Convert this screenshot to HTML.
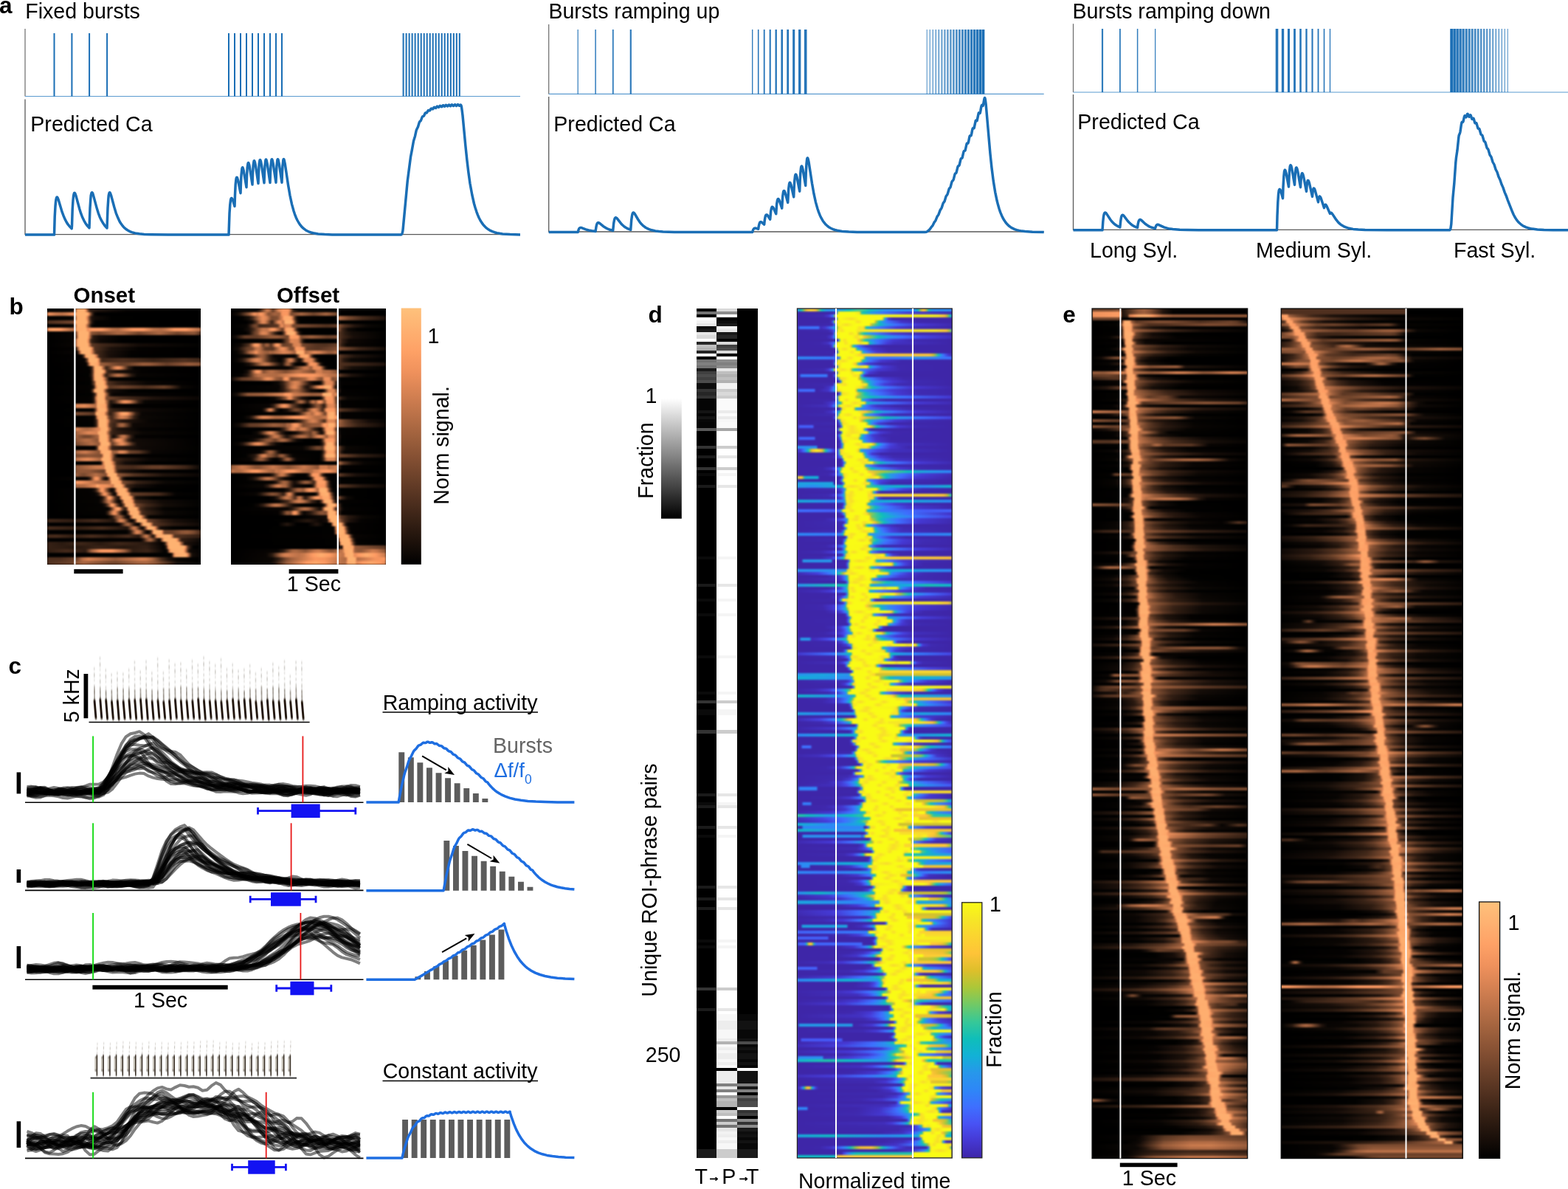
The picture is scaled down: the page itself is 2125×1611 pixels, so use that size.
<!DOCTYPE html>
<html lang="en"><head><meta charset="utf-8"><title>Figure</title>
<style>
html,body{margin:0;padding:0;background:#fff;}
body{width:2125px;height:1611px;overflow:hidden;position:relative;}
svg{display:block;position:absolute;left:0;top:0;font-family:'Liberation Sans', Arial, Helvetica, sans-serif;}
.hm{position:absolute;overflow:hidden;}
.hm i,.hm b{display:block;height:var(--h);background:linear-gradient(90deg,var(--g));}
.hm b{height:calc(var(--h) + 1px);}
</style></head><body>
<div class="hm" style="left:64px;top:418px;width:208px;height:347px;background:#000000"><div style="filter:blur(1.1px);--h:5px"><i style="--g:#000 0px,#060402 34px,#1f130c 36px,#3d2518 36px,#6a4029 38px,#e48a58 40px,#feac6d 40px,#feb271 50px,#fe9a62 52px,#5e3924 56px,#2d1b11 58px,#1c110b 68px,#040201 108px,#000 208px"></i><i style="--g:#f6955f 0px,#c97a4e 12px,#bf744a 20px,#cd7c4f 26px,#f8965f 36px,#af6a43 38px,#ef915c 38px,#feb070 40px,#feb271 54px,#fb9861 56px,#5b3723 60px,#291910 62px,#090503 64px,#000 68px,#000 208px"></i><b style="--g:#000 0px,#060402 34px,#22140d 36px,#412719 36px,#6f432b 38px,#ea8e5a 40px,#feae6f 40px,#feb271 52px,#fea66a 52px,#ec8f5b 54px,#50301f 58px,#22140d 60px,#120b07 64px,#010100 88px,#000 208px"></b><i style="--g:#4c2e1d 0px,#72452c 36px,#824f32 36px,#fe9a62 38px,#feb271 40px,#feb271 54px,#fea066 54px,#683f28 58px,#311e13 60px,#130b07 62px,#020201 66px,#000 208px"></i><i style="--g:#000 0px,#080503 34px,#24160e 36px,#452a1b 36px,#f1925d 40px,#feb171 40px,#feb070 52px,#fe9d64 52px,#44291a 58px,#100a06 60px,#020201 64px,#000 208px"></i><i style="--g:#f5945e 0px,#fea267 8px,#fe9a62 18px,#bc7248 32px,#b36c45 38px,#feaa6c 40px,#feb271 52px,#fe9e65 54px,#e88d5a 54px,#fe9a62 60px,#fe9b63 74px,#be7349 88px,#b36c45 96px,#fe9a62 116px,#fe9a62 130px,#c0754a 144px,#b36c45 154px,#c0754a 160px,#fc9961 172px,#fe9a62 188px,#b36c45 208px"></i><i style="--g:#000 0px,#080503 36px,#26170e 38px,#462a1b 38px,#f2935e 42px,#feb271 42px,#feb171 56px,#fe9d64 56px,#885335 60px,#71442b 70px,#a96641 96px,#a2623f 104px,#71442b 124px,#a96641 152px,#71442b 176px,#8c5536 198px,#7e4c31 202px,#50301f 208px"></i><i style="--g:#000 0px,#080503 36px,#26170e 38px,#462a1b 38px,#76472d 40px,#f2935e 42px,#feb171 42px,#feb271 54px,#fe9c63 56px,#623b26 60px,#2c1a11 62px,#140c08 70px,#010100 100px,#000 208px"></i><b style="--g:#000 0px,#060402 34px,#23150d 36px,#42281a 38px,#72452c 38px,#ec8f5b 40px,#feb070 42px,#feb271 54px,#fea469 54px,#ea8e5a 56px,#6e432a 58px,#342014 60px,#20140d 64px,#0e0805 72px,#000 102px,#000 208px"></b><i style="--g:#000 0px,#080503 34px,#23150d 36px,#44291a 38px,#72452c 38px,#ee905c 40px,#feb070 42px,#feb271 54px,#fea86b 56px,#f1925d 56px,#76472d 60px,#5a3723 60px,#402719 74px,#130b07 124px,#020201 208px"></i><i style="--g:#000 0px,#040201 36px,#2d1b11 40px,#523220 40px,#fe9d64 44px,#feb271 44px,#feb271 58px,#fe9a62 60px,#5e3924 64px,#523220 64px,#1c110b 86px,#040201 124px,#000 208px"></i><i style="--g:#000 0px,#080503 40px,#24160e 42px,#452a1b 42px,#f1925d 46px,#feb171 46px,#feb271 58px,#f8965f 60px,#7a4a2f 64px,#472b1b 66px,#1c110b 82px,#040201 114px,#000 208px"></i><i style="--g:#000 0px,#040201 46px,#160e09 48px,#2e1c12 48px,#543320 50px,#fe9e65 52px,#feb271 54px,#feb271 64px,#fea468 64px,#e78c59 66px,#4c2e1d 70px,#3b2417 70px,#180e09 84px,#020201 114px,#000 208px"></i><b style="--g:#000 0px,#050302 50px,#1a100a 52px,#342014 52px,#5d3824 54px,#d48152 56px,#fea469 56px,#feb271 58px,#feb271 68px,#fea167 68px,#e48a58 70px,#694028 72px,#4a2d1c 74px,#3e2618 74px,#4e2f1e 102px,#342014 144px,#4e2f1e 186px,#3b2417 208px"></b><i style="--g:#000 0px,#040201 52px,#130b07 54px,#28180f 54px,#7d4c30 56px,#f99760 58px,#feb271 60px,#fea86b 68px,#f1925d 70px,#9c5f3c 72px,#663e28 100px,#6e432a 110px,#9a5d3b 130px,#955a39 140px,#663e28 162px,#985c3b 192px,#875234 208px"></i><i style="--g:#000 0px,#020201 56px,#23150d 60px,#73462c 62px,#ef915c 64px,#feb070 64px,#feb271 72px,#fea469 74px,#ea8e5a 74px,#6e432a 78px,#342014 80px,#331f14 80px,#5a3723 84px,#dc8555 92px,#f5945e 96px,#d88353 100px,#311e13 110px,#050302 118px,#000 208px"></i><i style="--g:#000 0px,#040201 58px,#311e13 60px,#593622 62px,#fea167 64px,#feb271 66px,#feb271 76px,#fea066 76px,#e28957 78px,#694028 80px,#382216 82px,#1a100a 96px,#040201 128px,#000 208px"></i><i style="--g:#000 0px,#020201 56px,#24160e 60px,#74462d 62px,#f0915d 64px,#feb171 64px,#feb171 72px,#fe9d64 74px,#633c26 78px,#2e1c12 80px,#a56440 92px,#bc7248 96px,#a56440 102px,#2a1a10 114px,#080503 122px,#000 208px"></i><i style="--g:#000 0px,#040201 58px,#160e09 60px,#2e1c12 60px,#553321 62px,#fe9e65 64px,#feb271 66px,#feb271 74px,#fe9c63 76px,#42281a 82px,#100a06 84px,#020201 88px,#000 208px"></i><b style="--g:#000 0px,#020201 58px,#100a06 60px,#44291a 62px,#73462c 64px,#ef915c 66px,#feb070 66px,#feb271 76px,#fe9a62 78px,#5e3924 82px,#50301f 82px,#2d1b11 96px,#090503 136px,#000 208px"></b><i style="--g:#000 0px,#050302 60px,#1a100a 62px,#342014 64px,#5e3924 64px,#d68152 66px,#fea569 68px,#feb271 68px,#feb271 78px,#f5945e 80px,#5a3723 84px,#6f432b 102px,#4a2d1c 132px,#683f28 158px,#543320 166px,#0b0704 182px,#000 208px"></i><i style="--g:#000 0px,#040201 58px,#180e09 60px,#301d12 60px,#563421 62px,#fe9f65 64px,#feb271 66px,#feb271 70px,#feb271 76px,#fe9f65 76px,#653d27 80px,#2e1c12 82px,#1e120c 84px,#130b07 88px,#010100 114px,#000 208px"></i><i style="--g:#000 0px,#020201 60px,#27170f 64px,#7c4b30 66px,#f8965f 68px,#feb271 68px,#feb271 76px,#fea66a 78px,#ec8f5b 78px,#71442b 82px,#362115 84px,#150d08 86px,#090503 90px,#000 208px"></i><i style="--g:#000 0px,#050302 60px,#190f0a 62px,#321e13 64px,#5a3723 64px,#d17e50 66px,#fea267 68px,#feb271 68px,#feb271 76px,#f4945e 78px,#78492e 80px,#72452c 82px,#4e2f1e 100px,#1e120c 144px,#090503 208px"></i><i style="--g:#000 0px,#040201 60px,#150d08 62px,#2c1a11 64px,#50301f 64px,#fe9b63 68px,#feb271 68px,#feb271 78px,#fea066 78px,#472b1b 84px,#20140d 86px,#1e120c 86px,#452a1b 92px,#e08856 102px,#f6955f 106px,#d78253 112px,#321e13 124px,#080503 132px,#000 208px"></i><b style="--g:#000 0px,#000 38px,#d38051 38px,#e58b58 50px,#b46d45 66px,#fea569 68px,#feb271 68px,#fea86b 78px,#f1925d 80px,#76472d 82px,#3a2316 84px,#160e09 86px,#040201 90px,#000 208px"></b><i style="--g:#000 0px,#020201 62px,#24160e 64px,#74462d 66px,#f0915d 68px,#feb171 70px,#feb171 78px,#fe9d64 80px,#452a1b 84px,#342014 88px,#0f0906 128px,#010100 208px"></i><i style="--g:#000 0px,#000 38px,#79492f 38px,#5d3824 62px,#653d27 64px,#de8756 66px,#fea96b 66px,#feb271 68px,#fea96b 78px,#f2935e 78px,#77482e 82px,#3a2316 84px,#301d12 86px,#593622 90px,#fe9b63 100px,#fea96b 104px,#fe9e65 108px,#eb8e5b 110px,#804d31 116px,#372115 120px,#0a0604 128px,#000 208px"></i><i style="--g:#000 0px,#020201 62px,#0f0906 64px,#402719 66px,#6d422a 66px,#e88d5a 68px,#fead6e 70px,#feb271 80px,#fe9f65 80px,#663e28 84px,#4c2e1d 86px,#462a1b 88px,#c8794d 98px,#d88353 102px,#ba7148 108px,#331f14 118px,#0c0805 126px,#000 208px"></i><i style="--g:#000 0px,#040201 62px,#291910 66px,#7e4c31 68px,#fa9760 70px,#feb271 70px,#feb271 80px,#fea76a 80px,#ef915c 82px,#553321 86px,#27170f 102px,#080503 138px,#000 208px"></i><b style="--g:#000 0px,#020201 62px,#27170f 66px,#79492f 68px,#f5945e 70px,#feb271 70px,#feb271 80px,#fea267 80px,#e58b58 82px,#6a4029 84px,#4f301e 86px,#3b2417 90px,#3c2417 92px,#9b5e3c 98px,#a96641 102px,#975c3a 104px,#372115 112px,#0e0805 116px,#000 208px"></b><i style="--g:#000 0px,#000 38px,#e08856 38px,#b56e46 48px,#ab6842 54px,#b97047 60px,#ee905c 72px,#fead6e 72px,#feb271 80px,#fea86b 82px,#f1925d 82px,#76472d 86px,#3a2316 88px,#23150d 96px,#050302 126px,#000 208px"></i><i style="--g:#000 0px,#000 38px,#9f603d 38px,#e18857 56px,#d88353 68px,#eb8e5b 68px,#feaf6f 70px,#feb171 80px,#fe9d64 80px,#452a1b 86px,#321e13 90px,#0b0704 130px,#010100 208px"></i><i style="--g:#000 0px,#000 38px,#a56440 38px,#74462d 50px,#76472d 58px,#a56440 68px,#b56e46 70px,#f4945e 70px,#feb271 72px,#feb271 80px,#f4945e 82px,#563421 86px,#26170e 88px,#130b07 90px,#3b2417 94px,#b46d45 100px,#c8794d 104px,#b26b44 106px,#2c1a11 114px,#050302 120px,#000 208px"></i><i style="--g:#000 0px,#000 38px,#8a5335 38px,#b46d45 52px,#af6a43 58px,#8c5536 68px,#b26b44 70px,#f0915d 70px,#feb171 72px,#feb271 80px,#fe9a62 82px,#5e3924 86px,#623b26 86px,#ee905c 94px,#f99760 98px,#d88353 102px,#3a2316 110px,#120b07 116px,#000 208px"></i><i style="--g:#000 0px,#000 38px,#77482e 38px,#b36c45 60px,#955a39 70px,#be7349 72px,#fc9961 72px,#feb271 74px,#feb271 82px,#feb070 84px,#fe9b63 84px,#603a25 88px,#e08856 98px,#ec8f5b 102px,#c6784c 106px,#402719 116px,#120b07 122px,#000 208px"></i><b style="--g:#000 0px,#040201 64px,#190f0a 66px,#321e13 66px,#593622 68px,#fea167 70px,#feb271 72px,#fea86b 82px,#f0915d 82px,#74462d 86px,#382216 88px,#331f14 90px,#0f0906 128px,#010100 208px"></b><i style="--g:#000 0px,#000 38px,#a1623e 38px,#c2754b 46px,#cc7b4f 52px,#8a5335 70px,#a4633f 72px,#e48a58 72px,#feab6d 74px,#feb271 84px,#feb070 84px,#fe9d64 86px,#b06b44 88px,#9c5f3c 88px,#a2623f 94px,#dc8555 98px,#e28957 102px,#c97a4e 106px,#6e432a 112px,#5a3723 124px,#0a0604 142px,#000 208px"></i><i style="--g:#000 0px,#000 38px,#79492f 38px,#8e5637 56px,#7d4c30 74px,#9a5d3b 74px,#da8454 76px,#fea76a 76px,#feb271 78px,#feb271 84px,#f1925d 86px,#76472d 90px,#382216 92px,#160e09 94px,#040201 96px,#000 208px"></i><i style="--g:#000 0px,#000 38px,#b56e46 38px,#dc8555 48px,#e78c59 54px,#dd8655 60px,#ab6842 72px,#fea066 74px,#feb271 76px,#feb271 84px,#fe9c63 86px,#623b26 90px,#4c2e1d 92px,#2d1b11 104px,#0a0604 138px,#000 208px"></i><i style="--g:#000 0px,#010100 70px,#0b0704 72px,#331f14 74px,#5b3723 74px,#d27f51 76px,#fea468 78px,#feb271 78px,#feb271 86px,#f8965f 88px,#7a4a2f 92px,#3c2417 94px,#140c08 106px,#010100 134px,#000 208px"></i><b style="--g:#000 0px,#000 38px,#8c5536 38px,#ca7b4e 66px,#d17e50 76px,#db8454 78px,#fea76b 78px,#feb271 80px,#feb271 88px,#f5945e 90px,#583522 94px,#543320 94px,#462a1b 116px,#653d27 142px,#663e28 154px,#3c2417 188px,#0a0604 208px"></b><i style="--g:#000 0px,#000 38px,#824f32 38px,#905737 44px,#8e5637 58px,#643d27 76px,#74462d 78px,#f0915d 80px,#feb171 80px,#feb070 90px,#fe9d64 90px,#623b26 94px,#2d1b11 96px,#1d110b 102px,#040201 130px,#000 208px"></i><i style="--g:#000 0px,#000 38px,#a2623f 38px,#7e4c31 46px,#78492e 50px,#b86f47 66px,#7e4c31 80px,#fa9760 82px,#feb271 84px,#feb271 92px,#fea468 94px,#e78c59 94px,#925938 96px,#8b5436 98px,#523220 118px,#1f130c 158px,#090503 208px"></i><i style="--g:#000 0px,#080503 54px,#2e1c12 58px,#e58b58 64px,#fb9861 66px,#f99760 68px,#d78253 70px,#362115 76px,#0a0604 80px,#2a1a10 82px,#814e32 84px,#fc9961 86px,#feb271 86px,#feb271 96px,#fea066 96px,#683f28 100px,#301d12 102px,#130b07 104px,#020201 108px,#000 208px"></i><i style="--g:#000 0px,#000 38px,#fa9760 38px,#f1925d 46px,#ac6843 70px,#a66540 80px,#b36c45 86px,#f1925d 86px,#feb171 88px,#feaa6c 98px,#f4945e 100px,#78492e 102px,#362115 122px,#0c0805 160px,#020201 208px"></i><i style="--g:#000 0px,#000 38px,#aa6742 38px,#b26b44 50px,#ec8f5b 66px,#fe9b63 66px,#fea96b 68px,#f8965f 72px,#ef915c 80px,#c7784d 90px,#f0915d 90px,#feb171 92px,#feb171 100px,#fe9e65 102px,#643d27 106px,#382216 108px,#190f0a 120px,#040201 150px,#000 208px"></i><b style="--g:#000 0px,#050302 60px,#180e09 64px,#342014 66px,#643d27 68px,#e08856 72px,#fe9f65 74px,#f6955f 76px,#342014 84px,#180e09 86px,#060402 88px,#20140d 90px,#3e2618 92px,#6c4129 92px,#e68b59 94px,#fead6e 96px,#feb271 106px,#fea167 106px,#e48a58 108px,#6a4029 110px,#321e13 112px,#130b07 114px,#020201 118px,#000 208px"></b><i style="--g:#000 0px,#050302 64px,#160e09 68px,#321e13 70px,#e88d5a 76px,#fb9861 78px,#e88d5a 80px,#321e13 88px,#0e0805 90px,#100a06 92px,#42281a 94px,#71442b 94px,#eb8e5b 96px,#feaf6f 98px,#feb171 108px,#fe9d64 110px,#633c26 114px,#44291a 152px,#050302 174px,#010100 208px"></i><i style="--g:#000 0px,#050302 70px,#160e09 74px,#331f14 76px,#633c26 78px,#e18857 82px,#fa9760 82px,#fea267 84px,#fe9b63 86px,#50301f 92px,#1a100a 96px,#190f0a 96px,#321e13 98px,#5b3723 98px,#d17e50 100px,#fea368 102px,#feb271 102px,#feb271 112px,#feb070 112px,#fe9b63 114px,#42281a 118px,#1d110b 120px,#160e09 122px,#010100 144px,#000 208px"></i><i style="--g:#000 0px,#060402 70px,#24160e 74px,#bd7249 82px,#d27f51 84px,#b86f47 86px,#412719 92px,#20140d 94px,#060402 98px,#22140d 100px,#412719 100px,#6f432b 102px,#ea8e5a 104px,#feae6f 104px,#feaa6c 114px,#f4945e 116px,#78492e 118px,#44291a 120px,#372115 126px,#120b07 154px,#020201 208px"></i><i style="--g:#000 0px,#050302 74px,#180e09 78px,#342014 80px,#643d27 82px,#e08856 86px,#f99760 86px,#fea066 88px,#f99760 90px,#4b2d1d 96px,#0f0906 100px,#3e2618 102px,#6c4129 104px,#e68b59 106px,#fead6e 106px,#feb271 116px,#fea066 116px,#e28957 118px,#8d5636 120px,#77482e 120px,#412719 134px,#150d08 158px,#020201 208px"></i><i style="--g:#000 0px,#060402 82px,#1a100a 84px,#3b2417 86px,#eb8e5b 92px,#fe9c63 94px,#fea66a 96px,#f99760 98px,#603a25 102px,#24160e 106px,#74462d 108px,#f0915d 110px,#feb070 110px,#feb271 120px,#fea469 122px,#e88d5a 122px,#4e2f1e 126px,#291910 134px,#060402 158px,#000 208px"></i><b style="--g:#000 0px,#050302 78px,#150d08 80px,#301d12 82px,#ca7b4e 88px,#ef915c 90px,#f2935e 92px,#ef915c 92px,#cc7b4f 94px,#5b3723 98px,#311e13 100px,#150d08 102px,#060402 106px,#1f130c 108px,#3d2518 108px,#694028 110px,#e48a58 112px,#feab6d 112px,#feb271 122px,#fea267 124px,#e58b58 124px,#4b2d1d 128px,#362115 134px,#0c0805 160px,#010100 208px"></b><i style="--g:#000 0px,#010100 82px,#1f130c 88px,#865134 94px,#a0613e 98px,#955a39 100px,#1f130c 106px,#0a0604 110px,#2d1b11 112px,#543320 112px,#fe9d64 116px,#feb271 116px,#feb271 126px,#fea468 128px,#e78c59 128px,#6d422a 132px,#331f14 134px,#060402 138px,#000 208px"></i><i style="--g:#3e2618 0px,#2c1a11 36px,#42281a 66px,#23150d 90px,#402719 92px,#d38051 98px,#e58b58 100px,#bf744a 104px,#2d1b11 110px,#050302 114px,#140c08 116px,#2a1a10 118px,#824f32 120px,#fe9a62 122px,#feb271 122px,#feb271 132px,#feb070 132px,#fe9b63 134px,#845033 136px,#6d422a 138px,#553321 144px,#321e13 156px,#180e09 174px,#060402 208px"></i><i style="--g:#000 0px,#040201 96px,#22140d 100px,#8e5637 106px,#aa6742 110px,#8d5636 112px,#22140d 118px,#060402 122px,#0a0604 124px,#301d12 126px,#563421 126px,#fea066 130px,#feb271 130px,#feb271 138px,#f99760 140px,#5b3723 144px,#583522 144px,#291910 170px,#0e0805 208px"></i><i style="--g:#452a1b 0px,#301d12 42px,#472b1b 74px,#1f130c 108px,#3b2417 110px,#bf744a 116px,#cd7c4f 118px,#bc7248 120px,#27170f 126px,#0b0704 130px,#130b07 130px,#4b2d1d 132px,#fa9760 136px,#feb271 136px,#feb271 144px,#fe9a62 146px,#5f3a25 150px,#2c1a11 152px,#140c08 154px,#020201 170px,#000 208px"></i><b style="--g:#000 0px,#020201 108px,#1e120c 112px,#3e2618 114px,#d17e50 120px,#e28957 122px,#be7349 126px,#2d1b11 132px,#050302 136px,#140c08 138px,#291910 140px,#7e4c31 142px,#fa9760 144px,#feb271 144px,#feb271 154px,#f5945e 156px,#79492f 158px,#6a4029 160px,#683f28 170px,#8b5436 182px,#925938 190px,#7c4b30 198px,#472b1b 208px"></b><i style="--g:#44291a 0px,#472b1b 12px,#301d12 34px,#482c1c 60px,#301d12 86px,#462a1b 110px,#28180f 124px,#3e2618 126px,#b06b44 132px,#ca7b4e 134px,#b56e46 136px,#321e13 142px,#1f130c 144px,#694028 146px,#e48a58 148px,#feab6d 150px,#feb271 166px,#fe9f65 168px,#653d27 172px,#563421 172px,#301d12 208px"></i><i style="--g:#000 0px,#040201 126px,#23150d 130px,#945939 136px,#b06b44 140px,#925938 142px,#301d12 148px,#0a0604 152px,#301d12 154px,#583522 154px,#fea066 158px,#feb271 158px,#feb271 174px,#fc9961 176px,#5d3824 180px,#301d12 182px,#0c0805 208px"></i><i style="--g:#372115 0px,#2a1a10 20px,#3e2618 46px,#2a1a10 72px,#3e2618 98px,#28180f 136px,#040201 156px,#2d1b11 160px,#523220 160px,#fe9d64 164px,#feb271 164px,#feb271 178px,#fea066 180px,#e18857 180px,#663e28 184px,#1e120c 186px,#040201 208px"></i><i style="--g:#372115 0px,#26170e 38px,#382216 68px,#26170e 104px,#331f14 134px,#040201 158px,#140c08 160px,#4b2d1d 162px,#fa9760 164px,#feb271 166px,#feb271 186px,#fea066 186px,#e18857 188px,#663e28 190px,#1e120c 194px,#020201 198px,#000 208px"></i><i style="--g:#301d12 0px,#44291a 26px,#2d1b11 52px,#a2623f 60px,#ee905c 70px,#fe9a62 74px,#fe9a62 88px,#a86541 104px,#301d12 116px,#3b2417 136px,#020201 160px,#0f0906 162px,#3e2618 164px,#6c4129 164px,#e68b59 166px,#fead6e 168px,#feb271 184px,#fe9b63 186px,#603a25 190px,#1c110b 192px,#0f0906 194px,#040201 208px"></i><b style="--g:#000 0px,#020201 166px,#0e0805 168px,#3c2417 170px,#683f28 170px,#e28957 172px,#feab6d 174px,#feb271 188px,#fea86b 188px,#f1925d 190px,#543320 194px,#160e09 196px,#040201 208px"></b><i style="--g:#50301f 0px,#50301f 18px,#6d422a 40px,#bd7249 48px,#da8454 56px,#985c3b 92px,#d78253 128px,#d17e50 134px,#af6a43 142px,#4f301e 154px,#1c110b 164px,#060402 176px,#000 208px"></i><i style="--g:#4e2f1e 0px,#6a4029 34px,#965b3a 42px,#a86541 50px,#76472d 84px,#73462c 94px,#a2623f 122px,#a96641 134px,#905737 146px,#160e09 176px,#010100 208px"></i></div></div><div class="hm" style="left:313.4px;top:418px;width:209.2px;height:347px;background:#000000"><div style="filter:blur(1.1px);--h:5px"><i style="--g:#000 1px,#090503 34px,#301d12 39px,#c0754a 48px,#c6784c 50px,#b66f46 52px,#623b26 57px,#de8756 65px,#f99760 71px,#f6955f 78px,#ca7b4e 80px,#5e3924 83px,#2a1a10 85px,#060402 92px,#000 209px"></i><i style="--g:#040201 1px,#100a06 8px,#291910 13px,#965b3a 25px,#ec8f5b 31px,#f0915d 33px,#da8454 36px,#fa9760 39px,#fe9a62 41px,#ec8f5b 44px,#814e32 51px,#a2623f 59px,#9a5d3b 66px,#f8965f 69px,#fc9961 76px,#ec8f5b 78px,#875234 81px,#76472d 82px,#a56440 95px,#6e432a 112px,#a56440 129px,#6e432a 144px,#000 145px,#000 209px"></i><b style="--g:#000 1px,#010100 15px,#160e09 24px,#3e2618 29px,#c2754b 38px,#ef915c 43px,#dc8555 48px,#78492e 55px,#804d31 63px,#e18857 70px,#fe9e65 71px,#feaa6c 73px,#feaa6c 80px,#fe9e65 82px,#e58b58 83px,#6c4129 86px,#301d12 88px,#100a06 90px,#040201 92px,#000 144px,#b97047 145px,#7a4a2f 159px,#482c1c 177px,#1d110b 209px"></b><i style="--g:#000 1px,#000 21px,#120b07 29px,#4a2d1c 34px,#d27f51 41px,#e88d5a 44px,#d17e50 47px,#4a2d1c 54px,#362115 56px,#ce7d50 63px,#eb8e5b 65px,#e78c59 68px,#b36c45 71px,#fea469 73px,#feb271 74px,#feb271 82px,#fc9961 84px,#76472d 87px,#331f14 89px,#120b07 91px,#020201 94px,#000 209px"></i><i style="--g:#000 1px,#080503 21px,#190f0a 24px,#633c26 30px,#76472d 33px,#6e432a 35px,#3d2518 39px,#583522 63px,#6c4129 64px,#d17e50 67px,#ee905c 69px,#e88d5a 70px,#ba7148 72px,#dc8555 74px,#da8454 80px,#b46d45 82px,#74462d 84px,#74462d 96px,#4f301e 130px,#5d3824 144px,#8c5536 145px,#50301f 154px,#22140d 168px,#0c0805 184px,#020201 209px"></i><i style="--g:#000 1px,#020201 16px,#150d08 24px,#3e2618 30px,#b86f47 41px,#c8794d 44px,#c2754b 49px,#fe9c63 55px,#f99760 59px,#623b26 70px,#77482e 71px,#fc9961 74px,#feaa6c 76px,#feaa6c 82px,#fb9861 84px,#603a25 88px,#291910 90px,#0e0805 92px,#010100 95px,#000 144px,#a86541 145px,#653d27 148px,#3c2417 151px,#0f0906 159px,#010100 172px,#000 209px"></i><i style="--g:#000 1px,#010100 20px,#120b07 25px,#683f28 32px,#824f32 36px,#c7784d 40px,#e08856 43px,#d78253 48px,#311e13 60px,#130b07 64px,#090503 68px,#382216 71px,#875234 73px,#eb8e5b 75px,#fea569 76px,#feb171 77px,#feb271 85px,#fe9d64 87px,#5e3924 91px,#27170f 93px,#0c0805 95px,#010100 98px,#000 144px,#5b3723 145px,#2a1a10 155px,#150d08 164px,#010100 209px"></i><i style="--g:#050302 1px,#160e09 7px,#653d27 19px,#663e28 35px,#975c3a 54px,#955a39 63px,#6e432a 77px,#eb8e5b 80px,#fe9f65 81px,#fe9a62 91px,#7d4c30 95px,#9a5d3b 109px,#683f28 131px,#77482e 144px,#5f3a25 145px,#3c2417 152px,#180e09 166px,#010100 209px"></i><b style="--g:#000 1px,#060402 67px,#190f0a 70px,#71442b 76px,#814e32 78px,#c7784d 80px,#e08856 82px,#d88353 91px,#c6784c 92px,#311e13 97px,#120b07 99px,#020201 102px,#000 144px,#74462d 145px,#321e13 151px,#0e0805 160px,#000 209px"></b><i style="--g:#010100 1px,#0e0805 13px,#4e2f1e 24px,#6c4129 26px,#e58b58 31px,#fe9e65 33px,#fb9861 37px,#633c26 44px,#955a39 47px,#9e5f3d 49px,#8c5536 51px,#553321 54px,#5b3723 55px,#fb9861 61px,#fe9d64 64px,#de8756 66px,#6a4029 70px,#663e28 71px,#77482e 82px,#d68152 85px,#de8756 92px,#cd7c4f 94px,#73462c 97px,#553321 116px,#51311f 128px,#683f28 144px,#875234 145px,#482c1c 148px,#311e13 150px,#0b0704 157px,#000 209px"></i><i style="--g:#020201 1px,#140c08 10px,#683f28 22px,#79492f 29px,#b36c45 33px,#c97a4e 36px,#b86f47 40px,#603a25 46px,#553321 57px,#e48a58 67px,#f1925d 71px,#cd7c4f 75px,#7c4b30 80px,#7e4c31 84px,#834f33 85px,#da8454 87px,#f8965f 88px,#fe9d64 89px,#f5945e 98px,#6a4029 102px,#623b26 104px,#553321 118px,#7e4c31 144px,#8a5335 145px,#3b2417 174px,#150d08 209px"></i><i style="--g:#010100 1px,#060402 8px,#23150d 15px,#4e2f1e 19px,#a56440 25px,#d27f51 31px,#fa9760 34px,#c6784c 38px,#9f603d 46px,#965b3a 51px,#ae6943 53px,#a1623e 56px,#e18857 71px,#d27f51 78px,#a2623f 87px,#fea066 89px,#feb271 90px,#feae6f 98px,#fa9760 99px,#af6a43 101px,#e18857 113px,#d27f51 120px,#985c3b 132px,#985c3b 137px,#b56e46 144px,#000 145px,#000 209px"></i><i style="--g:#000 1px,#0c0805 25px,#2e1c12 30px,#834f33 37px,#9e5f3d 41px,#8d5636 45px,#2e1c12 53px,#090503 59px,#050302 86px,#150d08 88px,#44291a 90px,#f1925d 94px,#fea468 95px,#feaa6c 103px,#fb9861 105px,#603a25 109px,#291910 111px,#0e0805 113px,#010100 116px,#000 144px,#633c26 145px,#402719 154px,#20140d 168px,#050302 209px"></i><b style="--g:#010100 1px,#080503 8px,#22140d 15px,#42281a 19px,#c6784c 30px,#e18857 35px,#ca7b4e 40px,#523220 50px,#26170e 55px,#020201 66px,#0c0805 69px,#2c1a11 72px,#bc7248 78px,#da8454 81px,#c2754b 83px,#311e13 89px,#0b0704 93px,#3e2618 96px,#d17e50 100px,#e68b59 101px,#eb8e5b 109px,#cd7c4f 111px,#311e13 116px,#120b07 118px,#020201 121px,#000 144px,#643d27 145px,#28180f 153px,#0c0805 163px,#000 209px"></b><i style="--g:#000 1px,#020201 16px,#180e09 25px,#3a2316 30px,#b06b44 41px,#c97a4e 46px,#b86f47 51px,#42281a 62px,#180e09 68px,#20140d 70px,#8a5335 75px,#a1623e 77px,#955a39 79px,#3d2518 83px,#120b07 86px,#020201 89px,#020201 97px,#0a0604 99px,#26170e 101px,#603a25 103px,#db8454 106px,#fb9861 108px,#f5945e 115px,#c2754b 117px,#382216 121px,#150d08 123px,#020201 126px,#000 144px,#51311f 145px,#1e120c 209px"></i><i style="--g:#000 1px,#090503 77px,#291910 84px,#c4774c 99px,#c7784d 103px,#945939 109px,#d38051 111px,#ec8f5b 113px,#e68b59 121px,#d27f51 122px,#342014 127px,#130b07 129px,#020201 132px,#000 144px,#5e3924 145px,#301d12 154px,#160e09 164px,#010100 209px"></i><i style="--g:#000 1px,#010100 16px,#120b07 22px,#402719 26px,#e18857 33px,#fe9b63 35px,#f4945e 39px,#814e32 44px,#a96641 50px,#b97047 55px,#7c4b30 74px,#b66f46 89px,#ba7148 93px,#7c4b30 111px,#804d31 113px,#cd7c4f 116px,#d27f51 122px,#b46d45 125px,#b36c45 133px,#814e32 144px,#000 145px,#000 209px"></i><i style="--g:#000 1px,#050302 14px,#1d110b 21px,#402719 25px,#9b5e3c 32px,#be7349 37px,#af6a43 62px,#fe9a62 94px,#fb9861 112px,#bd7249 134px,#af6a43 144px,#663e28 145px,#402719 152px,#1e120c 163px,#080503 183px,#010100 209px"></i><i style="--g:#0f0906 1px,#633c26 15px,#76472d 28px,#9b5e3c 40px,#e28957 47px,#ef915c 50px,#dd8655 55px,#9a5d3b 61px,#834f33 68px,#905737 69px,#f8965f 73px,#fe9a62 76px,#d88353 78px,#814e32 81px,#78492e 82px,#ab6842 101px,#d88353 105px,#eb8e5b 109px,#da8454 113px,#905737 119px,#7e4c31 123px,#8e5637 124px,#d88353 126px,#ec8f5b 127px,#f0915d 132px,#e48a58 134px,#875234 137px,#7d4c30 138px,#905737 144px,#020201 145px,#000 209px"></i><b style="--g:#000 1px,#000 53px,#0c0805 64px,#362115 71px,#bd7249 82px,#dd8655 87px,#c97a4e 92px,#27170f 106px,#0a0604 112px,#020201 119px,#0c0805 121px,#2a1a10 123px,#d48152 128px,#e78c59 130px,#e18857 137px,#b26b44 139px,#331f14 143px,#130b07 145px,#050302 147px,#000 209px"></b><i style="--g:#000 1px,#090503 65px,#372115 72px,#cd7c4f 82px,#e58b58 86px,#de8756 88px,#be7349 91px,#342014 100px,#1c110b 104px,#4e2f1e 109px,#d48152 117px,#fe9a62 121px,#fe9a62 125px,#fead6e 127px,#fead6e 134px,#fc9961 136px,#3d2518 141px,#0c0805 144px,#000 153px,#000 209px"></i><i style="--g:#000 1px,#060402 63px,#27170f 71px,#975c3a 83px,#a96641 87px,#985c3b 92px,#331f14 103px,#130b07 108px,#010100 122px,#0e0805 125px,#2e1c12 127px,#b66f46 131px,#e08856 133px,#e08856 139px,#d48152 140px,#2c1a11 146px,#040201 150px,#000 209px"></i><i style="--g:#050302 1px,#160e09 8px,#8c5536 23px,#9c5f3c 43px,#de8756 70px,#fe9b63 74px,#fe9c63 80px,#d17e50 85px,#965b3a 110px,#a2623f 122px,#b36c45 123px,#e68b59 124px,#fea469 125px,#feb271 126px,#feb271 135px,#fea76b 136px,#f2935e 137px,#d07e50 138px,#dc8555 144px,#090503 145px,#050302 146px,#000 209px"></i><i style="--g:#000 1px,#000 49px,#0b0704 59px,#3e2618 67px,#8d5636 74px,#e48a58 78px,#ef915c 80px,#db8454 82px,#955a39 85px,#452a1b 92px,#1c110b 97px,#010100 107px,#010100 119px,#090503 121px,#23150d 123px,#5d3824 125px,#dc8555 128px,#f99760 129px,#fe9d64 130px,#f99760 138px,#331f14 144px,#593622 145px,#24160e 151px,#0c0805 158px,#000 209px"></i><i style="--g:#000 1px,#040201 80px,#20140d 85px,#975c3a 92px,#ab6842 95px,#9c5f3c 97px,#26170e 104px,#b06b44 110px,#be7349 112px,#955a39 115px,#e58b58 118px,#fe9a62 120px,#e78c59 123px,#7d4c30 127px,#ea8e5a 130px,#fa9760 131px,#f8965f 138px,#ca7b4e 140px,#5e3924 143px,#291910 145px,#040201 149px,#000 209px"></i><b style="--g:#000 1px,#0a0604 52px,#321e13 58px,#dc8555 68px,#fc9961 72px,#e18857 76px,#663e28 83px,#1a100a 93px,#060402 99px,#020201 103px,#130b07 107px,#8b5436 117px,#804d31 120px,#291910 126px,#3a2316 127px,#c7784d 131px,#dd8655 132px,#e48a58 138px,#d78253 140px,#291910 146px,#040201 150px,#000 209px"></b><i style="--g:#000 1px,#060402 42px,#331f14 46px,#c3764b 51px,#e58b58 53px,#d88353 55px,#4a2d1c 60px,#20140d 62px,#010100 67px,#180e09 76px,#694028 85px,#78492e 88px,#6e432a 92px,#2a1a10 100px,#553321 103px,#c6784c 109px,#e88d5a 113px,#c7784d 117px,#462a1b 124px,#4b2d1d 125px,#ef915c 129px,#fe9d64 130px,#fc9961 140px,#c2754b 142px,#74462d 144px,#653d27 145px,#472b1b 153px,#190f0a 177px,#060402 209px"></i><i style="--g:#000 1px,#060402 86px,#27170f 92px,#c0754a 103px,#cd7c4f 106px,#ae6943 110px,#e88d5a 115px,#f2935e 117px,#d68152 121px,#653d27 128px,#f5945e 131px,#feaa6c 132px,#feb271 139px,#f99760 141px,#79492f 144px,#372115 146px,#140c08 148px,#050302 150px,#000 209px"></i><i style="--g:#000 1px,#020201 17px,#150d08 25px,#412719 30px,#be7349 38px,#e28957 43px,#e08856 48px,#b46d45 60px,#b46d45 68px,#fe9a62 86px,#fe9a62 98px,#b97047 114px,#b06b44 119px,#c4774c 129px,#d07e50 130px,#fe9a62 131px,#feb271 133px,#feb271 139px,#fb9861 141px,#fe9d64 144px,#51311f 145px,#20140d 147px,#050302 150px,#000 209px"></i><i style="--g:#000 1px,#060402 84px,#362115 94px,#c0754a 106px,#da8454 111px,#c3764b 116px,#44291a 127px,#d27f51 131px,#e58b58 133px,#e08856 140px,#b26b44 142px,#6e432a 144px,#af6a43 145px,#6e432a 154px,#382216 167px,#130b07 188px,#060402 209px"></i><b style="--g:#010100 1px,#120b07 11px,#623b26 26px,#694028 37px,#9c5f3c 58px,#885335 73px,#ae6943 77px,#ac6843 80px,#e18857 83px,#fe9a62 86px,#f6955f 90px,#78492e 98px,#985c3b 110px,#985c3b 121px,#fe9a62 126px,#fea267 128px,#fe9a62 130px,#f0915d 131px,#feab6d 132px,#feb271 133px,#fead6e 140px,#fb9861 141px,#74462d 144px,#a2623f 145px,#663e28 157px,#3a2316 172px,#0e0805 209px"></b><i style="--g:#000 1px,#000 58px,#0b0704 66px,#3b2417 72px,#d17e50 81px,#ea8e5a 85px,#b26b44 91px,#d27f51 95px,#cd7c4f 100px,#311e13 114px,#0b0704 121px,#1e120c 123px,#362115 124px,#fe9b63 129px,#fea76b 131px,#fe9e65 138px,#ea8e5a 139px,#72452c 142px,#331f14 144px,#130b07 146px,#050302 148px,#000 209px"></i><i style="--g:#000 1px,#000 26px,#0c0805 35px,#301d12 40px,#cd7c4f 50px,#e88d5a 54px,#ca7b4e 58px,#2e1c12 68px,#090503 74px,#010100 80px,#130b07 88px,#71442b 101px,#74462d 104px,#633c26 108px,#985c3b 111px,#a1623e 113px,#8d5636 115px,#2d1b11 120px,#0e0805 123px,#2e1c12 125px,#4e2f1e 126px,#de8756 129px,#fea267 130px,#feb271 131px,#feb271 138px,#fe9a62 140px,#7c4b30 143px,#382216 145px,#140c08 147px,#050302 149px,#000 209px"></i><i style="--g:#000 1px,#0a0604 43px,#372115 49px,#b36c45 57px,#cc7b4f 60px,#b97047 64px,#3e2618 72px,#1c110b 76px,#472b1b 82px,#a2623f 91px,#b86f47 95px,#af6a43 100px,#683f28 108px,#bf744a 115px,#dc8555 119px,#d48152 124px,#955a39 130px,#ce7d50 132px,#e48a58 134px,#e28957 139px,#d68152 140px,#291910 146px,#040201 150px,#000 209px"></i><i style="--g:#000 1px,#010100 21px,#0f0906 30px,#2d1b11 36px,#8c5536 48px,#945939 53px,#683f28 60px,#a66540 67px,#af6a43 70px,#9e5f3d 74px,#321e13 84px,#0e0805 90px,#000 100px,#020201 119px,#0b0704 121px,#291910 123px,#694028 125px,#ea8e5a 128px,#fe9d64 129px,#fe9b63 139px,#e88d5a 140px,#372115 145px,#140c08 147px,#020201 150px,#000 209px"></i><i style="--g:#010100 1px,#090503 10px,#22140d 16px,#5a3723 22px,#db8454 32px,#f1925d 37px,#d38051 42px,#3c2417 54px,#0c0805 62px,#000 73px,#010100 120px,#22140d 124px,#5f3a25 126px,#ef915c 129px,#fea76b 130px,#feb271 131px,#feb271 137px,#fe9c63 139px,#3e2618 144px,#160e09 146px,#020201 149px,#000 209px"></i><b style="--g:#000 1px,#080503 97px,#20140d 104px,#6d422a 116px,#6f432b 120px,#5f3a25 124px,#74462d 125px,#da8454 127px,#fe9f65 128px,#feb271 130px,#feb271 139px,#fea468 140px,#ea8e5a 141px,#683f28 144px,#a1623e 145px,#643d27 147px,#311e13 150px,#0b0704 156px,#000 209px"></b><i style="--g:#000 1px,#050302 39px,#26170e 44px,#955a39 51px,#a66540 54px,#8c5536 57px,#1f130c 64px,#040201 69px,#020201 121px,#0f0906 123px,#321e13 125px,#50301f 126px,#fa9760 130px,#fea469 131px,#fea66a 138px,#f8965f 140px,#5f3a25 144px,#ac6843 145px,#7a4a2f 146px,#3d2518 148px,#1f130c 150px,#080503 154px,#000 209px"></i><i style="--g:#000 1px,#020201 20px,#24160e 32px,#462a1b 35px,#bd7249 41px,#dc8555 44px,#cd7c4f 47px,#985c3b 50px,#8d5636 54px,#4e2f1e 62px,#905737 67px,#965b3a 70px,#26170e 79px,#060402 84px,#020201 120px,#0c0805 122px,#2e1c12 124px,#79492f 126px,#e28957 128px,#fea76a 129px,#feb271 130px,#feb271 139px,#fead6e 140px,#f99760 141px,#6f432b 144px,#79492f 145px,#342014 174px,#140c08 209px"></i><i style="--g:#000 1px,#090503 26px,#20140d 30px,#875234 38px,#965b3a 41px,#865134 44px,#180e09 53px,#040201 58px,#040201 63px,#24160e 68px,#8c5536 74px,#a2623f 77px,#945939 79px,#2c1a11 85px,#090503 89px,#010100 120px,#1f130c 124px,#523220 126px,#c0754a 129px,#e18857 131px,#db8454 140px,#ac6843 142px,#321e13 146px,#050302 150px,#000 209px"></i><i style="--g:#000 1px,#000 144px,#ba7148 145px,#5d3824 153px,#23150d 164px,#080503 181px,#010100 209px"></i><b style="--g:#975c3a 1px,#cc7b4f 15px,#c3764b 20px,#8b5436 33px,#885335 38px,#cc7b4f 57px,#875234 78px,#cc7b4f 99px,#8a5335 118px,#d17e50 121px,#d27f51 130px,#b36c45 132px,#ca7b4e 143px,#c8794d 144px,#7e4c31 145px,#472b1b 146px,#291910 147px,#040201 151px,#000 209px"></b><i style="--g:#c2754b 1px,#af6a43 6px,#af6a43 12px,#fc9961 29px,#fe9a62 36px,#b46d45 52px,#ac6843 58px,#d27f51 62px,#be7349 64px,#fa9760 76px,#fe9a62 84px,#bc7248 98px,#ac6843 106px,#b66f46 110px,#d88353 113px,#da8454 117px,#f8965f 123px,#fe9a62 132px,#c3764b 144px,#000 145px,#000 209px"></i><i style="--g:#000 1px,#090503 52px,#2a1a10 57px,#ba7148 66px,#ce7d50 69px,#bc7248 72px,#462a1b 79px,#190f0a 83px,#020201 89px,#020201 101px,#0c0805 103px,#2a1a10 105px,#6a4029 107px,#e58b58 110px,#fb9861 111px,#fe9a62 112px,#fc9961 118px,#d07e50 120px,#603a25 123px,#2a1a10 125px,#040201 129px,#000 144px,#653d27 145px,#372115 156px,#190f0a 170px,#020201 209px"></i><i style="--g:#000 1px,#020201 20px,#150d08 29px,#3b2417 35px,#b36c45 46px,#c6784c 50px,#b26b44 55px,#3a2316 66px,#0f0906 73px,#010100 82px,#020201 105px,#0e0805 107px,#2e1c12 109px,#4b2d1d 110px,#ef915c 114px,#fe9d64 115px,#fe9b63 123px,#ea8e5a 124px,#3b2417 129px,#150d08 131px,#020201 134px,#000 209px"></i><i style="--g:#000 1px,#060402 56px,#23150d 61px,#925938 69px,#a96641 72px,#925938 76px,#3a2316 82px,#130b07 86px,#2a1a10 90px,#824f32 98px,#965b3a 101px,#8d5636 105px,#42281a 112px,#452a1b 113px,#f0915d 117px,#fea167 118px,#fe9e65 127px,#eb8e5b 128px,#362115 133px,#130b07 135px,#050302 137px,#000 209px"></i><i style="--g:#000 1px,#0b0704 44px,#311e13 50px,#c2754b 61px,#d68152 65px,#b36c45 70px,#af6a43 74px,#311e13 82px,#0e0805 86px,#010100 107px,#100a06 110px,#362115 112px,#d27f51 116px,#fe9a62 118px,#f99760 127px,#c4774c 129px,#563421 132px,#24160e 134px,#020201 138px,#000 144px,#5d3824 145px,#24160e 176px,#0e0805 209px"></i><b style="--g:#000 1px,#050302 71px,#23150d 78px,#a0613e 90px,#a96641 93px,#975c3a 98px,#e08856 103px,#fe9b63 107px,#f4945e 112px,#a96641 118px,#de8756 119px,#fea468 120px,#feb271 121px,#feb271 128px,#feb070 129px,#fe9b63 130px,#78492e 133px,#362115 135px,#130b07 137px,#020201 140px,#000 209px"></b><i style="--g:#000 1px,#090503 34px,#1f130c 40px,#71442b 51px,#875234 56px,#78492e 62px,#331f14 71px,#3d2518 72px,#d07e50 77px,#ea8e5a 79px,#d68152 81px,#2d1b11 87px,#0a0604 90px,#010100 112px,#090503 114px,#23150d 116px,#623b26 118px,#f4945e 121px,#feaa6c 122px,#feb271 131px,#fe9a62 133px,#7d4c30 136px,#3a2316 138px,#140c08 140px,#020201 143px,#000 209px"></i><i style="--g:#000 1px,#000 50px,#0b0704 58px,#2d1b11 63px,#ba7148 73px,#ca7b4e 76px,#b46d45 80px,#4b2d1d 87px,#b36c45 91px,#c7784d 93px,#c0754a 94px,#b26b44 95px,#462a1b 99px,#27170f 101px,#593622 105px,#e58b58 113px,#fe9d64 116px,#fa9760 120px,#e28957 122px,#fea066 124px,#fea76b 125px,#fea76b 132px,#f5945e 134px,#3d2518 139px,#160e09 141px,#060402 143px,#040201 144px,#a86541 145px,#72452c 147px,#402719 150px,#100a06 157px,#010100 169px,#000 209px"></i><i style="--g:#000 1px,#000 53px,#0b0704 65px,#44291a 77px,#b97047 87px,#d78253 92px,#be7349 98px,#362115 110px,#090503 119px,#3a2316 122px,#8c5536 124px,#f6955f 126px,#feb070 127px,#feb271 135px,#fe9f65 136px,#7d4c30 139px,#382216 141px,#140c08 143px,#050302 145px,#000 209px"></i><i style="--g:#000 1px,#010100 29px,#0e0805 37px,#321e13 44px,#b36c45 57px,#c4774c 61px,#b46d45 66px,#342014 79px,#120b07 85px,#010100 95px,#010100 122px,#120b07 125px,#3a2316 127px,#5d3824 128px,#ec8f5b 131px,#fea76a 132px,#feb271 133px,#feb271 140px,#fe9a62 142px,#804d31 145px,#3b2417 147px,#150d08 149px,#020201 152px,#000 209px"></i><i style="--g:#000 1px,#090503 76px,#28180f 83px,#a1623e 95px,#ba7148 100px,#a86541 105px,#3e2618 115px,#150d08 121px,#3a2316 123px,#8c5536 125px,#f8965f 127px,#feb070 128px,#feb271 136px,#fead6e 137px,#f8965f 138px,#6d422a 141px,#1c110b 144px,#875234 145px,#5e3924 146px,#2d1b11 148px,#0f0906 151px,#050302 154px,#000 209px"></i><b style="--g:#000 1px,#040201 64px,#26170e 69px,#925938 76px,#814e32 81px,#dd8655 84px,#fe9a62 86px,#f4945e 88px,#e08856 89px,#342014 95px,#090503 99px,#27170f 108px,#804d31 120px,#8b5436 124px,#7c4b30 129px,#9c5f3c 130px,#fe9f65 132px,#feb271 133px,#feae6f 141px,#f8965f 142px,#6e432a 145px,#2e1c12 147px,#0f0906 149px,#040201 151px,#000 209px"></b><i style="--g:#000 1px,#000 93px,#120b07 129px,#150d08 130px,#c7784d 131px,#fb9861 132px,#feb271 133px,#feb271 143px,#fea76b 144px,#ea8e5a 145px,#623b26 148px,#291910 159px,#0b0704 177px,#010100 209px"></i><i style="--g:#000 1px,#010100 80px,#26170e 104px,#090503 122px,#180e09 131px,#a56440 132px,#ab6842 133px,#fe9d64 135px,#feb271 136px,#feb271 144px,#fea167 145px,#834f33 148px,#42281a 154px,#1e120c 161px,#050302 176px,#000 209px"></i><i style="--g:#000 1px,#000 64px,#24160e 76px,#000 89px,#000 104px,#22140d 116px,#010100 127px,#020201 133px,#0f0906 136px,#975c3a 137px,#fe9c63 139px,#feb271 140px,#feb271 149px,#fe9d64 150px,#78492e 153px,#342014 155px,#120b07 157px,#050302 159px,#000 209px"></i><i style="--g:#000 1px,#020201 137px,#0e0805 140px,#885335 141px,#f4945e 143px,#feaf6f 144px,#feb271 152px,#fe9d64 153px,#78492e 156px,#342014 158px,#120b07 160px,#050302 162px,#000 209px"></i><b style="--g:#000 1px,#020201 138px,#090503 140px,#623b26 141px,#fc9961 144px,#feb271 145px,#feb070 153px,#fb9861 154px,#4c2e1d 158px,#1d110b 160px,#040201 163px,#000 209px"></b><i style="--g:#000 1px,#040201 141px,#140c08 144px,#b66f46 145px,#ee905c 146px,#feac6d 147px,#feb070 158px,#fe9a62 159px,#4f301e 163px,#1e120c 165px,#090503 167px,#000 209px"></i><i style="--g:#000 1px,#020201 142px,#160e09 146px,#cc7b4f 147px,#fe9b63 148px,#feb271 149px,#feb271 160px,#fe9f65 161px,#7d4c30 164px,#372115 166px,#130b07 168px,#050302 170px,#000 209px"></i><i style="--g:#000 1px,#020201 143px,#150d08 147px,#c0754a 148px,#f6955f 149px,#feb070 150px,#feb271 161px,#fea66a 162px,#e68b59 163px,#885335 165px,#3e2618 167px,#160e09 169px,#060402 171px,#000 209px"></i><i style="--g:#000 1px,#000 144px,#1d110b 145px,#1a100a 151px,#da8454 152px,#fea267 153px,#feb271 154px,#fea96b 165px,#ee905c 166px,#945939 168px,#5d3824 209px"></i><i style="--g:#000 1px,#090503 63px,#2a1a10 71px,#965b3a 81px,#a96641 84px,#ab6842 88px,#8a5335 101px,#c7784d 114px,#d07e50 119px,#8e5637 134px,#8b5436 138px,#ca7b4e 152px,#fea96b 154px,#feb271 164px,#fea267 165px,#e08856 166px,#af6a43 167px,#9b5e3c 168px,#8c5536 172px,#8e5637 177px,#d07e50 192px,#c2754b 198px,#8c5536 209px"></i><b style="--g:#000 1px,#090503 48px,#2a1a10 56px,#b56e46 68px,#d17e50 72px,#d78253 76px,#bd7249 92px,#ca7b4e 99px,#fe9b63 111px,#fead6e 122px,#fe9b63 134px,#ca7b4e 146px,#be7349 153px,#e88d5a 154px,#feaa6c 155px,#feb271 165px,#ee905c 167px,#e88d5a 168px,#fe9a62 173px,#fead6e 184px,#fe9b63 196px,#c8794d 209px"></b><i style="--g:#000 1px,#0b0704 56px,#2a1a10 64px,#7c4b30 75px,#9f603d 82px,#fa9760 114px,#f5945e 127px,#ab6842 156px,#fe9e65 158px,#feb271 159px,#feb271 168px,#fea267 169px,#b26b44 171px,#f2935e 195px,#fa9760 209px"></i><i style="--g:#000 1px,#0b0704 53px,#24160e 60px,#985c3b 76px,#fe9a62 103px,#fea76a 115px,#fc9961 127px,#c4774c 143px,#b66f46 152px,#b97047 156px,#ec8f5b 157px,#feab6d 158px,#feb271 168px,#fea267 169px,#e08856 170px,#fe9a62 179px,#fea76a 190px,#fe9a62 202px,#e78c59 209px"></i></div></div><div class="hm" style="left:944.2px;top:418px;width:82.5px;height:1151px;background:#000"><div style="--h:4px"><i style="--g:#000 0px 27.5px,#d9d9d9 27.5px 55px,#000 55px 82.5px"></i><i style="--g:#737373 0px 27.5px,#8c8c8c 27.5px 55px,#000 55px 82.5px"></i><i style="--g:#000 0px 27.5px,#fff 27.5px 55px,#000 55px 82.5px"></i><i style="--g:#fff 0px 27.5px,#000 27.5px 55px,#000 55px 82.5px"></i><i style="--g:#f2f2f2 0px 27.5px,#0d0d0d 27.5px 55px,#000 55px 82.5px"></i><i style="--g:#e6e6e6 0px 27.5px,#191919 27.5px 55px,#000 55px 82.5px"></i><i style="--g:#0d0d0d 0px 27.5px,#f2f2f2 27.5px 55px,#000 55px 82.5px"></i><i style="--g:#1a1a1a 0px 27.5px,#e6e6e6 27.5px 55px,#000 55px 82.5px"></i><i style="--g:#e6e6e6 0px 27.5px,#191919 27.5px 55px,#000 55px 82.5px"></i><b style="--g:#d9d9d9 0px 27.5px,#262626 27.5px 55px,#000 55px 82.5px"></b><i style="--g:#fff 0px 27.5px,#000 27.5px 55px,#000 55px 82.5px"></i><i style="--g:#262626 0px 27.5px,#d9d9d9 27.5px 55px,#000 55px 82.5px"></i><i style="--g:#bfbfbf 0px 27.5px,#404040 27.5px 55px,#000 55px 82.5px"></i><i style="--g:#b2b2b2 0px 27.5px,#4d4d4d 27.5px 55px,#000 55px 82.5px"></i><i style="--g:#262626 0px 27.5px,#d9d9d9 27.5px 55px,#000 55px 82.5px"></i><i style="--g:#fff 0px 27.5px,#000 27.5px 55px,#000 55px 82.5px"></i><i style="--g:#000 0px 27.5px,#fff 27.5px 55px,#000 55px 82.5px"></i><i style="--g:#737373 0px 27.5px,#8c8c8c 27.5px 55px,#000 55px 82.5px"></i><i style="--g:#808080 0px 27.5px,#808080 27.5px 55px,#000 55px 82.5px"></i><i style="--g:#737373 0px 27.5px,#8c8c8c 27.5px 55px,#000 55px 82.5px"></i><i style="--g:#1a1a1a 0px 27.5px,#e6e6e6 27.5px 55px,#000 55px 82.5px"></i><i style="--g:#404040 0px 27.5px,#bfbfbf 27.5px 55px,#000 55px 82.5px"></i><i style="--g:#4c4c4c 0px 27.5px,#b2b2b2 27.5px 55px,#000 55px 82.5px"></i><i style="--g:#404040 0px 27.5px,#bfbfbf 27.5px 55px,#000 55px 82.5px"></i><i style="--g:#4c4c4c 0px 27.5px,#b2b2b2 27.5px 55px,#000 55px 82.5px"></i><i style="--g:#0d0d0d 0px 27.5px,#f2f2f2 27.5px 55px,#000 55px 82.5px"></i><i style="--g:#0d0d0d 0px 27.5px,#f2f2f2 27.5px 55px,#000 55px 82.5px"></i><i style="--g:#333 0px 27.5px,#ccc 27.5px 55px,#000 55px 82.5px"></i><b style="--g:#262626 0px 27.5px,#d9d9d9 27.5px 55px,#000 55px 82.5px"></b><i style="--g:#333 0px 27.5px,#ccc 27.5px 55px,#000 55px 82.5px"></i><i style="--g:#050505 0px 27.5px,#fafafa 27.5px 55px,#000 55px 82.5px"></i><i style="--g:#050505 0px 27.5px,#fafafa 27.5px 55px,#000 55px 82.5px"></i><i style="--g:#050505 0px 27.5px,#fafafa 27.5px 55px,#000 55px 82.5px"></i><i style="--g:#050505 0px 27.5px,#fafafa 27.5px 55px,#000 55px 82.5px"></i><i style="--g:#141414 0px 27.5px,#ebebeb 27.5px 55px,#000 55px 82.5px"></i><i style="--g:#050505 0px 27.5px,#fafafa 27.5px 55px,#000 55px 82.5px"></i><i style="--g:#141414 0px 27.5px,#ebebeb 27.5px 55px,#000 55px 82.5px"></i><i style="--g:#080808 0px 27.5px,#f7f7f7 27.5px 55px,#000 55px 82.5px"></i><i style="--g:#050505 0px 27.5px,#fafafa 27.5px 55px,#000 55px 82.5px"></i><i style="--g:#050505 0px 27.5px,#fafafa 27.5px 55px,#000 55px 82.5px"></i><i style="--g:#595959 0px 27.5px,#a6a6a6 27.5px 55px,#000 55px 82.5px"></i><i style="--g:#000 0px 27.5px,#fff 27.5px 55px,#000 55px 82.5px"></i><i style="--g:#000 0px 27.5px,#fff 27.5px 55px,#000 55px 82.5px"></i><i style="--g:#000 0px 27.5px,#fff 27.5px 55px,#000 55px 82.5px"></i><i style="--g:#000 0px 27.5px,#fff 27.5px 55px,#000 55px 82.5px"></i><i style="--g:#000 0px 27.5px,#fff 27.5px 55px,#000 55px 82.5px"></i><i style="--g:#333 0px 27.5px,#ccc 27.5px 55px,#000 55px 82.5px"></i><b style="--g:#000 0px 27.5px,#fff 27.5px 55px,#000 55px 82.5px"></b><i style="--g:#000 0px 27.5px,#fff 27.5px 55px,#000 55px 82.5px"></i><i style="--g:#1a1a1a 0px 27.5px,#e6e6e6 27.5px 55px,#000 55px 82.5px"></i><i style="--g:#000 0px 27.5px,#fff 27.5px 55px,#000 55px 82.5px"></i><i style="--g:#000 0px 27.5px,#fff 27.5px 55px,#000 55px 82.5px"></i><i style="--g:#000 0px 27.5px,#fff 27.5px 55px,#000 55px 82.5px"></i><i style="--g:#333 0px 27.5px,#ccc 27.5px 55px,#000 55px 82.5px"></i><i style="--g:#000 0px 27.5px,#fff 27.5px 55px,#000 55px 82.5px"></i><i style="--g:#0a0a0a 0px 27.5px,#f5f5f5 27.5px 55px,#000 55px 82.5px"></i><i style="--g:#000 0px 27.5px,#fff 27.5px 55px,#000 55px 82.5px"></i><i style="--g:#000 0px 27.5px,#fff 27.5px 55px,#000 55px 82.5px"></i><i style="--g:#000 0px 27.5px,#fff 27.5px 55px,#000 55px 82.5px"></i><i style="--g:#1a1a1a 0px 27.5px,#e6e6e6 27.5px 55px,#000 55px 82.5px"></i><i style="--g:#000 0px 27.5px,#fff 27.5px 55px,#000 55px 82.5px"></i><i style="--g:#000 0px 27.5px,#fff 27.5px 55px,#000 55px 82.5px"></i><i style="--g:#000 0px 27.5px,#fff 27.5px 55px,#000 55px 82.5px"></i><i style="--g:#000 0px 27.5px,#fff 27.5px 55px,#000 55px 82.5px"></i><i style="--g:#000 0px 27.5px,#fff 27.5px 55px,#000 55px 82.5px"></i><i style="--g:#000 0px 27.5px,#fff 27.5px 55px,#000 55px 82.5px"></i><b style="--g:#000 0px 27.5px,#fff 27.5px 55px,#000 55px 82.5px"></b><i style="--g:#000 0px 27.5px,#fff 27.5px 55px,#000 55px 82.5px"></i><i style="--g:#000 0px 27.5px,#fff 27.5px 55px,#000 55px 82.5px"></i><i style="--g:#000 0px 27.5px,#fff 27.5px 55px,#000 55px 82.5px"></i><i style="--g:#000 0px 27.5px,#fff 27.5px 55px,#000 55px 82.5px"></i><i style="--g:#000 0px 27.5px,#fff 27.5px 55px,#000 55px 82.5px"></i><i style="--g:#000 0px 27.5px,#fff 27.5px 55px,#000 55px 82.5px"></i><i style="--g:#000 0px 27.5px,#fff 27.5px 55px,#000 55px 82.5px"></i><i style="--g:#000 0px 27.5px,#fff 27.5px 55px,#000 55px 82.5px"></i><i style="--g:#000 0px 27.5px,#fff 27.5px 55px,#000 55px 82.5px"></i><i style="--g:#000 0px 27.5px,#fff 27.5px 55px,#000 55px 82.5px"></i><i style="--g:#000 0px 27.5px,#fff 27.5px 55px,#000 55px 82.5px"></i><i style="--g:#000 0px 27.5px,#fff 27.5px 55px,#000 55px 82.5px"></i><i style="--g:#000 0px 27.5px,#fff 27.5px 55px,#000 55px 82.5px"></i><i style="--g:#000 0px 27.5px,#fff 27.5px 55px,#000 55px 82.5px"></i><i style="--g:#000 0px 27.5px,#fff 27.5px 55px,#000 55px 82.5px"></i><i style="--g:#000 0px 27.5px,#fff 27.5px 55px,#000 55px 82.5px"></i><i style="--g:#0a0a0a 0px 27.5px,#f5f5f5 27.5px 55px,#000 55px 82.5px"></i><i style="--g:#000 0px 27.5px,#fff 27.5px 55px,#000 55px 82.5px"></i><b style="--g:#000 0px 27.5px,#fff 27.5px 55px,#000 55px 82.5px"></b><i style="--g:#000 0px 27.5px,#fff 27.5px 55px,#000 55px 82.5px"></i><i style="--g:#000 0px 27.5px,#fff 27.5px 55px,#000 55px 82.5px"></i><i style="--g:#000 0px 27.5px,#fff 27.5px 55px,#000 55px 82.5px"></i><i style="--g:#000 0px 27.5px,#fff 27.5px 55px,#000 55px 82.5px"></i><i style="--g:#000 0px 27.5px,#fff 27.5px 55px,#000 55px 82.5px"></i><i style="--g:#000 0px 27.5px,#fff 27.5px 55px,#000 55px 82.5px"></i><i style="--g:#1a1a1a 0px 27.5px,#e6e6e6 27.5px 55px,#000 55px 82.5px"></i><i style="--g:#000 0px 27.5px,#fff 27.5px 55px,#000 55px 82.5px"></i><i style="--g:#000 0px 27.5px,#fff 27.5px 55px,#000 55px 82.5px"></i><i style="--g:#000 0px 27.5px,#fff 27.5px 55px,#000 55px 82.5px"></i><i style="--g:#000 0px 27.5px,#fff 27.5px 55px,#000 55px 82.5px"></i><i style="--g:#0a0a0a 0px 27.5px,#f5f5f5 27.5px 55px,#000 55px 82.5px"></i><i style="--g:#000 0px 27.5px,#fff 27.5px 55px,#000 55px 82.5px"></i><i style="--g:#000 0px 27.5px,#fff 27.5px 55px,#000 55px 82.5px"></i><i style="--g:#000 0px 27.5px,#fff 27.5px 55px,#000 55px 82.5px"></i><i style="--g:#000 0px 27.5px,#fff 27.5px 55px,#000 55px 82.5px"></i><i style="--g:#0a0a0a 0px 27.5px,#f5f5f5 27.5px 55px,#000 55px 82.5px"></i><i style="--g:#000 0px 27.5px,#fff 27.5px 55px,#000 55px 82.5px"></i><b style="--g:#000 0px 27.5px,#fff 27.5px 55px,#000 55px 82.5px"></b><i style="--g:#000 0px 27.5px,#fff 27.5px 55px,#000 55px 82.5px"></i><i style="--g:#000 0px 27.5px,#fff 27.5px 55px,#000 55px 82.5px"></i><i style="--g:#000 0px 27.5px,#fff 27.5px 55px,#000 55px 82.5px"></i><i style="--g:#000 0px 27.5px,#fff 27.5px 55px,#000 55px 82.5px"></i><i style="--g:#000 0px 27.5px,#fff 27.5px 55px,#000 55px 82.5px"></i><i style="--g:#000 0px 27.5px,#fff 27.5px 55px,#000 55px 82.5px"></i><i style="--g:#000 0px 27.5px,#fff 27.5px 55px,#000 55px 82.5px"></i><i style="--g:#000 0px 27.5px,#fff 27.5px 55px,#000 55px 82.5px"></i><i style="--g:#000 0px 27.5px,#fff 27.5px 55px,#000 55px 82.5px"></i><i style="--g:#000 0px 27.5px,#fff 27.5px 55px,#000 55px 82.5px"></i><i style="--g:#000 0px 27.5px,#fff 27.5px 55px,#000 55px 82.5px"></i><i style="--g:#0a0a0a 0px 27.5px,#f5f5f5 27.5px 55px,#000 55px 82.5px"></i><i style="--g:#000 0px 27.5px,#fff 27.5px 55px,#000 55px 82.5px"></i><i style="--g:#000 0px 27.5px,#fff 27.5px 55px,#000 55px 82.5px"></i><i style="--g:#000 0px 27.5px,#fff 27.5px 55px,#000 55px 82.5px"></i><i style="--g:#000 0px 27.5px,#fff 27.5px 55px,#000 55px 82.5px"></i><i style="--g:#000 0px 27.5px,#fff 27.5px 55px,#000 55px 82.5px"></i><i style="--g:#000 0px 27.5px,#fff 27.5px 55px,#000 55px 82.5px"></i><b style="--g:#000 0px 27.5px,#fff 27.5px 55px,#000 55px 82.5px"></b><i style="--g:#000 0px 27.5px,#fff 27.5px 55px,#000 55px 82.5px"></i><i style="--g:#000 0px 27.5px,#fff 27.5px 55px,#000 55px 82.5px"></i><i style="--g:#000 0px 27.5px,#fff 27.5px 55px,#000 55px 82.5px"></i><i style="--g:#000 0px 27.5px,#fff 27.5px 55px,#000 55px 82.5px"></i><i style="--g:#0a0a0a 0px 27.5px,#f5f5f5 27.5px 55px,#000 55px 82.5px"></i><i style="--g:#000 0px 27.5px,#fff 27.5px 55px,#000 55px 82.5px"></i><i style="--g:#000 0px 27.5px,#fff 27.5px 55px,#000 55px 82.5px"></i><i style="--g:#333 0px 27.5px,#ccc 27.5px 55px,#000 55px 82.5px"></i><i style="--g:#000 0px 27.5px,#fff 27.5px 55px,#000 55px 82.5px"></i><i style="--g:#000 0px 27.5px,#fff 27.5px 55px,#000 55px 82.5px"></i><i style="--g:#0a0a0a 0px 27.5px,#f5f5f5 27.5px 55px,#000 55px 82.5px"></i><i style="--g:#0a0a0a 0px 27.5px,#f5f5f5 27.5px 55px,#000 55px 82.5px"></i><i style="--g:#000 0px 27.5px,#fff 27.5px 55px,#000 55px 82.5px"></i><i style="--g:#000 0px 27.5px,#fff 27.5px 55px,#000 55px 82.5px"></i><i style="--g:#000 0px 27.5px,#fff 27.5px 55px,#000 55px 82.5px"></i><i style="--g:#000 0px 27.5px,#fff 27.5px 55px,#000 55px 82.5px"></i><i style="--g:#000 0px 27.5px,#fff 27.5px 55px,#000 55px 82.5px"></i><b style="--g:#333 0px 27.5px,#ccc 27.5px 55px,#000 55px 82.5px"></b><i style="--g:#000 0px 27.5px,#fff 27.5px 55px,#000 55px 82.5px"></i><i style="--g:#000 0px 27.5px,#fff 27.5px 55px,#000 55px 82.5px"></i><i style="--g:#000 0px 27.5px,#fff 27.5px 55px,#000 55px 82.5px"></i><i style="--g:#000 0px 27.5px,#fff 27.5px 55px,#000 55px 82.5px"></i><i style="--g:#000 0px 27.5px,#fff 27.5px 55px,#000 55px 82.5px"></i><i style="--g:#000 0px 27.5px,#fff 27.5px 55px,#000 55px 82.5px"></i><i style="--g:#000 0px 27.5px,#fff 27.5px 55px,#000 55px 82.5px"></i><i style="--g:#000 0px 27.5px,#fff 27.5px 55px,#000 55px 82.5px"></i><i style="--g:#000 0px 27.5px,#fff 27.5px 55px,#000 55px 82.5px"></i><i style="--g:#000 0px 27.5px,#fff 27.5px 55px,#000 55px 82.5px"></i><i style="--g:#000 0px 27.5px,#fff 27.5px 55px,#000 55px 82.5px"></i><i style="--g:#000 0px 27.5px,#fff 27.5px 55px,#000 55px 82.5px"></i><i style="--g:#000 0px 27.5px,#fff 27.5px 55px,#000 55px 82.5px"></i><i style="--g:#000 0px 27.5px,#fff 27.5px 55px,#000 55px 82.5px"></i><i style="--g:#000 0px 27.5px,#fff 27.5px 55px,#000 55px 82.5px"></i><i style="--g:#000 0px 27.5px,#fff 27.5px 55px,#000 55px 82.5px"></i><i style="--g:#000 0px 27.5px,#fff 27.5px 55px,#000 55px 82.5px"></i><i style="--g:#000 0px 27.5px,#fff 27.5px 55px,#000 55px 82.5px"></i><b style="--g:#000 0px 27.5px,#fff 27.5px 55px,#000 55px 82.5px"></b><i style="--g:#000 0px 27.5px,#fff 27.5px 55px,#000 55px 82.5px"></i><i style="--g:#1a1a1a 0px 27.5px,#e6e6e6 27.5px 55px,#000 55px 82.5px"></i><i style="--g:#000 0px 27.5px,#fff 27.5px 55px,#000 55px 82.5px"></i><i style="--g:#000 0px 27.5px,#fff 27.5px 55px,#000 55px 82.5px"></i><i style="--g:#0a0a0a 0px 27.5px,#f5f5f5 27.5px 55px,#000 55px 82.5px"></i><i style="--g:#1a1a1a 0px 27.5px,#e6e6e6 27.5px 55px,#000 55px 82.5px"></i><i style="--g:#000 0px 27.5px,#fff 27.5px 55px,#000 55px 82.5px"></i><i style="--g:#000 0px 27.5px,#fff 27.5px 55px,#000 55px 82.5px"></i><i style="--g:#000 0px 27.5px,#fff 27.5px 55px,#000 55px 82.5px"></i><i style="--g:#000 0px 27.5px,#fff 27.5px 55px,#000 55px 82.5px"></i><i style="--g:#000 0px 27.5px,#fff 27.5px 55px,#000 55px 82.5px"></i><i style="--g:#000 0px 27.5px,#fff 27.5px 55px,#000 55px 82.5px"></i><i style="--g:#1a1a1a 0px 27.5px,#e6e6e6 27.5px 55px,#000 55px 82.5px"></i><i style="--g:#000 0px 27.5px,#fff 27.5px 55px,#000 55px 82.5px"></i><i style="--g:#000 0px 27.5px,#fff 27.5px 55px,#000 55px 82.5px"></i><i style="--g:#0a0a0a 0px 27.5px,#f5f5f5 27.5px 55px,#000 55px 82.5px"></i><i style="--g:#000 0px 27.5px,#fff 27.5px 55px,#000 55px 82.5px"></i><i style="--g:#000 0px 27.5px,#fff 27.5px 55px,#000 55px 82.5px"></i><b style="--g:#000 0px 27.5px,#fff 27.5px 55px,#000 55px 82.5px"></b><i style="--g:#000 0px 27.5px,#fff 27.5px 55px,#000 55px 82.5px"></i><i style="--g:#000 0px 27.5px,#fff 27.5px 55px,#000 55px 82.5px"></i><i style="--g:#000 0px 27.5px,#fff 27.5px 55px,#000 55px 82.5px"></i><i style="--g:#000 0px 27.5px,#fff 27.5px 55px,#000 55px 82.5px"></i><i style="--g:#000 0px 27.5px,#fff 27.5px 55px,#000 55px 82.5px"></i><i style="--g:#000 0px 27.5px,#fff 27.5px 55px,#000 55px 82.5px"></i><i style="--g:#000 0px 27.5px,#fff 27.5px 55px,#000 55px 82.5px"></i><i style="--g:#000 0px 27.5px,#fff 27.5px 55px,#000 55px 82.5px"></i><i style="--g:#000 0px 27.5px,#fff 27.5px 55px,#000 55px 82.5px"></i><i style="--g:#000 0px 27.5px,#fff 27.5px 55px,#000 55px 82.5px"></i><i style="--g:#000 0px 27.5px,#fff 27.5px 55px,#000 55px 82.5px"></i><i style="--g:#000 0px 27.5px,#fff 27.5px 55px,#000 55px 82.5px"></i><i style="--g:#000 0px 27.5px,#fff 27.5px 55px,#000 55px 82.5px"></i><i style="--g:#1a1a1a 0px 27.5px,#e6e6e6 27.5px 55px,#000 55px 82.5px"></i><i style="--g:#000 0px 27.5px,#fff 27.5px 55px,#000 55px 82.5px"></i><i style="--g:#000 0px 27.5px,#fff 27.5px 55px,#000 55px 82.5px"></i><i style="--g:#000 0px 27.5px,#fff 27.5px 55px,#000 55px 82.5px"></i><i style="--g:#1a1a1a 0px 27.5px,#e6e6e6 27.5px 55px,#000 55px 82.5px"></i><b style="--g:#000 0px 27.5px,#fff 27.5px 55px,#000 55px 82.5px"></b><i style="--g:#000 0px 27.5px,#fff 27.5px 55px,#000 55px 82.5px"></i><i style="--g:#1a1a1a 0px 27.5px,#e6e6e6 27.5px 55px,#000 55px 82.5px"></i><i style="--g:#000 0px 27.5px,#fff 27.5px 55px,#000 55px 82.5px"></i><i style="--g:#000 0px 27.5px,#fff 27.5px 55px,#000 55px 82.5px"></i><i style="--g:#000 0px 27.5px,#fff 27.5px 55px,#000 55px 82.5px"></i><i style="--g:#000 0px 27.5px,#fff 27.5px 55px,#000 55px 82.5px"></i><i style="--g:#000 0px 27.5px,#fff 27.5px 55px,#000 55px 82.5px"></i><i style="--g:#000 0px 27.5px,#fff 27.5px 55px,#000 55px 82.5px"></i><i style="--g:#000 0px 27.5px,#fff 27.5px 55px,#000 55px 82.5px"></i><i style="--g:#000 0px 27.5px,#fff 27.5px 55px,#000 55px 82.5px"></i><i style="--g:#000 0px 27.5px,#fff 27.5px 55px,#000 55px 82.5px"></i><i style="--g:#000 0px 27.5px,#fff 27.5px 55px,#000 55px 82.5px"></i><i style="--g:#0a0a0a 0px 27.5px,#f5f5f5 27.5px 55px,#000 55px 82.5px"></i><i style="--g:#000 0px 27.5px,#fff 27.5px 55px,#000 55px 82.5px"></i><i style="--g:#0a0a0a 0px 27.5px,#f5f5f5 27.5px 55px,#000 55px 82.5px"></i><i style="--g:#000 0px 27.5px,#fff 27.5px 55px,#000 55px 82.5px"></i><i style="--g:#000 0px 27.5px,#fff 27.5px 55px,#000 55px 82.5px"></i><i style="--g:#000 0px 27.5px,#fff 27.5px 55px,#000 55px 82.5px"></i><b style="--g:#000 0px 27.5px,#fff 27.5px 55px,#000 55px 82.5px"></b><i style="--g:#000 0px 27.5px,#fff 27.5px 55px,#000 55px 82.5px"></i><i style="--g:#000 0px 27.5px,#fff 27.5px 55px,#000 55px 82.5px"></i><i style="--g:#000 0px 27.5px,#fff 27.5px 55px,#000 55px 82.5px"></i><i style="--g:#000 0px 27.5px,#fff 27.5px 55px,#000 55px 82.5px"></i><i style="--g:#000 0px 27.5px,#fff 27.5px 55px,#000 55px 82.5px"></i><i style="--g:#000 0px 27.5px,#fff 27.5px 55px,#000 55px 82.5px"></i><i style="--g:#000 0px 27.5px,#fff 27.5px 55px,#000 55px 82.5px"></i><i style="--g:#000 0px 27.5px,#fff 27.5px 55px,#000 55px 82.5px"></i><i style="--g:#000 0px 27.5px,#fff 27.5px 55px,#000 55px 82.5px"></i><i style="--g:#333 0px 27.5px,#ccc 27.5px 55px,#000 55px 82.5px"></i><i style="--g:#000 0px 27.5px,#fff 27.5px 55px,#000 55px 82.5px"></i><i style="--g:#000 0px 27.5px,#fff 27.5px 55px,#000 55px 82.5px"></i><i style="--g:#000 0px 27.5px,#fff 27.5px 55px,#000 55px 82.5px"></i><i style="--g:#000 0px 27.5px,#fff 27.5px 55px,#000 55px 82.5px"></i><i style="--g:#000 0px 27.5px,#fff 27.5px 55px,#000 55px 82.5px"></i><i style="--g:#000 0px 27.5px,#fff 27.5px 55px,#000 55px 82.5px"></i><i style="--g:#1a1a1a 0px 27.5px,#e6e6e6 27.5px 55px,#000 55px 82.5px"></i><i style="--g:#000 0px 27.5px,#fff 27.5px 55px,#000 55px 82.5px"></i><b style="--g:#000 0px 27.5px,#f7f7f7 27.5px 55px,#080808 55px 82.5px"></b><i style="--g:#000 0px 27.5px,#f7f7f7 27.5px 55px,#080808 55px 82.5px"></i><i style="--g:#000 0px 27.5px,#ededed 27.5px 55px,#121212 55px 82.5px"></i><i style="--g:#000 0px 27.5px,#ededed 27.5px 55px,#121212 55px 82.5px"></i><i style="--g:#000 0px 27.5px,#ededed 27.5px 55px,#121212 55px 82.5px"></i><i style="--g:#000 0px 27.5px,#f7f7f7 27.5px 55px,#080808 55px 82.5px"></i><i style="--g:#000 0px 27.5px,#f7f7f7 27.5px 55px,#080808 55px 82.5px"></i><i style="--g:#000 0px 27.5px,#f7f7f7 27.5px 55px,#080808 55px 82.5px"></i><i style="--g:#000 0px 27.5px,#ededed 27.5px 55px,#121212 55px 82.5px"></i><i style="--g:#000 0px 27.5px,#b2b2b2 27.5px 55px,#4c4c4c 55px 82.5px"></i><i style="--g:#000 0px 27.5px,#f7f7f7 27.5px 55px,#080808 55px 82.5px"></i><i style="--g:#000 0px 27.5px,#ededed 27.5px 55px,#121212 55px 82.5px"></i><i style="--g:#000 0px 27.5px,#f7f7f7 27.5px 55px,#080808 55px 82.5px"></i><i style="--g:#000 0px 27.5px,#ededed 27.5px 55px,#121212 55px 82.5px"></i><i style="--g:#000 0px 27.5px,#ededed 27.5px 55px,#121212 55px 82.5px"></i><i style="--g:#000 0px 27.5px,#f7f7f7 27.5px 55px,#080808 55px 82.5px"></i><i style="--g:#000 0px 27.5px,#ededed 27.5px 55px,#121212 55px 82.5px"></i><i style="--g:#000 0px 27.5px,#f7f7f7 27.5px 55px,#080808 55px 82.5px"></i><i style="--g:#000 0px 27.5px,#000 27.5px 55px,#fff 55px 82.5px"></i><b style="--g:#000 0px 27.5px,#ededed 27.5px 55px,#121212 55px 82.5px"></b><i style="--g:#000 0px 27.5px,#ededed 27.5px 55px,#121212 55px 82.5px"></i><i style="--g:#000 0px 27.5px,#ededed 27.5px 55px,#121212 55px 82.5px"></i><i style="--g:#000 0px 27.5px,#ededed 27.5px 55px,#121212 55px 82.5px"></i><i style="--g:#000 0px 27.5px,#808080 27.5px 55px,#808080 55px 82.5px"></i><i style="--g:#000 0px 27.5px,#e6e6e6 27.5px 55px,#1a1a1a 55px 82.5px"></i><i style="--g:#000 0px 27.5px,#808080 27.5px 55px,#808080 55px 82.5px"></i><i style="--g:#000 0px 27.5px,#fff 27.5px 55px,#000 55px 82.5px"></i><i style="--g:#000 0px 27.5px,#999 27.5px 55px,#666 55px 82.5px"></i><i style="--g:#000 0px 27.5px,#bfbfbf 27.5px 55px,#404040 55px 82.5px"></i><i style="--g:#000 0px 27.5px,#b2b2b2 27.5px 55px,#4c4c4c 55px 82.5px"></i><i style="--g:#000 0px 27.5px,#b2b2b2 27.5px 55px,#4c4c4c 55px 82.5px"></i><i style="--g:#000 0px 27.5px,#000 27.5px 55px,#fff 55px 82.5px"></i><i style="--g:#000 0px 27.5px,#ccc 27.5px 55px,#333 55px 82.5px"></i><i style="--g:#000 0px 27.5px,#bfbfbf 27.5px 55px,#404040 55px 82.5px"></i><i style="--g:#000 0px 27.5px,#fff 27.5px 55px,#000 55px 82.5px"></i><i style="--g:#000 0px 27.5px,#737373 27.5px 55px,#8c8c8c 55px 82.5px"></i><i style="--g:#000 0px 27.5px,#ccc 27.5px 55px,#333 55px 82.5px"></i><i style="--g:#000 0px 27.5px,#737373 27.5px 55px,#8c8c8c 55px 82.5px"></i><b style="--g:#000 0px 27.5px,#e6e6e6 27.5px 55px,#1a1a1a 55px 82.5px"></b><i style="--g:#000 0px 27.5px,#f2f2f2 27.5px 55px,#0d0d0d 55px 82.5px"></i><i style="--g:#000 0px 27.5px,#ededed 27.5px 55px,#121212 55px 82.5px"></i><i style="--g:#000 0px 27.5px,#f7f7f7 27.5px 55px,#080808 55px 82.5px"></i><i style="--g:#000 0px 27.5px,#ededed 27.5px 55px,#121212 55px 82.5px"></i><i style="--g:#000 0px 27.5px,#f7f7f7 27.5px 55px,#080808 55px 82.5px"></i><i style="--g:#000 0px 27.5px,#f7f7f7 27.5px 55px,#080808 55px 82.5px"></i><i style="--g:#1a1a1a 0px 27.5px,#ccc 27.5px 55px,#1a1a1a 55px 82.5px"></i><i style="--g:#1a1a1a 0px 27.5px,#ccc 27.5px 55px,#1a1a1a 55px 82.5px"></i><i style="--g:#1a1a1a 0px 27.5px,#ccc 27.5px 55px,#1a1a1a 55px 82.5px"></i></div></div><div class="hm" style="left:1080.4px;top:418px;width:209.9px;height:1151px;background:#3e26a8"><div style="filter:blur(0.8px);--h:4px"><i style="--g:#20a0e4 0px,#0fbebb 5px,#35c799 7px,#97c849 10px,#d7c02d 12px,#fcc337 14px,#f9dc2c 19px,#fec338 25px,#bac535 28px,#35c799 32px,#0fbeb9 34px,#2698ea 41px,#2797eb 54px,#0fbeb9 71px,#45c88b 83px,#41c88e 88px,#0fbeb9 98px,#2992ef 120px,#2a90f0 157px,#219ee5 161px,#0fbdbc 164px,#29c5a3 165px,#bac535 168px,#f3c234 170px,#fec338 172px,#e3c02e 174px,#c0c433 175px,#0fbeb9 179px,#2894ed 184px,#2a8ff1 209px"></i><i style="--g:#3e26a8 0px,#3e26a8 49px,#3f2bb2 51px,#4756f5 53px,#2991ef 54px,#52c980 55px,#fcd231 56px,#f9fb15 57px,#f9fb15 78px,#f6e327 85px,#d2c12f 86px,#2ec69f 87px,#0fbdbc 91px,#2797eb 101px,#3d71fe 117px,#453ad5 150px,#3f2ab0 209px"></i><i style="--g:#3e26a8 0px,#3f2ab0 36px,#4437d1 43px,#3f6cfd 48px,#2896ec 50px,#4bc986 51px,#fec736 52px,#f9fa16 53px,#f9fb15 54px,#f8f51a 180px,#f7eb22 191px,#fec537 200px,#e1c02d 202px,#a4c73e 204px,#11bfb7 208px,#11b6cc 209px"></i><i style="--g:#3e26a8 0px,#3e26a8 50px,#412fbd 52px,#474beb 53px,#2b8ef1 54px,#74c963 55px,#f7eb22 56px,#f9fb15 57px,#f8dd2b 74px,#f9fb15 85px,#f9f718 115px,#fcd231 116px,#cfc12f 117px,#56c97d 118px,#10b8c7 119px,#3878fc 121px,#4437d1 124px,#3e26a8 130px,#3e26a8 209px"></i><i style="--g:#3e26a8 0px,#3e26a8 44px,#412fbd 47px,#4642df 48px,#3b73fd 49px,#11b2d4 50px,#a1c741 51px,#f9da2d 52px,#f9fb15 61px,#f9fb15 77px,#f8dd2b 83px,#f9fb15 89px,#f9fb15 104px,#f7ec21 105px,#e7c02f 106px,#aec638 107px,#5cc977 109px,#0fbebb 112px,#259ae9 116px,#3d71fe 123px,#4333c7 142px,#3f28ad 164px,#3e26a8 209px"></i><i style="--g:#3e26a8 0px,#3f28ad 48px,#4852f4 51px,#3084f8 52px,#10bbc1 53px,#b4c536 54px,#f8df2a 55px,#f9fb15 56px,#f8dd2b 67px,#f9fb15 78px,#f9fb15 98px,#f8dd2b 99px,#f1c233 100px,#bac535 101px,#56c97d 106px,#0fbcbe 112px,#2698ea 120px,#3e6fff 134px,#453ad5 162px,#3f2ab0 209px"></i><i style="--g:#3e26a8 0px,#3e26a8 2px,#3b73fd 3px,#3b73fd 30px,#402db8 31px,#4436ce 38px,#3b73fd 47px,#2895ec 50px,#10b7c8 52px,#22c3a9 53px,#a4c73e 55px,#e9c130 56px,#f8dd2b 57px,#f9fb15 64px,#f9fb15 80px,#f8dd2b 86px,#f7ec21 89px,#fec438 91px,#bdc434 92px,#56c97d 93px,#0fbeb9 94px,#2698ea 101px,#3e6fff 112px,#4538d3 135px,#3f2bb2 164px,#3e27ab 209px"></i><i style="--g:#3e26a8 0px,#3f28ad 42px,#4436ce 48px,#3d71fe 52px,#2896ec 53px,#41c88e 54px,#f8c336 55px,#f9fb15 56px,#f8dd2b 61px,#f9fa16 66px,#f9fb15 79px,#f6e725 82px,#f6e626 187px,#fec736 202px,#c6c332 206px,#60c974 209px"></i><i style="--g:#3e26a8 0px,#3e26a8 47px,#412fbd 49px,#4648e7 50px,#2c8bf3 51px,#59c97a 52px,#fbd530 53px,#f9fb15 58px,#f9fb15 69px,#f8dd2b 73px,#f9fb15 80px,#f9f718 81px,#fbd430 82px,#b4c536 84px,#4bc986 88px,#0fbcbe 92px,#2698ea 98px,#3d71fe 108px,#4538d3 130px,#3f2bb2 157px,#3e26a8 209px"></i><b style="--g:#3e26a8 0px,#3e27ab 40px,#4437d1 47px,#3f6cfd 50px,#12b1d6 52px,#60c974 53px,#cfc12f 54px,#f8f11d 55px,#f9fb15 58px,#f9fa16 75px,#f8dd2b 81px,#f9fb15 88px,#fec736 90px,#fac337 91px,#b4c536 97px,#37c897 106px,#0fbeb9 111px,#2698ea 123px,#3e6fff 143px,#4645e3 169px,#4130bf 209px"></b><i style="--g:#3e26a8 0px,#3e26a8 53px,#412fbd 55px,#4749e9 56px,#2b8cf3 57px,#63c971 58px,#f7e228 59px,#f9fb15 60px,#f8dd2b 65px,#f9fb15 69px,#f9fa16 81px,#fad92d 82px,#fcc337 84px,#b4c536 87px,#45c88b 91px,#0fbeb9 94px,#2894ed 101px,#3e6fff 110px,#4538d3 130px,#3f2bb2 156px,#3e26a8 209px"></i><i style="--g:#3e26a8 0px,#3e27ab 31px,#4231c2 42px,#455bf7 49px,#337efa 51px,#13b0d7 52px,#63c971 53px,#fac337 54px,#f8f51a 55px,#f9fb15 56px,#f9f817 63px,#f8dd2b 66px,#f9fb15 71px,#f9fb15 82px,#f8dd2b 86px,#f9f817 90px,#f9fb15 95px,#f6e824 96px,#c3c332 97px,#1dc2ad 98px,#0fbcbe 99px,#259ae9 103px,#3d71fe 110px,#453edb 122px,#4231c2 132px,#3e26a8 209px"></i><i style="--g:#3e26a8 0px,#3e27ab 44px,#4436ce 47px,#3779fb 49px,#18a9dc 50px,#60c974 51px,#fcc337 52px,#f9fa16 53px,#f9fb15 54px,#f9f817 69px,#f7ed20 72px,#fac337 73px,#bac535 74px,#2bc5a1 76px,#10bbc1 77px,#2698ea 79px,#406afd 83px,#4231c2 94px,#3e26a8 116px,#3e26a8 209px"></i><i style="--g:#3e26a8 0px,#3e26a8 51px,#4436ce 53px,#3a75fd 54px,#4bc986 55px,#f8f11d 56px,#f9fb15 57px,#f8dd2b 65px,#f9fa16 71px,#f9fb15 78px,#f9db2c 79px,#d7c02d 80px,#45c88b 81px,#0fbeb9 82px,#2698ea 85px,#3f6dfe 90px,#4333c7 103px,#3e27ab 123px,#3e26a8 209px"></i><i style="--g:#3e26a8 0px,#3e27ab 53px,#4130bf 54px,#4657f6 55px,#10b7c8 56px,#fcd231 57px,#f9f817 58px,#f9fb15 59px,#f9fb15 70px,#f8dd2b 75px,#f9fb15 79px,#f9fb15 85px,#edc131 87px,#78c960 88px,#0fbdbc 89px,#259ae9 91px,#3b73fd 96px,#4538d3 108px,#3f2ab0 125px,#3e26a8 209px"></i><i style="--g:#3e26a8 0px,#3e26a8 48px,#402cb5 50px,#4538d3 51px,#4167fc 52px,#15acda 53px,#bac535 54px,#f8f619 55px,#f9fb15 56px,#f9fa16 76px,#fcd231 86px,#fec537 179px,#e7c02f 183px,#b7c536 186px,#0fbdbc 192px,#2797eb 195px,#3f6cfd 199px,#4538d3 205px,#412fbd 209px"></i><i style="--g:#2c8bf4 0px,#3c72fe 57px,#2f85f7 58px,#97c849 59px,#f9fb15 60px,#f9fb15 66px,#f8dd2b 72px,#f9fb15 78px,#f9fb15 88px,#fccf33 90px,#d2c12f 91px,#0fbebb 93px,#229de6 94px,#2b8df2 95px,#3d71fe 123px,#2a8ff1 169px,#3e6fff 209px"></i><i style="--g:#3e26a8 0px,#3e26a8 48px,#453bd7 51px,#4265fb 52px,#1ea1e2 53px,#7fc95b 54px,#fad92d 55px,#f8f11d 56px,#f8dd2b 63px,#f9fb15 72px,#f9fb15 84px,#f8f51a 85px,#fcd231 86px,#d5c12e 87px,#63c971 88px,#22c3a9 89px,#0fbdbc 90px,#2895ec 94px,#3f6dfe 100px,#4436ce 114px,#3e27ab 142px,#3e26a8 209px"></i><i style="--g:#3e26a8 0px,#3e26a8 47px,#3f2ab0 49px,#4437d1 50px,#3c72fe 51px,#29c5a3 52px,#fad82e 53px,#f7ec21 54px,#f8de2a 57px,#f9fb15 61px,#f9fb15 74px,#f8c336 80px,#c3c332 81px,#1bc1af 83px,#2c8bf3 85px,#3f6cfd 87px,#4538d3 96px,#3f28ad 112px,#3e26a8 209px"></i><i style="--g:#3e26a8 0px,#3e26a8 50px,#3f2bb2 52px,#4657f6 54px,#2797eb 55px,#7fc95b 56px,#f7e228 57px,#f9fb15 61px,#f9fb15 78px,#f8dd2b 84px,#f9fb15 94px,#f6c235 96px,#97c849 97px,#27c4a5 98px,#10bbc0 99px,#2797eb 102px,#3d71fe 107px,#453bd7 117px,#3f28ad 138px,#3e26a8 209px"></i><i style="--g:#3e26a8 0px,#3f2ab0 37px,#4538d3 43px,#3f6dfe 47px,#19a8dd 49px,#4fc983 50px,#efc132 51px,#f7ee1f 52px,#f9fb15 53px,#f8dd2b 62px,#f9f817 71px,#fec637 73px,#aec638 74px,#4fc983 75px,#0fbeb9 78px,#2894ed 84px,#3c72fe 91px,#4437d1 110px,#3f28ad 141px,#3e26a8 209px"></i><i style="--g:#3e26a8 0px,#3e26a8 51px,#4130bf 53px,#4751f2 54px,#259ae9 55px,#abc739 56px,#f6e427 57px,#f9fb15 60px,#f9fb15 71px,#f8dd2b 75px,#f9fa16 79px,#f9fb15 86px,#efc132 88px,#89c853 89px,#1dc2ad 90px,#1ca5e0 91px,#4265fb 93px,#4538d3 98px,#3e27ab 113px,#3e26a8 209px"></i><i style="--g:#3e26a8 0px,#3e26a8 4px,#3878fc 5px,#3878fc 8px,#3878fc 41px,#3e26a8 42px,#3e26a8 47px,#4231c2 50px,#3b73fd 52px,#14aed9 53px,#90c84e 54px,#f9da2d 55px,#f9fb15 56px,#f9fb15 73px,#f8dd2b 79px,#f6e923 83px,#fad72f 84px,#dfbf2c 85px,#60c974 86px,#11b7ca 87px,#3f6dfe 89px,#4231c2 92px,#3e26a8 97px,#3e26a8 209px"></i><i style="--g:#3e26a8 0px,#3e26a8 50px,#402db8 53px,#4657f6 55px,#2c8bf3 56px,#1dc2ad 57px,#d5c12e 58px,#f6e327 59px,#f8dd2b 63px,#f9fb15 71px,#f9fb15 82px,#fad92d 83px,#d7c02d 84px,#b1c637 85px,#41c88e 88px,#10b9c5 91px,#2896ec 95px,#3e6fff 102px,#4437d1 118px,#3f28ad 145px,#3e26a8 209px"></i><i style="--g:#3e26a8 0px,#3e26a8 55px,#412eba 57px,#453edb 58px,#3e6fff 59px,#11b4d1 60px,#c0c433 61px,#f6e626 62px,#f9fb15 67px,#f9fb15 85px,#f8f619 86px,#fbd530 87px,#dfbf2c 88px,#7fc95b 90px,#0fbeb9 95px,#2797eb 101px,#3e6fff 110px,#4538d3 129px,#3f2bb2 153px,#3e26a8 209px"></i><i style="--g:#3e26a8 0px,#3f2ab0 49px,#4436ce 50px,#4167fc 51px,#10b8c7 52px,#fac337 53px,#f9fb15 54px,#f8dd2b 65px,#f9fb15 70px,#f9fa16 85px,#f8dd2b 90px,#f6e923 93px,#edc131 95px,#97c849 96px,#32c79b 97px,#11b5cd 98px,#3e6fff 107px,#453bd7 119px,#3f2bb2 137px,#3e26a8 209px"></i><i style="--g:#3e26a8 0px,#3e27ab 35px,#4333c7 44px,#3e6fff 50px,#11b2d4 53px,#78c960 54px,#f7e129 55px,#f9fb15 56px,#f9fb15 78px,#fbd530 88px,#edc131 89px,#a4c73e 93px,#41c88e 98px,#0fbeb9 102px,#2797eb 111px,#3d71fe 124px,#4538d3 153px,#3f28ad 209px"></i><i style="--g:#3e26a8 0px,#3e26a8 1px,#3f6cfd 2px,#3f6cfd 24px,#3e26a8 25px,#3e26a8 28px,#4334c9 43px,#3d71fe 49px,#11b2d4 52px,#29c5a3 53px,#93c84b 54px,#f8c336 55px,#f8df2a 56px,#f9fb15 63px,#f9fb15 78px,#fdc836 80px,#bdc434 81px,#4bc986 82px,#0fbdbc 83px,#2896ec 91px,#3e6fff 103px,#453ad5 128px,#3f2bb2 162px,#3e27ab 209px"></i><b style="--g:#3e26a8 0px,#3e26a8 55px,#4231c2 57px,#474eee 58px,#2991ef 59px,#71c966 60px,#f8df2a 61px,#f9fb15 74px,#f9f718 80px,#fcd231 81px,#b7c536 84px,#41c88e 89px,#0fbcbe 93px,#2896ec 100px,#3e6fff 111px,#4538d3 135px,#3f2bb2 165px,#3e27ab 209px"></b><i style="--g:#3e26a8 0px,#3e26a8 48px,#4333c7 52px,#3c72fe 54px,#1ea1e2 55px,#56c97d 56px,#fec438 57px,#f7ee1f 58px,#f9fb15 61px,#f9fb15 78px,#f8df2a 79px,#ebc131 80px,#9ac846 81px,#35c799 92px,#0fbeb9 99px,#2896ec 118px,#3e6fff 146px,#4437d1 209px"></i><i style="--g:#3e26a8 0px,#3f28ad 52px,#453dd9 54px,#3d71fe 55px,#10b7c8 56px,#dfbf2c 57px,#f9fb15 58px,#f9fb15 63px,#f8dd2b 67px,#f9fb15 72px,#f8f619 85px,#f8df2a 86px,#a8c73b 87px,#0fbcbe 88px,#2993ee 91px,#3f6dfe 95px,#4538d3 104px,#3f28ad 121px,#3e26a8 209px"></i><i style="--g:#3e26a8 0px,#3e27ab 35px,#4436ce 48px,#3976fc 55px,#2992ef 57px,#0fbcbe 59px,#45c88b 60px,#a4c73e 61px,#fac337 62px,#f9f718 63px,#f9fb15 64px,#f9fb15 71px,#f8dd2b 78px,#f9fa16 91px,#fbd331 92px,#ccc230 93px,#48c889 94px,#10bbc1 95px,#2698ea 105px,#3e6fff 124px,#4538d3 162px,#402cb5 209px"></i><i style="--g:#3e26a8 0px,#412eba 41px,#453dd9 46px,#3878fc 51px,#11b4cf 54px,#2bc5a1 55px,#8cc851 56px,#f1c233 57px,#f9fa16 59px,#f8dd2b 70px,#f9fb15 80px,#f9fb15 84px,#fec537 86px,#b7c536 87px,#4bc986 88px,#10b9c5 89px,#219ee5 90px,#3e6fff 95px,#4642df 102px,#4231c2 109px,#3e26a8 136px,#3e26a8 209px"></i><i style="--g:#3e26a8 0px,#3e27ab 57px,#402db8 58px,#4648e7 59px,#239be7 60px,#dac02c 61px,#f8de2a 62px,#f9fb15 68px,#f9f817 76px,#fbd430 77px,#d7c02d 78px,#63c971 79px,#10bbc0 80px,#1ea1e2 81px,#239be7 82px,#3d71fe 94px,#453ad5 118px,#3f2bb2 151px,#3e26a8 209px"></i><i style="--g:#3e26a8 0px,#3e27ab 36px,#4333c7 47px,#3b73fd 54px,#12b1d6 57px,#20c2ab 58px,#78c960 59px,#f6e327 60px,#f9fb15 61px,#f9fa16 81px,#fec338 93px,#abc739 98px,#3ac894 104px,#0fbeb9 108px,#2698ea 117px,#3d71fe 131px,#4538d3 161px,#3f2ab0 209px"></i><i style="--g:#3e26a8 0px,#3f2bb2 51px,#4640dd 53px,#4362fa 54px,#2b8ef1 55px,#14c0b5 56px,#bdc434 57px,#f8de2a 58px,#f9fb15 59px,#f8dd2b 70px,#f9fb15 77px,#f9fb15 86px,#f5c234 88px,#9ac846 90px,#41c88e 92px,#0fbcbe 94px,#2993ee 98px,#3d71fe 103px,#4437d1 116px,#3f2ab0 134px,#3e26a8 209px"></i><i style="--g:#3e26a8 0px,#3e26a8 47px,#412fbd 50px,#4360f9 52px,#2a90f0 53px,#24c4a7 54px,#d5c12e 55px,#f8de2a 56px,#f9fb15 63px,#f9fb15 74px,#f8dd2b 79px,#f8f619 82px,#fec438 91px,#aec638 101px,#3ac894 113px,#0fbeb9 121px,#2896ec 140px,#3e6fff 167px,#4643e1 209px"></i><i style="--g:#3e26a8 0px,#3e26a8 53px,#402db8 55px,#453bd7 56px,#4068fc 57px,#18a9dc 58px,#93c84b 59px,#f9da2d 60px,#f9fb15 68px,#f9fb15 84px,#fcc337 86px,#b4c536 89px,#30c69d 94px,#10bbc1 97px,#259ae9 102px,#3d71fe 112px,#4538d3 133px,#3f2bb2 159px,#3e26a8 209px"></i><i style="--g:#3e26a8 0px,#3f2ab0 56px,#4749e9 58px,#3280f9 59px,#0fbebb 60px,#d7c02d 61px,#f8dd2b 62px,#f9fb15 72px,#f9fb15 93px,#ddbf2b 95px,#35c799 97px,#0fbdbc 98px,#239be7 100px,#3f6dfe 104px,#453ad5 111px,#3f28ad 125px,#3e26a8 209px"></i><i style="--g:#3e26a8 0px,#3e26a8 2px,#445ef9 3px,#445ef9 22px,#3e26a8 23px,#3e26a8 56px,#3f2ab0 58px,#4334c9 59px,#455bf7 60px,#1da3e1 61px,#b7c536 62px,#f9fa16 63px,#f9fb15 64px,#f8dd2b 75px,#f9fa16 83px,#f9fb15 98px,#fec438 100px,#a8c73b 103px,#41c88e 106px,#10bbc0 109px,#239be7 113px,#3c72fe 121px,#4538d3 138px,#3f2ab0 163px,#3e26a8 209px"></i><i style="--g:#3e26a8 0px,#3f28ad 54px,#4232c4 55px,#445cf8 56px,#11b4cf 57px,#fec338 58px,#f9fb15 59px,#f9fa16 67px,#f8dd2b 74px,#f9fb15 88px,#fcc337 90px,#90c84e 91px,#16c0b3 92px,#239be7 93px,#367afb 94px,#4334c9 97px,#3e26a8 102px,#3e26a8 209px"></i><i style="--g:#3e26a8 0px,#3e27ab 58px,#412fbd 59px,#455bf7 60px,#0fbdbc 61px,#f8dd2b 62px,#f9fb15 63px,#f8dd2b 75px,#f9fb15 94px,#fbd62f 95px,#d5c12e 96px,#52c980 97px,#11b4cf 98px,#2993ee 99px,#3d71fe 103px,#4538d3 113px,#3f28ad 131px,#3e26a8 209px"></i><i style="--g:#3e26a8 0px,#3e26a8 52px,#412fbd 55px,#445ef9 57px,#2b8ef1 58px,#20c2ab 59px,#dac02c 60px,#f7ec21 61px,#f9fb15 62px,#f8dd2b 70px,#f9fb15 76px,#f8f619 84px,#fec637 85px,#90c84e 86px,#1bc1af 88px,#11b6cc 89px,#2895ec 91px,#3a75fd 94px,#4437d1 103px,#3f28ad 117px,#3e26a8 209px"></i><i style="--g:#3e26a8 0px,#3e26a8 2px,#4068fc 3px,#4068fc 24px,#3e26a8 25px,#3e27ab 55px,#4232c4 57px,#474beb 58px,#3083f8 59px,#16c0b3 60px,#e7c02f 61px,#f9fb15 62px,#f6e725 83px,#e7c02f 84px,#41c88e 85px,#10b9c5 87px,#2993ee 90px,#3c72fe 94px,#4334c9 107px,#3e27ab 128px,#3e26a8 209px"></i><i style="--g:#3e26a8 0px,#3e26a8 56px,#3f2bb2 58px,#4538d3 59px,#3a75fd 60px,#27c4a5 61px,#fcd132 62px,#f9fb15 70px,#f9fb15 87px,#fdca35 88px,#74c963 89px,#12b1d6 90px,#3f6dfe 97px,#4437d1 108px,#3f28ad 127px,#3e26a8 209px"></i><i style="--g:#3e26a8 0px,#3e26a8 55px,#4334c9 59px,#3a75fd 61px,#19a8dd 62px,#67c96e 63px,#fdc935 64px,#f9fb15 65px,#f9fa16 76px,#f8dd2b 83px,#f9f817 91px,#f9fb15 101px,#efc132 104px,#93c84b 106px,#18c1b1 109px,#12b1d6 111px,#2797eb 113px,#3c72fe 118px,#4645e3 126px,#412fbd 138px,#3e26a8 209px"></i><i style="--g:#2a90f0 0px,#2a90f0 27px,#3e26a8 28px,#3e26a8 56px,#402cb5 58px,#474beb 60px,#357cfb 61px,#11b5cd 62px,#a8c73b 63px,#f8df2a 64px,#f9fb15 65px,#f9fb15 82px,#f8dd2b 89px,#f7ee1f 94px,#fdcb34 96px,#efc132 97px,#a1c741 99px,#2bc5a1 102px,#10b8c7 104px,#259ae9 107px,#3f6dfe 114px,#4538d3 127px,#3f28ad 151px,#3e26a8 209px"></i><b style="--g:#402db8 0px,#453edb 5px,#4068fc 9px,#2a90f0 12px,#0fbdbc 15px,#2bc5a1 16px,#bac535 19px,#f8c336 21px,#f7ec21 27px,#fec438 33px,#c6c332 35px,#9ac846 36px,#14c0b5 39px,#2993ee 42px,#3f6dfe 45px,#453ad5 50px,#412eba 54px,#4538d3 55px,#4360f9 56px,#259ae9 57px,#63c971 58px,#fdcc34 59px,#f9fb15 65px,#f9fb15 79px,#f8df2a 83px,#f3c234 84px,#8cc851 85px,#20c2ab 86px,#1ca5e0 87px,#259ae9 88px,#3d71fe 97px,#4646e5 109px,#4130bf 127px,#3e26a8 209px"></b><i style="--g:#3e26a8 0px,#3e26a8 51px,#402db8 54px,#4657f6 56px,#2c8bf3 57px,#1bc1af 58px,#d2c12f 59px,#f6e327 60px,#f9fb15 74px,#f9fb15 88px,#fdc935 89px,#b1c637 90px,#48c889 91px,#0fbcbe 92px,#2a90f0 94px,#3d71fe 96px,#4437d1 102px,#3e27ab 114px,#3e26a8 209px"></i><i style="--g:#3e26a8 0px,#3f28ad 48px,#4436ce 55px,#406afd 59px,#2b8df2 60px,#2bc5a1 61px,#f1c233 62px,#f9fb15 63px,#f8dd2b 72px,#f9fb15 78px,#f9fb15 89px,#efc132 91px,#90c84e 92px,#24c4a7 93px,#17abdb 94px,#229de6 95px,#3d71fe 101px,#4538d3 113px,#3f2ab0 131px,#3e26a8 209px"></i><i style="--g:#3e26a8 0px,#3e27ab 60px,#412fbd 61px,#4657f6 62px,#10bac3 63px,#fad82e 64px,#f9fb15 65px,#f9fa16 79px,#f8dd2b 86px,#f8f11d 94px,#fbd331 95px,#e3c02e 96px,#85c856 97px,#27c4a5 98px,#12b1d6 99px,#3d71fe 109px,#4646e5 120px,#4231c2 135px,#3e26a8 209px"></i><i style="--g:#3e26a8 0px,#3e26a8 58px,#4334c9 62px,#3b73fd 64px,#1ba6df 65px,#5cc977 66px,#fec438 67px,#f9fb15 68px,#f9fa16 84px,#f8dd2b 91px,#f9fb15 102px,#fbd430 103px,#b4c536 104px,#7bc95e 105px,#35c799 109px,#0fbdbc 113px,#2896ec 122px,#3e6fff 136px,#453ad5 164px,#3f2bb2 209px"></i><i style="--g:#3e26a8 0px,#3e26a8 59px,#402cb5 61px,#453dd9 62px,#3976fc 63px,#1dc2ad 64px,#fccd34 65px,#f9fb15 66px,#f8f619 90px,#f7e029 91px,#c6c332 92px,#1bc1af 93px,#1ca5e0 94px,#3d71fe 100px,#4538d3 111px,#3f2ab0 127px,#3e26a8 209px"></i><i style="--g:#3e26a8 0px,#3e27ab 35px,#4334c9 47px,#474ff0 52px,#3976fc 55px,#2992ef 57px,#0fbcbe 59px,#41c88e 60px,#b7c536 61px,#fad72f 62px,#f9fb15 63px,#f9fb15 70px,#f8dd2b 74px,#f9fb15 79px,#f9fb15 90px,#f8df2a 93px,#f6c235 94px,#b1c637 95px,#82c959 96px,#35c799 99px,#0fbcbe 102px,#2797eb 108px,#3c72fe 117px,#4538d3 139px,#3f2bb2 165px,#3e26a8 209px"></i><i style="--g:#3e26a8 0px,#3e27ab 49px,#453dd9 55px,#3d71fe 57px,#1ca5e0 58px,#67c96e 59px,#fdcb34 60px,#f9fb15 61px,#f9fa16 73px,#f8dd2b 79px,#f9fa16 86px,#f9fb15 95px,#fec637 97px,#aec638 115px,#45c88b 134px,#0fbeb9 150px,#219ee5 177px,#3083f8 209px"></i><i style="--g:#3e26a8 0px,#3f28ad 42px,#4436ce 51px,#3c72fe 57px,#2993ee 59px,#18c1b1 61px,#6ac96c 62px,#edc131 63px,#f7e129 64px,#f9fb15 71px,#f9fb15 83px,#f8dd2b 88px,#f9fb15 93px,#f9fb15 99px,#fec537 103px,#b4c536 108px,#35c799 115px,#0fbdbc 119px,#2698ea 128px,#3e6fff 143px,#453dd9 169px,#402cb5 209px"></i><i style="--g:#45c88b 0px,#a1c741 1px,#e5c02e 2px,#fdc935 3px,#fcce33 6px,#f6c235 7px,#c3c332 8px,#1bc1af 10px,#13b0d7 11px,#13b0d7 29px,#3e26a8 30px,#3e26a8 58px,#4130bf 60px,#4646e5 61px,#3083f8 62px,#27c4a5 63px,#fec537 64px,#f6e824 65px,#f9fb15 70px,#f9fb15 91px,#f8dd2b 99px,#f9fb15 110px,#f8de2a 111px,#ebc131 112px,#b7c536 113px,#3ac894 118px,#0fbeb9 121px,#2797eb 128px,#3f6dfe 139px,#4538d3 161px,#3f28ad 209px"></i><i style="--g:#3e26a8 0px,#3e26a8 55px,#402db8 58px,#4360f9 60px,#2698ea 61px,#67c96e 62px,#fcd231 63px,#f9fb15 64px,#f9fa16 75px,#f8dd2b 79px,#f9fb15 84px,#f9fb15 91px,#fec537 93px,#bac535 94px,#56c97d 95px,#0fbcbe 96px,#2e87f7 98px,#3d71fe 102px,#4643e1 113px,#412eba 130px,#3e26a8 209px"></i><i style="--g:#3e26a8 0px,#1da3e1 1px,#1da3e1 49px,#3e26a8 50px,#3f2ab0 60px,#4645e3 62px,#357cfb 63px,#0fbcbe 64px,#e1c02d 65px,#f9fb15 66px,#f9fb15 85px,#f8dd2b 93px,#f7eb22 97px,#fdca35 98px,#b1c637 99px,#2ec69f 100px,#10b7c8 101px,#2894ed 103px,#3c72fe 106px,#4437d1 114px,#3f28ad 127px,#3e26a8 209px"></i><i style="--g:#219ee5 0px,#2c8bf4 22px,#11b5cd 62px,#71c966 63px,#f7f01e 64px,#f8dd2b 75px,#f9fb15 91px,#f8f11d 92px,#fdc836 93px,#a4c73e 94px,#56c97d 95px,#0fbebb 108px,#18a9dc 120px,#11b6cc 138px,#2c8bf4 172px,#11b5cd 209px"></i><i style="--g:#3e26a8 0px,#3f2ab0 51px,#4538d3 58px,#3d71fe 63px,#18a9dc 65px,#52c980 66px,#efc132 67px,#f7ee1f 68px,#f9fb15 69px,#f9fa16 81px,#f8dd2b 87px,#f9fa16 92px,#f9fb15 107px,#f5c234 109px,#89c853 110px,#59c97a 111px,#10bbc0 115px,#2698ea 120px,#3e6fff 129px,#453edb 144px,#3f2bb2 171px,#3e26a8 209px"></i><i style="--g:#3e26a8 0px,#3e27ab 55px,#4335cc 60px,#3878fc 63px,#20a0e4 64px,#56c97d 65px,#fec736 66px,#f9fb15 67px,#f8dd2b 74px,#f9fa16 79px,#f9fb15 93px,#f7e029 100px,#fdc935 101px,#cfc12f 102px,#0fbcbe 104px,#347dfa 106px,#453ad5 109px,#3f2ab0 112px,#3e26a8 115px,#3e26a8 209px"></i><i style="--g:#3e26a8 0px,#3f2ab0 42px,#453ad5 53px,#3c72fe 60px,#17abdb 64px,#4bc986 65px,#ebc131 66px,#f6e725 67px,#f8dd2b 72px,#f9fb15 81px,#f9fb15 95px,#fad82e 97px,#fad72f 184px,#fec637 198px,#e1c02d 202px,#bac535 204px,#22c3a9 209px"></i><i style="--g:#3e26a8 0px,#3f28ad 52px,#4437d1 59px,#4167fc 63px,#2993ee 64px,#2ec69f 65px,#e5c02e 66px,#f7f01e 67px,#f8dd2b 72px,#f9fb15 78px,#f9fb15 94px,#f8de2a 99px,#f6e427 102px,#fdcc34 103px,#cfc12f 104px,#5cc977 105px,#10b9c5 106px,#3976fc 108px,#4335cc 111px,#3e26a8 117px,#3e26a8 209px"></i><i style="--g:#13b0d7 0px,#2c8bf4 46px,#2c8af5 64px,#259ae9 65px,#67c96e 66px,#fcd132 67px,#f8f11d 68px,#f8dd2b 74px,#f9f817 80px,#f9fb15 96px,#fdc836 98px,#b4c536 99px,#3ac894 100px,#0fbdbc 101px,#19a8dd 106px,#11b3d3 144px,#2d89f5 209px"></i><i style="--g:#3e26a8 0px,#3e27ab 61px,#4333c7 63px,#3280f9 65px,#10b9c5 66px,#b4c536 67px,#f9dc2c 68px,#f9fb15 79px,#f9fb15 93px,#f9da2d 94px,#ddbf2b 95px,#59c97a 96px,#11b6cc 97px,#2698ea 101px,#3f6dfe 112px,#4538d3 134px,#3f2bb2 162px,#3e26a8 209px"></i><b style="--g:#3e26a8 0px,#3e27ab 60px,#4333c7 62px,#4751f2 63px,#2b8df2 64px,#3ec891 65px,#fec736 66px,#f6e427 67px,#f8dd2b 70px,#f9fb15 76px,#f9fa16 93px,#f7e029 97px,#fac337 98px,#aec638 99px,#6dc969 100px,#0fbdbc 106px,#2895ec 114px,#3d71fe 125px,#4538d3 150px,#3e27ab 209px"></b><i style="--g:#3d71fe 0px,#445ef9 57px,#4360f9 58px,#2f85f7 59px,#11b4cf 60px,#74c963 61px,#fec438 62px,#f8f619 63px,#f9fb15 64px,#f9f718 70px,#f8dd2b 74px,#f9fa16 80px,#f9fa16 92px,#fbd430 93px,#d7c02d 94px,#5cc977 95px,#0fbcbe 96px,#2698ea 104px,#367afb 114px,#445cf8 177px,#4263fa 209px"></i><i style="--g:#3e26a8 0px,#3e26a8 57px,#4538d3 61px,#3976fc 63px,#219ee5 64px,#32c79b 65px,#d5c12e 66px,#f7e129 67px,#f9fb15 71px,#f9fb15 87px,#f8de2a 94px,#fec338 96px,#b1c637 98px,#97c849 100px,#37c897 108px,#0fbebb 114px,#2797eb 128px,#3e6fff 149px,#4333c7 209px"></i><i style="--g:#3e26a8 0px,#3e26a8 62px,#4333c7 64px,#3d71fe 65px,#4bc986 66px,#f9f718 67px,#f9fb15 68px,#f9fa16 76px,#f8dd2b 81px,#f9fa16 87px,#f9fb15 97px,#f8f51a 98px,#fccd34 99px,#b7c536 100px,#78c960 101px,#35c799 109px,#0fbebb 117px,#2896ec 137px,#3d71fe 165px,#4645e3 209px"></i><i style="--g:#3e26a8 0px,#3e27ab 37px,#4231c2 52px,#474beb 60px,#3976fc 65px,#2895ec 68px,#32c79b 69px,#fccf33 70px,#f9fb15 71px,#f8dd2b 81px,#f9fa16 86px,#f9fb15 97px,#fbd530 99px,#e7c02f 100px,#abc739 103px,#3ac894 109px,#0fbebb 113px,#2797eb 122px,#3e6fff 136px,#453ad5 164px,#3f2bb2 209px"></i><i style="--g:#3e26a8 0px,#3f2bb2 63px,#453dd9 65px,#445cf8 66px,#2c8bf4 67px,#0fbcbe 68px,#abc739 69px,#fad82e 70px,#f9fb15 71px,#f9fa16 86px,#f8dd2b 91px,#f9fb15 100px,#fcc337 105px,#aec638 109px,#41c88e 114px,#0fbebb 118px,#2896ec 126px,#3e6fff 138px,#4437d1 165px,#3f2ab0 209px"></i><i style="--g:#3e26a8 0px,#3f2ab0 61px,#4335cc 62px,#4263fa 63px,#11b4cf 64px,#e9c130 65px,#f9fb15 66px,#f9fa16 78px,#f8dd2b 83px,#f9fa16 88px,#f1c233 91px,#c6c332 92px,#5cc977 94px,#14c0b5 96px,#2894ed 100px,#3f6dfe 105px,#4538d3 116px,#3f28ad 136px,#3e26a8 209px"></i><i style="--g:#3e26a8 0px,#3f28ad 62px,#4335cc 64px,#4852f4 65px,#2d88f6 66px,#16c0b3 67px,#ddbf2b 68px,#f8f51a 69px,#f9fb15 70px,#f9fa16 79px,#f8dd2b 85px,#f9fb15 93px,#f9f817 101px,#f3c234 103px,#a1c741 104px,#3ac894 105px,#11b7ca 106px,#2896ec 109px,#3e6fff 115px,#4538d3 128px,#3f2bb2 145px,#3e26a8 209px"></i><i style="--g:#3e26a8 0px,#402cb5 58px,#453dd9 61px,#2e87f7 63px,#0fbeb9 64px,#c9c231 65px,#f6e923 66px,#f9fb15 67px,#f9fb15 83px,#f8dd2b 92px,#f9f817 103px,#f3c234 104px,#56c97d 105px,#1bc1af 107px,#11b4cf 109px,#2895ec 112px,#3d71fe 118px,#4642df 128px,#412fbd 141px,#3e26a8 209px"></i><i style="--g:#2c8af5 0px,#3779fb 49px,#3083f8 59px,#11b4cf 62px,#20c2ab 63px,#b4c536 64px,#f9da2d 65px,#f9fb15 66px,#f8dd2b 75px,#f9fa16 82px,#f9fb15 93px,#f9f718 94px,#fccf33 95px,#bac535 96px,#32c79b 97px,#11b3d3 98px,#2896ec 100px,#3878fc 160px,#2c8bf3 209px"></i><i style="--g:#3e26a8 0px,#3e27ab 65px,#412fbd 66px,#4657f6 67px,#10b9c5 68px,#fbd430 69px,#f8f21c 70px,#f8dd2b 73px,#f9fb15 78px,#f9fb15 90px,#f8dd2b 95px,#f9fb15 100px,#fbd530 101px,#c6c332 102px,#37c897 103px,#11b7ca 104px,#2896ec 107px,#3e6fff 113px,#4335cc 128px,#3f28ad 149px,#3e26a8 209px"></i><i style="--g:#3e26a8 0px,#3f2ab0 61px,#453bd7 63px,#455bf7 64px,#2c8bf3 65px,#14c0b5 66px,#c6c332 67px,#f6e427 68px,#f9fb15 69px,#f9fb15 80px,#f8dd2b 88px,#f9f718 96px,#f8f51a 97px,#f6c235 98px,#b7c536 100px,#4bc986 104px,#0fbcbe 108px,#2797eb 114px,#3e6fff 124px,#453bd7 143px,#402cb5 168px,#3e27ab 209px"></i><i style="--g:#3e26a8 0px,#3e26a8 60px,#412fbd 62px,#474beb 63px,#2a90f0 64px,#85c856 65px,#f8f11d 66px,#f9fb15 67px,#f9fb15 95px,#f8f21c 99px,#fbd430 100px,#e1c02d 101px,#7bc95e 102px,#1bc1af 103px,#11b4cf 104px,#3e6fff 119px,#4538d3 142px,#3f2bb2 170px,#3e27ab 209px"></i><i style="--g:#3e26a8 0px,#3e27ab 39px,#4334c9 53px,#3f6dfe 61px,#2894ed 64px,#10bbc1 66px,#90c84e 67px,#fdcb34 68px,#f9fb15 69px,#f9f817 88px,#f9da2d 96px,#d5c12e 97px,#3ec891 98px,#11b2d4 99px,#3878fc 102px,#453ad5 108px,#3f2ab0 117px,#3e26a8 209px"></i><i style="--g:#3e26a8 0px,#3e26a8 57px,#3f2bb2 60px,#4640dd 62px,#4263fa 63px,#2991ef 64px,#22c3a9 65px,#d5c12e 66px,#f6e725 67px,#f9fb15 68px,#f9fa16 84px,#f8dd2b 89px,#f9fb15 99px,#f7e129 100px,#edc131 101px,#78c960 102px,#59c97a 103px,#0fbdbc 110px,#2797eb 120px,#3d71fe 136px,#453edb 164px,#402cb5 209px"></i><i style="--g:#3e26a8 0px,#3f2ab0 33px,#4538d3 48px,#3e6fff 58px,#2a90f0 62px,#11b6cc 65px,#32c79b 67px,#67c96e 68px,#e9c130 69px,#f9fb15 70px,#f8dd2b 77px,#f9fa16 84px,#f9fb15 94px,#fcce33 96px,#d5c12e 97px,#18c1b1 99px,#19a8dd 100px,#3b73fd 102px,#453ad5 112px,#3f28ad 130px,#3e26a8 209px"></i><i style="--g:#3e26a8 0px,#3e26a8 59px,#4333c7 62px,#3779fb 64px,#11b4d1 65px,#97c849 66px,#fbd62f 67px,#f9fb15 74px,#f9fb15 98px,#f8dd2b 107px,#f9fb15 117px,#ebc131 119px,#59c97a 120px,#12b1d6 121px,#3d71fe 124px,#4437d1 130px,#3f28ad 140px,#3e26a8 209px"></i><i style="--g:#3e26a8 0px,#3f28ad 33px,#4436ce 47px,#3f6dfe 56px,#2896ec 60px,#11b7ca 62px,#1bc1af 63px,#48c889 64px,#89c853 65px,#f8c336 66px,#f6e327 67px,#f9fb15 72px,#f9fb15 90px,#f8dd2b 96px,#f9fb15 106px,#fbd430 108px,#fcc337 209px"></i><i style="--g:#3e26a8 0px,#3e26a8 7px,#2698ea 8px,#2698ea 47px,#3e26a8 48px,#3e27ab 67px,#4436ce 69px,#4263fa 70px,#11b2d4 71px,#e1c02d 72px,#f9fb15 73px,#f8dd2b 84px,#f9fb15 103px,#fbd331 105px,#d7c02d 106px,#67c96e 107px,#16c0b3 108px,#0fbcbe 109px,#2896ec 115px,#3e6fff 124px,#4538d3 144px,#3f2bb2 169px,#3e27ab 209px"></i><b style="--g:#3e26a8 0px,#3f28ad 66px,#4646e5 68px,#3083f8 69px,#27c4a5 70px,#fdc836 71px,#f8f31b 72px,#f9fb15 75px,#f9fb15 100px,#f8dd2b 109px,#f9f817 117px,#f9fb15 127px,#fcce33 129px,#cfc12f 130px,#0fbebb 132px,#2895ec 135px,#3c72fe 139px,#4643e1 146px,#4232c4 153px,#3e27ab 172px,#3e26a8 209px"></b><i style="--g:#3e26a8 0px,#3e26a8 66px,#4232c4 68px,#445ef9 69px,#11b7ca 70px,#fec736 71px,#f9fb15 72px,#f8dd2b 85px,#f9fb15 96px,#f6e626 97px,#dac02c 98px,#74c963 99px,#41c88e 100px,#10bbc0 102px,#2698ea 105px,#3c72fe 110px,#4334c9 124px,#3e27ab 147px,#3e26a8 209px"></i><i style="--g:#2992ef 0px,#2a90f0 66px,#1bc1af 67px,#e7c02f 68px,#f8df2a 69px,#f9fb15 78px,#f9fb15 96px,#f8dd2b 102px,#f9fa16 109px,#fec637 111px,#c0c433 112px,#6ac96c 113px,#0fbeb9 122px,#13b0d7 129px,#2e87f7 209px"></i><i style="--g:#3f2bb2 0px,#453edb 28px,#3c72fe 43px,#2797eb 51px,#10bbc0 56px,#3ac894 59px,#b7c536 63px,#fcd132 66px,#f8f31b 67px,#f8dd2b 75px,#f9fb15 85px,#f9fb15 113px,#f8dd2b 122px,#fec338 123px,#bac535 124px,#0fbebb 126px,#2b8df2 128px,#3d71fe 134px,#4538d3 151px,#3f2bb2 173px,#3e26a8 209px"></i><i style="--g:#3e26a8 0px,#3e26a8 40px,#412fbd 55px,#4640dd 60px,#4068fc 64px,#13b0d7 68px,#48c889 69px,#e9c130 70px,#f9fb15 72px,#f9fa16 81px,#f8dd2b 88px,#f9fa16 94px,#f9fb15 105px,#f8f31b 106px,#fccf33 107px,#c3c332 108px,#45c88b 109px,#0fbcbe 112px,#2797eb 117px,#3d71fe 125px,#453dd9 140px,#3f2bb2 165px,#3e26a8 209px"></i><i style="--g:#3e26a8 0px,#402db8 56px,#453dd9 61px,#3e6fff 65px,#11b2d4 68px,#29c5a3 69px,#d5c12e 70px,#f6e725 71px,#f9fb15 72px,#f8dd2b 86px,#f9fb15 98px,#edc131 100px,#8cc851 101px,#24c4a7 102px,#17abdb 103px,#2b8ef1 104px,#3c72fe 108px,#4749e9 115px,#412eba 130px,#3e26a8 209px"></i><i style="--g:#3e26a8 0px,#3e26a8 64px,#3f2bb2 66px,#4852f4 68px,#2a8ff1 69px,#4fc983 70px,#fcd132 71px,#f8f51a 72px,#f8dd2b 79px,#f9fb15 89px,#f9fb15 100px,#fad82e 101px,#e7c02f 102px,#abc739 107px,#32c79b 117px,#0fbeb9 122px,#2797eb 136px,#3e6fff 158px,#4436ce 209px"></i><i style="--g:#2895ec 0px,#16c0b3 51px,#14c0b5 68px,#1bc1af 69px,#f9da2d 70px,#f9fb15 71px,#f9fa16 83px,#f8dd2b 87px,#f9fb15 97px,#fec637 98px,#4fc983 99px,#0fbdbc 100px,#239be7 105px,#2894ed 118px,#12b1d6 151px,#18c1b1 178px,#11b6cc 209px"></i><i style="--g:#3e26a8 0px,#3e26a8 41px,#412fbd 55px,#4643e1 60px,#3976fc 64px,#2797eb 66px,#11b4d1 67px,#27c4a5 68px,#85c856 69px,#f1c233 70px,#f9f718 71px,#f8dd2b 75px,#f9fb15 80px,#f9fb15 92px,#f8dd2b 97px,#f9fb15 102px,#f9fb15 114px,#f8dd2b 119px,#f9fb15 124px,#f9fb15 135px,#e9c130 137px,#78c960 138px,#0fbebb 139px,#2797eb 141px,#3c72fe 146px,#4335cc 160px,#3f2ab0 175px,#3e26a8 209px"></i><i style="--g:#3e27ab 0px,#402db8 29px,#453bd7 45px,#3e6fff 59px,#1ca5e0 68px,#29c5a3 69px,#edc131 70px,#f9fb15 71px,#f8dd2b 77px,#f9fa16 82px,#f9fb15 96px,#fcc337 97px,#37c897 98px,#11b6cc 99px,#2894ed 105px,#3e6fff 115px,#4538d3 138px,#3f2bb2 167px,#3e27ab 209px"></i><i style="--g:#3e26a8 0px,#3e27ab 64px,#4232c4 66px,#4648e7 67px,#367afb 68px,#10b7c8 69px,#bdc434 70px,#f6e824 71px,#f9fb15 72px,#f9fb15 85px,#f8dd2b 90px,#f9fb15 96px,#f9fb15 110px,#f8dd2b 115px,#f9fb15 121px,#f9fb15 132px,#fdca35 134px,#aec638 140px,#3ac894 147px,#0fbdbc 152px,#2797eb 162px,#3e6fff 178px,#453bd7 209px"></i><i style="--g:#3e26a8 0px,#3e26a8 43px,#412fbd 56px,#453dd9 60px,#3f6cfd 64px,#2b8ef1 66px,#0fbebb 68px,#5cc977 69px,#e9c130 70px,#f8f619 71px,#f8dd2b 75px,#f9fb15 80px,#f9fb15 90px,#f8dd2b 94px,#f9fb15 99px,#f7ed20 111px,#d5c12e 112px,#89c853 113px,#3ac894 117px,#0fbdbc 121px,#2797eb 129px,#3e6fff 142px,#453bd7 167px,#3f2bb2 209px"></i><i style="--g:#3e26a8 0px,#3f28ad 55px,#4436ce 57px,#347dfa 59px,#11b4d1 60px,#8cc851 61px,#fbd331 62px,#f8f619 63px,#f8dd2b 67px,#f9fb15 71px,#f9fa16 84px,#f8dd2b 88px,#f9fb15 97px,#f7ee1f 98px,#fcc337 99px,#82c959 100px,#10bbc0 101px,#2a90f0 102px,#3f6dfe 103px,#4538d3 105px,#3f2bb2 107px,#3e26a8 110px,#3e26a8 209px"></i><i style="--g:#3e26a8 0px,#3e26a8 59px,#4333c7 63px,#4068fc 65px,#2991ef 66px,#16c0b3 67px,#a8c73b 68px,#fdcc34 69px,#f9fb15 77px,#f9fb15 93px,#f7e228 97px,#f7ed20 187px,#fec736 205px,#bac535 209px"></i><i style="--g:#3e26a8 0px,#3f28ad 34px,#4538d3 51px,#3c72fe 61px,#2895ec 65px,#11b5cd 66px,#a4c73e 67px,#f8de2a 68px,#f9fb15 70px,#f9fb15 91px,#fec438 95px,#aec638 100px,#3ec891 106px,#10bbc0 111px,#2896ec 120px,#3e6fff 134px,#4538d3 164px,#3f2ab0 209px"></i><i style="--g:#3e26a8 0px,#3f28ad 36px,#4538d3 51px,#3b73fd 60px,#219ee5 64px,#0fbdbc 66px,#30c69d 67px,#b1c637 69px,#efc132 70px,#f9fb15 71px,#f9fb15 92px,#f8dd2b 100px,#f9fb15 110px,#f9dc2c 111px,#d2c12f 112px,#37c897 113px,#0fbcbe 114px,#2896ec 122px,#3e6fff 134px,#4437d1 162px,#3f28ad 209px"></i><i style="--g:#3e26a8 0px,#3e26a8 38px,#4130bf 55px,#4640dd 60px,#3b73fd 65px,#11b7ca 69px,#60c974 70px,#fcd032 71px,#f9fb15 72px,#f8dd2b 85px,#f9fb15 95px,#f9fb15 120px,#f9dc2c 128px,#d2c12f 129px,#37c897 132px,#18c1b1 133px,#2895ec 137px,#3e6fff 142px,#4645e3 149px,#4232c4 157px,#3f28ad 173px,#3e26a8 209px"></i><i style="--g:#3e26a8 0px,#3e26a8 63px,#402db8 66px,#445cf8 68px,#2992ef 69px,#3ec891 70px,#fec438 71px,#f9fb15 72px,#f9fa16 88px,#f7e129 100px,#fdcb34 101px,#ccc230 102px,#5cc977 103px,#10bbc0 104px,#2797eb 105px,#3e6fff 109px,#453ad5 119px,#3f2bb2 133px,#3e26a8 209px"></i><i style="--g:#3e26a8 0px,#3e27ab 66px,#4437d1 69px,#367afb 71px,#17abdb 72px,#5cc977 73px,#f6c235 74px,#f8f21c 75px,#f9fb15 76px,#f9fb15 88px,#f8dd2b 93px,#f9fb15 99px,#f9fb15 113px,#fbd331 121px,#c3c332 122px,#2bc5a1 123px,#10b9c5 124px,#2698ea 131px,#3e6fff 145px,#453edb 168px,#402cb5 209px"></i><b style="--g:#3e26a8 0px,#3f28ad 66px,#4335cc 68px,#474ff0 69px,#3084f8 70px,#0fbeb9 71px,#d7c02d 72px,#f8f11d 73px,#f9fb15 74px,#f9fa16 85px,#f8dd2b 89px,#f9fb15 94px,#f9fb15 106px,#f8dd2b 111px,#f9fa16 115px,#f9fb15 127px,#efc132 129px,#6ac96c 130px,#0fbebb 131px,#239be7 133px,#3976fc 136px,#4642df 142px,#4130bf 148px,#3e27ab 161px,#3e26a8 209px"></b><i style="--g:#3e26a8 0px,#3e27ab 68px,#4333c7 70px,#474ced 71px,#3084f8 72px,#1bc1af 73px,#edc131 74px,#f9f817 75px,#f8dd2b 80px,#f9fb15 86px,#f9fa16 102px,#f8dd2b 107px,#f9fa16 113px,#f9fb15 120px,#f3c234 122px,#9ac846 123px,#2ec69f 124px,#11b4cf 125px,#2797eb 127px,#3f6dfe 132px,#4538d3 142px,#3f2bb2 155px,#3e26a8 209px"></i><i style="--g:#3e26a8 0px,#3e26a8 37px,#4130bf 55px,#453edb 60px,#3f6cfd 65px,#2992ef 68px,#10b8c7 70px,#2bc5a1 71px,#fbd331 72px,#f9fb15 73px,#f9fa16 82px,#f8dd2b 89px,#f9fa16 97px,#f9fb15 108px,#ebc131 110px,#71c966 111px,#10bbc1 112px,#2992ef 113px,#3c72fe 114px,#4232c4 117px,#3e26a8 122px,#3e26a8 209px"></i><i style="--g:#3e26a8 0px,#3e26a8 44px,#4231c2 59px,#4749e9 64px,#3d71fe 67px,#2a90f0 69px,#0fbdbc 71px,#4fc983 72px,#bac535 73px,#fec438 74px,#f9fb15 75px,#f9fb15 94px,#f7e228 101px,#fdc935 102px,#85c856 103px,#10b7c8 104px,#2d88f6 105px,#445cf8 106px,#3f2bb2 109px,#3e26a8 112px,#3e26a8 209px"></i><i style="--g:#3e26a8 0px,#3e27ab 36px,#4232c4 55px,#4648e7 63px,#3b73fd 69px,#1ca5e0 74px,#30c69d 75px,#f1c233 76px,#f9fb15 77px,#f8dd2b 84px,#f9fb15 92px,#f8f31b 113px,#f7e228 115px,#f3c234 116px,#abc739 118px,#35c799 121px,#0fbcbe 123px,#2797eb 127px,#3b73fd 133px,#4642df 144px,#4130bf 156px,#3e26a8 209px"></i><i style="--g:#3e26a8 0px,#3e27ab 57px,#4437d1 63px,#3878fc 66px,#259ae9 67px,#2ec69f 68px,#e1c02d 69px,#f9fb15 70px,#f8dd2b 77px,#f9fb15 81px,#f9fb15 92px,#f8dd2b 96px,#f9fb15 104px,#f8dd2b 105px,#e7c02f 106px,#6dc969 107px,#20c2ab 108px,#0fbdbc 109px,#259ae9 113px,#3d71fe 120px,#4538d3 135px,#3f28ad 161px,#3e26a8 209px"></i><i style="--g:#3f28ad 0px,#3f2ab0 4px,#259ae9 5px,#259ae9 18px,#412eba 19px,#4231c2 26px,#4749e9 42px,#3f6dfe 51px,#259ae9 60px,#0fbebb 65px,#32c79b 67px,#78c960 68px,#fdcc34 69px,#f9fb15 70px,#f9fb15 87px,#f8dd2b 96px,#f8f21c 102px,#fec338 104px,#abc739 108px,#48c889 112px,#0fbdbc 116px,#2797eb 123px,#3e6fff 134px,#4436ce 160px,#3f28ad 209px"></i><i style="--g:#3e26a8 0px,#3f28ad 52px,#453bd7 61px,#3f6cfd 65px,#2a90f0 67px,#18c1b1 69px,#85c856 70px,#fdcb34 71px,#f8f11d 72px,#f9fb15 76px,#f9fb15 98px,#f8dd2b 106px,#f9f817 114px,#f9fb15 128px,#e9c130 130px,#5cc977 131px,#11b3d3 132px,#2d88f6 133px,#4362fa 134px,#4436ce 136px,#3e27ab 144px,#3e26a8 209px"></i><i style="--g:#3e26a8 0px,#3f28ad 59px,#4437d1 67px,#3f6dfe 72px,#2a8ff1 73px,#18c1b1 74px,#c6c332 75px,#f6e327 76px,#f9fb15 79px,#f9fa16 94px,#f8dd2b 99px,#f9fb15 105px,#f9fa16 120px,#f8dd2b 125px,#f9fb15 131px,#f9fb15 145px,#f8dd2b 150px,#f9fb15 159px,#fcce33 161px,#dac02c 162px,#24c4a7 164px,#12b1d6 165px,#367afb 167px,#453edb 170px,#4436ce 172px,#3f2ab0 182px,#3e26a8 209px"></i><i style="--g:#3e26a8 0px,#3e27ab 71px,#3f2bb2 72px,#453edb 73px,#2d88f6 74px,#7fc95b 75px,#f7e029 76px,#f9fb15 84px,#f9f817 111px,#f7eb22 113px,#fec338 114px,#93c84b 115px,#20c2ab 116px,#0fbcbe 117px,#2896ec 121px,#3d71fe 127px,#453ad5 140px,#3f2ab0 161px,#3e26a8 209px"></i><i style="--g:#3e26a8 0px,#3e26a8 59px,#3f2bb2 62px,#453ad5 64px,#3779fb 66px,#1ba6df 67px,#4fc983 68px,#f1c233 69px,#f8f11d 70px,#f9fb15 71px,#f9fa16 85px,#f8dd2b 90px,#f9fb15 96px,#f6e427 117px,#f6c235 119px,#9ac846 120px,#27c4a5 121px,#11b5cd 122px,#2991ef 124px,#3f6dfe 127px,#4538d3 134px,#3f28ad 147px,#3e26a8 209px"></i><i style="--g:#4335cc 0px,#3d71fe 45px,#2797eb 62px,#0fbdbc 73px,#48c889 74px,#fcce33 75px,#f9fb15 76px,#f9fa16 90px,#f8dd2b 98px,#f9fb15 105px,#f9fb15 122px,#fec736 124px,#c3c332 125px,#0fbebb 127px,#229de6 141px,#337efa 161px,#4646e5 209px"></i><i style="--g:#3e26a8 0px,#3f28ad 55px,#4538d3 64px,#3f6cfd 69px,#2b8ef1 71px,#0fbeb9 72px,#fdca35 73px,#f7ee1f 74px,#f8dd2b 79px,#f9fb15 87px,#f9fb15 109px,#f8dd2b 117px,#f8f31b 123px,#efc132 125px,#7bc95e 126px,#0fbebb 127px,#2896ec 128px,#3878fc 129px,#4334c9 132px,#3e26a8 137px,#3e26a8 209px"></i><i style="--g:#3e26a8 0px,#3e26a8 65px,#3f2bb2 68px,#4642df 70px,#4167fc 71px,#2894ed 72px,#2bc5a1 73px,#dfbf2c 74px,#f7ec21 75px,#f9fb15 76px,#f8dd2b 87px,#f9fb15 95px,#f8f21c 115px,#f3c234 117px,#9ac846 118px,#35c799 119px,#11b7ca 120px,#2698ea 121px,#3f6dfe 123px,#4437d1 130px,#3f28ad 142px,#3e26a8 209px"></i><i style="--g:#3e26a8 0px,#402db8 57px,#4642df 63px,#3a75fd 67px,#2797eb 69px,#10b7c8 70px,#89c853 71px,#fccd34 72px,#f8f619 73px,#f9fb15 75px,#f9fa16 87px,#f8dd2b 91px,#f9fb15 96px,#f9fb15 108px,#f8dd2b 113px,#f9fb15 118px,#f9fa16 131px,#f8dd2b 135px,#f9fb15 140px,#f9fb15 152px,#efc132 154px,#7bc95e 155px,#0fbeb9 156px,#229de6 157px,#4068fc 159px,#453ad5 163px,#3f2bb2 171px,#3e26a8 209px"></i><i style="--g:#3e26a8 0px,#3e26a8 63px,#402db8 65px,#453bd7 66px,#3e6fff 67px,#11b7ca 68px,#dfbf2c 69px,#f9fb15 70px,#f9fb15 87px,#f8dd2b 94px,#f9fb15 104px,#fcd032 106px,#d5c12e 107px,#11bfb7 109px,#20a0e4 110px,#406afd 112px,#4335cc 115px,#3e26a8 121px,#3e26a8 209px"></i><i style="--g:#3e26a8 0px,#3e27ab 67px,#4232c4 69px,#4749e9 70px,#3181f9 71px,#14c0b5 72px,#e9c130 73px,#f9fa16 74px,#f8dd2b 83px,#f9fb15 91px,#f9fb15 111px,#fdca35 113px,#ccc230 114px,#78c960 115px,#32c79b 120px,#0fbcbe 125px,#2797eb 136px,#3d71fe 153px,#4645e3 178px,#4231c2 209px"></i><i style="--g:#3e26a8 0px,#3e26a8 72px,#4334c9 74px,#406afd 75px,#1bc1af 76px,#fad92d 77px,#f9fb15 78px,#f9fa16 93px,#f8dd2b 98px,#f9fb15 104px,#f9fb15 110px,#fad72f 112px,#fad72f 209px"></i><i style="--g:#2991ef 0px,#1ba6df 34px,#2895ec 70px,#1da3e1 71px,#52c980 72px,#fac337 73px,#f9fa16 74px,#f9fb15 95px,#fcd231 106px,#d2c12f 107px,#d2c12f 209px"></i><b style="--g:#11b2d4 0px,#2d89f5 73px,#259ae9 74px,#14c0b5 75px,#a4c73e 76px,#fec338 77px,#f9fb15 78px,#f9fa16 91px,#f8dd2b 96px,#f9fb15 102px,#f9fb15 110px,#f8f51a 111px,#fcce33 112px,#bac535 113px,#97c849 115px,#3ec891 121px,#0fbeb9 126px,#1ba6df 134px,#12b1d6 177px,#2896ec 209px"></b><i style="--g:#3e26a8 0px,#402db8 67px,#453bd7 71px,#4263fa 74px,#14aed9 77px,#fac337 78px,#f9fb15 79px,#f9fb15 100px,#f8dd2b 109px,#f9fb15 120px,#f9fb15 136px,#fdc836 138px,#b7c536 139px,#6dc969 141px,#0fbeb9 145px,#2895ec 151px,#3e6fff 159px,#4538d3 177px,#3f28ad 209px"></i><i style="--g:#3e26a8 0px,#3f28ad 57px,#4437d1 65px,#3e6fff 70px,#11b2d4 73px,#29c5a3 74px,#97c849 75px,#fec537 76px,#f9fb15 81px,#f9fb15 93px,#f8dd2b 98px,#f9fb15 103px,#f9fa16 116px,#f8dd2b 120px,#f8f11d 123px,#f3c234 125px,#78c960 126px,#20c2ab 127px,#10b9c5 128px,#239be7 130px,#3a75fd 134px,#453edb 142px,#402db8 152px,#3e26a8 209px"></i><i style="--g:#3e26a8 0px,#3e27ab 73px,#4333c7 75px,#474ff0 76px,#2c8bf4 77px,#37c897 78px,#fdca35 79px,#f9fb15 80px,#f9fb15 95px,#f8dd2b 104px,#f9fb15 113px,#f8f31b 209px"></i><i style="--g:#3e27ab 0px,#402db8 25px,#453dd9 42px,#3c72fe 56px,#2698ea 63px,#10bac3 67px,#3ec891 70px,#a4c73e 73px,#f9fb15 74px,#f9f817 89px,#f8dd2b 95px,#f9fb15 103px,#f9fb15 121px,#f9dc2c 122px,#f9db2c 154px,#fec537 168px,#e5c02e 171px,#a4c73e 174px,#3ac894 177px,#10bbc0 179px,#2894ed 182px,#3c72fe 185px,#453bd7 191px,#3f2ab0 200px,#3e27ab 209px"></i><i style="--g:#3e26a8 0px,#3f28ad 42px,#4436ce 55px,#3a75fd 64px,#2896ec 67px,#0fbeb9 68px,#e7c02f 69px,#f9fb15 70px,#f9fa16 82px,#f8dd2b 89px,#f9fa16 98px,#f9fb15 110px,#f7e228 111px,#cfc12f 112px,#67c96e 113px,#1bc1af 115px,#12b1d6 117px,#2896ec 119px,#3d71fe 124px,#453ad5 135px,#3f2bb2 150px,#3e26a8 209px"></i><i style="--g:#11b7ca 0px,#2c8bf3 70px,#10bbc0 77px,#30c69d 79px,#e7c02f 80px,#f9fb15 81px,#f9fa16 90px,#f8dd2b 96px,#f9fb15 103px,#f9fb15 120px,#f6e427 128px,#fdcb34 130px,#e5c02e 132px,#aec638 134px,#3ec891 138px,#0fbebb 141px,#2b8df2 209px"></i><i style="--g:#3e26a8 0px,#3f28ad 38px,#4335cc 54px,#3c72fe 66px,#2894ed 70px,#10bbc1 73px,#4bc986 75px,#82c959 76px,#d7c02d 77px,#f7e228 78px,#f9fb15 79px,#f9fb15 95px,#f8dd2b 103px,#f9fb15 111px,#f9fb15 131px,#f8de2a 138px,#f7ec21 143px,#fcc337 147px,#f1c233 209px"></i><i style="--g:#3e26a8 0px,#3e27ab 34px,#4334c9 53px,#3f6cfd 64px,#2a90f0 68px,#10b8c7 71px,#1dc2ad 72px,#48c889 73px,#c6c332 75px,#fbd62f 76px,#f9fb15 77px,#f8dd2b 86px,#f9fb15 94px,#f9fb15 111px,#f8dd2b 118px,#f9fb15 126px,#f9fb15 143px,#f6e824 147px,#fcc337 148px,#b7c536 151px,#35c799 157px,#0fbeb9 160px,#2797eb 168px,#3e6fff 180px,#4436ce 209px"></i><i style="--g:#3e26a8 0px,#3e27ab 69px,#4231c2 71px,#4648e7 72px,#357cfb 73px,#10b7c8 74px,#b4c536 75px,#f8dd2b 76px,#f9fb15 84px,#f9fb15 103px,#f8dd2b 110px,#f9fb15 118px,#f9fb15 137px,#f8dd2b 144px,#f9fb15 159px,#fccf33 161px,#d2c12f 162px,#0fbebb 164px,#12b1d6 166px,#2e87f7 179px,#4648e7 209px"></i><i style="--g:#3e26a8 0px,#3e26a8 70px,#3f2bb2 72px,#4335cc 73px,#4360f9 74px,#17abdb 75px,#c6c332 76px,#f9fb15 77px,#f9fa16 87px,#f8dd2b 95px,#f9fb15 104px,#f8f31b 131px,#f7e029 135px,#efc132 136px,#b4c536 137px,#35c799 139px,#0fbeb9 140px,#2894ed 143px,#3f6dfe 147px,#453ad5 155px,#402cb5 165px,#3e26a8 209px"></i><i style="--g:#3e26a8 0px,#3e26a8 74px,#4333c7 76px,#445ef9 77px,#11b4cf 78px,#f8c336 79px,#f9fb15 80px,#f8dd2b 93px,#f9fb15 102px,#f9fb15 128px,#f8de2a 136px,#edc131 137px,#59c97a 138px,#14aed9 139px,#3280f9 140px,#4643e1 143px,#3f2bb2 149px,#3e26a8 209px"></i><i style="--g:#1ea1e2 0px,#3280f9 50px,#219ee5 77px,#11b6cc 78px,#85c856 79px,#fdcc34 80px,#f9fb15 81px,#f9fb15 94px,#f8dd2b 100px,#f9fb15 107px,#f9fb15 125px,#f8dd2b 131px,#f7ed20 135px,#fac337 137px,#a4c73e 138px,#30c69d 139px,#13b0d7 140px,#2b8cf3 141px,#2c8bf3 142px,#1ca5e0 170px,#3280f9 209px"></i><i style="--g:#3e26a8 0px,#3e26a8 76px,#4130bf 78px,#4751f2 79px,#229de6 80px,#c9c231 81px,#f9fb15 82px,#f9fa16 98px,#f8dd2b 104px,#f9fa16 111px,#f9fb15 124px,#fad72f 125px,#d7c02d 126px,#56c97d 127px,#0fbebb 128px,#2698ea 134px,#3d71fe 144px,#4538d3 166px,#3f28ad 209px"></i><i style="--g:#402cb5 0px,#4643e1 31px,#3d71fe 45px,#2896ec 54px,#0fbcbe 60px,#3ac894 63px,#a8c73b 67px,#e1c02d 69px,#fdc935 71px,#f9fb15 76px,#f9fb15 88px,#f8dd2b 93px,#f9fb15 98px,#f9fb15 110px,#f8dd2b 115px,#f9fb15 120px,#f9fb15 132px,#f6e626 152px,#fcc337 161px,#ddbf2b 163px,#a1c741 165px,#0fbeb9 169px,#2896ec 172px,#3b73fd 175px,#4334c9 183px,#3f2ab0 190px,#3e26a8 209px"></i><i style="--g:#3e26a8 0px,#3f2ab0 33px,#4437d1 50px,#3b73fd 63px,#2797eb 68px,#10b8c7 71px,#32c79b 73px,#6dc969 74px,#f8de2a 75px,#f9fb15 76px,#f9fb15 103px,#f8dd2b 113px,#f9fa16 123px,#f6e824 124px,#f6e626 168px,#fec736 183px,#dfbf2c 186px,#abc739 188px,#3ac894 191px,#10bac3 193px,#2991ef 196px,#3e6fff 199px,#4646e5 203px,#412fbd 209px"></i><i style="--g:#3e26a8 0px,#3e27ab 78px,#4436ce 80px,#4263fa 81px,#11b3d3 82px,#dfbf2c 83px,#f9fb15 84px,#f9fa16 100px,#f8dd2b 106px,#f9fb15 112px,#f9fb15 129px,#f8df2a 137px,#f6c235 138px,#abc739 139px,#9ac846 140px,#35c799 147px,#0fbdbc 152px,#2895ec 164px,#3e6fff 181px,#4642df 209px"></i><i style="--g:#3e27ab 0px,#4334c9 47px,#3d71fe 70px,#229de6 79px,#1ba6df 80px,#16c0b3 81px,#c3c332 82px,#f7e029 83px,#f9f817 84px,#f9fb15 106px,#f8dd2b 115px,#f9fb15 123px,#f9fb15 143px,#f7f01e 145px,#f8c336 146px,#6ac96c 147px,#11b4cf 148px,#2d88f6 149px,#4360f9 150px,#4334c9 152px,#3f2ab0 154px,#3e26a8 209px"></i><b style="--g:#3e26a8 0px,#3e26a8 70px,#4232c4 74px,#4265fb 76px,#2a90f0 77px,#18c1b1 78px,#bac535 79px,#fad82e 80px,#f7ee1f 81px,#f8de2a 86px,#f9fb15 92px,#f9fb15 111px,#f8dd2b 118px,#f9f817 124px,#f9fb15 137px,#f7f01e 138px,#fdc836 139px,#a8c73b 140px,#29c5a3 141px,#1ba6df 142px,#4362fa 144px,#4437d1 146px,#3e26a8 151px,#3e26a8 209px"></b><i style="--g:#2c8af5 0px,#11b4d1 81px,#1bc1af 82px,#f6c235 83px,#f9fb15 84px,#f9fb15 106px,#f8dd2b 115px,#f9fb15 133px,#e5c02e 135px,#8cc851 136px,#52c980 137px,#10bbc0 139px,#20a0e4 141px,#2c8af5 144px,#11b4cf 209px"></i><i style="--g:#3e26a8 0px,#3e27ab 75px,#4232c4 77px,#4749e9 78px,#347dfa 79px,#10bac3 80px,#c9c231 81px,#f7ee1f 82px,#f9fb15 83px,#f8dd2b 91px,#f9fb15 96px,#f9fb15 108px,#f8dd2b 113px,#f9fb15 118px,#f9fb15 130px,#f8dd2b 135px,#f9fb15 140px,#f9f817 153px,#fbd530 157px,#ebc131 158px,#9ac846 159px,#32c79b 160px,#11b2d4 161px,#3e6fff 163px,#4334c9 166px,#3e26a8 171px,#3e26a8 209px"></i><i style="--g:#3e26a8 0px,#3e26a8 71px,#4436ce 73px,#3a75fd 74px,#3ec891 75px,#f6e327 76px,#f8de2a 81px,#f9fb15 88px,#f9fb15 109px,#f8dd2b 118px,#f9fb15 125px,#f9fb15 146px,#f8dd2b 155px,#f9f817 159px,#f9f718 172px,#f6e725 183px,#fec338 190px,#bac535 193px,#45c88b 196px,#10bbc0 198px,#367afb 203px,#474beb 209px"></i><i style="--g:#3e26a8 0px,#3e26a8 71px,#4333c7 75px,#3f6cfd 77px,#2896ec 78px,#29c5a3 79px,#d5c12e 80px,#f6e327 81px,#f9fb15 82px,#f9fa16 96px,#f8dd2b 102px,#f9fb15 110px,#f9fb15 128px,#f6e626 129px,#aec638 130px,#1bc1af 131px,#239be7 135px,#3d71fe 141px,#4335cc 156px,#3f2ab0 173px,#3e26a8 209px"></i><i style="--g:#3e26a8 0px,#3e26a8 6px,#3e6fff 7px,#3e6fff 9px,#3e6fff 19px,#3e26a8 20px,#3e26a8 77px,#4231c2 80px,#3f6cfd 82px,#1ea1e2 83px,#67c96e 84px,#fccd34 85px,#f9fb15 86px,#f9fa16 101px,#f8dd2b 108px,#f9fb15 116px,#f9fb15 136px,#f8dd2b 144px,#f9fb15 158px,#fad82e 159px,#edc131 164px,#a4c73e 169px,#3ac894 176px,#0fbebb 181px,#2797eb 192px,#3d71fe 209px"></i><i style="--g:#3e26a8 0px,#3e26a8 77px,#4232c4 79px,#455bf7 80px,#13b0d7 81px,#e9c130 82px,#f9fb15 83px,#f8dd2b 94px,#f9fb15 103px,#f9fb15 125px,#f8dd2b 133px,#f7ee1f 138px,#fbd331 139px,#efc132 140px,#ccc230 157px,#85c856 162px,#0fbeb9 167px,#219ee5 170px,#3b73fd 174px,#4335cc 182px,#3f28ad 191px,#3e26a8 209px"></i><i style="--g:#3e26a8 0px,#3f28ad 72px,#4231c2 74px,#4360f9 76px,#2b8cf3 77px,#0fbeb9 78px,#b1c637 79px,#f9da2d 80px,#f9fb15 81px,#f9fa16 92px,#f8dd2b 99px,#f9fb15 109px,#f9fb15 133px,#f6e824 141px,#fdc935 143px,#e1c02d 144px,#abc739 145px,#1bc1af 148px,#20a0e4 151px,#3b73fd 156px,#4749e9 162px,#4333c7 170px,#3e26a8 209px"></i><i style="--g:#3f28ad 0px,#412fbd 28px,#4645e3 50px,#3e6fff 64px,#2797eb 74px,#11b7ca 79px,#89c853 80px,#f8de2a 81px,#f9fb15 87px,#f9fb15 101px,#f8dd2b 106px,#f9fa16 111px,#f9fb15 125px,#f9fa16 126px,#efc132 128px,#c6c332 129px,#c3c332 152px,#a8c73b 163px,#6ac96c 169px,#0fbeb9 174px,#2896ec 178px,#3e6fff 182px,#4334c9 190px,#3e26a8 209px"></i><i style="--g:#3e26a8 0px,#3e26a8 75px,#4130bf 78px,#4642df 79px,#3d71fe 80px,#17abdb 81px,#85c856 82px,#fcd231 83px,#f9fb15 92px,#f9fb15 114px,#f8dd2b 123px,#f9fb15 136px,#f9da2d 137px,#fec338 139px,#dfbf2c 141px,#a4c73e 144px,#3ec891 149px,#0fbebb 153px,#2698ea 161px,#3d71fe 174px,#4334c9 209px"></i><i style="--g:#3e26a8 0px,#3e26a8 79px,#4130bf 81px,#4751f2 82px,#1da3e1 83px,#ddbf2b 84px,#f8f11d 85px,#f8dd2b 90px,#f9fb15 98px,#f9fb15 105px,#f8f619 106px,#fcd032 107px,#aec638 111px,#37c897 116px,#0fbeb9 119px,#2698ea 126px,#3d71fe 137px,#4437d1 162px,#3f28ad 209px"></i><i style="--g:#3e26a8 0px,#3e26a8 83px,#402cb5 85px,#4559f7 87px,#2a90f0 88px,#3ec891 89px,#fec736 90px,#f9fb15 91px,#f8dd2b 99px,#f9fb15 105px,#f9fb15 119px,#f8dd2b 124px,#f9fa16 129px,#f9fb15 137px,#f8c336 139px,#f1c233 175px,#d2c12f 186px,#8cc851 191px,#14c0b5 196px,#2894ed 200px,#3a75fd 203px,#453edb 209px"></i><i style="--g:#3e26a8 0px,#3e27ab 39px,#4334c9 58px,#3b73fd 70px,#2698ea 74px,#11b7ca 76px,#16c0b3 77px,#3ac894 78px,#b4c536 80px,#fad92d 81px,#f9fb15 82px,#f9fa16 92px,#f8dd2b 96px,#f9fb15 101px,#f9fa16 114px,#f8dd2b 118px,#f9fb15 123px,#f9fb15 135px,#fccf33 137px,#fec338 139px,#aec638 145px,#37c897 153px,#0fbdbc 158px,#2797eb 169px,#357cfb 181px,#4648e7 209px"></i><i style="--g:#3e26a8 0px,#3f28ad 81px,#4232c4 83px,#4263fa 85px,#2b8ef1 86px,#11bfb7 87px,#bac535 88px,#f8df2a 89px,#f9fb15 92px,#f9fa16 104px,#f8dd2b 108px,#f9fb15 113px,#f9fb15 125px,#f8dd2b 130px,#f9fa16 134px,#f9fb15 141px,#f8df2a 142px,#dfbf2c 143px,#4fc983 144px,#10bac3 145px,#2698ea 150px,#3d71fe 159px,#4538d3 179px,#3f2ab0 209px"></i><i style="--g:#3e26a8 0px,#3e26a8 73px,#3f2ab0 75px,#4756f5 77px,#2797eb 78px,#82c959 79px,#f7e228 80px,#f9fb15 86px,#f9fb15 114px,#f8dd2b 123px,#f8f31b 131px,#fec637 133px,#c0c433 134px,#59c97a 135px,#0fbebb 136px,#1ea1e2 137px,#3e6fff 139px,#474ced 141px,#4538d3 145px,#3f2ab0 156px,#3e26a8 209px"></i><i style="--g:#3e26a8 0px,#3f2ab0 68px,#453bd7 80px,#3c72fe 87px,#2b8cf3 89px,#14c0b5 90px,#c0c433 91px,#f7e029 92px,#f9f817 93px,#f8dd2b 99px,#f9fb15 106px,#f9fb15 123px,#f8dd2b 130px,#f9fb15 139px,#f3c234 141px,#8cc851 142px,#60c974 143px,#14c0b5 146px,#10bbc1 147px,#2894ed 152px,#3d71fe 159px,#4538d3 176px,#3f28ad 209px"></i><i style="--g:#3e26a8 0px,#3f2ab0 60px,#453ad5 72px,#3b73fd 80px,#2894ed 83px,#45c88b 84px,#fdc935 85px,#f9fb15 86px,#f8dd2b 100px,#f9fb15 111px,#f7f01e 141px,#f7eb22 142px,#f3c234 143px,#6dc969 144px,#20c2ab 145px,#11b4d1 146px,#259ae9 147px,#3f6dfe 150px,#453bd7 155px,#3f28ad 166px,#3e26a8 209px"></i><i style="--g:#3e26a8 0px,#3f2ab0 41px,#453ad5 60px,#3c72fe 72px,#2894ed 77px,#0fbdbc 81px,#45c88b 83px,#b1c637 84px,#fad92d 85px,#f9fb15 86px,#f8dd2b 94px,#f9fb15 99px,#f9fb15 113px,#f8dd2b 118px,#f9fb15 124px,#f9fb15 136px,#fdca35 137px,#abc739 141px,#3ac894 147px,#0fbebb 151px,#2797eb 160px,#3e6fff 174px,#4335cc 209px"></i><i style="--g:#3e26a8 0px,#412fbd 53px,#4749e9 67px,#3e6fff 74px,#2698ea 80px,#16c0b3 84px,#82c959 87px,#f6c235 88px,#f8de2a 89px,#f9fa16 93px,#f9fb15 107px,#f8dd2b 112px,#f9fa16 117px,#f9fb15 131px,#f8dd2b 136px,#f9fa16 141px,#f9fb15 149px,#f3c234 151px,#74c963 152px,#18c1b1 153px,#11bfb7 154px,#2b8ef1 175px,#4657f6 209px"></i><b style="--g:#3e26a8 0px,#3e26a8 2px,#3084f8 3px,#3084f8 27px,#3e26a8 28px,#3e26a8 81px,#4436ce 85px,#3779fb 87px,#17abdb 88px,#63c971 89px,#fec438 90px,#f9fb15 91px,#f9fb15 117px,#f8dd2b 126px,#f9fa16 137px,#f7ed20 138px,#fcc337 139px,#7fc95b 140px,#10bbc1 141px,#2a8ff1 142px,#3f6cfd 143px,#4437d1 145px,#3f2bb2 147px,#3e26a8 150px,#3e26a8 209px"></b><i style="--g:#3e26a8 0px,#3e27ab 80px,#402db8 81px,#4645e3 82px,#2b8df2 83px,#93c84b 84px,#f9fb15 85px,#f8dd2b 89px,#f9fb15 94px,#f9fa16 106px,#f8dd2b 110px,#f9fb15 115px,#f9fb15 126px,#f8dd2b 130px,#f9fb15 135px,#f9fb15 146px,#f8dd2b 151px,#f8f21c 154px,#f8dd2b 156px,#f9dc2c 209px"></i><i style="--g:#3e26a8 0px,#3e26a8 82px,#412eba 84px,#453edb 85px,#3a75fd 86px,#10bbc0 87px,#ebc131 88px,#f9fb15 89px,#f8dd2b 97px,#f9fb15 102px,#f9fa16 117px,#f8dd2b 122px,#f9fb15 128px,#f9fa16 142px,#f8dd2b 147px,#f9fb15 154px,#f6e327 155px,#ccc230 156px,#5cc977 157px,#16c0b3 159px,#2797eb 163px,#3b73fd 168px,#4437d1 181px,#3e27ab 209px"></i><i style="--g:#3e26a8 0px,#3f28ad 53px,#4437d1 72px,#3b73fd 84px,#2993ee 88px,#10b7c8 91px,#16c0b3 92px,#71c966 93px,#fccf33 94px,#f6e427 95px,#f8dd2b 98px,#f9fb15 104px,#f9fb15 122px,#f8dd2b 129px,#f9fa16 135px,#f9fb15 146px,#fec537 148px,#aec638 149px,#3ac894 150px,#11b5cd 151px,#3b73fd 160px,#4437d1 176px,#3e27ab 209px"></i><i style="--g:#3e26a8 0px,#3e26a8 87px,#4232c4 90px,#474ced 91px,#2f85f7 92px,#24c4a7 93px,#f8c336 94px,#f9fb15 95px,#f8dd2b 105px,#f9fb15 113px,#f9fb15 131px,#f8dd2b 138px,#f9f817 144px,#f9fb15 158px,#f7ee1f 159px,#fec537 160px,#d5c12e 161px,#cfc12f 187px,#a8c73b 197px,#74c963 201px,#11bfb7 206px,#1da3e1 209px"></i><i style="--g:#3e26a8 0px,#3e26a8 7px,#337efa 8px,#337efa 19px,#3e26a8 20px,#3e26a8 80px,#4333c7 84px,#4167fc 86px,#2a90f0 87px,#16c0b3 88px,#b4c536 89px,#fad72f 90px,#f9f817 94px,#f9fb15 113px,#f8dd2b 120px,#f9fb15 126px,#f9fb15 144px,#f8dd2b 151px,#f9fa16 157px,#f9fb15 168px,#fcc337 171px,#b7c536 174px,#35c799 179px,#0fbcbe 182px,#2698ea 188px,#3280f9 194px,#474ced 209px"></i><i style="--g:#3e26a8 0px,#3f28ad 38px,#4436ce 61px,#3c72fe 76px,#2698ea 82px,#11bfb7 86px,#48c889 88px,#ebc131 89px,#f8f11d 90px,#f9fb15 92px,#f9fa16 104px,#f8dd2b 108px,#f9fb15 113px,#f9fb15 124px,#f8dd2b 128px,#f9fb15 133px,#f7ee1f 182px,#fec338 199px,#dfbf2c 201px,#a4c73e 203px,#14c0b5 207px,#18a9dc 209px"></i><i style="--g:#3e26a8 0px,#3f28ad 46px,#4436ce 65px,#3d71fe 78px,#12b1d6 85px,#b4c536 86px,#f9fb15 87px,#f9fb15 101px,#f8dd2b 106px,#f9fa16 112px,#f9fb15 128px,#f6e626 132px,#fec537 134px,#edc131 135px,#e9c130 198px,#d5c12e 209px"></i><i style="--g:#3f28ad 0px,#4437d1 48px,#3e6fff 72px,#2698ea 83px,#11bfb7 90px,#3ec891 93px,#f5c234 94px,#f6e327 95px,#f8dd2b 97px,#f9fb15 101px,#f9fa16 114px,#f8dd2b 118px,#f9fb15 123px,#f9fb15 135px,#f8dd2b 140px,#f9fb15 145px,#f9fb15 157px,#f8dd2b 161px,#f9fb15 166px,#f9fb15 173px,#fcce33 174px,#9ec743 175px,#59c97a 176px,#0fbebb 182px,#2895ec 192px,#4167fc 209px"></i><i style="--g:#30c69d 0px,#0fbeb9 14px,#229de6 43px,#0fbebb 75px,#2ec69f 89px,#6dc969 90px,#fec537 91px,#f9fb15 92px,#f9f817 104px,#f8dd2b 110px,#f9fb15 120px,#f9fb15 138px,#f8dd2b 147px,#f9fb15 154px,#fbd62f 156px,#fec438 175px,#dac02c 179px,#aec638 181px,#30c69d 185px,#29c5a3 186px,#20c2ab 209px"></i><i style="--g:#4231c2 0px,#4645e3 35px,#3e6fff 62px,#2797eb 82px,#0fbdbc 94px,#30c69d 99px,#fcd231 100px,#f8f51a 101px,#f9fb15 104px,#f9fb15 128px,#f8dd2b 137px,#f9fb15 147px,#f9fb15 164px,#f8f31b 165px,#e9c130 166px,#e7c02f 209px"></i><i style="--g:#3f2bb2 0px,#453bd7 40px,#3d71fe 65px,#259ae9 78px,#11bfb7 86px,#45c88b 90px,#aec638 95px,#d5c12e 96px,#f8f11d 97px,#f9fb15 98px,#f9fa16 106px,#f8dd2b 113px,#f9fb15 122px,#f9fb15 143px,#f8dd2b 150px,#f9fb15 159px,#f9fb15 180px,#f8dd2b 188px,#f9fb15 196px,#f9fb15 209px"></i><i style="--g:#11b4d1 0px,#2c8af5 46px,#13b0d7 92px,#4fc983 93px,#e3c02e 94px,#f6e327 95px,#f8f619 97px,#f9fb15 111px,#f8dd2b 117px,#f9fb15 122px,#f9fb15 135px,#f9f718 136px,#f8c336 138px,#cfc12f 139px,#ccc230 209px"></i><i style="--g:#3e26a8 0px,#3e26a8 7px,#2f85f7 8px,#2f85f7 90px,#3e26a8 91px,#3f28ad 93px,#4436ce 95px,#4852f4 96px,#2e87f7 97px,#0fbebb 98px,#c9c231 99px,#f6e626 100px,#f8de2a 104px,#f9fb15 108px,#f9fb15 119px,#f8dd2b 124px,#f9fb15 128px,#f9fa16 140px,#f8dd2b 144px,#f9f817 148px,#e9c130 150px,#4fc983 151px,#17abdb 152px,#3a75fd 160px,#453ad5 176px,#3f28ad 209px"></i><i style="--g:#10b9c5 0px,#2b8ef1 66px,#2895ec 88px,#11b5cd 91px,#14c0b5 92px,#ddbf2b 93px,#f9fb15 94px,#f9fb15 112px,#f8dd2b 119px,#f9fb15 130px,#f7f01e 131px,#f6c235 132px,#f3c234 209px"></i><i style="--g:#3e26a8 0px,#3e26a8 89px,#402db8 92px,#455bf7 94px,#2991ef 95px,#3ac894 96px,#fec438 97px,#f9fa16 98px,#f8dd2b 102px,#f9fb15 107px,#f9fb15 118px,#f8dd2b 122px,#f9fb15 127px,#f9fb15 138px,#f8df2a 140px,#f8dd2b 174px,#fec537 186px,#dfbf2c 189px,#b1c637 191px,#0fbeb9 196px,#2797eb 199px,#3976fc 202px,#4538d3 209px"></i><i style="--g:#3e26a8 0px,#3e26a8 7px,#2992ef 8px,#2992ef 87px,#4640dd 88px,#2e87f7 90px,#11b4cf 91px,#74c963 92px,#fec338 93px,#f8f51a 94px,#f9fb15 95px,#f9f817 109px,#f8dd2b 117px,#f9fb15 129px,#f9fb15 157px,#f8dd2b 166px,#f8f619 175px,#fbd430 177px,#fcc337 183px,#abc739 195px,#41c88e 209px"></i><i style="--g:#3e26a8 0px,#3e27ab 97px,#402db8 98px,#474ced 99px,#1ca5e0 100px,#f5c234 101px,#f9fa16 102px,#f9fb15 103px,#f9fb15 121px,#f8dd2b 128px,#f9fb15 136px,#f9fb15 150px,#fcc337 151px,#d5c12e 152px,#abc739 165px,#78c960 169px,#14c0b5 174px,#2797eb 178px,#3e6fff 182px,#4437d1 189px,#3f2bb2 209px"></i><i style="--g:#3f2ab0 0px,#4538d3 45px,#3f6dfe 72px,#2896ec 85px,#10bbc0 93px,#35c799 97px,#97c849 102px,#aec638 103px,#fac337 104px,#f8f31b 105px,#f9fb15 106px,#f8dd2b 112px,#f9fb15 118px,#f9fa16 131px,#f8dd2b 135px,#f9fa16 140px,#f9fb15 153px,#f8f11d 154px,#fec637 155px,#8cc851 156px,#0fbebb 157px,#2895ec 158px,#3b73fd 162px,#453ad5 173px,#3f2bb2 188px,#3e27ab 209px"></i><b style="--g:#3e26a8 0px,#3e27ab 83px,#4335cc 89px,#474ced 91px,#3d71fe 92px,#259ae9 93px,#2ec69f 94px,#d7c02d 95px,#f6e327 96px,#f9fb15 98px,#f9fb15 122px,#f8dd2b 131px,#f9fb15 144px,#fad72f 146px,#fec438 201px,#c6c332 206px,#71c966 209px"></b><i style="--g:#3e26a8 0px,#3f2bb2 81px,#4645e3 92px,#3976fc 97px,#11b5cd 101px,#4fc983 102px,#fcce33 103px,#f9fb15 104px,#f9fb15 120px,#f8dd2b 130px,#f9f718 139px,#f9fb15 153px,#f7e129 154px,#d2c12f 155px,#7bc95e 156px,#0fbebb 167px,#2797eb 180px,#445ef9 209px"></i><i style="--g:#3e26a8 0px,#3e26a8 99px,#412eba 101px,#4642df 102px,#337efa 103px,#29c5a3 104px,#fcce33 105px,#f9f718 107px,#f9fa16 121px,#f8dd2b 126px,#f9fa16 130px,#f9fb15 143px,#f8dd2b 148px,#f9fb15 153px,#f9fb15 165px,#fccd34 167px,#c0c433 168px,#59c97a 169px,#0fbdbc 176px,#2895ec 187px,#4360f9 209px"></i><i style="--g:#3e26a8 0px,#3f2ab0 64px,#453ad5 76px,#3b73fd 84px,#2894ed 87px,#11b7ca 89px,#1dc2ad 90px,#9ac846 92px,#e1c02d 93px,#fcd132 94px,#f9fb15 95px,#f9fb15 106px,#f8dd2b 113px,#f9fb15 122px,#f9fb15 142px,#f7ee1f 144px,#e1c02d 145px,#2bc5a1 146px,#0fbeb9 160px,#239be7 209px"></i><i style="--g:#3e26a8 0px,#3e26a8 96px,#3f2bb2 98px,#4437d1 99px,#3f6dfe 100px,#0fbebb 101px,#fdc836 102px,#f9f718 103px,#f8dd2b 108px,#f9fb15 116px,#f9fb15 134px,#f6e427 139px,#f9f718 140px,#f6e923 209px"></i><i style="--g:#3e26a8 0px,#3e26a8 93px,#3f2bb2 96px,#453bd7 98px,#347dfa 100px,#1ba6df 101px,#37c897 102px,#c9c231 103px,#fbd530 104px,#f9fb15 112px,#f9fb15 131px,#f8dd2b 139px,#f9fb15 148px,#edc131 150px,#9ec743 151px,#41c88e 157px,#11bfb7 162px,#2d88f6 181px,#474eee 209px"></i><i style="--g:#2e87f7 0px,#13b0d7 71px,#1ca5e0 100px,#11b6cc 101px,#9ac846 102px,#f7e129 103px,#f9fb15 104px,#f8dd2b 122px,#f9fb15 132px,#f9fb15 160px,#f9f817 162px,#fdc836 164px,#bdc434 165px,#6ac96c 166px,#0fbdbc 170px,#2991ef 176px,#14aed9 209px"></i><i style="--g:#3e26a8 0px,#3e26a8 5px,#2c8af5 6px,#2c8af5 17px,#3e26a8 18px,#3f2ab0 57px,#4436ce 73px,#3c72fe 86px,#2896ec 91px,#10b9c5 94px,#18c1b1 95px,#48c889 96px,#f6c235 97px,#f9f718 98px,#f8dd2b 105px,#f9fb15 112px,#f9fb15 132px,#f8dd2b 141px,#f9fb15 148px,#f9fb15 169px,#f9f817 170px,#f3c234 172px,#f1c233 209px"></i><i style="--g:#3e26a8 0px,#3e27ab 85px,#4437d1 94px,#406afd 98px,#20a0e4 100px,#7fc95b 101px,#fbd62f 102px,#f9fb15 112px,#f9fb15 140px,#f8df2a 153px,#fec637 154px,#c0c433 155px,#56c97d 156px,#10bbc1 157px,#337efa 159px,#4640dd 162px,#402db8 168px,#3e26a8 209px"></i><i style="--g:#2c8bf4 0px,#3976fc 39px,#229de6 99px,#32c79b 100px,#d7c02d 101px,#f7e228 102px,#f9fb15 103px,#f9fb15 112px,#f8dd2b 120px,#f9fb15 130px,#f7ee1f 148px,#e3c02e 149px,#2ec69f 150px,#0fbeb9 152px,#2895ec 161px,#3878fc 171px,#2a8ff1 209px"></i><i style="--g:#3e26a8 0px,#3f28ad 60px,#4436ce 82px,#3e6fff 96px,#2698ea 102px,#10b8c7 105px,#14c0b5 106px,#71c966 107px,#f7e129 108px,#f9fb15 109px,#f9fb15 120px,#f8dd2b 127px,#f9fb15 139px,#f9db2c 140px,#f3c234 141px,#dfbf2c 150px,#b1c637 155px,#14c0b5 162px,#20a0e4 165px,#3a75fd 169px,#4643e1 174px,#412fbd 180px,#3e26a8 209px"></i><i style="--g:#3e26a8 0px,#3e26a8 98px,#412fbd 100px,#474ced 101px,#2991ef 102px,#89c853 103px,#f8f21c 104px,#f9fb15 105px,#f9fa16 115px,#f8dd2b 122px,#f9fa16 130px,#f9fb15 145px,#fec736 147px,#bac535 148px,#48c889 149px,#10b7c8 150px,#2895ec 151px,#3d71fe 153px,#4334c9 167px,#3f2ab0 181px,#3e26a8 209px"></i><i style="--g:#3e26a8 0px,#3f28ad 67px,#453dd9 83px,#3e6fff 90px,#2797eb 94px,#10b8c7 96px,#20c2ab 97px,#ddbf2b 100px,#fec338 101px,#f9fb15 102px,#f9fb15 125px,#f8dd2b 134px,#f9f817 143px,#f9fb15 157px,#fdc836 159px,#fec637 209px"></i><i style="--g:#3e26a8 0px,#3f28ad 76px,#4437d1 87px,#3c72fe 94px,#20a0e4 97px,#11b6cc 98px,#27c4a5 99px,#74c963 100px,#efc132 101px,#f6e824 102px,#f9fb15 134px,#f8dd2b 142px,#f9fb15 150px,#f9fb15 171px,#f6e725 176px,#fec338 179px,#bac535 182px,#35c799 187px,#0fbcbe 190px,#2797eb 196px,#4263fa 209px"></i><i style="--g:#3e26a8 0px,#3e27ab 100px,#4334c9 102px,#337efa 104px,#10b8c7 105px,#b4c536 106px,#f7e129 107px,#f9fb15 113px,#f9fb15 136px,#f6e923 141px,#fbd331 142px,#c6c332 143px,#3ac894 144px,#15acda 145px,#4263fa 147px,#412fbd 150px,#3e26a8 154px,#3e26a8 209px"></i><i style="--g:#3e26a8 0px,#3e27ab 88px,#453ad5 96px,#406afd 99px,#1da3e1 101px,#29c5a3 102px,#ccc230 103px,#fad72f 104px,#f9fb15 105px,#f9fb15 121px,#f8dd2b 131px,#f8f51a 139px,#fccf33 140px,#8cc851 141px,#11b5cd 142px,#3181f9 143px,#4754f5 144px,#4646e5 145px,#3f2ab0 152px,#3e26a8 209px"></i><i style="--g:#2a8ff1 0px,#10b9c5 29px,#2b8ef1 69px,#0fbcbe 105px,#d7c02d 106px,#f9f718 107px,#f9fa16 119px,#f8dd2b 127px,#f9fb15 135px,#fec438 138px,#d2c12f 140px,#c9c231 195px,#a8c73b 202px,#37c897 209px"></i><i style="--g:#3f2ab0 0px,#4538d3 42px,#3f6dfe 69px,#2896ec 82px,#0fbcbe 90px,#37c897 94px,#b1c637 100px,#fac337 104px,#f9fb15 107px,#f9fb15 114px,#f8dd2b 119px,#f9fb15 125px,#f9fb15 138px,#f8dd2b 143px,#f9fb15 149px,#e9c130 151px,#6ac96c 152px,#10b8c7 153px,#2698ea 156px,#3d71fe 162px,#453edb 173px,#412eba 186px,#3e27ab 209px"></i><i style="--g:#3e26a8 0px,#4333c7 59px,#3d71fe 84px,#259ae9 93px,#0fbcbe 98px,#3ec891 101px,#97c849 104px,#efc132 105px,#f9fb15 106px,#f8dd2b 120px,#f9fb15 128px,#f9fb15 149px,#f8dd2b 157px,#f9fa16 165px,#f9fb15 177px,#f8f31b 178px,#f6c235 179px,#dfbf2c 190px,#abc739 195px,#0fbebb 202px,#239be7 205px,#3d71fe 209px"></i><b style="--g:#19a8dd 0px,#3083f8 88px,#2992ef 111px,#89c853 112px,#f8f11d 113px,#f9fb15 114px,#f8dd2b 122px,#f9fb15 129px,#f9fb15 146px,#f8dd2b 153px,#f9fa16 158px,#fec438 160px,#bac535 161px,#52c980 162px,#0fbcbe 163px,#19a8dd 164px,#2797eb 209px"></b><i style="--g:#3e26a8 0px,#3f28ad 57px,#4538d3 82px,#3f6dfe 96px,#14aed9 105px,#b1c637 106px,#f9fb15 107px,#f9fb15 127px,#f8dd2b 136px,#f9fb15 146px,#f9fb15 164px,#f6e923 165px,#f7e029 189px,#fec537 197px,#bac535 201px,#0fbeb9 206px,#2896ec 209px"></i><i style="--g:#3e26a8 0px,#3e26a8 107px,#4333c7 111px,#4068fc 113px,#2993ee 114px,#20c2ab 115px,#c6c332 116px,#f8df2a 117px,#f9fb15 118px,#f9fa16 130px,#f8dd2b 138px,#f9fb15 148px,#f9fb15 166px,#fcd032 168px,#cfc12f 169px,#5cc977 170px,#10bbc1 171px,#347dfa 173px,#4538d3 176px,#3f2ab0 179px,#3e26a8 209px"></i><i style="--g:#402cb5 0px,#453bd7 50px,#3e6fff 83px,#2698ea 101px,#0fbeb9 112px,#e7c02f 113px,#f9fb15 114px,#f8dd2b 121px,#f9fb15 127px,#f9fa16 141px,#f8dd2b 146px,#f9fb15 152px,#f8f619 209px"></i><i style="--g:#3f2ab0 0px,#453ad5 54px,#3d71fe 84px,#2896ec 98px,#10b8c7 106px,#97c849 107px,#fad72f 108px,#f9fa16 113px,#f9fb15 126px,#f8dd2b 131px,#f9fa16 135px,#f9fb15 144px,#f9da2d 145px,#d2c12f 146px,#d2c12f 209px"></i><i style="--g:#3e26a8 0px,#402cb5 94px,#453bd7 99px,#3e6fff 103px,#2797eb 105px,#11b7ca 106px,#45c88b 107px,#ccc230 108px,#fbd62f 109px,#f9fb15 110px,#f9fb15 121px,#f8dd2b 128px,#f9fb15 134px,#f9fb15 148px,#f5c234 150px,#dac02c 186px,#a4c73e 191px,#10bbc0 198px,#2698ea 201px,#3e6fff 205px,#4648e7 209px"></i><i style="--g:#3e27ab 0px,#402cb5 37px,#453bd7 63px,#3d71fe 83px,#2797eb 93px,#0fbeb9 100px,#2ec69f 102px,#fdc935 103px,#f9f817 104px,#f9fb15 105px,#f9fb15 125px,#f8dd2b 132px,#f9fb15 140px,#f9fb15 159px,#fdcb34 167px,#c9c231 168px,#5cc977 169px,#32c79b 170px,#11bfb7 172px,#259ae9 178px,#3c72fe 187px,#4437d1 209px"></i><i style="--g:#3e26a8 0px,#3e27ab 118px,#4335cc 120px,#4167fc 121px,#10bac3 122px,#fec637 123px,#f9fb15 124px,#f9fb15 147px,#f8dd2b 157px,#f9fa16 167px,#f9fb15 180px,#fcce33 182px,#d5c12e 183px,#1bc1af 185px,#11b4d1 186px,#2993ee 189px,#3f6cfd 195px,#4436ce 209px"></i><i style="--g:#3e26a8 0px,#3e26a8 6px,#1da3e1 7px,#1da3e1 68px,#3e26a8 69px,#3e27ab 77px,#412fbd 88px,#4640dd 94px,#3976fc 100px,#11b4cf 104px,#1bc1af 105px,#78c960 106px,#fccf33 107px,#f9fb15 108px,#f9fb15 120px,#f8dd2b 126px,#f9fa16 132px,#f9fb15 148px,#f8dd2b 154px,#f6e626 158px,#fccf33 159px,#dfbf2c 160px,#82c959 161px,#27c4a5 162px,#0fbeb9 163px,#2698ea 170px,#3d71fe 181px,#4335cc 209px"></i><i style="--g:#3e26a8 0px,#3e26a8 101px,#3f2bb2 103px,#4657f6 105px,#2993ee 106px,#60c974 107px,#fbd62f 108px,#f9fb15 109px,#f9fb15 117px,#f8dd2b 123px,#f9fb15 131px,#f9fb15 149px,#f8dd2b 155px,#f9fa16 162px,#f9fb15 170px,#fdc836 172px,#c0c433 173px,#59c97a 174px,#0fbcbe 175px,#229de6 176px,#406afd 178px,#4436ce 181px,#3f2ab0 184px,#3e26a8 209px"></i><i style="--g:#4263fa 0px,#347dfa 94px,#3280f9 95px,#10b8c7 96px,#aec638 97px,#f7e029 98px,#f9fb15 99px,#f9fa16 104px,#f8dd2b 108px,#f9fb15 113px,#f9fb15 126px,#f8dd2b 131px,#f9fb15 136px,#f9fa16 149px,#f8dd2b 153px,#f9fa16 158px,#f9fb15 164px,#fcd132 167px,#fcd032 209px"></i><i style="--g:#3e26a8 0px,#3f2ab0 65px,#453bd7 84px,#3d71fe 95px,#229de6 101px,#0fbdbc 104px,#24c4a7 105px,#7bc95e 106px,#fdcc34 107px,#f9fb15 108px,#f9fb15 114px,#f8dd2b 119px,#f9fb15 124px,#f9fa16 137px,#f8dd2b 142px,#f9fb15 147px,#f9fa16 160px,#f8dd2b 165px,#f9fb15 172px,#f9db2c 174px,#f9db2c 209px"></i><i style="--g:#3e26a8 0px,#4360f9 1px,#4360f9 42px,#3e26a8 43px,#3e26a8 103px,#3f2ab0 105px,#4852f4 107px,#2993ee 108px,#71c966 109px,#f9db2c 110px,#f6e725 111px,#f8dd2b 116px,#f9fb15 125px,#f6e824 209px"></i><i style="--g:#3e26a8 0px,#3e26a8 99px,#3f2bb2 102px,#453dd9 104px,#4559f7 105px,#2f85f7 106px,#11b5cd 107px,#7fc95b 108px,#fdc935 109px,#f9fb15 110px,#f8dd2b 124px,#f9fb15 134px,#f9fb15 157px,#f8dd2b 165px,#f7e029 209px"></i><i style="--g:#3e26a8 0px,#3e26a8 1px,#4068fc 2px,#4068fc 10px,#2a90f0 12px,#11b6cc 13px,#48c889 14px,#b4c536 15px,#fac337 16px,#f9dc2c 18px,#fec537 20px,#c6c332 21px,#59c97a 22px,#10bac3 23px,#2894ed 24px,#4068fc 26px,#4068fc 88px,#3e26a8 89px,#3e26a8 101px,#3f28ad 103px,#4437d1 105px,#4559f7 106px,#2a8ff1 107px,#32c79b 108px,#fac337 109px,#f9fb15 110px,#f9fa16 120px,#f8dd2b 126px,#f9fb15 134px,#f9fb15 153px,#f8dd2b 160px,#f9f817 166px,#f9fb15 179px,#fec537 182px,#fec338 189px,#e9c130 197px,#b4c536 202px,#10bbc0 209px"></i><i style="--g:#3e26a8 0px,#3f28ad 58px,#4335cc 77px,#3b73fd 91px,#2698ea 96px,#10bbc1 99px,#3ac894 101px,#cfc12f 104px,#f9da2d 105px,#f9fb15 106px,#f8dd2b 118px,#f9fa16 126px,#f9fb15 141px,#fdc836 144px,#abc739 147px,#27c4a5 151px,#10bac3 153px,#2698ea 157px,#3f6dfe 165px,#4436ce 182px,#3f28ad 209px"></i><i style="--g:#3e26a8 0px,#3e26a8 112px,#4437d1 114px,#3878fc 115px,#4bc986 116px,#f7ee1f 117px,#f9fb15 118px,#f8dd2b 128px,#f9fa16 133px,#f9fa16 148px,#f8de2a 152px,#f6e327 155px,#edc131 156px,#e1c02d 209px"></i><i style="--g:#3e26a8 0px,#3e27ab 71px,#4232c4 90px,#4643e1 97px,#3d71fe 104px,#2992ef 108px,#10b7c8 111px,#3ac894 113px,#9ac846 114px,#f6e427 115px,#f9fb15 120px,#f9fb15 140px,#f8dd2b 149px,#f9fb15 156px,#f8df2a 157px,#fec438 160px,#efc132 198px,#b4c536 205px,#56c97d 209px"></i><i style="--g:#3e26a8 0px,#3e27ab 56px,#4335cc 81px,#3e6fff 95px,#239be7 101px,#0fbcbe 104px,#41c88e 106px,#a1c741 108px,#f8c336 110px,#f9fb15 112px,#f9fa16 124px,#f8dd2b 129px,#f9fb15 135px,#f9fa16 149px,#f8dd2b 154px,#f9fa16 159px,#f9fb15 170px,#f8f31b 171px,#fccd34 172px,#fccd34 209px"></i><b style="--g:#3e26a8 0px,#3e26a8 110px,#4231c2 112px,#4852f4 113px,#2797eb 114px,#9ec743 115px,#f8f619 116px,#f9fb15 117px,#f8dd2b 126px,#f9fb15 133px,#f9fb15 150px,#f8dd2b 157px,#f7f01e 161px,#fccf33 163px,#cfc12f 165px,#c9c231 179px,#abc739 187px,#82c959 191px,#11bfb7 197px,#2f85f7 203px,#4648e7 209px"></b><i style="--g:#3e27ab 0px,#402db8 42px,#4538d3 62px,#3e6fff 85px,#2895ec 95px,#0fbdbc 102px,#35c799 105px,#b1c637 110px,#fec438 114px,#f8dd2b 115px,#f9fb15 122px,#f9fb15 139px,#f8dd2b 146px,#f9fa16 152px,#fccf33 155px,#fec438 209px"></i><i style="--g:#3e26a8 0px,#3e26a8 98px,#4130bf 101px,#3f6cfd 103px,#1ca5e0 104px,#78c960 105px,#fbd430 106px,#f9fb15 107px,#f9fb15 122px,#f8dd2b 131px,#f9fa16 144px,#e3c02e 146px,#abc739 147px,#52c980 149px,#18c1b1 151px,#229de6 155px,#3a75fd 161px,#4437d1 176px,#3e27ab 209px"></i><i style="--g:#3e26a8 0px,#4362fa 1px,#4362fa 27px,#3e26a8 28px,#3e26a8 90px,#4436ce 106px,#3878fc 112px,#2895ec 113px,#4bc986 114px,#fdc836 115px,#f9fb15 116px,#f9fb15 136px,#f8dd2b 145px,#f9f817 153px,#f9fb15 167px,#f9dc2c 168px,#efc132 169px,#90c84e 170px,#27c4a5 171px,#13b0d7 172px,#3e6fff 190px,#4645e3 209px"></i><i style="--g:#3e26a8 0px,#3f2ab0 70px,#453bd7 91px,#3e6fff 103px,#2896ec 109px,#0fbcbe 113px,#37c897 115px,#89c853 117px,#fcce33 118px,#f9fb15 119px,#f9f817 130px,#f8dd2b 137px,#f9fa16 147px,#f9fb15 159px,#fcd231 161px,#fec537 188px,#ddbf2b 193px,#9ec743 196px,#0fbdbc 201px,#2797eb 204px,#445ef9 209px"></i><i style="--g:#3e26a8 0px,#3e26a8 108px,#4333c7 116px,#4068fc 119px,#2b8cf3 120px,#4fc983 121px,#f7e129 122px,#f9fb15 123px,#f8dd2b 132px,#f9fb15 139px,#f9fa16 156px,#e9c130 158px,#82c959 159px,#1bc1af 160px,#1ca5e0 161px,#4068fc 163px,#4335cc 166px,#3e26a8 172px,#3e26a8 209px"></i><i style="--g:#3f28ad 0px,#4538d3 58px,#3e6fff 87px,#2797eb 101px,#0fbeb9 110px,#3ec891 114px,#89c853 118px,#fcd032 119px,#f8f619 120px,#f9fb15 123px,#f9fb15 149px,#f8dd2b 159px,#f9fb15 172px,#e1c02d 174px,#abc739 175px,#3ac894 179px,#0fbdbc 182px,#2896ec 188px,#3181f9 193px,#4648e7 209px"></i><i style="--g:#2d89f5 0px,#11b4d1 67px,#2894ed 109px,#11b7ca 112px,#16c0b3 113px,#3ac894 114px,#74c963 115px,#f5c234 116px,#f8dd2b 117px,#f9fb15 123px,#f9fb15 137px,#f8dd2b 143px,#f9f718 147px,#fdc935 149px,#ebc131 175px,#c3c332 184px,#9ac846 187px,#11bfb7 193px,#11b2d4 195px,#11b3d3 209px"></i><i style="--g:#3e26a8 0px,#3e26a8 80px,#412fbd 98px,#4640dd 104px,#3f6cfd 109px,#2a90f0 112px,#11b6cc 114px,#20c2ab 115px,#b7c536 117px,#fec338 118px,#f9fb15 120px,#f9fa16 135px,#f8dd2b 140px,#f9fb15 147px,#f9fa16 163px,#f8dd2b 169px,#f9f817 174px,#f6e824 175px,#f7e228 194px,#fec438 204px,#d2c12f 207px,#97c849 209px"></i><i style="--g:#3e26a8 0px,#3e26a8 77px,#4130bf 97px,#4642df 103px,#3f6cfd 108px,#2a90f0 111px,#11b4cf 113px,#18c1b1 114px,#52c980 115px,#a4c73e 116px,#f8f619 117px,#f9fb15 118px,#f9fb15 127px,#f8dd2b 133px,#f9fb15 141px,#f9fb15 157px,#fec537 159px,#aec638 160px,#37c897 161px,#11b3d3 162px,#3b73fd 164px,#4538d3 167px,#3e27ab 172px,#3e26a8 209px"></i><i style="--g:#3e26a8 0px,#3e26a8 118px,#4231c2 120px,#4751f2 121px,#2698ea 122px,#abc739 123px,#f9fb15 124px,#f8dd2b 134px,#f9fb15 146px,#f8f21c 209px"></i><i style="--g:#3e27ab 0px,#402cb5 48px,#4538d3 73px,#3e6fff 97px,#2797eb 108px,#0fbdbc 115px,#45c88b 119px,#a4c73e 123px,#fec637 127px,#f9f817 128px,#f9fb15 129px,#f9fb15 140px,#f8dd2b 145px,#f9fb15 149px,#f9fa16 161px,#f8dd2b 165px,#f9fa16 169px,#f9fb15 174px,#f7e129 175px,#fcc337 191px,#b4c536 195px,#0fbebb 200px,#2b8cf3 204px,#4852f4 209px"></i><i style="--g:#3e26a8 0px,#412fbd 82px,#4648e7 96px,#3b73fd 104px,#229de6 110px,#1bc1af 114px,#35c799 115px,#f8dd2b 116px,#f9fb15 117px,#f9fb15 134px,#f8dd2b 143px,#f9fb15 157px,#f7e228 159px,#fec438 182px,#d7c02d 185px,#a1c741 187px,#35c799 190px,#10b8c7 192px,#357cfb 197px,#4265fb 209px"></i><i style="--g:#3e26a8 0px,#3e26a8 118px,#412fbd 120px,#4645e3 121px,#347dfa 122px,#18c1b1 123px,#fac337 124px,#f9fb15 125px,#f9fb15 135px,#f8dd2b 140px,#f9fa16 145px,#f9fb15 159px,#f1c233 166px,#f1c233 209px"></i><i style="--g:#3e26a8 0px,#3f2bb2 53px,#4538d3 81px,#3e6fff 103px,#259ae9 114px,#0fbdbc 120px,#90c84e 121px,#fcd231 122px,#f6e824 123px,#f8dd2b 126px,#f9fb15 133px,#f9fb15 141px,#fac337 148px,#c9c231 154px,#a1c741 158px,#3ac894 163px,#11bfb7 168px,#2896ec 182px,#4360f9 209px"></i><i style="--g:#3f28ad 0px,#4538d3 64px,#3d71fe 96px,#2896ec 110px,#0fbeb9 120px,#59c97a 126px,#c9c231 132px,#f9da2d 133px,#f9fb15 134px,#f9fb15 150px,#fcce33 157px,#d5c12e 158px,#0fbeb9 160px,#229de6 161px,#3976fc 163px,#4436ce 170px,#3f28ad 180px,#3e26a8 209px"></i><i style="--g:#3e26a8 0px,#3e26a8 124px,#4335cc 126px,#3c72fe 127px,#37c897 128px,#f6e923 129px,#f9fb15 130px,#f9fb15 147px,#f8dd2b 157px,#f9f817 166px,#f9fb15 180px,#fcd231 182px,#fec637 184px,#aec638 191px,#30c69d 200px,#0fbeb9 204px,#11b3d3 209px"></i><i style="--g:#3e26a8 0px,#3e27ab 124px,#412fbd 126px,#455bf7 128px,#2c8bf4 129px,#0fbeb9 130px,#bac535 131px,#f9dc2c 132px,#f7ee1f 133px,#f8dd2b 139px,#f9fb15 148px,#f9fb15 173px,#f8dd2b 182px,#f9fb15 199px,#fcc337 201px,#aec638 202px,#30c69d 205px,#10bac3 207px,#1ba6df 209px"></i><i style="--g:#3e26a8 0px,#3f28ad 73px,#4538d3 100px,#3e6fff 115px,#17abdb 124px,#63c971 125px,#fcd032 126px,#f9fb15 127px,#f9fa16 140px,#f8dd2b 148px,#f9fb15 159px,#f9fb15 175px,#fcd231 177px,#dfbf2c 178px,#1bc1af 180px,#2b8ef1 182px,#3976fc 184px,#4437d1 192px,#3e27ab 209px"></i><b style="--g:#3e26a8 0px,#4231c2 86px,#4643e1 101px,#3e6fff 114px,#2698ea 123px,#14c0b5 129px,#24c4a7 130px,#b1c637 131px,#f7eb22 132px,#f9fb15 133px,#f9fa16 138px,#f8dd2b 142px,#f9fb15 148px,#f9fb15 159px,#fbd430 160px,#e9c130 161px,#e7c02f 200px,#d5c12e 209px"></b><i style="--g:#3e26a8 0px,#3f2ab0 90px,#4437d1 106px,#3c72fe 118px,#1ba6df 124px,#20c2ab 125px,#dac02c 126px,#f6e725 127px,#f9fb15 130px,#f9fa16 145px,#f8dd2b 150px,#f9fb15 155px,#f9fb15 164px,#f5c234 166px,#c3c332 167px,#35c799 170px,#10bac3 172px,#2698ea 175px,#3f6dfe 181px,#453ad5 192px,#3f2bb2 209px"></i><i style="--g:#3e26a8 0px,#3e26a8 128px,#4130bf 131px,#3c72fe 133px,#12b1d6 134px,#a1c741 135px,#f7e129 136px,#f9fb15 137px,#f9fa16 144px,#f8dd2b 148px,#f9fb15 153px,#f8f21c 162px,#e9c130 163px,#a1c741 164px,#7bc95e 165px,#11bfb7 169px,#2698ea 174px,#3e6fff 182px,#453edb 195px,#4130bf 209px"></i><i style="--g:#3e26a8 0px,#3e26a8 2px,#239be7 3px,#239be7 75px,#3e27ab 76px,#3f28ad 82px,#4538d3 102px,#3e6fff 113px,#2894ed 118px,#10b7c8 121px,#32c79b 123px,#c6c332 126px,#f1c233 127px,#f9fa16 128px,#f9fb15 129px,#f9f817 144px,#f8dd2b 151px,#f9fb15 167px,#fccf33 168px,#e5c02e 169px,#d7c02d 181px,#a8c73b 187px,#30c69d 193px,#0fbcbe 195px,#259ae9 198px,#3d71fe 202px,#4437d1 209px"></i><i style="--g:#3e26a8 0px,#3e26a8 123px,#402cb5 128px,#4436ce 130px,#4265fb 132px,#2894ed 133px,#90c84e 134px,#f8f11d 135px,#f9fb15 136px,#f8dd2b 146px,#f9f817 153px,#f9fb15 169px,#f9fa16 170px,#fbd62f 171px,#dfbf2c 172px,#74c963 177px,#0fbeb9 185px,#229de6 194px,#3a75fd 209px"></i><i style="--g:#3e26a8 0px,#3f2bb2 89px,#453bd7 108px,#3d71fe 121px,#2993ee 127px,#10b8c7 131px,#bac535 132px,#f7f01e 133px,#f9fb15 134px,#f8dd2b 144px,#f9fb15 152px,#f9fb15 172px,#f8dd2b 180px,#f9fb15 188px,#f9fa16 209px"></i><i style="--g:#3e26a8 0px,#3e26a8 129px,#4130bf 131px,#4852f4 132px,#1ea1e2 133px,#d7c02d 134px,#f9fb15 135px,#f9fb15 158px,#f8dd2b 167px,#f9fb15 179px,#f7f01e 180px,#e3c02e 181px,#56c97d 182px,#14c0b5 187px,#2797eb 197px,#3a75fd 209px"></i><i style="--g:#3e26a8 0px,#3e26a8 124px,#4335cc 128px,#3976fc 130px,#1ba6df 131px,#5cc977 132px,#fcc337 133px,#f9fa16 134px,#f9fb15 135px,#f9f817 145px,#f8dd2b 153px,#f9fb15 164px,#f9fb15 183px,#f7ed20 184px,#fcc337 185px,#89c853 186px,#3ac894 187px,#0fbdbc 188px,#2698ea 190px,#3b73fd 193px,#453ad5 200px,#3f2bb2 209px"></i><i style="--g:#3e26a8 0px,#3e26a8 5px,#4559f7 6px,#4559f7 11px,#4559f7 61px,#3e26a8 62px,#3e26a8 129px,#4333c7 132px,#4749e9 133px,#357cfb 134px,#11b7ca 135px,#b1c637 136px,#f7e228 137px,#f8f619 138px,#f8dd2b 147px,#f9fb15 156px,#f9fb15 182px,#ebc131 185px,#bac535 187px,#35c799 192px,#16c0b3 194px,#2797eb 201px,#3878fc 209px"></i><i style="--g:#3f28ad 0px,#4538d3 68px,#3e6fff 104px,#2895ec 120px,#0fbdbc 131px,#48c889 132px,#f9dc2c 133px,#f9fb15 134px,#f8dd2b 141px,#f9fa16 146px,#f9fb15 154px,#f9fa16 160px,#f9dc2c 165px,#efc132 166px,#82c959 167px,#3ac894 168px,#35c799 169px,#0fbeb9 179px,#2993ee 209px"></i><i style="--g:#402db8 0px,#453dd9 56px,#3e6fff 100px,#2698ea 126px,#0fbebb 141px,#37c897 148px,#edc131 149px,#f9f817 150px,#f8dd2b 155px,#f9fa16 160px,#f9fb15 176px,#fbd62f 178px,#fec338 181px,#ddbf2b 195px,#abc739 200px,#0fbeb9 207px,#15acda 209px"></i><i style="--g:#3e26a8 0px,#3f28ad 92px,#4538d3 114px,#3b73fd 127px,#2797eb 132px,#14c0b5 136px,#52c980 138px,#b1c637 140px,#fec438 142px,#f8f21c 143px,#f9fb15 144px,#f9fa16 155px,#f8dd2b 159px,#f9fa16 164px,#f9fb15 172px,#f9fa16 173px,#f3c234 175px,#a1c741 176px,#78c960 177px,#0fbeb9 183px,#2c8bf3 194px,#4559f7 209px"></i><i style="--g:#3f28ad 0px,#4538d3 71px,#3e6fff 105px,#2797eb 121px,#14c0b5 132px,#3ac894 136px,#cfc12f 145px,#fbd62f 146px,#f9fb15 147px,#f9fb15 161px,#f8dd2b 167px,#f9fa16 173px,#f9fb15 187px,#fccd34 189px,#dac02c 209px"></i><i style="--g:#3e26a8 0px,#3f28ad 65px,#4538d3 96px,#3c72fe 114px,#2895ec 121px,#10bbc1 126px,#3ac894 129px,#9ec743 132px,#dfbf2c 134px,#f8f51a 135px,#f8dd2b 144px,#f9fb15 153px,#f9fb15 161px,#fcd032 163px,#ccc230 164px,#59c97a 165px,#10b9c5 166px,#2797eb 171px,#3f6dfe 182px,#4335cc 209px"></i><i style="--g:#3f28ad 0px,#3f28ad 1px,#2b8ef1 2px,#2b8ef1 35px,#402db8 36px,#453dd9 74px,#3e6fff 104px,#2895ec 120px,#11bfb7 132px,#45c88b 137px,#a8c73b 143px,#fcc337 149px,#f9fb15 160px,#f9fb15 179px,#f8dd2b 186px,#f9fb15 196px,#e1c02d 198px,#c6c332 199px,#c6c332 209px"></i><i style="--g:#11b6cc 0px,#20c2ab 42px,#10bac3 70px,#2896ec 120px,#10bbc0 126px,#3ec891 129px,#c0c433 133px,#f8c336 135px,#f8de2a 136px,#f9fb15 144px,#f9fa16 168px,#fccd34 170px,#f8c336 171px,#bdc434 173px,#35c799 177px,#0fbeb9 179px,#20c2ab 209px"></i><i style="--g:#3e26a8 0px,#3e26a8 142px,#4335cc 145px,#4852f4 146px,#2c8bf3 147px,#2bc5a1 148px,#f8c336 149px,#f9f718 150px,#f8dd2b 154px,#f9fb15 159px,#f9fb15 172px,#f8dd2b 177px,#f9fb15 185px,#e5c02e 186px,#18c1b1 187px,#2f85f7 188px,#474ff0 189px,#3f2bb2 191px,#3e26a8 209px"></i><i style="--g:#3e26a8 0px,#4130bf 86px,#4645e3 102px,#3c72fe 114px,#259ae9 122px,#0fbebb 127px,#6ac96c 131px,#aec638 133px,#f8c336 134px,#f9fb15 135px,#f8dd2b 145px,#f9fb15 152px,#f9fa16 168px,#f8dd2b 174px,#f9fb15 180px,#f9fb15 189px,#f9f718 190px,#fac337 191px,#8cc851 192px,#29c5a3 194px,#0fbdbc 195px,#2896ec 198px,#347dfa 201px,#4646e5 209px"></i><i style="--g:#3e26a8 0px,#3e27ab 121px,#4436ce 132px,#4068fc 137px,#2c8bf3 139px,#10bac3 141px,#48c889 142px,#f9da2d 143px,#f9fb15 144px,#f9fb15 166px,#f8dd2b 175px,#f7ec21 180px,#e7c02f 182px,#dfbf2c 209px"></i><b style="--g:#3e26a8 0px,#3e27ab 74px,#4436ce 107px,#3c72fe 124px,#259ae9 131px,#0fbcbe 135px,#32c79b 137px,#c6c332 141px,#fec537 143px,#f8f11d 144px,#f9fb15 146px,#f9fb15 162px,#f8dd2b 168px,#f9fb15 174px,#f9fb15 181px,#fec338 183px,#ddbf2b 192px,#7fc95b 209px"></b><i style="--g:#412eba 0px,#453dd9 52px,#3e6fff 96px,#2797eb 121px,#10bbc1 135px,#a4c73e 136px,#f9fb15 137px,#f9fb15 149px,#f8dd2b 154px,#f9fa16 160px,#f9fb15 176px,#fdc935 178px,#fec338 195px,#e3c02e 201px,#aec638 205px,#41c88e 209px"></i><i style="--g:#3e26a8 0px,#402db8 120px,#453dd9 130px,#3e6fff 138px,#2993ee 142px,#10bbc0 145px,#56c97d 147px,#d2c12f 149px,#fec438 150px,#f9fb15 152px,#f9f817 174px,#fad72f 180px,#fbd530 209px"></i><i style="--g:#3e26a8 0px,#3f2ab0 103px,#4538d3 121px,#3e6fff 133px,#2993ee 138px,#0fbdbc 142px,#71c966 145px,#a4c73e 146px,#fccd34 147px,#f9f817 148px,#f9fb15 164px,#f8dd2b 171px,#f9fb15 180px,#fcd032 181px,#e5c02e 182px,#d5c12e 202px,#9ac846 209px"></i><i style="--g:#3e26a8 0px,#3e26a8 139px,#402db8 142px,#455bf7 144px,#2a90f0 145px,#35c799 146px,#fac337 147px,#f9fb15 148px,#f8dd2b 157px,#f9fb15 168px,#f7eb22 209px"></i><i style="--g:#3e27ab 0px,#4335cc 4px,#3f6dfe 7px,#1ba6df 9px,#16c0b3 10px,#bac535 12px,#f1c233 13px,#fdcc34 16px,#f6c235 17px,#c6c332 18px,#20c2ab 20px,#15acda 21px,#3c72fe 23px,#4436ce 26px,#3e27ab 30px,#3e27ab 94px,#412fbd 113px,#4645e3 125px,#3c72fe 133px,#2797eb 138px,#10b9c5 141px,#7bc95e 142px,#fec736 143px,#f9fb15 144px,#f9fb15 150px,#f8dd2b 156px,#f9fb15 162px,#f9fb15 177px,#f8dd2b 184px,#fac337 185px,#4fc983 186px,#239be7 187px,#3b73fd 190px,#453ad5 197px,#3f2ab0 209px"></i><i style="--g:#3e26a8 0px,#3e26a8 107px,#4130bf 126px,#4643e1 132px,#3c72fe 137px,#2698ea 140px,#0fbebb 142px,#3ec891 143px,#8cc851 144px,#e1c02d 145px,#fbd530 146px,#f9fb15 147px,#f8dd2b 152px,#f9fb15 158px,#f9fb15 170px,#f8dd2b 175px,#f9fb15 180px,#f9fb15 193px,#f7ee1f 195px,#f8c336 197px,#f3c234 209px"></i><i style="--g:#3e26a8 0px,#3f2ab0 134px,#4437d1 142px,#3c72fe 148px,#2a90f0 150px,#10bbc1 152px,#41c88e 153px,#e9c130 154px,#f9fb15 155px,#f8dd2b 163px,#f9fb15 171px,#f9fa16 186px,#e5c02e 188px,#7bc95e 189px,#18c1b1 190px,#1ea1e2 191px,#3a75fd 197px,#453dd9 209px"></i><i style="--g:#3e26a8 0px,#3e27ab 116px,#4538d3 135px,#3e6fff 143px,#1ca5e0 147px,#4bc986 148px,#ebc131 149px,#f6e427 150px,#f8dd2b 154px,#f9fb15 160px,#f9fb15 178px,#f8dd2b 185px,#f9fb15 192px,#f9fb15 209px"></i><i style="--g:#3e26a8 0px,#3f28ad 86px,#4334c9 116px,#3d71fe 140px,#11b2d4 152px,#30c69d 153px,#cfc12f 154px,#f9dc2c 155px,#f9f817 160px,#f9fb15 179px,#fbd530 181px,#e3c02e 182px,#a8c73b 185px,#67c96e 189px,#16c0b3 196px,#2895ec 209px"></i><i style="--g:#3e26a8 0px,#3e26a8 132px,#3f2ab0 134px,#453ad5 136px,#4657f6 137px,#2e87f7 138px,#10b9c5 139px,#a1c741 140px,#fbd62f 141px,#f9fb15 142px,#f9f817 153px,#f8dd2b 161px,#f9fb15 177px,#fdcb34 179px,#cfc12f 180px,#14c0b5 182px,#18a9dc 183px,#219ee5 184px,#3c72fe 192px,#4538d3 209px"></i><i style="--g:#3e26a8 0px,#412eba 123px,#453dd9 133px,#3d71fe 142px,#259ae9 147px,#0fbebb 150px,#56c97d 152px,#c3c332 154px,#f8df2a 155px,#f9fb15 158px,#f9fa16 172px,#f8dd2b 177px,#f9fa16 182px,#f9fb15 196px,#fcd231 203px,#e9c130 204px,#90c84e 205px,#27c4a5 206px,#13b0d7 207px,#2797eb 209px"></i><i style="--g:#3e26a8 0px,#2f85f7 1px,#2f85f7 14px,#3e26a8 15px,#3e27ab 81px,#4232c4 112px,#4749e9 126px,#3e6fff 135px,#2993ee 142px,#10bac3 147px,#3ac894 150px,#a1c741 153px,#e7c02f 155px,#f8f31b 156px,#f9fb15 159px,#f9fb15 181px,#fad82e 188px,#efc132 189px,#9ec743 190px,#37c897 191px,#11b7ca 192px,#3280f9 194px,#3f6dfe 196px,#4335cc 209px"></i><i style="--g:#3e26a8 0px,#3f28ad 82px,#4334c9 112px,#3d71fe 136px,#2895ec 144px,#0fbdbc 150px,#1bc1af 151px,#71c966 152px,#fdcb34 153px,#f9fb15 154px,#f9fb15 172px,#f8dd2b 182px,#f8f31b 190px,#f9db2c 191px,#aec638 192px,#10bac3 193px,#3084f8 194px,#4852f4 195px,#402db8 197px,#3e26a8 209px"></i><i style="--g:#3e26a8 0px,#3f2ab0 82px,#453ad5 119px,#3e6fff 141px,#2797eb 152px,#0fbdbc 159px,#32c79b 162px,#8cc851 166px,#fbd530 167px,#f9fb15 174px,#f9fb15 195px,#f7e228 200px,#f8df2a 209px"></i><i style="--g:#3e26a8 0px,#3e27ab 124px,#4538d3 141px,#3f6cfd 148px,#229de6 152px,#11bfb7 154px,#45c88b 155px,#ccc230 156px,#f9fa16 157px,#f9fb15 165px,#f8dd2b 170px,#f9fa16 175px,#f9fb15 187px,#f9fa16 188px,#e5c02e 190px,#78c960 191px,#11bfb7 192px,#2698ea 198px,#4167fc 209px"></i><i style="--g:#3e26a8 0px,#3e26a8 145px,#3f2bb2 148px,#453dd9 150px,#455bf7 151px,#2d88f6 152px,#10b8c7 153px,#90c84e 154px,#fccf33 155px,#f9fa16 156px,#f8dd2b 166px,#f9fb15 183px,#f6c235 185px,#e7c02f 195px,#c9c231 200px,#9ec743 203px,#0fbebb 209px"></i><i style="--g:#3e26a8 0px,#412eba 118px,#453bd7 129px,#3e6fff 140px,#2797eb 146px,#10b8c7 149px,#2ec69f 151px,#7fc95b 153px,#fec637 154px,#f9fb15 155px,#f9fb15 156px,#f9f718 163px,#f8dd2b 167px,#f9fb15 173px,#f9fb15 188px,#f8de2a 193px,#fec637 194px,#abc739 201px,#37c897 209px"></i><i style="--g:#3e26a8 0px,#3f2bb2 155px,#474ced 163px,#3f6cfd 165px,#15acda 168px,#20c2ab 169px,#89c853 170px,#fcc337 171px,#f9fb15 173px,#f8dd2b 178px,#f9fb15 183px,#f9fb15 193px,#f7eb22 196px,#f8c336 198px,#edc131 209px"></i><b style="--g:#3e26a8 0px,#3f28ad 137px,#4437d1 158px,#3c72fe 171px,#2895ec 176px,#11bfb7 180px,#35c799 181px,#fccf33 182px,#f8f51a 183px,#f8dd2b 191px,#f9f817 198px,#f9fb15 209px"></b><i style="--g:#3e26a8 0px,#3e26a8 112px,#4130bf 143px,#4648e7 154px,#3b73fd 161px,#229de6 166px,#0fbeb9 169px,#2bc5a1 170px,#bdc434 171px,#f9fb15 172px,#f9fb15 179px,#f8dd2b 184px,#f9fb15 188px,#f9fb15 194px,#f8f21c 195px,#fdca35 196px,#ebc131 198px,#abc739 201px,#3ac894 206px,#11bfb7 209px"></i><i style="--g:#19a8dd 0px,#10b9c5 44px,#2b8df2 122px,#14aed9 165px,#29c5a3 166px,#e3c02e 167px,#f6e327 168px,#f9fb15 172px,#f9fb15 187px,#f8dd2b 193px,#f9f718 198px,#f6c235 200px,#9ac846 201px,#2ec69f 202px,#10b9c5 203px,#10b7c8 209px"></i><i style="--g:#3e26a8 0px,#3e27ab 157px,#412eba 162px,#4645e3 166px,#4754f5 167px,#2f85f7 168px,#16c0b3 169px,#e5c02e 170px,#f9fa16 171px,#f9fa16 184px,#f8de2a 192px,#f8f51a 193px,#f6e824 209px"></i><i style="--g:#3e26a8 0px,#3e26a8 117px,#412fbd 144px,#453edb 153px,#3f6cfd 161px,#2895ec 166px,#10bbc1 169px,#22c3a9 170px,#82c959 172px,#fdc935 173px,#f9fb15 174px,#f9fa16 183px,#f8dd2b 190px,#f8f11d 195px,#fec338 196px,#74c963 197px,#11b4d1 198px,#3084f8 199px,#4657f6 200px,#453bd7 201px,#3f2bb2 203px,#3e26a8 209px"></i><i style="--g:#3e26a8 0px,#3e27ab 100px,#4333c7 135px,#3c72fe 159px,#259ae9 167px,#0fbebb 172px,#4bc986 175px,#aec638 178px,#fec438 180px,#f9fb15 181px,#f8dd2b 186px,#f9fb15 190px,#f9fb15 201px,#f8dd2b 205px,#f8f619 208px,#fcd231 209px"></i><i style="--g:#3e26a8 0px,#3e27ab 31px,#4335cc 48px,#3c72fe 61px,#2896ec 67px,#10bbc0 72px,#35c799 75px,#b1c637 81px,#f3c234 86px,#fec537 101px,#b4c536 108px,#35c799 114px,#10bbc0 117px,#2797eb 122px,#3f6cfd 129px,#453ad5 139px,#402cb5 149px,#3f28ad 175px,#453ad5 177px,#4360f9 178px,#2698ea 179px,#67c96e 180px,#fbd530 181px,#f8f11d 182px,#f9fa16 184px,#f9fb15 201px,#f6e327 206px,#f5c234 207px,#89c853 208px,#2ec69f 209px"></i><i style="--g:#3e26a8 0px,#3e27ab 135px,#4436ce 158px,#3d71fe 170px,#239be7 175px,#11bfb7 178px,#30c69d 179px,#71c966 180px,#fdc935 181px,#f9fb15 182px,#f8dd2b 193px,#f9fb15 209px"></i><i style="--g:#3e26a8 0px,#3e26a8 61px,#4538d3 62px,#3d71fe 68px,#12b1d6 75px,#14c0b5 81px,#22c3a9 157px,#f9fb15 158px,#f9fb15 209px"></i><i style="--g:#10bbc0 0px,#10bbc0 53px,#fdc836 54px,#fdc836 157px,#f9fb15 158px,#f9fb15 209px"></i></div></div><div class="hm" style="left:1480px;top:418px;width:210.7px;height:1152px;background:#000000"><div style="filter:blur(0.9px);--h:4px"><i style="--g:#6f432b 0px,#72452c 26px,#834f33 39px,#160e09 40px,#915838 63px,#9f603d 71px,#834f33 79px,#22140d 96px,#040201 110px,#000 210px"></i><i style="--g:#ef915c 0px,#fe9d64 39px,#160e09 40px,#915838 63px,#9f603d 71px,#834f33 79px,#22140d 96px,#040201 110px,#000 210px"></i><i style="--g:#ef915c 0px,#fe9d64 39px,#160e09 40px,#3e2618 49px,#d38051 50px,#fe9a62 57px,#feae6f 63px,#feae6f 76px,#fe9b63 82px,#b56e46 95px,#945939 110px,#905737 210px"></i><i style="--g:#6f432b 0px,#6f432b 39px,#000 40px,#000 210px"></i><i style="--g:#000 0px,#020201 37px,#180e09 39px,#342014 40px,#643d27 41px,#f1925d 43px,#feae6f 44px,#feae6f 51px,#f5945e 52px,#b36c45 53px,#975c3a 54px,#5d3824 60px,#814e32 90px,#7c4b30 107px,#4e2f1e 146px,#6d422a 188px,#5e3924 196px,#1e120c 210px"></i><i style="--g:#000 0px,#060402 35px,#180e09 37px,#472b1b 39px,#fea066 43px,#feae6f 44px,#feae6f 52px,#fea066 53px,#a96641 56px,#6a4029 68px,#4e2f1e 77px,#4e2f1e 97px,#7e4c31 157px,#77482e 183px,#5b3723 210px"></i><i style="--g:#000 0px,#040201 37px,#180e09 39px,#311e13 40px,#5d3824 41px,#dc8555 43px,#feaa6c 44px,#fea66a 53px,#e48a58 54px,#804d31 56px,#643d27 59px,#3a2316 69px,#1a100a 83px,#040201 116px,#000 210px"></i><i style="--g:#000 0px,#020201 38px,#1a100a 40px,#3d2518 41px,#fea468 44px,#feae6f 45px,#fea469 53px,#e28957 54px,#b46d45 55px,#945939 64px,#42281a 101px,#180e09 148px,#060402 210px"></i><b style="--g:#000 0px,#040201 38px,#1d110b 40px,#402719 41px,#fea267 44px,#feae6f 45px,#feae6f 54px,#fea468 55px,#ec8f5b 56px,#804d31 59px,#6c4129 60px,#311e13 70px,#130b07 82px,#010100 112px,#000 210px"></b><i style="--g:#000 0px,#060402 23px,#291910 36px,#623b26 42px,#ba7148 43px,#feaa6c 44px,#feae6f 52px,#f5945e 54px,#845033 57px,#683f28 58px,#623b26 59px,#382216 69px,#1d110b 81px,#040201 116px,#000 210px"></i><i style="--g:#000 0px,#040201 40px,#22140d 42px,#4b2d1d 43px,#dc8555 45px,#feae6f 46px,#feae6f 53px,#e48a58 54px,#905737 55px,#543320 56px,#4a2d1c 57px,#22140d 63px,#090503 73px,#000 210px"></i><i style="--g:#000 0px,#060402 42px,#24160e 43px,#76472d 44px,#f5945e 45px,#feae6f 46px,#feae6f 54px,#fe9e65 55px,#6d422a 59px,#3a2316 61px,#0f0906 72px,#000 100px,#000 210px"></i><i style="--g:#000 0px,#010100 32px,#150d08 42px,#1c110b 43px,#402719 44px,#8b5436 45px,#eb8e5b 46px,#feae6f 47px,#feaa6c 53px,#a1623e 55px,#905737 59px,#5e3924 74px,#331f14 95px,#120b07 132px,#020201 210px"></i><i style="--g:#000 0px,#020201 23px,#150d08 36px,#4a2d1c 39px,#fe9d64 44px,#feae6f 45px,#fea96b 54px,#ee905c 55px,#905737 57px,#804d31 58px,#543320 70px,#28180f 91px,#0a0604 130px,#010100 210px"></i><i style="--g:#000 0px,#020201 40px,#160e09 42px,#362115 43px,#6a4029 44px,#fe9b63 46px,#feae6f 47px,#fead6e 53px,#cd7c4f 55px,#73462c 75px,#331f14 103px,#100a06 142px,#020201 210px"></i><i style="--g:#000 0px,#050302 43px,#150d08 44px,#452a1b 45px,#fea468 47px,#feae6f 48px,#feae6f 54px,#f99760 55px,#905737 57px,#77482e 58px,#472b1b 70px,#26170e 85px,#060402 126px,#000 210px"></i><i style="--g:#010100 0px,#130b07 13px,#6f432b 30px,#965b3a 46px,#fb9861 47px,#feae6f 48px,#feae6f 55px,#fea167 56px,#e48a58 57px,#6d422a 60px,#593622 61px,#331f14 67px,#130b07 78px,#010100 104px,#000 210px"></i><i style="--g:#000 0px,#080503 41px,#160e09 42px,#3a2316 43px,#77482e 44px,#ca7b4e 45px,#feaa6c 46px,#feae6f 55px,#fe9d64 56px,#4c2e1d 60px,#22140d 66px,#0e0805 73px,#000 99px,#000 210px"></i><i style="--g:#010100 0px,#080503 22px,#26170e 36px,#543320 43px,#fea167 46px,#feae6f 47px,#feaa6c 56px,#f8965f 57px,#834f33 60px,#472b1b 62px,#150d08 77px,#010100 109px,#000 210px"></i><i style="--g:#000 0px,#050302 44px,#140c08 45px,#412719 46px,#fe9d64 48px,#feae6f 49px,#feae6f 54px,#f2935e 56px,#de8756 59px,#804d31 79px,#985c3b 114px,#814e32 118px,#2c1a11 125px,#20140d 127px,#040201 210px"></i><i style="--g:#000 0px,#050302 30px,#1e120c 41px,#27170f 42px,#452a1b 43px,#e68b59 46px,#feab6d 47px,#feae6f 54px,#f1925d 55px,#b26b44 56px,#865134 57px,#5e3924 62px,#2a1a10 73px,#180e09 81px,#020201 110px,#000 210px"></i><i style="--g:#965b3a 0px,#915838 16px,#c4774c 35px,#d17e50 46px,#fea86b 47px,#feae6f 54px,#fea267 55px,#c6784c 56px,#c0754a 57px,#8c5536 79px,#965b3a 91px,#d17e50 115px,#ca7b4e 125px,#8c5536 151px,#945939 162px,#d17e50 188px,#c97a4e 198px,#a86541 210px"></i><i style="--g:#5f3a25 0px,#6a4029 21px,#51311f 46px,#b36c45 47px,#feab6d 48px,#feaa6c 57px,#f0915d 58px,#6c4129 61px,#301d12 63px,#20140d 64px,#0b0704 71px,#000 90px,#000 210px"></i><i style="--g:#342014 0px,#563421 29px,#563421 45px,#885335 46px,#d17e50 47px,#fea76b 48px,#feae6f 56px,#fe9d64 58px,#78492e 63px,#563421 65px,#2e1c12 75px,#190f0a 85px,#020201 120px,#000 210px"></i><i style="--g:#000 0px,#090503 38px,#372115 41px,#834f33 43px,#ea8e5a 45px,#feaa6c 46px,#feae6f 56px,#fb9861 57px,#915838 59px,#8c5536 60px,#553321 76px,#321e13 93px,#0b0704 140px,#010100 210px"></i><i style="--g:#000 0px,#090503 44px,#0f0906 45px,#372115 46px,#8b5436 47px,#f99760 48px,#feae6f 49px,#feae6f 56px,#fe9a62 57px,#8d5636 59px,#653d27 65px,#321e13 78px,#1c110b 89px,#040201 124px,#000 210px"></i><b style="--g:#0c0805 0px,#22140d 19px,#50301f 35px,#915838 46px,#a66540 47px,#fe9c63 48px,#feae6f 49px,#feae6f 57px,#fe9a62 58px,#683f28 61px,#362115 70px,#160e09 82px,#010100 117px,#000 210px"></b><i style="--g:#000 0px,#010100 45px,#080503 46px,#291910 47px,#875234 48px,#fea267 49px,#feae6f 50px,#fead6e 56px,#d48152 57px,#a96641 58px,#a0613e 60px,#643d27 78px,#372115 101px,#130b07 142px,#040201 210px"></i><i style="--g:#000 0px,#060402 43px,#28180f 45px,#543320 46px,#e18857 48px,#feae6f 49px,#feaa6c 56px,#cc7b4f 57px,#b56e46 58px,#975c3a 66px,#6c4129 81px,#402719 104px,#180e09 147px,#060402 210px"></i><i style="--g:#000 0px,#060402 46px,#1e120c 47px,#5d3824 48px,#c8794d 49px,#feae6f 50px,#feae6f 58px,#fea167 59px,#bf744a 61px,#5f3a25 77px,#72452c 94px,#6d422a 101px,#0f0906 120px,#000 210px"></i><i style="--g:#000 0px,#060402 32px,#26170e 44px,#3a2316 47px,#5f3a25 48px,#fe9b63 50px,#feae6f 51px,#feae6f 58px,#f99760 59px,#a2623f 79px,#4a2d1c 116px,#1f130c 156px,#0a0604 210px"></i><i style="--g:#000 0px,#000 33px,#0e0805 44px,#160e09 45px,#342014 46px,#683f28 47px,#fc9961 49px,#feae6f 50px,#feae6f 60px,#fb9861 62px,#5f3a25 68px,#51311f 71px,#885335 155px,#683f28 199px,#3d2518 210px"></i><i style="--g:#000 0px,#050302 27px,#20140d 42px,#4e2f1e 44px,#ec8f5b 48px,#fea76a 49px,#feae6f 57px,#fea468 58px,#603a25 61px,#28180f 69px,#0f0906 78px,#000 108px,#000 210px"></i><i style="--g:#000 0px,#020201 31px,#190f0a 44px,#3c2417 49px,#915838 50px,#fc9961 51px,#feae6f 52px,#fea96b 60px,#f8965f 61px,#b86f47 63px,#b46d45 64px,#7c4b30 85px,#543320 107px,#27170f 150px,#0e0805 210px"></i><i style="--g:#c7784d 0px,#8e5637 49px,#fe9a62 51px,#feae6f 52px,#feae6f 58px,#f99760 59px,#c7784d 60px,#865134 72px,#543320 86px,#301d12 103px,#0e0805 140px,#010100 210px"></i><i style="--g:#020201 0px,#0f0906 24px,#331f14 38px,#4f301e 43px,#845033 49px,#b26b44 50px,#fea569 51px,#feae6f 59px,#eb8e5b 60px,#a96641 61px,#945939 62px,#78492e 65px,#3c2417 75px,#1a100a 87px,#020201 119px,#000 210px"></i><i style="--g:#000 0px,#050302 45px,#1d110b 47px,#3b2417 48px,#694028 49px,#ec8f5b 51px,#feae6f 52px,#feae6f 59px,#fea368 60px,#da8454 61px,#a1623e 62px,#915838 63px,#804d31 81px,#875234 113px,#6e432a 120px,#24160e 132px,#0b0704 140px,#000 210px"></i><i style="--g:#875234 0px,#663e28 27px,#653d27 50px,#834f33 51px,#fb9861 52px,#feae6f 53px,#feae6f 60px,#f4945e 61px,#a96641 62px,#79492f 63px,#3e2618 76px,#26170e 86px,#050302 125px,#000 210px"></i><i style="--g:#000 0px,#020201 31px,#1c110b 44px,#50301f 50px,#b66f46 51px,#feae6f 52px,#feae6f 60px,#e78c59 61px,#b56e46 62px,#683f28 75px,#44291a 85px,#22140d 101px,#060402 139px,#000 210px"></i><i style="--g:#875234 0px,#663e28 26px,#74462d 50px,#8d5636 51px,#e68b59 52px,#feae6f 53px,#feae6f 60px,#fe9d64 62px,#905737 66px,#5b3723 78px,#2e1c12 96px,#090503 139px,#010100 210px"></i><i style="--g:#080503 0px,#190f0a 19px,#452a1b 35px,#71442b 43px,#a2623f 49px,#bc7248 51px,#fe9a62 52px,#feae6f 53px,#feae6f 62px,#fe9d64 64px,#73462c 70px,#472b1b 80px,#24160e 94px,#060402 129px,#000 210px"></i><i style="--g:#000 0px,#060402 32px,#26170e 43px,#3d2518 47px,#583522 48px,#f4945e 51px,#feae6f 52px,#feae6f 61px,#fb9861 62px,#c0754a 63px,#b46d45 64px,#bc7248 68px,#b06b44 73px,#2a1a10 92px,#060402 104px,#000 210px"></i><i style="--g:#000 0px,#050302 29px,#23150d 43px,#663e28 51px,#905737 52px,#d88353 53px,#feaa6c 54px,#feab6d 61px,#ec8f5b 62px,#bc7248 63px,#7a4a2f 69px,#563421 74px,#342014 81px,#160e09 93px,#020201 122px,#000 210px"></i><i style="--g:#000 0px,#060402 46px,#28180f 48px,#50301f 49px,#d27f51 51px,#fea76b 52px,#feac6d 61px,#f0915d 62px,#be7349 63px,#74462d 80px,#362115 107px,#0f0906 151px,#020201 210px"></i><b style="--g:#543320 0px,#523220 23px,#77482e 51px,#d78253 52px,#feae6f 53px,#feae6f 61px,#fea368 62px,#d88353 63px,#c3764b 64px,#b26b44 68px,#7c4b30 84px,#452a1b 110px,#160e09 159px,#080503 210px"></b><i style="--g:#000 0px,#060402 47px,#2a1a10 49px,#553321 50px,#e18857 52px,#feae6f 53px,#feae6f 61px,#f0915d 62px,#b56e46 63px,#7e4c31 70px,#73462c 79px,#a2623f 85px,#aa6742 88px,#965b3a 92px,#633c26 97px,#5b3723 134px,#090503 158px,#000 210px"></i><i style="--g:#000 0px,#010100 46px,#100a06 48px,#27170f 49px,#51311f 50px,#db8454 52px,#fead6e 53px,#feae6f 61px,#fe9a62 62px,#a56440 64px,#875234 65px,#623b26 71px,#382216 81px,#1c110b 94px,#040201 129px,#000 210px"></i><i style="--g:#010100 0px,#0a0604 29px,#2e1c12 45px,#523220 51px,#8d5636 52px,#f2935e 53px,#feae6f 54px,#feac6d 63px,#ee905c 64px,#b97047 65px,#aa6742 66px,#7a4a2f 73px,#4a2d1c 84px,#23150d 100px,#080503 132px,#000 210px"></i><i style="--g:#000 0px,#020201 32px,#190f0a 46px,#412719 52px,#78492e 53px,#cc7b4f 54px,#feab6d 55px,#fea66a 63px,#ee905c 64px,#a56440 66px,#9e5f3d 68px,#462a1b 105px,#180e09 154px,#080503 210px"></i><i style="--g:#000 0px,#060402 41px,#1e120c 44px,#44291a 46px,#804d31 48px,#f1925d 51px,#fea76b 52px,#feae6f 63px,#fea468 64px,#ee905c 65px,#a56440 67px,#79492f 72px,#3b2417 85px,#1e120c 97px,#040201 132px,#000 210px"></i><i style="--g:#000 0px,#060402 30px,#20140d 43px,#462a1b 49px,#834f33 54px,#955a39 55px,#ef915c 56px,#feae6f 57px,#feae6f 64px,#fea468 65px,#f4945e 66px,#aa6742 69px,#683f28 79px,#a4633f 124px,#a66540 142px,#865134 159px,#120b07 186px,#010100 210px"></i><i style="--g:#000 0px,#010100 38px,#100a06 48px,#402719 54px,#925938 55px,#fea96b 56px,#fead6e 62px,#b56e46 63px,#79492f 73px,#4b2d1d 85px,#291910 100px,#090503 138px,#000 210px"></i><i style="--g:#000 0px,#050302 34px,#22140d 48px,#331f14 51px,#663e28 52px,#fe9d64 54px,#feae6f 55px,#feae6f 64px,#fe9e65 65px,#78492e 68px,#301d12 94px,#0a0604 137px,#010100 210px"></i><i style="--g:#000 0px,#020201 48px,#190f0a 50px,#3a2316 51px,#6f432b 52px,#fe9d64 54px,#feae6f 55px,#feae6f 63px,#fea167 64px,#b26b44 65px,#8b5436 66px,#452a1b 78px,#1d110b 93px,#040201 126px,#000 210px"></i><i style="--g:#000 0px,#010100 51px,#190f0a 53px,#472b1b 54px,#fe9c63 56px,#feae6f 57px,#feae6f 63px,#e68b59 64px,#a66540 65px,#9e5f3d 67px,#694028 82px,#3a2316 104px,#130b07 145px,#040201 210px"></i><i style="--g:#000 0px,#040201 24px,#180e09 27px,#583522 31px,#663e28 34px,#5e3924 52px,#683f28 53px,#fea267 55px,#feae6f 56px,#feae6f 62px,#da8454 64px,#a2623f 72px,#6d422a 83px,#2d1b11 107px,#0b0704 144px,#010100 210px"></i><i style="--g:#000 0px,#020201 37px,#180e09 50px,#382216 55px,#feae6f 57px,#feae6f 64px,#fe9a62 65px,#77482e 68px,#663e28 69px,#372115 81px,#1f130c 92px,#050302 127px,#000 210px"></i><i style="--g:#000 0px,#080503 30px,#27170f 44px,#633c26 52px,#8c5536 53px,#fe9d64 55px,#feae6f 56px,#feae6f 65px,#fa9760 66px,#9b5e3c 68px,#824f32 69px,#6e432a 73px,#44291a 85px,#24160e 100px,#090503 134px,#000 210px"></i><i style="--g:#000 0px,#090503 31px,#291910 44px,#4a2d1c 49px,#76472d 53px,#aa6742 54px,#fe9e65 55px,#feae6f 56px,#feae6f 63px,#f5945e 64px,#c8794d 65px,#985c3b 75px,#683f28 89px,#3c2417 109px,#130b07 151px,#040201 210px"></i><i style="--g:#000 0px,#060402 33px,#24160e 48px,#412719 53px,#6a4029 54px,#fe9d64 56px,#feae6f 57px,#fea469 65px,#b66f46 67px,#72452c 74px,#3e2618 83px,#160e09 98px,#020201 128px,#000 210px"></i><i style="--g:#000 0px,#020201 51px,#1f130c 53px,#553321 54px,#fea468 56px,#feae6f 57px,#feac6d 65px,#e68b59 66px,#a96641 67px,#915838 68px,#643d27 75px,#3b2417 85px,#1f130c 97px,#050302 130px,#000 210px"></i><i style="--g:#000 0px,#050302 50px,#190f0a 52px,#331f14 53px,#5b3723 54px,#d27f51 56px,#fea469 57px,#feae6f 65px,#fea368 66px,#e78c59 67px,#965b3a 69px,#6c4129 77px,#27170f 102px,#080503 141px,#000 210px"></i><b style="--g:#000 0px,#050302 47px,#160e09 49px,#472b1b 51px,#fea167 55px,#feae6f 56px,#fea86b 66px,#e78c59 67px,#db8454 68px,#965b3a 84px,#44291a 118px,#1d110b 154px,#080503 210px"></b><i style="--g:#000 0px,#020201 34px,#1e120c 50px,#4f301e 56px,#b06b44 57px,#feaa6c 58px,#feae6f 65px,#fea066 66px,#d48152 68px,#b06b44 73px,#c3764b 98px,#b26b44 118px,#8b5436 129px,#24160e 146px,#090503 156px,#010100 210px"></i><i style="--g:#000 0px,#020201 34px,#190f0a 48px,#44291a 54px,#72452c 55px,#ec8f5b 57px,#feae6f 58px,#feae6f 65px,#f99760 66px,#905737 68px,#7a4a2f 69px,#563421 73px,#331f14 79px,#120b07 91px,#010100 117px,#000 210px"></i><i style="--g:#885335 0px,#5b3723 54px,#5e3924 55px,#bf744a 56px,#feae6f 57px,#fea86b 66px,#e68b59 67px,#7a4a2f 69px,#6c4129 70px,#331f14 80px,#160e09 91px,#020201 119px,#000 210px"></i><i style="--g:#000 0px,#090503 30px,#28180f 45px,#593622 53px,#74462d 54px,#e18857 56px,#fea76b 57px,#feae6f 67px,#f6955f 69px,#6f432b 73px,#3d2518 75px,#140c08 78px,#050302 81px,#000 210px"></i><i style="--g:#000 0px,#010100 40px,#140c08 51px,#3e2618 53px,#6d422a 54px,#eb8e5b 56px,#feae6f 57px,#feae6f 66px,#e28957 67px,#aa6742 68px,#633c26 76px,#362115 85px,#180e09 97px,#020201 128px,#000 210px"></i><i style="--g:#000 0px,#020201 53px,#1f130c 55px,#4c2e1d 56px,#ee905c 58px,#feae6f 59px,#feae6f 66px,#fe9a62 67px,#c0754a 68px,#ac6843 69px,#73462c 79px,#2c1a11 103px,#090503 142px,#000 210px"></i><i style="--g:#000 0px,#020201 49px,#120b07 51px,#44291a 53px,#ec8f5b 56px,#feae6f 57px,#feae6f 67px,#fea468 68px,#c97a4e 70px,#74462d 84px,#482c1c 96px,#27170f 112px,#090503 149px,#010100 210px"></i><i style="--g:#000 0px,#010100 53px,#160e09 55px,#42281a 56px,#945939 57px,#f99760 58px,#feae6f 59px,#feac6d 68px,#de8756 69px,#5d3824 71px,#372115 72px,#1d110b 76px,#090503 83px,#000 210px"></i><i style="--g:#000 0px,#090503 33px,#2d1b11 49px,#523220 55px,#643d27 56px,#db8454 58px,#fea76a 59px,#feae6f 67px,#fea468 68px,#ea8e5a 69px,#985c3b 71px,#824f32 73px,#543320 86px,#2a1a10 106px,#100a06 134px,#040201 176px,#120b07 183px,#523220 199px,#2c1a11 210px"></i><i style="--g:#000 0px,#0a0604 33px,#2c1a11 48px,#5f3a25 56px,#78492e 57px,#e28957 58px,#feae6f 59px,#feae6f 68px,#fe9b63 69px,#804d31 72px,#6f432b 74px,#452a1b 84px,#23150d 98px,#060402 132px,#000 210px"></i><i style="--g:#000 0px,#0b0704 35px,#2d1b11 50px,#4e2f1e 56px,#845033 57px,#ce7d50 58px,#fea76b 59px,#feae6f 68px,#f1925d 69px,#885335 71px,#51311f 84px,#291910 101px,#0a0604 136px,#000 210px"></i><i style="--g:#180e09 0px,#372115 16px,#523220 56px,#875234 57px,#d68152 58px,#fead6e 59px,#feac6d 69px,#de8756 70px,#9a5d3b 71px,#6c4129 95px,#331f14 146px,#140c08 210px"></i><i style="--g:#000 0px,#040201 48px,#190f0a 51px,#412719 53px,#fe9f65 58px,#feae6f 59px,#feae6f 69px,#fe9d64 70px,#8d5636 72px,#72452c 73px,#412719 84px,#22140d 97px,#050302 134px,#000 210px"></i><i style="--g:#000 0px,#060402 35px,#23150d 49px,#4a2d1c 55px,#72452c 56px,#fe9f65 58px,#feae6f 59px,#feae6f 68px,#fe9a62 69px,#a4633f 71px,#8c5536 72px,#3e2618 103px,#150d08 144px,#040201 210px"></i><i style="--g:#000 0px,#040201 56px,#0e0805 57px,#2d1b11 58px,#6e432a 59px,#cd7c4f 60px,#feae6f 61px,#fead6e 69px,#fb9861 70px,#804d31 73px,#402719 75px,#23150d 79px,#0c0805 87px,#000 112px,#000 210px"></i><i style="--g:#000 0px,#020201 53px,#150d08 55px,#311e13 56px,#5f3a25 57px,#ec8f5b 59px,#feae6f 60px,#feae6f 69px,#f6955f 70px,#c2754b 71px,#74462d 80px,#3b2417 92px,#1e120c 104px,#050302 134px,#000 210px"></i><b style="--g:#000 0px,#040201 51px,#140c08 53px,#452a1b 55px,#6e432a 56px,#dc8555 58px,#fea569 59px,#feae6f 70px,#fea167 71px,#ac6843 74px,#7a4a2f 89px,#482c1c 112px,#20140d 147px,#080503 210px"></b><i style="--g:#000 0px,#040201 53px,#1d110b 55px,#3c2417 56px,#6e432a 57px,#f6955f 59px,#feae6f 60px,#feae6f 68px,#eb8e5b 69px,#a66540 70px,#a2623f 71px,#583522 105px,#24160e 153px,#0c0805 210px"></i><i style="--g:#050302 0px,#1f130c 35px,#462a1b 50px,#78492e 60px,#feac6d 62px,#feae6f 69px,#fea167 70px,#985c3b 72px,#74462d 73px,#3c2417 85px,#1f130c 97px,#050302 129px,#000 210px"></i><i style="--g:#000 0px,#060402 44px,#26170e 48px,#7d4c30 54px,#845033 56px,#77482e 58px,#f2935e 60px,#feae6f 61px,#feae6f 68px,#fe9d64 69px,#9b5e3c 71px,#74462d 76px,#482c1c 86px,#26170e 100px,#080503 133px,#000 210px"></i><i style="--g:#000 0px,#050302 54px,#2d1b11 57px,#7d4c30 59px,#f0915d 61px,#feae6f 62px,#feae6f 69px,#e28957 70px,#9b5e3c 71px,#845033 72px,#76472d 74px,#482c1c 82px,#1f130c 96px,#050302 125px,#000 210px"></i><i style="--g:#000 0px,#010100 44px,#130b07 56px,#24160e 59px,#5e3924 60px,#b97047 61px,#feaa6c 62px,#fea66a 72px,#eb8e5b 73px,#4f301e 77px,#412719 78px,#100a06 91px,#010100 113px,#000 210px"></i><i style="--g:#020201 0px,#0f0906 28px,#2c1a11 42px,#4f301e 50px,#7c4b30 56px,#8a5335 57px,#fb9861 59px,#feae6f 60px,#fea66a 72px,#f5945e 73px,#925938 76px,#74462d 80px,#482c1c 88px,#1e120c 103px,#050302 132px,#000 210px"></i><i style="--g:#0c0805 0px,#2c1a11 7px,#8a5335 18px,#a4633f 24px,#a0613e 34px,#76472d 58px,#7a4a2f 59px,#ae6943 60px,#fea167 61px,#feae6f 62px,#feae6f 66px,#feae6f 71px,#fea167 72px,#382216 77px,#130b07 79px,#060402 81px,#000 210px"></i><i style="--g:#000 0px,#020201 55px,#180e09 57px,#382216 58px,#fea468 61px,#feae6f 62px,#feae6f 72px,#fea066 73px,#ef915c 74px,#653d27 79px,#452a1b 81px,#140c08 97px,#010100 129px,#000 210px"></i><i style="--g:#000 0px,#020201 57px,#1d110b 59px,#4e2f1e 60px,#fc9961 62px,#feae6f 63px,#feae6f 72px,#fc9961 73px,#7e4c31 76px,#3e2618 78px,#150d08 90px,#010100 118px,#000 210px"></i><i style="--g:#010100 0px,#090503 30px,#24160e 47px,#4c2e1d 56px,#7e4c31 62px,#fea468 64px,#feae6f 65px,#feae6f 72px,#fea167 73px,#e88d5a 74px,#7d4c30 77px,#6c4129 78px,#362115 87px,#150d08 99px,#020201 125px,#000 210px"></i><i style="--g:#040201 0px,#100a06 25px,#382216 47px,#6e432a 58px,#e78c59 61px,#fea368 62px,#feae6f 63px,#feae6f 73px,#f6955f 74px,#9f603d 76px,#72452c 81px,#3e2618 90px,#1a100a 103px,#020201 136px,#000 210px"></i><i style="--g:#000 0px,#090503 35px,#2d1b11 51px,#663e28 59px,#905737 60px,#e08856 61px,#feae6f 62px,#feaa6c 72px,#f1925d 73px,#9e5f3d 75px,#965b3a 76px,#4c2e1d 91px,#27170f 106px,#060402 145px,#000 210px"></i><i style="--g:#020201 0px,#0e0805 27px,#331f14 48px,#73462c 61px,#8a5335 62px,#e18857 63px,#feae6f 64px,#feae6f 71px,#fe9f65 72px,#74462d 75px,#6c4129 76px,#452a1b 85px,#24160e 98px,#080503 129px,#000 210px"></i><i style="--g:#000 0px,#080503 55px,#1c110b 57px,#4c2e1d 59px,#fe9f65 63px,#feae6f 64px,#fea86b 73px,#eb8e5b 74px,#8d5636 76px,#7e4c31 78px,#4c2e1d 92px,#301d12 105px,#0c0805 141px,#010100 210px"></i><i style="--g:#000 0px,#040201 39px,#22140d 56px,#472b1b 62px,#77482e 63px,#d78253 64px,#feae6f 65px,#fead6e 73px,#d78253 74px,#905737 75px,#5a3723 82px,#321e13 91px,#180e09 102px,#020201 134px,#000 210px"></i><i style="--g:#010100 0px,#0e0805 31px,#342014 48px,#543320 54px,#915838 61px,#b46d45 62px,#ee905c 63px,#feae6f 64px,#feae6f 73px,#fe9e65 74px,#ba7148 76px,#804d31 85px,#50301f 96px,#27170f 113px,#080503 151px,#010100 210px"></i><i style="--g:#000 0px,#010100 48px,#0f0906 58px,#160e09 59px,#543320 61px,#fe9d64 64px,#feae6f 65px,#feae6f 72px,#f5945e 73px,#d17e50 74px,#78492e 88px,#4b2d1d 100px,#291910 115px,#0b0704 147px,#010100 210px"></i><b style="--g:#010100 0px,#0c0805 31px,#372115 52px,#6f432b 61px,#e28957 63px,#fea96b 64px,#feae6f 73px,#fea167 74px,#9e5f3d 76px,#8a5335 78px,#5a3723 91px,#362115 107px,#0c0805 151px,#020201 210px"></b><i style="--g:#000 0px,#010100 61px,#080503 62px,#20140d 63px,#603a25 64px,#cc7b4f 65px,#feae6f 66px,#feae6f 73px,#f8965f 75px,#b26b44 77px,#a1623e 78px,#543320 109px,#23150d 150px,#0a0604 210px"></i><i style="--g:#000 0px,#040201 59px,#20140d 61px,#4b2d1d 62px,#e48a58 64px,#feae6f 65px,#feae6f 75px,#fea167 76px,#f0915d 77px,#975c3a 80px,#915838 81px,#5f3a25 94px,#382216 110px,#0f0906 150px,#020201 210px"></i><i style="--g:#000 0px,#040201 57px,#26170e 60px,#72452c 62px,#e68b59 64px,#feac6d 65px,#feae6f 74px,#fea267 75px,#f0915d 76px,#955a39 79px,#8e5637 80px,#563421 95px,#342014 110px,#0f0906 147px,#020201 210px"></i><i style="--g:#000 0px,#040201 58px,#1a100a 60px,#382216 61px,#663e28 62px,#ec8f5b 64px,#feae6f 65px,#feae6f 76px,#fe9f65 77px,#ab6842 80px,#945939 84px,#5b3723 97px,#2d1b11 116px,#0c0805 150px,#010100 210px"></i><i style="--g:#000 0px,#060402 59px,#27170f 61px,#4f301e 62px,#d07e50 64px,#fea66a 65px,#feaa6c 75px,#eb8e5b 76px,#834f33 78px,#633c26 79px,#3b2417 88px,#1f130c 99px,#040201 134px,#000 210px"></i><i style="--g:#080503 0px,#1e120c 33px,#4e2f1e 56px,#683f28 63px,#834f33 64px,#fea368 66px,#feae6f 67px,#feac6d 74px,#f2935e 75px,#925938 77px,#7c4b30 78px,#482c1c 87px,#1f130c 101px,#040201 135px,#000 210px"></i><i style="--g:#000 0px,#040201 45px,#1f130c 58px,#321e13 61px,#563421 62px,#fea267 65px,#feae6f 66px,#feae6f 74px,#f8965f 75px,#af6a43 76px,#9a5d3b 78px,#643d27 88px,#2c1a11 107px,#0b0704 138px,#000 210px"></i><i style="--g:#000 0px,#060402 43px,#26170e 58px,#342014 61px,#694028 62px,#fe9a62 64px,#feae6f 65px,#feae6f 74px,#fe9a62 75px,#bd7249 76px,#7e4c31 107px,#845033 125px,#ce7d50 164px,#c4774c 180px,#845033 210px"></i><i style="--g:#0a0604 0px,#23150d 28px,#42281a 42px,#73462c 54px,#ae6943 63px,#ef915c 64px,#feae6f 65px,#fea469 76px,#d78253 77px,#9a5d3b 78px,#6f432b 82px,#3b2417 90px,#1a100a 100px,#020201 128px,#000 210px"></i><i style="--g:#000 0px,#020201 62px,#1e120c 64px,#4a2d1c 65px,#e88d5a 67px,#feae6f 68px,#feae6f 75px,#e08856 76px,#bf744a 77px,#834f33 84px,#653d27 125px,#0a0604 149px,#000 210px"></i><i style="--g:#000 0px,#060402 59px,#1c110b 61px,#342014 62px,#5a3723 63px,#fe9d64 66px,#feae6f 67px,#feaa6c 75px,#dd8655 76px,#9b5e3c 77px,#7c4b30 78px,#76472d 79px,#452a1b 90px,#24160e 103px,#060402 138px,#000 210px"></i><i style="--g:#010100 0px,#090503 29px,#27170f 47px,#563421 57px,#8b5436 63px,#b06b44 64px,#ee905c 65px,#feae6f 66px,#feae6f 75px,#f5945e 76px,#c0754a 77px,#9f603d 78px,#905737 80px,#593622 90px,#2a1a10 105px,#080503 140px,#000 210px"></i><i style="--g:#040201 0px,#130b07 28px,#3a2316 47px,#6d422a 58px,#a4633f 65px,#b97047 66px,#fe9d64 67px,#feae6f 68px,#feae6f 77px,#fe9a62 79px,#77482e 83px,#42281a 85px,#160e09 97px,#010100 128px,#000 210px"></i><i style="--g:#000 0px,#010100 48px,#100a06 59px,#301d12 64px,#51311f 66px,#fe9a62 68px,#feae6f 69px,#fea86b 77px,#f5945e 78px,#8a5335 81px,#7e4c31 83px,#4e2f1e 96px,#2c1a11 111px,#0c0805 144px,#010100 210px"></i><i style="--g:#140c08 0px,#342014 34px,#683f28 58px,#834f33 66px,#b56e46 67px,#fea066 68px,#feae6f 69px,#feae6f 77px,#fea066 78px,#985c3b 80px,#78492e 83px,#3b2417 92px,#1a100a 102px,#020201 130px,#000 210px"></i><i style="--g:#000 0px,#060402 42px,#291910 59px,#412719 63px,#563421 64px,#fe9a62 67px,#feae6f 68px,#fea569 77px,#e58b58 78px,#875234 80px,#6d422a 81px,#5d3824 84px,#875234 135px,#865134 171px,#6e432a 184px,#1a100a 199px,#040201 210px"></i><i style="--g:#000 0px,#020201 61px,#180e09 63px,#3b2417 64px,#7a4a2f 65px,#d07e50 66px,#fead6e 67px,#feae6f 77px,#fea368 78px,#8b5436 81px,#4a2d1c 108px,#1e120c 146px,#080503 210px"></i><b style="--g:#000 0px,#080503 38px,#2c1a11 56px,#4e2f1e 62px,#663e28 63px,#fb9861 66px,#feae6f 67px,#feae6f 76px,#f6955f 77px,#885335 79px,#362115 81px,#150d08 83px,#090503 87px,#000 210px"></b><i style="--g:#0e0805 0px,#28180f 29px,#4e2f1e 47px,#a1623e 67px,#feae6f 69px,#feae6f 80px,#fea368 81px,#f8965f 82px,#7e4c31 87px,#462a1b 90px,#20140d 93px,#140c08 96px,#010100 121px,#000 210px"></i><i style="--g:#000 0px,#000 49px,#0c0805 62px,#22140d 66px,#472b1b 69px,#b86f47 70px,#feae6f 71px,#fead6e 78px,#ec8f5b 79px,#b46d45 80px,#8e5637 81px,#663e28 87px,#3e2618 96px,#1d110b 110px,#040201 145px,#000 210px"></i><i style="--g:#000 0px,#0b0704 40px,#311e13 57px,#593622 64px,#834f33 65px,#fe9d64 67px,#feae6f 68px,#feae6f 77px,#e48a58 78px,#9a5d3b 79px,#7e4c31 80px,#4c2e1d 93px,#2a1a10 108px,#090503 148px,#010100 210px"></i><i style="--g:#010100 0px,#0f0906 37px,#321e13 55px,#683f28 66px,#ef915c 68px,#feae6f 69px,#fea76b 78px,#f5945e 79px,#b46d45 81px,#a56440 84px,#663e28 101px,#402719 118px,#190f0a 151px,#050302 210px"></i><i style="--g:#010100 0px,#0f0906 34px,#331f14 52px,#523220 59px,#845033 66px,#925938 67px,#d48152 68px,#fea66a 69px,#feae6f 78px,#fea468 79px,#e88d5a 80px,#76472d 83px,#482c1c 91px,#23150d 103px,#050302 134px,#000 210px"></i><i style="--g:#000 0px,#010100 49px,#120b07 60px,#180e09 61px,#4c2e1d 63px,#e68b59 66px,#feaa6c 67px,#feaa6c 79px,#d88353 81px,#8b5436 96px,#593622 111px,#372115 127px,#120b07 165px,#050302 210px"></i><i style="--g:#000 0px,#0a0604 22px,#28180f 25px,#834f33 30px,#945939 33px,#7d4c30 48px,#905737 64px,#fe9a62 67px,#feae6f 68px,#feae6f 78px,#fc9961 79px,#985c3b 81px,#834f33 82px,#482c1c 107px,#1d110b 146px,#060402 210px"></i><i style="--g:#000 0px,#0b0704 60px,#1d110b 62px,#4b2d1d 64px,#f6955f 68px,#fead6e 69px,#feae6f 78px,#fc9961 80px,#4b2d1d 86px,#1d110b 89px,#090503 92px,#000 210px"></i><i style="--g:#010100 0px,#120b07 18px,#2d1b11 24px,#73462c 34px,#885335 40px,#804d31 61px,#845033 62px,#f8965f 66px,#fea66a 67px,#feae6f 79px,#fe9d64 81px,#c8794d 83px,#b46d45 86px,#78492e 103px,#482c1c 124px,#1c110b 164px,#0a0604 210px"></i><i style="--g:#000 0px,#040201 38px,#1f130c 57px,#44291a 64px,#683f28 68px,#79492f 69px,#cc7b4f 70px,#feab6d 71px,#feae6f 78px,#f6955f 79px,#b56e46 80px,#8c5536 81px,#4b2d1d 108px,#1c110b 151px,#080503 210px"></i><i style="--g:#060402 0px,#472b1b 12px,#5d3824 20px,#7c4b30 44px,#78492e 63px,#8b5436 65px,#e28957 67px,#fea267 68px,#feae6f 69px,#feae6f 79px,#fe9a62 80px,#c8794d 81px,#b06b44 82px,#955a39 100px,#5d3824 152px,#372115 210px"></i><i style="--g:#0c0805 0px,#412719 11px,#51311f 18px,#331f14 56px,#77482e 67px,#9f603d 68px,#db8454 69px,#fea569 70px,#fea66a 79px,#8a5335 81px,#482c1c 104px,#160e09 146px,#040201 210px"></i><i style="--g:#050302 0px,#190f0a 32px,#4c2e1d 39px,#2e1c12 44px,#3c2417 49px,#8d5636 65px,#fc9961 68px,#fead6e 69px,#feae6f 70px,#feae6f 78px,#fe9e65 79px,#965b3a 81px,#42281a 108px,#140c08 147px,#020201 210px"></i><i style="--g:#120b07 0px,#4e2f1e 18px,#8a5335 68px,#bf744a 69px,#feaa6c 70px,#feae6f 81px,#fe9d64 83px,#663e28 89px,#331f14 106px,#0c0805 140px,#010100 210px"></i><i style="--g:#010100 0px,#090503 32px,#2c1a11 54px,#6f432b 67px,#f6955f 69px,#feae6f 70px,#feac6d 79px,#fc9961 80px,#8e5637 83px,#4e2f1e 97px,#2c1a11 110px,#090503 146px,#000 210px"></i><i style="--g:#000 0px,#080503 38px,#291910 57px,#6c4129 68px,#7e4c31 69px,#fea066 70px,#feae6f 71px,#feae6f 79px,#fea368 80px,#e28957 81px,#865134 83px,#6f432b 84px,#3c2417 93px,#1a100a 105px,#040201 132px,#000 210px"></i><i style="--g:#000 0px,#0a0604 39px,#291910 58px,#50301f 67px,#603a25 68px,#fe9f65 71px,#feae6f 72px,#feae6f 79px,#fead6e 80px,#fa9760 81px,#a2623f 83px,#7d4c30 85px,#342014 96px,#180e09 106px,#020201 133px,#000 210px"></i><b style="--g:#010100 0px,#0c0805 33px,#2c1a11 50px,#4e2f1e 58px,#955a39 67px,#a4633f 68px,#fe9e65 70px,#feae6f 71px,#feab6d 79px,#b56e46 81px,#985c3b 99px,#5f3a25 149px,#362115 210px"></b><i style="--g:#000 0px,#020201 45px,#1a100a 62px,#321e13 67px,#50301f 68px,#e88d5a 70px,#feae6f 71px,#feae6f 81px,#fe9f65 82px,#da8454 83px,#845033 98px,#543320 112px,#331f14 127px,#0f0906 164px,#040201 210px"></i><i style="--g:#000 0px,#0a0604 39px,#24160e 54px,#42281a 61px,#6e432a 67px,#fe9d64 70px,#feae6f 71px,#feae6f 81px,#fe9c63 83px,#77482e 87px,#42281a 89px,#120b07 103px,#010100 128px,#000 210px"></i><i style="--g:#000 0px,#010100 66px,#0f0906 68px,#28180f 69px,#583522 70px,#f1925d 72px,#feae6f 73px,#fea76a 81px,#e18857 82px,#a96641 83px,#8d5636 85px,#5b3723 96px,#2e1c12 113px,#0b0704 148px,#010100 210px"></i><i style="--g:#000 0px,#000 53px,#130b07 69px,#301d12 70px,#74462d 71px,#d68152 72px,#feae6f 73px,#feae6f 81px,#fe9a62 82px,#ab6842 84px,#955a39 85px,#8b5436 87px,#5a3723 100px,#342014 116px,#0f0906 153px,#020201 210px"></i><i style="--g:#000 0px,#050302 40px,#23150d 60px,#44291a 67px,#683f28 68px,#fe9c63 71px,#feae6f 72px,#feae6f 82px,#fe9b63 83px,#6d422a 87px,#2c1a11 111px,#0b0704 146px,#010100 210px"></i><i style="--g:#000 0px,#020201 65px,#140c08 67px,#2e1c12 68px,#5a3723 69px,#e18857 71px,#feae6f 72px,#fead6e 81px,#f4945e 82px,#9e5f3d 84px,#7d4c30 90px,#4c2e1d 103px,#2e1c12 116px,#0c0805 150px,#010100 210px"></i><i style="--g:#120b07 0px,#2c1a11 28px,#553321 48px,#b56e46 71px,#fe9d64 72px,#feae6f 73px,#feae6f 81px,#fea167 82px,#c2754b 84px,#824f32 104px,#583522 124px,#28180f 163px,#100a06 210px"></i><i style="--g:#040201 0px,#120b07 29px,#362115 49px,#683f28 61px,#985c3b 68px,#af6a43 69px,#ee905c 70px,#feae6f 71px,#feae6f 82px,#fe9f65 83px,#6a4029 87px,#3c2417 97px,#22140d 107px,#060402 136px,#000 210px"></i><i style="--g:#000 0px,#010100 50px,#0f0906 62px,#26170e 67px,#3a2316 68px,#683f28 69px,#e78c59 71px,#feae6f 72px,#feae6f 81px,#fea468 82px,#e18857 83px,#cd7c4f 95px,#8a5335 152px,#5d3824 210px"></i><i style="--g:#010100 0px,#0e0805 34px,#342014 54px,#5f3a25 63px,#8d5636 69px,#be7349 70px,#fea66a 71px,#fea66a 82px,#d17e50 83px,#8b5436 84px,#7d4c30 86px,#51311f 98px,#301d12 113px,#0e0805 147px,#010100 210px"></i><i style="--g:#000 0px,#050302 61px,#190f0a 64px,#3d2518 66px,#7c4b30 68px,#f6955f 71px,#feaa6c 72px,#feae6f 81px,#fea468 82px,#b66f46 84px,#7d4c30 93px,#4f301e 104px,#28180f 120px,#0a0604 152px,#010100 210px"></i><i style="--g:#000 0px,#040201 44px,#1e120c 62px,#3c2417 68px,#4f301e 69px,#fe9a62 72px,#feae6f 73px,#feae6f 83px,#fe9b63 84px,#9c5f3c 86px,#8d5636 88px,#4f301e 100px,#24160e 116px,#060402 151px,#000 210px"></i><i style="--g:#000 0px,#020201 65px,#0e0805 67px,#311e13 69px,#7c4b30 71px,#e68b59 73px,#fea86b 74px,#feae6f 83px,#f6955f 85px,#875234 88px,#7e4c31 89px,#3d2518 114px,#120b07 157px,#040201 210px"></i><i style="--g:#010100 0px,#0a0604 38px,#321e13 61px,#5b3723 69px,#f5945e 72px,#feae6f 73px,#feae6f 84px,#f5945e 85px,#b36c45 86px,#bd7249 103px,#74462d 133px,#7a4a2f 144px,#c0754a 174px,#b86f47 184px,#76472d 210px"></i><i style="--g:#000 0px,#050302 66px,#301d12 69px,#824f32 71px,#f6955f 73px,#feae6f 74px,#feae6f 83px,#fc9961 84px,#915838 109px,#50301f 136px,#26170e 170px,#100a06 210px"></i><i style="--g:#010100 0px,#0c0805 32px,#331f14 54px,#553321 62px,#8c5536 70px,#b46d45 74px,#d48152 75px,#fea96b 76px,#feae6f 84px,#fea468 85px,#ce7d50 87px,#b86f47 102px,#804d31 151px,#523220 210px"></i><b style="--g:#000 0px,#020201 46px,#1a100a 64px,#462a1b 72px,#5d3824 73px,#dc8555 75px,#feaa6c 76px,#feaa6c 86px,#f1925d 87px,#6a4029 90px,#321e13 99px,#180e09 108px,#020201 133px,#000 210px"></b><i style="--g:#000 0px,#050302 43px,#1f130c 62px,#42281a 70px,#74462d 76px,#a56440 77px,#fea86b 78px,#feae6f 86px,#fea468 87px,#d17e50 89px,#b66f46 95px,#74462d 116px,#523220 132px,#27170f 167px,#100a06 210px"></i><i style="--g:#000 0px,#020201 34px,#120b07 43px,#7c4b30 59px,#824f32 73px,#905737 74px,#d38051 75px,#fea569 76px,#feab6d 88px,#ec8f5b 89px,#b86f47 90px,#9b5e3c 91px,#5d3824 106px,#321e13 124px,#0f0906 159px,#020201 210px"></i><i style="--g:#000 0px,#090503 44px,#2a1a10 64px,#4a2d1c 70px,#ea8e5a 75px,#fea167 76px,#feae6f 77px,#feae6f 81px,#feae6f 86px,#fea167 87px,#9c5f3c 90px,#543320 106px,#342014 118px,#0c0805 154px,#010100 210px"></i><i style="--g:#050302 0px,#150d08 31px,#472b1b 57px,#7c4b30 69px,#b36c45 77px,#feae6f 79px,#fead6e 88px,#fe9e65 89px,#ca7b4e 91px,#b97047 94px,#78492e 113px,#51311f 130px,#28180f 161px,#0e0805 210px"></i><i style="--g:#000 0px,#020201 70px,#180e09 73px,#462a1b 75px,#fe9d64 79px,#feae6f 80px,#feae6f 89px,#fe9a62 90px,#824f32 93px,#462a1b 102px,#1d110b 115px,#040201 143px,#000 210px"></i><i style="--g:#000 0px,#080503 67px,#20140d 70px,#452a1b 72px,#7e4c31 74px,#ee905c 77px,#fea469 78px,#feae6f 89px,#fe9a62 91px,#77482e 95px,#694028 96px,#342014 114px,#0f0906 146px,#010100 210px"></i><i style="--g:#000 0px,#020201 75px,#190f0a 77px,#3d2518 78px,#79492f 79px,#c97a4e 80px,#fea86b 81px,#fea66a 90px,#b56e46 92px,#965b3a 97px,#5a3723 111px,#362115 125px,#0f0906 159px,#020201 210px"></i><i style="--g:#040201 0px,#120b07 36px,#3c2417 61px,#623b26 71px,#915838 79px,#ba7148 80px,#fa9760 81px,#feae6f 82px,#fea96b 91px,#f4945e 92px,#5b3723 96px,#23150d 112px,#060402 140px,#000 210px"></i><i style="--g:#060402 0px,#160e09 32px,#42281a 57px,#905737 75px,#fc9961 78px,#fead6e 79px,#feae6f 90px,#f8965f 91px,#c4774c 92px,#b26b44 93px,#71442b 108px,#412719 126px,#190f0a 157px,#050302 210px"></i><i style="--g:#975c3a 0px,#76472d 39px,#8c5536 75px,#925938 80px,#fea569 82px,#feae6f 91px,#fea468 92px,#f0915d 93px,#ac6843 95px,#a56440 96px,#b06b44 125px,#7c4b30 179px,#7a4a2f 210px"></i><i style="--g:#000 0px,#080503 70px,#20140d 73px,#462a1b 75px,#7e4c31 77px,#ec8f5b 80px,#fea468 81px,#feae6f 82px,#feae6f 92px,#f99760 94px,#5e3924 100px,#301d12 116px,#0a0604 152px,#010100 210px"></i><i style="--g:#8a5335 0px,#593622 43px,#6e432a 75px,#73462c 78px,#915838 79px,#ea8e5a 81px,#fea66a 82px,#fea86b 92px,#e88d5a 93px,#8e5637 95px,#603a25 113px,#79492f 154px,#6a4029 162px,#160e09 181px,#0c0805 210px"></i><i style="--g:#000 0px,#060402 44px,#1d110b 47px,#7a4a2f 52px,#915838 55px,#7a4a2f 79px,#8c5536 80px,#fe9e65 82px,#feae6f 83px,#feac6d 93px,#dc8555 94px,#955a39 95px,#845033 96px,#4c2e1d 106px,#23150d 120px,#060402 150px,#000 210px"></i><i style="--g:#000 0px,#020201 56px,#180e09 74px,#2c1a11 79px,#44291a 80px,#dc8555 83px,#fea66a 84px,#feae6f 92px,#fead6e 93px,#fa9760 94px,#a96641 96px,#a1623e 97px,#6d422a 111px,#472b1b 126px,#190f0a 163px,#080503 210px"></i><i style="--g:#000 0px,#090503 66px,#22140d 70px,#482c1c 73px,#fea066 81px,#feae6f 83px,#fea569 94px,#d27f51 95px,#bd7249 96px,#804d31 103px,#482c1c 113px,#27170f 124px,#090503 150px,#000 210px"></i><i style="--g:#000 0px,#060402 42px,#24160e 65px,#5f3a25 78px,#f0915d 82px,#fea66a 83px,#fea96b 94px,#f0915d 95px,#965b3a 97px,#915838 98px,#543320 125px,#482c1c 133px,#683f28 169px,#50301f 190px,#20140d 210px"></i><i style="--g:#000 0px,#010100 78px,#0b0704 80px,#372115 82px,#643d27 83px,#e58b58 85px,#feae6f 86px,#fea469 96px,#f0915d 97px,#a96641 99px,#8c5536 104px,#5d3824 143px,#130b07 163px,#040201 210px"></i><b style="--g:#0f0906 0px,#24160e 32px,#4f301e 60px,#8d5636 81px,#9c5f3c 82px,#f6955f 84px,#fead6e 85px,#fea569 96px,#e28957 97px,#804d31 99px,#73462c 100px,#2d1b11 120px,#0a0604 152px,#010100 210px"></b><i style="--g:#000 0px,#020201 80px,#150d08 82px,#331f14 83px,#653d27 84px,#f8965f 86px,#feae6f 87px,#fead6e 97px,#ef915c 98px,#915838 100px,#543320 113px,#2e1c12 127px,#0b0704 160px,#010100 210px"></i><i style="--g:#050302 0px,#160e09 35px,#462a1b 62px,#6f432b 73px,#b06b44 84px,#fea066 86px,#feae6f 87px,#feab6d 97px,#ee905c 98px,#865134 100px,#7a4a2f 101px,#3e2618 111px,#24160e 119px,#040201 151px,#000 210px"></i><i style="--g:#000 0px,#060402 55px,#26170e 77px,#462a1b 83px,#e28957 87px,#fea267 88px,#feae6f 89px,#fea469 98px,#e68b59 99px,#955a39 101px,#51311f 126px,#26170e 158px,#0b0704 210px"></i><i style="--g:#000 0px,#010100 63px,#130b07 79px,#28180f 84px,#42281a 85px,#77482e 86px,#fe9b63 88px,#feae6f 89px,#feae6f 99px,#fea368 100px,#db8454 101px,#73462c 103px,#653d27 104px,#523220 114px,#452a1b 130px,#603a25 156px,#543320 161px,#22140d 169px,#080503 176px,#120b07 182px,#4f301e 198px,#4c2e1d 204px,#362115 210px"></i><i style="--g:#080503 0px,#190f0a 36px,#3e2618 61px,#683f28 75px,#9b5e3c 86px,#f6955f 88px,#fead6e 89px,#feae6f 98px,#fea368 99px,#c7784d 100px,#a4633f 101px,#77482e 110px,#412719 127px,#150d08 158px,#040201 210px"></i><i style="--g:#000 0px,#060402 47px,#2a1a10 73px,#50301f 82px,#7c4b30 88px,#de8756 89px,#feae6f 90px,#fea76a 102px,#f1925d 103px,#885335 106px,#804d31 107px,#472b1b 116px,#23150d 127px,#080503 150px,#000 210px"></i><i style="--g:#000 0px,#060402 55px,#27170f 77px,#5e3924 88px,#e18857 90px,#feae6f 91px,#fea66a 101px,#f1925d 102px,#e48a58 106px,#77482e 154px,#382216 210px"></i><i style="--g:#010100 0px,#100a06 48px,#3c2417 75px,#663e28 86px,#fe9a62 90px,#feae6f 91px,#feae6f 101px,#fea066 103px,#d78253 105px,#d27f51 106px,#79492f 144px,#4e2f1e 175px,#301d12 210px"></i><i style="--g:#010100 0px,#0e0805 49px,#28180f 53px,#79492f 59px,#985c3b 63px,#9e5f3d 68px,#845033 87px,#9f603d 89px,#fe9d64 91px,#feae6f 92px,#feae6f 101px,#fea066 102px,#a1623e 104px,#945939 105px,#523220 128px,#23150d 162px,#0b0704 210px"></i><i style="--g:#000 0px,#040201 82px,#100a06 84px,#362115 86px,#834f33 88px,#ee905c 90px,#feac6d 91px,#feae6f 104px,#fea267 105px,#ef915c 106px,#78492e 110px,#452a1b 129px,#1a100a 162px,#060402 210px"></i><i style="--g:#000 0px,#040201 81px,#190f0a 84px,#402719 86px,#fe9e65 91px,#feae6f 92px,#fea66a 105px,#ea8e5a 106px,#9b5e3c 108px,#905737 110px,#5d3824 160px,#653d27 198px,#523220 202px,#0f0906 210px"></i><i style="--g:#010100 0px,#0c0805 48px,#362115 74px,#814e32 90px,#ac6843 91px,#ee905c 92px,#feae6f 93px,#feae6f 107px,#fea066 109px,#76472d 117px,#331f14 136px,#100a06 162px,#020201 210px"></i><i style="--g:#000 0px,#080503 7px,#452a1b 14px,#462a1b 36px,#72452c 90px,#76472d 91px,#fc9961 94px,#feae6f 95px,#feae6f 104px,#fe9d64 105px,#a2623f 107px,#8c5536 108px,#563421 127px,#22140d 164px,#0b0704 210px"></i><i style="--g:#010100 0px,#0f0906 50px,#372115 79px,#5f3a25 89px,#fe9d64 93px,#feae6f 94px,#feae6f 105px,#fea267 106px,#e58b58 107px,#945939 109px,#79492f 112px,#44291a 121px,#23150d 131px,#080503 154px,#000 210px"></i><i style="--g:#000 0px,#090503 58px,#2c1a11 84px,#42281a 90px,#804d31 92px,#f8965f 95px,#feaa6c 96px,#feaa6c 106px,#9f603d 108px,#8e5637 110px,#51311f 120px,#23150d 135px,#080503 162px,#000 210px"></i><i style="--g:#000 0px,#020201 86px,#150d08 89px,#3c2417 91px,#845033 93px,#e28957 95px,#fea468 96px,#feae6f 97px,#feae6f 107px,#fe9d64 109px,#c8794d 111px,#bc7248 112px,#7c4b30 129px,#4e2f1e 148px,#28180f 175px,#120b07 210px"></i><i style="--g:#010100 0px,#0a0604 47px,#301d12 79px,#4e2f1e 89px,#eb8e5b 94px,#fea167 95px,#feae6f 96px,#fea86b 109px,#f0915d 110px,#9c5f3c 112px,#885335 113px,#4e2f1e 123px,#2e1c12 132px,#080503 163px,#000 210px"></i><b style="--g:#010100 0px,#0e0805 50px,#311e13 74px,#523220 84px,#865134 93px,#f99760 96px,#feaa6c 97px,#feae6f 110px,#fea469 111px,#f1925d 112px,#9b5e3c 115px,#633c26 127px,#3b2417 141px,#130b07 171px,#050302 210px"></b><i style="--g:#000 0px,#020201 91px,#0f0906 93px,#3e2618 95px,#6a4029 96px,#e28957 98px,#feaa6c 99px,#feae6f 110px,#fea167 111px,#e78c59 112px,#583522 116px,#4b2d1d 117px,#24160e 129px,#060402 157px,#000 210px"></i><i style="--g:#000 0px,#010100 73px,#140c08 91px,#291910 94px,#6f432b 96px,#fea066 99px,#feae6f 100px,#feae6f 111px,#f1925d 112px,#6e432a 114px,#2a1a10 133px,#0b0704 159px,#010100 210px"></i><i style="--g:#000 0px,#080503 53px,#291910 79px,#543320 90px,#8c5536 98px,#9f603d 99px,#e58b58 100px,#feae6f 101px,#feae6f 111px,#feac6d 112px,#fa9760 113px,#814e32 116px,#2c1a11 119px,#150d08 121px,#0b0704 125px,#000 210px"></i><i style="--g:#000 0px,#040201 95px,#1f130c 97px,#44291a 98px,#ca7b4e 100px,#fea76a 101px,#fea96b 113px,#f0915d 114px,#6e432a 117px,#4b2d1d 125px,#362115 148px,#0f0906 162px,#020201 210px"></i><i style="--g:#180e09 0px,#342014 37px,#5e3924 63px,#b66f46 93px,#d17e50 99px,#dd8655 100px,#fe9e65 101px,#feae6f 102px,#fea76a 115px,#fb9861 116px,#5f3a25 122px,#2a1a10 135px,#090503 160px,#000 210px"></i><i style="--g:#0a0604 0px,#22140d 47px,#4e2f1e 77px,#9b5e3c 102px,#b66f46 103px,#f5945e 104px,#feae6f 105px,#fea96b 115px,#db8454 117px,#a1623e 129px,#563421 154px,#2a1a10 182px,#150d08 210px"></i><i style="--g:#090503 0px,#1c110b 36px,#44291a 65px,#72452c 82px,#af6a43 96px,#e18857 104px,#fea76a 105px,#feae6f 106px,#feae6f 113px,#fe9e65 114px,#71442b 116px,#3b2417 117px,#20140d 119px,#0e0805 123px,#000 138px,#000 210px"></i><i style="--g:#000 0px,#080503 58px,#27170f 86px,#5d3824 101px,#6f432b 102px,#f6955f 104px,#feae6f 105px,#feae6f 115px,#fe9e65 116px,#d17e50 117px,#bc7248 118px,#8c5536 124px,#5b3723 133px,#311e13 146px,#0e0805 172px,#020201 210px"></i><i style="--g:#1c110b 0px,#372115 36px,#73462c 74px,#d27f51 105px,#fa9760 106px,#feae6f 107px,#feae6f 117px,#fe9a62 118px,#e68b59 119px,#bd7249 128px,#653d27 157px,#452a1b 175px,#20140d 210px"></i><i style="--g:#020201 0px,#0e0805 49px,#342014 81px,#6f432b 99px,#824f32 100px,#f0915d 103px,#fea66a 104px,#feae6f 118px,#fa9760 120px,#78492e 124px,#6e432a 125px,#3d2518 141px,#160e09 168px,#050302 210px"></i><i style="--g:#000 0px,#020201 68px,#160e09 89px,#321e13 97px,#6e432a 105px,#f6955f 108px,#feae6f 109px,#feae6f 119px,#fea066 120px,#e28957 121px,#905737 123px,#7a4a2f 124px,#482c1c 134px,#27170f 146px,#090503 174px,#010100 210px"></i><i style="--g:#000 0px,#050302 57px,#1e120c 82px,#482c1c 95px,#7d4c30 103px,#8c5536 104px,#f0915d 106px,#feab6d 107px,#feae6f 120px,#fe9f65 121px,#683f28 126px,#5a3723 127px,#26170e 142px,#080503 169px,#010100 210px"></i><i style="--g:#020201 0px,#100a06 32px,#2e1c12 38px,#945939 52px,#c8794d 69px,#c7784d 88px,#955a39 108px,#aa6742 109px,#ec8f5b 110px,#feae6f 111px,#feae6f 119px,#e78c59 120px,#aa6742 121px,#865134 125px,#523220 133px,#2a1a10 144px,#0b0704 166px,#010100 210px"></i><i style="--g:#0b0704 0px,#20140d 40px,#4a2d1c 70px,#72452c 86px,#a66540 100px,#ce7d50 108px,#d78253 109px,#fea066 110px,#feae6f 111px,#fea76a 122px,#e18857 123px,#78492e 125px,#643d27 126px,#372115 138px,#0f0906 164px,#010100 210px"></i><i style="--g:#000 0px,#010100 79px,#120b07 98px,#1d110b 101px,#3c2417 103px,#6c4129 105px,#ef915c 109px,#fea368 110px,#feae6f 111px,#feae6f 120px,#fea368 121px,#553321 124px,#311e13 128px,#180e09 133px,#010100 152px,#000 210px"></i><i style="--g:#010100 0px,#0e0805 57px,#382216 93px,#653d27 108px,#ee905c 111px,#feaa6c 112px,#fea569 126px,#c4774c 129px,#72452c 145px,#523220 179px,#452a1b 184px,#160e09 191px,#0c0805 210px"></i><i style="--g:#000 0px,#0a0604 63px,#311e13 96px,#623b26 110px,#ec8f5b 113px,#fea96b 114px,#feae6f 126px,#f8965f 128px,#975c3a 131px,#8b5436 132px,#c8794d 159px,#c8794d 168px,#a1623e 172px,#3b2417 177px,#0e0805 181px,#010100 186px,#000 210px"></i><b style="--g:#000 0px,#090503 58px,#28180f 86px,#4c2e1d 98px,#824f32 108px,#a1623e 112px,#b46d45 113px,#e48a58 114px,#fea469 115px,#feae6f 116px,#feae6f 128px,#fb9861 131px,#523220 140px,#311e13 143px,#27170f 146px,#080503 167px,#000 210px"></b><i style="--g:#000 0px,#020201 75px,#190f0a 98px,#3c2417 107px,#74462d 114px,#e28957 116px,#feaa6c 117px,#feae6f 127px,#fea267 128px,#e78c59 129px,#975c3a 131px,#804d31 132px,#362115 148px,#0f0906 171px,#020201 210px"></i><i style="--g:#010100 0px,#0f0906 59px,#3c2417 95px,#814e32 115px,#af6a43 116px,#f0915d 117px,#feae6f 118px,#fead6e 130px,#fe9a62 131px,#b36c45 133px,#9b5e3c 134px,#6c4129 143px,#42281a 155px,#190f0a 179px,#080503 210px"></i><i style="--g:#000 0px,#020201 72px,#1d110b 103px,#412719 114px,#51311f 115px,#d17e50 117px,#fea66a 118px,#feae6f 130px,#feac6d 131px,#f8965f 132px,#76472d 135px,#683f28 136px,#331f14 148px,#0e0805 170px,#010100 210px"></i><i style="--g:#060402 0px,#1e120c 60px,#50301f 99px,#814e32 118px,#ef915c 120px,#feae6f 121px,#feab6d 131px,#f99760 132px,#824f32 135px,#3c2417 149px,#140c08 169px,#020201 210px"></i><i style="--g:#000 0px,#020201 116px,#1c110b 118px,#402719 119px,#7d4c30 120px,#cd7c4f 121px,#feaa6c 122px,#feae6f 131px,#f99760 133px,#905737 136px,#5f3a25 145px,#3c2417 155px,#190f0a 174px,#050302 210px"></i><i style="--g:#010100 0px,#090503 61px,#2d1b11 97px,#78492e 119px,#915838 120px,#eb8e5b 122px,#fea76a 123px,#feae6f 132px,#fea469 133px,#e68b59 134px,#b86f47 135px,#a96641 136px,#6f432b 146px,#44291a 158px,#160e09 184px,#080503 210px"></i><i style="--g:#000 0px,#020201 67px,#190f0a 97px,#402719 110px,#814e32 120px,#ee905c 122px,#feae6f 123px,#feae6f 134px,#fea368 135px,#ec8f5b 136px,#e18857 138px,#834f33 162px,#78492e 185px,#5e3924 194px,#3a2316 200px,#2d1b11 210px"></i><i style="--g:#0a0604 0px,#20140d 53px,#563421 96px,#a2623f 124px,#e18857 125px,#feaa6c 126px,#feae6f 136px,#fe9c63 138px,#985c3b 142px,#8b5436 143px,#3b2417 210px"></i><i style="--g:#150d08 0px,#3b2417 58px,#72452c 96px,#ae6943 120px,#ba7148 121px,#fe9d64 123px,#feae6f 124px,#fea86b 137px,#d68152 138px,#905737 139px,#814e32 140px,#603a25 151px,#3b2417 170px,#150d08 210px"></i><i style="--g:#000 0px,#050302 65px,#160e09 73px,#633c26 90px,#543320 122px,#623b26 123px,#ef915c 126px,#feab6d 127px,#feae6f 136px,#fea469 137px,#e28957 138px,#834f33 140px,#543320 153px,#27170f 176px,#0c0805 210px"></i><i style="--g:#000 0px,#010100 82px,#140c08 109px,#321e13 119px,#5e3924 126px,#e68b59 128px,#feae6f 129px,#feae6f 141px,#fc9961 144px,#653d27 152px,#3d2518 162px,#160e09 182px,#060402 210px"></i><i style="--g:#000 0px,#020201 85px,#180e09 112px,#452a1b 125px,#fea267 129px,#feae6f 130px,#feae6f 141px,#fea267 142px,#6c4129 145px,#462a1b 155px,#180e09 180px,#060402 210px"></i><i style="--g:#000 0px,#0a0604 121px,#100a06 123px,#372115 125px,#875234 127px,#f0915d 129px,#fead6e 130px,#fea66a 144px,#f1925d 145px,#4a2d1c 150px,#372115 151px,#28180f 155px,#0a0604 172px,#000 210px"></i><i style="--g:#000 0px,#010100 80px,#140c08 108px,#342014 119px,#593622 125px,#694028 126px,#fe9a62 130px,#feae6f 131px,#feae6f 142px,#fe9a62 143px,#7a4a2f 146px,#5b3723 155px,#291910 179px,#0f0906 210px"></i><i style="--g:#010100 0px,#0c0805 66px,#321e13 99px,#4f301e 110px,#925938 125px,#b46d45 130px,#fe9c63 132px,#feae6f 133px,#fea66a 144px,#e58b58 145px,#824f32 147px,#3a2316 161px,#100a06 183px,#040201 210px"></i><i style="--g:#000 0px,#040201 88px,#1f130c 117px,#4a2d1c 129px,#6d422a 130px,#dc8555 132px,#fea569 133px,#feae6f 144px,#fa9760 145px,#79492f 148px,#5e3924 156px,#2d1b11 179px,#120b07 210px"></i><b style="--g:#010100 0px,#0f0906 71px,#382216 106px,#5b3723 119px,#905737 131px,#fe9d64 133px,#feae6f 134px,#fea66a 147px,#f2935e 148px,#6c4129 152px,#593622 153px,#3d2518 160px,#130b07 182px,#040201 210px"></b><i style="--g:#010100 0px,#0c0805 71px,#331f14 110px,#6e432a 131px,#fb9861 134px,#feae6f 135px,#feae6f 146px,#f6955f 147px,#945939 149px,#7c4b30 152px,#3d2518 180px,#1d110b 210px"></i><i style="--g:#0b0704 0px,#24160e 60px,#5b3723 108px,#8b5436 130px,#fea267 133px,#feae6f 134px,#feae6f 148px,#fea468 149px,#f6955f 150px,#7a4a2f 155px,#4c2e1d 166px,#22140d 185px,#0b0704 210px"></i><i style="--g:#000 0px,#010100 93px,#120b07 116px,#2c1a11 125px,#5a3723 132px,#72452c 133px,#dd8655 135px,#fea569 136px,#feae6f 148px,#ee905c 149px,#7a4a2f 151px,#603a25 152px,#23150d 162px,#080503 177px,#000 210px"></i><i style="--g:#010100 0px,#0b0704 72px,#311e13 111px,#633c26 130px,#6f432b 131px,#ee905c 135px,#fea267 136px,#feae6f 137px,#feae6f 148px,#f99760 150px,#e58b58 151px,#c0754a 161px,#804d31 185px,#543320 210px"></i><i style="--g:#040201 0px,#130b07 60px,#3c2417 99px,#633c26 116px,#ac6843 135px,#c7784d 136px,#fe9a62 137px,#feae6f 138px,#feae6f 150px,#fe9d64 151px,#945939 154px,#4b2d1d 170px,#27170f 186px,#0f0906 210px"></i><i style="--g:#180e09 0px,#2e1c12 43px,#5f3a25 87px,#965b3a 115px,#d38051 136px,#d78253 137px,#ef915c 138px,#feae6f 139px,#feae6f 150px,#fe9d64 152px,#b36c45 155px,#6c4129 171px,#3e2618 188px,#1f130c 210px"></i><i style="--g:#020201 0px,#0e0805 57px,#372115 98px,#5e3924 114px,#8c5536 126px,#c97a4e 137px,#fea76b 139px,#feaa6c 151px,#f4945e 152px,#814e32 155px,#44291a 168px,#1d110b 185px,#090503 210px"></i><i style="--g:#000 0px,#040201 40px,#22140d 46px,#663e28 52px,#76472d 55px,#653d27 58px,#190f0a 65px,#050302 69px,#050302 96px,#190f0a 120px,#3e2618 134px,#4c2e1d 135px,#71442b 136px,#f99760 139px,#feae6f 140px,#feae6f 152px,#fe9d64 153px,#dc8555 154px,#d38051 155px,#985c3b 175px,#b56e46 196px,#925938 210px"></i><i style="--g:#020201 0px,#100a06 68px,#382216 106px,#683f28 125px,#ae6943 141px,#b46d45 142px,#f6955f 143px,#feae6f 144px,#feae6f 152px,#de8756 153px,#d38051 154px,#72452c 175px,#452a1b 192px,#291910 210px"></i><i style="--g:#000 0px,#050302 79px,#20140d 114px,#402719 127px,#7d4c30 140px,#f4945e 142px,#feae6f 143px,#feae6f 155px,#fea368 156px,#e08856 157px,#ae6943 158px,#8a5335 168px,#593622 188px,#372115 210px"></i><i style="--g:#000 0px,#060402 73px,#23150d 109px,#4a2d1c 125px,#875234 138px,#f99760 141px,#feab6d 142px,#feae6f 155px,#fea468 156px,#e68b59 157px,#8e5637 159px,#804d31 160px,#523220 170px,#51311f 190px,#402719 195px,#180e09 200px,#0f0906 210px"></i><i style="--g:#000 0px,#000 116px,#0b0704 134px,#20140d 139px,#553321 141px,#fe9f65 145px,#feae6f 146px,#feae6f 150px,#feae6f 156px,#fe9f65 157px,#6f432b 162px,#4f301e 169px,#24160e 186px,#0c0805 210px"></i><i style="--g:#000 0px,#010100 96px,#140c08 123px,#372115 134px,#73462c 142px,#814e32 143px,#d27f51 144px,#fead6e 145px,#feae6f 158px,#fea066 159px,#be7349 162px,#b66f46 164px,#7d4c30 186px,#523220 210px"></i><i style="--g:#000 0px,#010100 137px,#090503 139px,#291910 141px,#7d4c30 143px,#f6955f 145px,#feae6f 146px,#feae6f 158px,#fe9b63 160px,#834f33 166px,#5a3723 176px,#362115 190px,#1a100a 210px"></i><i style="--g:#000 0px,#020201 103px,#140c08 107px,#6c4129 113px,#804d31 116px,#a96641 145px,#fea066 147px,#feae6f 148px,#feae6f 158px,#fe9f65 159px,#7a4a2f 163px,#6a4029 167px,#3c2417 184px,#190f0a 210px"></i><i style="--g:#000 0px,#010100 105px,#100a06 127px,#2a1a10 136px,#563421 143px,#76472d 144px,#fa9760 147px,#feae6f 148px,#fead6e 160px,#fea066 161px,#a0613e 165px,#875234 170px,#412719 192px,#24160e 210px"></i><i style="--g:#000 0px,#0a0604 79px,#2c1a11 117px,#4e2f1e 132px,#845033 146px,#af6a43 147px,#feae6f 148px,#fea66a 161px,#f1925d 162px,#824f32 165px,#72452c 166px,#44291a 175px,#1e120c 189px,#090503 210px"></i><b style="--g:#000 0px,#010100 99px,#160e09 130px,#3d2518 142px,#523220 143px,#fe9f65 147px,#feae6f 148px,#fea86b 161px,#e28957 162px,#955a39 180px,#4b2d1d 210px"></b><i style="--g:#050302 0px,#1c110b 77px,#4b2d1d 88px,#5b3723 98px,#5e3924 133px,#804d31 147px,#fe9c63 149px,#feae6f 150px,#feae6f 161px,#f99760 163px,#653d27 167px,#543320 168px,#412719 172px,#190f0a 187px,#060402 210px"></i><i style="--g:#000 0px,#080503 81px,#27170f 116px,#593622 134px,#9a5d3b 146px,#ab6842 147px,#fe9a62 149px,#feae6f 150px,#feae6f 160px,#fe9b63 161px,#b06b44 163px,#985c3b 164px,#5e3924 172px,#3d2518 179px,#1a100a 193px,#0a0604 210px"></i><i style="--g:#000 0px,#0a0604 86px,#2d1b11 125px,#5d3824 144px,#78492e 145px,#f8965f 148px,#feac6d 149px,#feae6f 162px,#fc9961 164px,#5f3a25 170px,#2c1a11 173px,#27170f 174px,#090503 189px,#010100 210px"></i><i style="--g:#020201 0px,#0e0805 64px,#342014 108px,#583522 125px,#965b3a 143px,#b97047 150px,#f99760 151px,#feae6f 152px,#feac6d 162px,#f4945e 163px,#c6784c 164px,#b06b44 167px,#af6a43 181px,#9c5f3c 193px,#804d31 202px,#472b1b 210px"></i><i style="--g:#000 0px,#010100 114px,#120b07 137px,#291910 143px,#6d422a 146px,#f8965f 150px,#fea86b 151px,#feac6d 162px,#f4945e 163px,#9f603d 165px,#583522 178px,#2e1c12 192px,#140c08 210px"></i><i style="--g:#000 0px,#010100 112px,#120b07 134px,#2d1b11 143px,#51311f 148px,#fea066 152px,#feae6f 153px,#feae6f 162px,#fe9b63 163px,#9b5e3c 165px,#875234 166px,#402719 177px,#1a100a 190px,#080503 210px"></i><i style="--g:#000 0px,#050302 83px,#22140d 120px,#472b1b 135px,#885335 148px,#9e5f3d 151px,#b86f47 152px,#f0915d 153px,#fead6e 154px,#feae6f 165px,#fea368 166px,#f5945e 167px,#76472d 172px,#4e2f1e 180px,#26170e 194px,#100a06 210px"></i><i style="--g:#000 0px,#050302 88px,#22140d 124px,#412719 137px,#71442b 148px,#824f32 149px,#fe9e65 152px,#feae6f 153px,#fea569 168px,#f5945e 169px,#7a4a2f 173px,#694028 174px,#362115 191px,#190f0a 210px"></i><i style="--g:#010100 0px,#0a0604 75px,#311e13 123px,#79492f 151px,#a56440 152px,#e68b59 153px,#fead6e 154px,#feae6f 165px,#fe9a62 166px,#c0754a 168px,#77482e 180px,#3e2618 196px,#24160e 210px"></i><i style="--g:#000 0px,#040201 90px,#1f130c 130px,#3a2316 142px,#603a25 152px,#7c4b30 153px,#f4945e 155px,#feae6f 156px,#feae6f 166px,#fea167 167px,#ef915c 168px,#77482e 172px,#482c1c 174px,#0e0805 179px,#000 210px"></i><i style="--g:#000 0px,#040201 89px,#1d110b 124px,#3e2618 138px,#79492f 150px,#955a39 152px,#f6955f 154px,#feae6f 155px,#fead6e 167px,#f6955f 168px,#d27f51 169px,#ce7d50 180px,#b36c45 189px,#2d1b11 210px"></i><i style="--g:#010100 0px,#0e0805 77px,#362115 122px,#834f33 152px,#9a5d3b 153px,#f1925d 155px,#fea96b 156px,#feae6f 166px,#f1925d 167px,#b86f47 168px,#9f603d 169px,#482c1c 210px"></i><i style="--g:#000 0px,#060402 88px,#24160e 127px,#3d2518 139px,#6d422a 152px,#865134 153px,#fe9a62 156px,#feae6f 157px,#feae6f 167px,#fea569 168px,#db8454 170px,#77482e 210px"></i><i style="--g:#000 0px,#040201 91px,#1d110b 127px,#5b3723 148px,#f4945e 153px,#fea66a 154px,#feae6f 168px,#fea066 169px,#dc8555 170px,#b46d45 180px,#643d27 210px"></i><i style="--g:#000 0px,#090503 79px,#27170f 116px,#553321 136px,#925938 150px,#b36c45 155px,#cd7c4f 156px,#fe9b63 157px,#feae6f 158px,#feae6f 169px,#fe9c63 170px,#db8454 171px,#d07e50 172px,#a66540 180px,#74462d 193px,#482c1c 210px"></i><i style="--g:#000 0px,#020201 92px,#190f0a 128px,#3a2316 142px,#7c4b30 155px,#e08856 157px,#fea66a 158px,#feae6f 172px,#fea469 173px,#f99760 174px,#7e4c31 179px,#4f301e 194px,#311e13 210px"></i><i style="--g:#050302 0px,#160e09 78px,#42281a 130px,#6e432a 153px,#ec8f5b 156px,#fea76a 157px,#feaa6c 171px,#ea8e5a 172px,#553321 175px,#1e120c 177px,#140c08 178px,#040201 188px,#000 210px"></i><b style="--g:#1c110b 0px,#412719 80px,#875234 147px,#925938 154px,#fe9a62 157px,#feae6f 159px,#feae6f 170px,#fe9c63 171px,#885335 174px,#7d4c30 175px,#472b1b 193px,#2a1a10 210px"></b><i style="--g:#000 0px,#020201 109px,#190f0a 139px,#452a1b 153px,#6d422a 155px,#fa9760 159px,#feaa6c 160px,#feae6f 171px,#fe9f65 172px,#be7349 175px,#7a4a2f 193px,#51311f 210px"></i><i style="--g:#000 0px,#010100 103px,#130b07 135px,#321e13 148px,#694028 158px,#834f33 159px,#f0915d 161px,#feae6f 162px,#feae6f 170px,#f1925d 171px,#ba7148 172px,#b06b44 173px,#543320 187px,#2e1c12 198px,#190f0a 210px"></i><i style="--g:#010100 0px,#0b0704 87px,#2e1c12 131px,#6d422a 158px,#824f32 159px,#ee905c 161px,#feac6d 162px,#fea86b 172px,#e18857 174px,#a86541 186px,#5e3924 210px"></i><i style="--g:#040201 0px,#150d08 85px,#462a1b 138px,#6c4129 157px,#845033 158px,#fe9d64 161px,#feae6f 162px,#feae6f 172px,#fe9e65 173px,#a56440 176px,#7d4c30 182px,#4b2d1d 193px,#23150d 210px"></i><i style="--g:#010100 0px,#0a0604 79px,#301d12 122px,#5e3924 141px,#955a39 154px,#b97047 159px,#fea066 161px,#feae6f 162px,#fea76b 176px,#e48a58 178px,#c6784c 184px,#6c4129 210px"></i><i style="--g:#000 0px,#010100 111px,#160e09 144px,#452a1b 158px,#5d3824 159px,#f1925d 162px,#fead6e 163px,#fea86b 172px,#e68b59 173px,#9a5d3b 186px,#4a2d1c 210px"></i><i style="--g:#975c3a 0px,#865134 7px,#382216 19px,#140c08 27px,#000 45px,#050302 116px,#22140d 146px,#462a1b 158px,#583522 159px,#fe9f65 163px,#feae6f 164px,#fea86b 174px,#d78253 175px,#945939 176px,#73462c 177px,#553321 184px,#6d422a 210px"></i><i style="--g:#000 0px,#010100 113px,#140c08 144px,#3b2417 156px,#73462c 158px,#e78c59 161px,#fea267 162px,#feae6f 163px,#fea76a 178px,#f6955f 179px,#b56e46 181px,#a56440 182px,#74462d 193px,#452a1b 210px"></i><i style="--g:#150d08 0px,#342014 66px,#6a4029 117px,#c0754a 160px,#c6784c 161px,#ec8f5b 162px,#fea468 163px,#feae6f 164px,#fea569 179px,#ef915c 180px,#653d27 184px,#23150d 210px"></i><i style="--g:#000 0px,#010100 105px,#150d08 143px,#301d12 155px,#583522 164px,#663e28 165px,#dc8555 167px,#fea76b 168px,#feae6f 180px,#fe9a62 181px,#a0613e 183px,#8e5637 184px,#482c1c 210px"></i><i style="--g:#000 0px,#010100 106px,#130b07 140px,#2c1a11 152px,#653d27 164px,#e88d5a 168px,#fea066 169px,#feae6f 170px,#fea76b 181px,#f2935e 182px,#d48152 183px,#74462d 210px"></i><i style="--g:#000 0px,#040201 99px,#22140d 145px,#5a3723 166px,#fc9961 169px,#feae6f 170px,#feae6f 185px,#fe9b63 187px,#824f32 193px,#4b2d1d 210px"></i><i style="--g:#000 0px,#010100 127px,#120b07 151px,#291910 160px,#51311f 167px,#fe9a62 172px,#feae6f 174px,#feae6f 186px,#fe9d64 188px,#c97a4e 191px,#7d4c30 210px"></i><i style="--g:#000 0px,#0a0604 90px,#2a1a10 131px,#523220 150px,#8b5436 165px,#be7349 174px,#e78c59 175px,#fead6e 176px,#fea76b 185px,#e08856 186px,#af6a43 187px,#5f3a25 210px"></i><i style="--g:#000 0px,#060402 95px,#28180f 142px,#683f28 167px,#f4945e 172px,#fea468 173px,#feae6f 174px,#feae6f 187px,#fe9b63 188px,#975c3a 190px,#472b1b 210px"></i><i style="--g:#000 0px,#040201 113px,#1f130c 153px,#3a2316 165px,#643d27 176px,#8d5636 177px,#fe9f65 179px,#feae6f 180px,#feae6f 192px,#fea167 193px,#975c3a 195px,#814e32 196px,#462a1b 210px"></i><i style="--g:#000 0px,#010100 136px,#130b07 162px,#44291a 176px,#6f432b 178px,#fc9961 182px,#feab6d 183px,#fea96b 198px,#f0915d 199px,#985c3b 201px,#8c5536 202px,#72452c 210px"></i><b style="--g:#000 0px,#020201 120px,#1c110b 159px,#4a2d1c 176px,#834f33 186px,#ac6843 187px,#e88d5a 188px,#fead6e 189px,#feae6f 202px,#fe9d64 203px,#5a3723 208px,#462a1b 210px"></b><i style="--g:#000 0px,#090503 64px,#5a3723 99px,#77482e 131px,#79492f 163px,#5d3824 210px"></i><i style="--g:#000 0px,#060402 59px,#140c08 69px,#643d27 97px,#8a5335 136px,#8a5335 164px,#694028 210px"></i><i style="--g:#000 0px,#010100 46px,#0f0906 64px,#845033 98px,#b26b44 133px,#b46d45 162px,#8a5335 210px"></i><i style="--g:#000 0px,#0c0805 58px,#26170e 68px,#955a39 96px,#c8794d 135px,#ca7b4e 160px,#9a5d3b 210px"></i><i style="--g:#000 0px,#0c0805 62px,#24160e 72px,#804d31 96px,#b06b44 133px,#b36c45 162px,#885335 210px"></i><i style="--g:#000 0px,#040201 46px,#291910 81px,#3d2518 131px,#301d12 210px"></i><i style="--g:#000 0px,#060402 49px,#3c2417 84px,#563421 129px,#593622 162px,#44291a 210px"></i><i style="--g:#000 0px,#0c0805 47px,#22140d 56px,#72452c 75px,#905737 86px,#c97a4e 132px,#cc7b4f 164px,#9c5f3c 210px"></i></div></div><div class="hm" style="left:1736.2px;top:418px;width:246.2px;height:1152px;background:#000000"><div style="filter:blur(0.9px);--h:4px"><i style="--g:#50301f 1px,#50301f 169px,#000 170px,#000 246px"></i><i style="--g:#50301f 1px,#50301f 169px,#000 170px,#000 246px"></i><i style="--g:#d88353 1px,#fea267 2px,#fe9f65 9px,#b86f47 10px,#9e5f3d 11px,#72452c 22px,#3d2518 43px,#1c110b 70px,#050302 126px,#000 246px"></i><i style="--g:#b26b44 1px,#bf744a 2px,#f2935e 3px,#fea267 4px,#fea267 11px,#fc9961 12px,#e48a58 13px,#de8756 14px,#905737 36px,#583522 61px,#321e13 89px,#0e0805 153px,#020201 246px"></i><i style="--g:#3e2618 1px,#5a3723 5px,#6d422a 6px,#f8965f 8px,#fea267 9px,#fea267 15px,#ee905c 16px,#be7349 17px,#694028 29px,#3d2518 40px,#180e09 59px,#020201 101px,#000 246px"></i><i style="--g:#834f33 1px,#ab6842 10px,#e18857 11px,#fea368 12px,#fe9a62 19px,#e18857 20px,#ca7b4e 22px,#694028 49px,#6d422a 72px,#44291a 108px,#5f3a25 144px,#543320 149px,#1a100a 158px,#060402 164px,#010100 246px"></i><i style="--g:#20140d 1px,#543320 10px,#ec8f5b 14px,#fea368 15px,#fea368 22px,#fb9861 23px,#7a4a2f 27px,#42281a 45px,#1e120c 68px,#040201 126px,#000 246px"></i><i style="--g:#0e0805 1px,#291910 9px,#553321 14px,#653d27 15px,#f8965f 18px,#fea368 19px,#fea066 26px,#aa6742 28px,#6f432b 75px,#6a4029 102px,#9b5e3c 139px,#9f603d 151px,#865134 161px,#2e1c12 175px,#0b0704 185px,#000 246px"></i><b style="--g:#6f432b 1px,#be7349 16px,#fe9d64 20px,#fea368 30px,#ef915c 31px,#885335 34px,#412719 50px,#3e2618 78px,#643d27 147px,#5a3723 154px,#0f0906 168px,#020201 175px,#000 246px"></b><i style="--g:#804d31 1px,#814e32 15px,#bf744a 23px,#fe9c63 25px,#fea368 32px,#de8756 33px,#79492f 35px,#6a4029 37px,#2c1a11 51px,#0e0805 69px,#010100 102px,#000 246px"></i><i style="--g:#080503 1px,#190f0a 11px,#291910 13px,#633c26 17px,#fa9760 24px,#fea368 25px,#fea368 34px,#f99760 35px,#c97a4e 36px,#b06b44 37px,#5e3924 57px,#9c5f3c 147px,#8c5536 156px,#6f432b 160px,#23150d 167px,#060402 173px,#000 246px"></i><i style="--g:#2a1a10 1px,#4e2f1e 13px,#8e5637 25px,#9e5f3d 26px,#f0915d 28px,#fea368 29px,#fea368 38px,#ee905c 39px,#79492f 42px,#6f432b 43px,#44291a 61px,#28180f 80px,#090503 134px,#000 246px"></i><i style="--g:#2d1b11 1px,#4f301e 12px,#7e4c31 21px,#ae6943 27px,#bf744a 28px,#fea066 30px,#fea368 38px,#dd8655 39px,#9e5f3d 40px,#8d5636 41px,#412719 71px,#985c3b 82px,#b46d45 89px,#a66540 94px,#382216 108px,#150d08 115px,#010100 246px"></i><i style="--g:#975c3a 1px,#955a39 26px,#c4774c 32px,#fea167 34px,#fea368 41px,#f5945e 42px,#8d5636 44px,#71442b 51px,#694028 57px,#6c4129 73px,#9b5e3c 111px,#965b3a 127px,#683f28 164px,#6e432a 180px,#9b5e3c 215px,#814e32 246px"></i><i style="--g:#78492e 1px,#8b5436 18px,#845033 32px,#fc9961 35px,#fea267 44px,#d48152 46px,#74462d 67px,#472b1b 84px,#27170f 105px,#0a0604 151px,#010100 246px"></i><i style="--g:#150d08 1px,#362115 16px,#72452c 28px,#ba7148 36px,#fea167 38px,#fe9d64 48px,#9f603d 52px,#603a25 62px,#5a3723 66px,#42281a 98px,#6d422a 146px,#5e3924 155px,#190f0a 168px,#020201 178px,#000 246px"></i><i style="--g:#1a100a 1px,#3b2417 16px,#643d27 26px,#b46d45 37px,#c3764b 38px,#fb9861 39px,#fea368 40px,#fea368 46px,#f6955f 47px,#905737 49px,#683f28 72px,#78492e 93px,#a66540 121px,#ac6843 138px,#8b5436 157px,#160e09 178px,#090503 246px"></i><i style="--g:#0f0906 1px,#7e4c31 25px,#8b5436 38px,#905737 39px,#ea8e5a 40px,#fea368 41px,#fea066 50px,#ef915c 51px,#804d31 55px,#7c4b30 57px,#78492e 70px,#ba7148 95px,#c2754b 107px,#76472d 140px,#875234 163px,#72452c 167px,#1f130c 176px,#080503 182px,#000 246px"></i><i style="--g:#b66f46 1px,#cc7b4f 19px,#c0754a 38px,#ce7d50 39px,#f6955f 40px,#fea368 41px,#fe9f65 49px,#e18857 50px,#8b5436 52px,#77482e 54px,#3e2618 64px,#190f0a 78px,#080503 96px,#090503 114px,#2d1b11 121px,#9a5d3b 132px,#a66540 136px,#945939 140px,#26170e 151px,#050302 159px,#000 246px"></i><i style="--g:#150d08 1px,#73462c 20px,#6a4029 36px,#78492e 37px,#f4945e 41px,#fea368 42px,#fea468 49px,#eb8e5b 50px,#b66f46 56px,#6e432a 68px,#42281a 80px,#23150d 95px,#050302 139px,#000 246px"></i><i style="--g:#000 1px,#040201 26px,#180e09 35px,#553321 38px,#f0915d 42px,#fea468 43px,#fea468 51px,#fc9961 52px,#6f432b 55px,#4e2f1e 58px,#24160e 66px,#0b0704 78px,#000 109px,#000 246px"></i><i style="--g:#0b0704 1px,#1e120c 16px,#44291a 28px,#985c3b 40px,#cc7b4f 44px,#fea468 45px,#fe9a62 53px,#875234 56px,#78492e 57px,#382216 85px,#0c0805 140px,#010100 246px"></i><i style="--g:#51311f 1px,#9e5f3d 27px,#e78c59 42px,#fea167 44px,#fea468 52px,#f6955f 53px,#bd7249 54px,#965b3a 57px,#71442b 73px,#6c4129 85px,#ac6843 116px,#b06b44 128px,#653d27 167px,#51311f 171px,#150d08 177px,#020201 182px,#000 246px"></i><i style="--g:#1f130c 1px,#3e2618 20px,#6f432b 35px,#9e5f3d 44px,#bf744a 45px,#f4945e 46px,#fea468 47px,#fea267 56px,#f2935e 57px,#633c26 62px,#3d2518 64px,#120b07 80px,#010100 110px,#000 246px"></i><i style="--g:#090503 1px,#24160e 25px,#523220 39px,#6f432b 44px,#865134 45px,#e58b58 47px,#fea368 48px,#fea468 55px,#e78c59 56px,#b66f46 57px,#9c5f3c 58px,#7c4b30 63px,#3e2618 78px,#1e120c 94px,#040201 137px,#000 246px"></i><i style="--g:#0a0604 1px,#1f130c 22px,#4b2d1d 37px,#78492e 45px,#f8965f 48px,#fea468 49px,#fea066 57px,#8b5436 60px,#462a1b 77px,#22140d 95px,#050302 141px,#000 246px"></i><b style="--g:#020201 1px,#100a06 22px,#3e2618 38px,#79492f 46px,#e88d5a 49px,#fea167 50px,#fea468 58px,#ef915c 59px,#ca7b4e 60px,#9a5d3b 75px,#50301f 111px,#1d110b 167px,#080503 246px"></b><i style="--g:#040201 1px,#150d08 27px,#402719 43px,#643d27 49px,#e48a58 51px,#fea468 52px,#fe9a62 62px,#ae6943 66px,#8b5436 73px,#593622 87px,#2d1b11 108px,#0a0604 154px,#000 246px"></i><i style="--g:#563421 1px,#b46d45 51px,#c8794d 52px,#f4945e 53px,#fea468 54px,#fea468 60px,#de8756 62px,#a0613e 70px,#5b3723 84px,#6c4129 115px,#452a1b 151px,#3e2618 171px,#020201 182px,#000 246px"></i><i style="--g:#382216 1px,#7e4c31 49px,#925938 50px,#f2935e 52px,#fea468 53px,#fea468 62px,#f5945e 63px,#865134 66px,#73462c 67px,#73462c 94px,#ac6843 147px,#925938 156px,#28180f 169px,#090503 177px,#000 246px"></i><i style="--g:#a96641 1px,#804d31 47px,#915838 53px,#ea8e5a 55px,#fea468 56px,#fea468 64px,#fb9861 65px,#bd7249 67px,#b36c45 68px,#694028 93px,#452a1b 113px,#150d08 168px,#040201 246px"></i><i style="--g:#0f0906 1px,#2c1a11 24px,#593622 39px,#ac6843 53px,#b97047 54px,#e68b59 55px,#fea368 56px,#fea468 64px,#f0915d 65px,#db8454 68px,#7c4b30 87px,#c4774c 134px,#c4774c 146px,#a56440 158px,#331f14 177px,#100a06 187px,#040201 198px,#010100 246px"></i><i style="--g:#2d1b11 1px,#51311f 30px,#885335 55px,#a0613e 56px,#dc8555 57px,#fea469 58px,#fea469 67px,#f1925d 68px,#b46d45 70px,#975c3a 76px,#bc7248 112px,#b86f47 134px,#8e5637 156px,#311e13 176px,#0f0906 187px,#010100 246px"></i><i style="--g:#000 1px,#050302 35px,#28180f 52px,#3a2316 55px,#543320 56px,#ee905c 59px,#fea469 60px,#fea167 67px,#d38051 68px,#ba7148 69px,#643d27 88px,#71442b 108px,#462a1b 139px,#44291a 160px,#040201 184px,#000 246px"></i><i style="--g:#020201 1px,#100a06 14px,#593622 34px,#603a25 56px,#694028 57px,#fb9861 61px,#fea469 62px,#fea066 69px,#a56440 71px,#7a4a2f 77px,#412719 90px,#1f130c 105px,#040201 146px,#000 246px"></i><i style="--g:#000 1px,#010100 42px,#140c08 55px,#4a2d1c 58px,#fe9d64 63px,#fea469 70px,#fc9961 71px,#cc7b4f 72px,#bc7248 73px,#7c4b30 86px,#694028 118px,#865134 162px,#79492f 169px,#27170f 186px,#0c0805 195px,#010100 246px"></i><i style="--g:#0b0704 1px,#24160e 30px,#523220 50px,#6d422a 56px,#fe9d64 63px,#fea066 73px,#bf744a 75px,#af6a43 76px,#78492e 96px,#4c2e1d 120px,#1e120c 169px,#080503 246px"></i><i style="--g:#050302 1px,#160e09 28px,#3c2417 45px,#865134 59px,#915838 60px,#f8965f 64px,#fea469 66px,#fea469 74px,#a4633f 77px,#7e4c31 86px,#9b5e3c 101px,#9c5f3c 111px,#633c26 140px,#4b2d1d 161px,#090503 186px,#010100 246px"></i><i style="--g:#1e120c 1px,#44291a 35px,#78492e 58px,#8c5536 64px,#a86541 65px,#fb9861 67px,#fea469 68px,#fea469 77px,#be7349 80px,#865134 87px,#7e4c31 118px,#b46d45 159px,#9b5e3c 164px,#2e1c12 171px,#060402 177px,#000 246px"></i><i style="--g:#3e2618 1px,#7d4c30 40px,#cc7b4f 67px,#d38051 68px,#f2935e 69px,#fea368 70px,#fea469 78px,#e88d5a 81px,#a1623e 102px,#4f301e 143px,#291910 180px,#0e0805 246px"></i><i style="--g:#000 1px,#080503 35px,#2c1a11 55px,#50301f 62px,#74462d 66px,#fe9a62 70px,#fea469 79px,#e28957 80px,#a0613e 81px,#814e32 82px,#583522 88px,#311e13 97px,#180e09 108px,#020201 140px,#000 246px"></i><i style="--g:#010100 1px,#0e0805 36px,#342014 56px,#6d422a 67px,#f1925d 71px,#fea469 72px,#fe9a62 81px,#865134 84px,#7c4b30 85px,#593622 100px,#834f33 165px,#74462d 171px,#0e0805 184px,#040201 246px"></i><i style="--g:#2a1a10 1px,#875234 15px,#a1623e 22px,#a56440 37px,#824f32 67px,#cd7c4f 74px,#f99760 75px,#fea469 76px,#fe9c63 83px,#de8756 84px,#c7784d 89px,#76472d 113px,#945939 150px,#7e4c31 157px,#24160e 167px,#060402 246px"></i><i style="--g:#000 1px,#050302 44px,#23150d 64px,#331f14 68px,#824f32 71px,#f0915d 74px,#fea468 75px,#fea469 83px,#f4945e 84px,#d78253 85px,#d07e50 108px,#845033 156px,#6e432a 161px,#1e120c 167px,#1e120c 172px,#643d27 186px,#78492e 195px,#0c0805 222px,#050302 246px"></i><b style="--g:#010100 1px,#0c0805 36px,#372115 58px,#583522 65px,#8b5436 72px,#9a5d3b 73px,#e78c59 75px,#fea066 76px,#fe9d64 87px,#9f603d 90px,#905737 92px,#563421 110px,#311e13 130px,#0c0805 177px,#010100 246px"></b><i style="--g:#0b0704 1px,#1f130c 3px,#7a4a2f 8px,#8a5335 10px,#683f28 44px,#663e28 66px,#ac6843 77px,#e88d5a 78px,#fea469 79px,#fe9f65 88px,#824f32 92px,#543320 105px,#2e1c12 123px,#0a0604 168px,#010100 246px"></i><i style="--g:#000 1px,#080503 43px,#28180f 63px,#543320 72px,#885335 78px,#f4945e 80px,#fea569 81px,#fea569 86px,#f6955f 87px,#b26b44 88px,#925938 89px,#6c4129 95px,#3a2316 107px,#1a100a 122px,#040201 158px,#000 246px"></i><i style="--g:#040201 1px,#150d08 40px,#482c1c 66px,#74462d 76px,#8b5436 77px,#e28957 79px,#fea066 80px,#fea569 87px,#f0915d 88px,#ce7d50 89px,#804d31 107px,#3b2417 136px,#140c08 176px,#040201 246px"></i><i style="--g:#020201 1px,#321e13 29px,#593622 69px,#9e5f3d 80px,#be7349 81px,#f5945e 82px,#fea569 83px,#fe9b63 91px,#e58b58 92px,#c6784c 97px,#79492f 114px,#342014 143px,#0f0906 186px,#020201 246px"></i><i style="--g:#000 1px,#060402 51px,#27170f 72px,#2c1a11 73px,#603a25 76px,#fe9a62 82px,#fea569 83px,#fe9d64 92px,#814e32 94px,#5d3824 95px,#27170f 103px,#100a06 111px,#000 142px,#000 246px"></i><i style="--g:#010100 1px,#0e0805 39px,#311e13 61px,#563421 71px,#9a5d3b 81px,#ec8f5b 83px,#fea469 84px,#fea569 93px,#d88353 95px,#885335 125px,#8d5636 155px,#23150d 171px,#060402 246px"></i><i style="--g:#000 1px,#050302 49px,#20140d 68px,#3a2316 74px,#72452c 81px,#824f32 82px,#fe9a62 85px,#fea569 86px,#fe9b63 96px,#a2623f 99px,#915838 100px,#5b3723 117px,#342014 137px,#100a06 179px,#020201 246px"></i><i style="--g:#000 1px,#020201 47px,#1c110b 70px,#4a2d1c 80px,#5e3924 81px,#e88d5a 85px,#fea066 86px,#fea569 96px,#fe9b63 97px,#ca7b4e 99px,#a56440 105px,#9f603d 128px,#834f33 149px,#0e0805 181px,#010100 246px"></i><i style="--g:#000 1px,#000 63px,#0f0906 79px,#24160e 83px,#6c4129 85px,#db8454 87px,#fea468 88px,#fe9f65 98px,#9b5e3c 103px,#7d4c30 108px,#4b2d1d 120px,#24160e 137px,#080503 173px,#000 246px"></i><i style="--g:#000 1px,#050302 51px,#1e120c 70px,#3e2618 78px,#76472d 85px,#8d5636 87px,#fea267 90px,#fea066 99px,#f1925d 100px,#8c5536 104px,#76472d 108px,#44291a 121px,#27170f 134px,#080503 171px,#000 246px"></i><i style="--g:#020201 1px,#0e0805 37px,#362115 63px,#5a3723 73px,#885335 81px,#cd7c4f 89px,#f4945e 90px,#fea569 91px,#fe9b63 98px,#be7349 99px,#a1623e 100px,#7d4c30 104px,#42281a 114px,#1d110b 127px,#020201 163px,#000 246px"></i><i style="--g:#010100 1px,#0e0805 42px,#382216 69px,#804d31 85px,#fe9f65 90px,#fea569 99px,#f0915d 100px,#c6784c 101px,#7d4c30 111px,#482c1c 123px,#28180f 136px,#080503 172px,#000 246px"></i><i style="--g:#050302 1px,#1c110b 13px,#663e28 28px,#814e32 38px,#5f3a25 88px,#7d4c30 91px,#b06b44 92px,#fe9d64 93px,#fea569 101px,#fc9961 102px,#71442b 106px,#603a25 107px,#23150d 128px,#050302 167px,#000 246px"></i><i style="--g:#362115 1px,#79492f 51px,#e48a58 89px,#f5945e 92px,#fea569 93px,#fea569 102px,#fe9a62 103px,#945939 106px,#875234 108px,#4f301e 121px,#27170f 138px,#090503 173px,#000 246px"></i><i style="--g:#563421 1px,#543320 6px,#1d110b 14px,#040201 21px,#20140d 59px,#3e2618 71px,#653d27 80px,#b66f46 91px,#e28957 95px,#fea368 96px,#fea066 103px,#eb8e5b 105px,#8c5536 123px,#3a2316 154px,#120b07 195px,#040201 246px"></i><i style="--g:#000 1px,#060402 53px,#24160e 75px,#482c1c 84px,#865134 92px,#fea066 95px,#fea66a 103px,#d48152 106px,#824f32 120px,#523220 133px,#311e13 148px,#0c0805 186px,#010100 246px"></i><i style="--g:#0f0906 1px,#26170e 35px,#553321 65px,#a86541 90px,#ae6943 91px,#ef915c 93px,#fea167 94px,#fea066 104px,#965b3a 107px,#72452c 111px,#3a2316 121px,#180e09 134px,#020201 165px,#000 246px"></i><b style="--g:#150d08 1px,#2a1a10 30px,#5d3824 62px,#bf744a 92px,#f5945e 94px,#fea569 95px,#fe9d64 105px,#e28957 106px,#b97047 120px,#6a4029 159px,#3a2316 202px,#1f130c 246px"></b><i style="--g:#000 1px,#050302 55px,#23150d 79px,#603a25 92px,#7d4c30 93px,#f8965f 96px,#fea66a 97px,#fe9d64 104px,#8e5637 106px,#6d422a 111px,#3c2417 122px,#1f130c 134px,#050302 167px,#000 246px"></i><i style="--g:#000 1px,#060402 52px,#26170e 76px,#543320 87px,#8c5536 94px,#fea066 97px,#fea468 106px,#f4945e 107px,#4a2d1c 113px,#1c110b 127px,#020201 159px,#000 246px"></i><i style="--g:#0f0906 1px,#1e120c 31px,#6d422a 39px,#7a4a2f 44px,#653d27 79px,#965b3a 95px,#ea8e5a 97px,#fea66a 98px,#fe9f65 106px,#bd7249 107px,#915838 108px,#4e2f1e 119px,#1f130c 135px,#050302 166px,#000 246px"></i><i style="--g:#000 1px,#050302 59px,#24160e 81px,#4f301e 90px,#905737 97px,#9c5f3c 98px,#fea167 100px,#fea66a 107px,#dd8655 108px,#9b5e3c 109px,#965b3a 110px,#5d3824 138px,#291910 185px,#0f0906 246px"></i><i style="--g:#0a0604 1px,#1e120c 37px,#4b2d1d 66px,#aa6742 92px,#d48152 99px,#fea569 101px,#fea66a 108px,#fe9b63 109px,#b36c45 111px,#9a5d3b 112px,#945939 113px,#593622 126px,#301d12 142px,#0c0805 176px,#010100 246px"></i><i style="--g:#010100 1px,#301d12 31px,#593622 89px,#78492e 94px,#f2935e 98px,#fea368 99px,#fea66a 108px,#eb8e5b 109px,#b97047 110px,#9a5d3b 111px,#834f33 114px,#51311f 123px,#20140d 140px,#040201 178px,#000 246px"></i><i style="--g:#000 1px,#060402 89px,#331f14 93px,#6c4129 95px,#fe9d64 99px,#fea66a 109px,#f99760 110px,#6d422a 113px,#4e2f1e 114px,#150d08 129px,#010100 158px,#000 246px"></i><i style="--g:#010100 1px,#090503 46px,#2c1a11 75px,#50301f 86px,#925938 97px,#b97047 100px,#ee905c 101px,#fea66a 102px,#fea66a 110px,#f4945e 111px,#633c26 114px,#563421 115px,#2c1a11 124px,#180e09 132px,#020201 160px,#000 246px"></i><i style="--g:#000 1px,#050302 52px,#1e120c 77px,#44291a 89px,#7d4c30 98px,#9a5d3b 101px,#fe9f65 103px,#fea66a 111px,#f4945e 112px,#ab6842 114px,#814e32 119px,#50301f 128px,#22140d 144px,#050302 178px,#000 246px"></i><i style="--g:#010100 1px,#0c0805 14px,#3a2316 34px,#362115 68px,#452a1b 96px,#603a25 100px,#79492f 101px,#ea8e5a 103px,#fea66a 104px,#fe9c63 112px,#dc8555 113px,#885335 125px,#51311f 138px,#2e1c12 152px,#0b0704 187px,#010100 246px"></i><i style="--g:#000 1px,#040201 62px,#190f0a 85px,#4b2d1d 99px,#5a3723 100px,#e18857 103px,#fea267 104px,#fe9f65 113px,#c3764b 115px,#8d5636 131px,#583522 155px,#26170e 197px,#0e0805 246px"></i><i style="--g:#000 1px,#090503 56px,#291910 83px,#603a25 98px,#73462c 99px,#f8965f 103px,#fea76a 104px,#fea76a 113px,#de8756 114px,#5d3824 116px,#301d12 126px,#160e09 137px,#020201 168px,#000 246px"></i><i style="--g:#000 1px,#010100 66px,#150d08 89px,#51311f 101px,#653d27 102px,#fe9e65 105px,#fea76a 113px,#e78c59 114px,#6d422a 116px,#553321 117px,#2d1b11 125px,#140c08 135px,#020201 159px,#000 246px"></i><i style="--g:#180e09 1px,#342014 43px,#6c4129 80px,#a56440 102px,#aa6742 103px,#fa9760 105px,#fea76a 106px,#fea76a 114px,#e68b59 115px,#7e4c31 117px,#633c26 118px,#3e2618 125px,#1e120c 136px,#040201 166px,#000 246px"></i><i style="--g:#0f0906 1px,#291910 45px,#563421 76px,#985c3b 100px,#fe9d64 104px,#fea76a 105px,#fea167 114px,#e58b58 115px,#b97047 116px,#aa6742 117px,#74462d 129px,#42281a 147px,#150d08 183px,#020201 246px"></i><i style="--g:#020201 1px,#130b07 56px,#3b2417 84px,#7e4c31 103px,#945939 104px,#fe9a62 106px,#fea76a 107px,#fea76a 113px,#f6955f 114px,#975c3a 135px,#4a2d1c 166px,#23150d 198px,#0b0704 246px"></i><b style="--g:#000 1px,#090503 53px,#23150d 77px,#4e2f1e 91px,#814e32 100px,#a1623e 104px,#bf744a 105px,#f6955f 106px,#fea76a 107px,#fe9e65 117px,#b86f47 119px,#a4633f 120px,#8b5436 124px,#4f301e 138px,#291910 154px,#0a0604 188px,#010100 246px"></b><i style="--g:#0f0906 1px,#291910 44px,#543320 74px,#a66540 103px,#fe9f65 106px,#fea167 117px,#e48a58 118px,#8b5436 120px,#3d2518 147px,#120b07 188px,#040201 246px"></i><i style="--g:#0e0805 1px,#2c1a11 50px,#5f3a25 83px,#a66540 107px,#fea76a 109px,#fea76a 116px,#e18857 117px,#a66540 118px,#8c5536 119px,#4e2f1e 133px,#311e13 144px,#0a0604 181px,#010100 246px"></i><i style="--g:#180e09 1px,#362115 38px,#5f3a25 64px,#9a5d3b 86px,#fe9a62 109px,#fea76a 110px,#fea76a 116px,#f5945e 117px,#8d5636 119px,#5d3824 131px,#3b2417 144px,#0e0805 185px,#010100 246px"></i><i style="--g:#130b07 1px,#2a1a10 38px,#5b3723 71px,#b36c45 100px,#d27f51 107px,#f8965f 108px,#fea76a 109px,#fe9e65 119px,#4c2e1d 125px,#150d08 138px,#010100 163px,#000 246px"></i><i style="--g:#020201 1px,#140c08 58px,#412719 90px,#76472d 106px,#f99760 109px,#fea76a 110px,#fe9e65 120px,#985c3b 125px,#643d27 148px,#382216 181px,#834f33 192px,#8e5637 196px,#7c4b30 202px,#1f130c 215px,#120b07 246px"></i><i style="--g:#010100 1px,#0c0805 52px,#2d1b11 78px,#3c2417 83px,#915838 95px,#a56440 105px,#b56e46 107px,#e48a58 108px,#fea76a 109px,#fea469 118px,#f6955f 119px,#482c1c 125px,#28180f 130px,#150d08 136px,#010100 160px,#000 246px"></i><i style="--g:#000 1px,#080503 65px,#28180f 92px,#5a3723 105px,#694028 106px,#da8454 108px,#fea468 109px,#fea066 120px,#ec8f5b 121px,#5a3723 126px,#321e13 128px,#140c08 136px,#010100 163px,#000 246px"></i><i style="--g:#010100 1px,#0b0704 58px,#2c1a11 84px,#74462d 103px,#fb9861 108px,#fea66a 109px,#fea569 119px,#ec8f5b 120px,#c0754a 121px,#ac6843 122px,#7c4b30 147px,#44291a 193px,#22140d 246px"></i><i style="--g:#000 1px,#020201 70px,#1c110b 95px,#4a2d1c 106px,#f0915d 110px,#fea76b 111px,#fea76b 120px,#fe9b63 121px,#965b3a 125px,#8b5436 126px,#452a1b 152px,#1c110b 186px,#060402 246px"></i><i style="--g:#000 1px,#020201 63px,#1c110b 92px,#4b2d1d 105px,#fe9d64 109px,#fea76b 110px,#fea469 118px,#b66f46 119px,#965b3a 120px,#653d27 124px,#2e1c12 132px,#120b07 142px,#010100 166px,#000 246px"></i><i style="--g:#000 1px,#000 76px,#0e0805 98px,#331f14 106px,#73462c 108px,#f99760 111px,#fea76b 112px,#fea76a 120px,#f4945e 121px,#d78253 122px,#d88353 140px,#be7349 155px,#925938 164px,#27170f 179px,#0c0805 187px,#010100 246px"></i><i style="--g:#060402 1px,#160e09 45px,#42281a 79px,#8d5636 103px,#fe9f65 108px,#fea368 120px,#da8454 121px,#a0613e 122px,#965b3a 123px,#462a1b 151px,#1a100a 187px,#050302 246px"></i><i style="--g:#000 1px,#050302 60px,#20140d 89px,#412719 100px,#72452c 109px,#e78c59 111px,#fea76b 112px,#fe9e65 121px,#a96641 124px,#925938 126px,#5a3723 142px,#3b2417 156px,#100a06 198px,#040201 246px"></i><i style="--g:#000 1px,#090503 63px,#27170f 89px,#4b2d1d 101px,#834f33 111px,#cc7b4f 112px,#fea76b 113px,#fea76b 120px,#de8756 122px,#9f603d 135px,#6c4129 150px,#44291a 168px,#1e120c 199px,#090503 246px"></i><i style="--g:#000 1px,#040201 67px,#1e120c 94px,#543320 108px,#7c4b30 109px,#e78c59 111px,#fea76b 112px,#fea167 122px,#a86541 125px,#77482e 133px,#915838 157px,#77482e 167px,#291910 181px,#0a0604 192px,#010100 246px"></i><i style="--g:#000 1px,#050302 62px,#1f130c 88px,#44291a 99px,#74462d 107px,#865134 108px,#fe9c63 111px,#fea76b 112px,#fea76b 120px,#f5945e 121px,#653d27 125px,#2d1b11 145px,#0c0805 176px,#010100 246px"></i><i style="--g:#000 1px,#0a0604 52px,#24160e 59px,#78492e 71px,#965b3a 79px,#a0613e 95px,#925938 111px,#a4633f 112px,#e28957 113px,#fea76b 114px,#fea76b 120px,#fe9d64 121px,#9e5f3d 123px,#845033 124px,#4a2d1c 149px,#1a100a 193px,#080503 246px"></i><b style="--g:#000 1px,#090503 56px,#27170f 82px,#4c2e1d 94px,#845033 104px,#a66540 108px,#fe9f65 111px,#fea569 123px,#f6955f 124px,#9b5e3c 127px,#7d4c30 129px,#4b2d1d 137px,#20140d 150px,#050302 178px,#000 246px"></b><i style="--g:#000 1px,#040201 65px,#1e120c 93px,#42281a 104px,#fe9f65 111px,#fea76b 121px,#fb9861 122px,#b46d45 124px,#804d31 153px,#4f301e 194px,#2c1a11 246px"></i><i style="--g:#040201 1px,#130b07 47px,#372115 76px,#5f3a25 91px,#985c3b 104px,#c6784c 111px,#d27f51 112px,#fea76b 113px,#fea76b 123px,#fe9a62 124px,#9f603d 127px,#79492f 133px,#9b5e3c 157px,#865134 163px,#321e13 175px,#100a06 183px,#010100 246px"></i><i style="--g:#010100 1px,#0c0805 53px,#301d12 83px,#7d4c30 105px,#fe9c63 110px,#fea76b 111px,#fea76b 121px,#f2935e 122px,#9f603d 124px,#6f432b 129px,#402719 137px,#1c110b 149px,#040201 176px,#000 246px"></i><i style="--g:#0f0906 1px,#22140d 36px,#4e2f1e 69px,#a4633f 99px,#e28957 112px,#fea76b 114px,#fea167 123px,#ec8f5b 124px,#653d27 128px,#362115 130px,#0c0805 140px,#000 164px,#000 246px"></i><i style="--g:#020201 1px,#130b07 54px,#342014 80px,#5f3a25 95px,#9f603d 108px,#c2754b 113px,#fe9a62 114px,#fea86b 115px,#fea267 124px,#ee905c 125px,#aa6742 127px,#955a39 130px,#543320 144px,#2d1b11 159px,#0b0704 192px,#010100 246px"></i><i style="--g:#010100 1px,#0a0604 52px,#2e1c12 85px,#543320 98px,#975c3a 111px,#a66540 113px,#c4774c 114px,#fea468 115px,#fea066 122px,#da8454 123px,#a1623e 137px,#9f603d 157px,#8d5636 169px,#72452c 174px,#412719 179px,#0f0906 246px"></i><i style="--g:#000 1px,#060402 27px,#633c26 37px,#5a3723 39px,#140c08 45px,#020201 49px,#0a0604 102px,#2c1a11 109px,#76472d 111px,#de8756 113px,#fea468 114px,#fea86b 122px,#c8794d 124px,#be7349 127px,#694028 164px,#382216 203px,#1d110b 246px"></i><i style="--g:#060402 1px,#190f0a 52px,#452a1b 86px,#8c5536 110px,#f6955f 113px,#fea86b 114px,#fea86b 124px,#fe9a62 125px,#73462c 129px,#3b2417 138px,#1e120c 147px,#020201 178px,#000 246px"></i><i style="--g:#060402 1px,#190f0a 44px,#3e2618 73px,#6a4029 90px,#965b3a 101px,#ce7d50 111px,#d88353 112px,#f99760 113px,#fea76b 114px,#fe9f65 124px,#d27f51 125px,#b06b44 130px,#6a4029 146px,#42281a 161px,#160e09 195px,#050302 246px"></i><i style="--g:#23150d 1px,#382216 11px,#643d27 56px,#3c2417 99px,#6d422a 113px,#875234 114px,#fe9b63 116px,#fea86b 117px,#fea86b 125px,#fe9d64 126px,#694028 131px,#331f14 148px,#0e0805 180px,#010100 246px"></i><i style="--g:#000 1px,#010100 80px,#100a06 99px,#22140d 105px,#462a1b 111px,#563421 112px,#e08856 115px,#fea267 116px,#fea86b 124px,#fc9961 125px,#af6a43 127px,#9f603d 128px,#834f33 142px,#472b1b 188px,#22140d 246px"></i><i style="--g:#000 1px,#050302 61px,#20140d 89px,#42281a 100px,#7e4c31 110px,#985c3b 113px,#ae6943 114px,#e18857 115px,#fea469 116px,#fea267 124px,#c97a4e 125px,#824f32 126px,#6d422a 127px,#28180f 148px,#060402 186px,#000 246px"></i><i style="--g:#2c1a11 1px,#71442b 68px,#d07e50 111px,#da8454 114px,#fea167 116px,#fea368 127px,#f99760 128px,#834f33 133px,#7a4a2f 134px,#42281a 153px,#150d08 188px,#040201 246px"></i><i style="--g:#0a0604 1px,#1d110b 7px,#6e432a 20px,#865134 26px,#7c4b30 32px,#24160e 46px,#0c0805 53px,#372115 92px,#885335 115px,#a2623f 116px,#de8756 117px,#fea66a 118px,#fea86b 127px,#f99760 128px,#4f301e 133px,#2d1b11 139px,#160e09 147px,#020201 171px,#000 246px"></i><i style="--g:#040201 1px,#150d08 57px,#3d2518 88px,#8e5637 113px,#a66540 114px,#f99760 116px,#fea86b 117px,#fea86b 126px,#fe9b63 127px,#ac6843 130px,#7d4c30 136px,#452a1b 147px,#28180f 157px,#080503 187px,#000 246px"></i><i style="--g:#000 1px,#080503 66px,#180e09 71px,#6c4129 85px,#915838 113px,#a1623e 114px,#fe9f65 117px,#fea86b 126px,#f99760 127px,#663e28 131px,#342014 147px,#0e0805 179px,#010100 246px"></i><i style="--g:#000 1px,#120b07 17px,#3a2316 23px,#975c3a 32px,#aa6742 36px,#975c3a 41px,#22140d 53px,#060402 60px,#050302 81px,#160e09 96px,#362115 105px,#694028 112px,#a96641 117px,#fc9961 118px,#fea86b 119px,#fea86b 124px,#f4945e 126px,#9a5d3b 145px,#543320 170px,#26170e 203px,#0e0805 246px"></i><b style="--g:#000 1px,#020201 71px,#1a100a 99px,#3e2618 110px,#653d27 116px,#d68152 118px,#fea267 119px,#fea066 128px,#e48a58 129px,#6c4129 132px,#643d27 133px,#372115 149px,#0e0805 186px,#010100 246px"></b><i style="--g:#000 1px,#0a0604 62px,#2c1a11 93px,#462a1b 103px,#7a4a2f 115px,#834f33 116px,#e58b58 118px,#fea569 119px,#fea066 127px,#955a39 129px,#73462c 130px,#2c1a11 153px,#0b0704 185px,#010100 246px"></i><i style="--g:#000 1px,#040201 64px,#140c08 89px,#472b1b 105px,#472b1b 110px,#6c4129 117px,#da8454 119px,#fea469 120px,#fea96b 128px,#fa9760 130px,#a1623e 133px,#975c3a 134px,#44291a 160px,#190f0a 192px,#050302 246px"></i><i style="--g:#0b0704 1px,#120b07 10px,#6e432a 21px,#834f33 28px,#5a3723 87px,#8b5436 105px,#be7349 118px,#ec8f5b 119px,#fea96b 120px,#fea96b 127px,#f5945e 128px,#4c2e1d 131px,#180e09 143px,#020201 165px,#000 246px"></i><i style="--g:#040201 1px,#090503 9px,#22140d 16px,#a56440 31px,#c3764b 38px,#c4774c 48px,#865134 71px,#7a4a2f 84px,#c97a4e 117px,#ef915c 118px,#fea96b 119px,#fea96b 128px,#fe9d64 129px,#aa6742 131px,#8b5436 133px,#4b2d1d 143px,#22140d 156px,#050302 186px,#000 246px"></i><i style="--g:#000 1px,#050302 72px,#1f130c 96px,#382216 104px,#76472d 114px,#804d31 115px,#ee905c 118px,#fea469 119px,#fea569 129px,#d68152 130px,#945939 142px,#42281a 168px,#180e09 201px,#060402 246px"></i><i style="--g:#010100 1px,#0b0704 61px,#301d12 90px,#5e3924 104px,#985c3b 114px,#a96641 116px,#fe9b63 119px,#fea96b 120px,#fea96b 128px,#fe9a62 129px,#ca7b4e 130px,#bd7249 131px,#5b3723 164px,#291910 200px,#0f0906 246px"></i><i style="--g:#000 1px,#050302 55px,#23150d 88px,#4a2d1c 101px,#7a4a2f 110px,#ba7148 117px,#e88d5a 118px,#fea66a 119px,#fea96b 129px,#fe9a62 130px,#78492e 133px,#6e432a 134px,#362115 143px,#180e09 153px,#020201 179px,#000 246px"></i><i style="--g:#301d12 1px,#76472d 70px,#cd7c4f 112px,#dc8555 117px,#fea066 119px,#fea569 128px,#b06b44 130px,#71442b 156px,#3b2417 194px,#190f0a 246px"></i><i style="--g:#000 1px,#020201 71px,#1a100a 100px,#382216 110px,#593622 116px,#683f28 117px,#ee905c 120px,#fea86b 121px,#fea76a 130px,#d68152 131px,#c3764b 132px,#7a4a2f 142px,#462a1b 154px,#2c1a11 164px,#0a0604 195px,#010100 246px"></i><i style="--g:#040201 1px,#150d08 56px,#3a2316 84px,#623b26 99px,#9f603d 113px,#c4774c 119px,#fea066 121px,#fea368 132px,#f2935e 133px,#b46d45 135px,#a4633f 136px,#74462d 147px,#452a1b 164px,#160e09 200px,#060402 246px"></i><i style="--g:#000 1px,#050302 68px,#20140d 97px,#44291a 109px,#7d4c30 119px,#8d5636 120px,#fe9b63 123px,#fea96b 124px,#fea96b 132px,#f5945e 133px,#5e3924 137px,#291910 153px,#0a0604 180px,#000 246px"></i><i style="--g:#000 1px,#010100 91px,#130b07 110px,#291910 116px,#3a2316 117px,#824f32 119px,#e08856 121px,#fea267 122px,#fea96b 132px,#fe9c63 133px,#a4633f 136px,#925938 137px,#402719 163px,#150d08 197px,#050302 246px"></i><i style="--g:#010100 1px,#080503 55px,#22140d 86px,#5d3824 97px,#623b26 109px,#814e32 115px,#ab6842 121px,#fe9e65 123px,#fea96b 124px,#fea368 131px,#e68b59 132px,#8e5637 147px,#3c2417 174px,#150d08 206px,#060402 246px"></i><i style="--g:#010100 1px,#0b0704 61px,#2e1c12 94px,#543320 108px,#915838 121px,#f6955f 123px,#fea96b 124px,#fea96b 133px,#fe9a62 134px,#b46d45 136px,#a0613e 137px,#6a4029 162px,#372115 202px,#1c110b 246px"></i><i style="--g:#010100 1px,#0e0805 57px,#311e13 87px,#543320 100px,#905737 113px,#ca7b4e 121px,#f2935e 122px,#fea86b 123px,#fea76a 132px,#ba7148 134px,#77482e 141px,#472b1b 149px,#23150d 160px,#050302 189px,#000 246px"></i><i style="--g:#000 1px,#040201 72px,#1e120c 103px,#553321 119px,#653d27 120px,#f8965f 123px,#feaa6c 124px,#feaa6c 133px,#fe9f65 134px,#ba7148 136px,#ab6842 139px,#71442b 155px,#4a2d1c 171px,#20140d 202px,#0a0604 246px"></i><i style="--g:#865134 1px,#915838 16px,#c8794d 47px,#bf744a 62px,#885335 91px,#875234 103px,#a66540 121px,#b66f46 122px,#f2935e 124px,#fea468 125px,#fea368 135px,#c3764b 137px,#c6784c 152px,#865134 190px,#915838 206px,#c7784d 235px,#c6784c 246px"></i><b style="--g:#000 1px,#020201 75px,#190f0a 101px,#342014 110px,#78492e 120px,#aa6742 124px,#ec8f5b 125px,#feaa6c 126px,#feaa6c 135px,#f99760 136px,#553321 140px,#1f130c 154px,#050302 179px,#000 246px"></b><i style="--g:#28180f 1px,#663e28 64px,#b06b44 100px,#fe9a62 124px,#feaa6c 126px,#feaa6c 135px,#fa9760 136px,#885335 138px,#72452c 139px,#3d2518 156px,#140c08 187px,#020201 246px"></i><i style="--g:#000 1px,#010100 90px,#120b07 111px,#27170f 118px,#3c2417 120px,#845033 122px,#e48a58 124px,#fea468 125px,#feaa6c 137px,#fea066 138px,#ef915c 139px,#824f32 143px,#76472d 144px,#603a25 153px,#2c1a11 190px,#0e0805 246px"></i><i style="--g:#000 1px,#060402 67px,#26170e 98px,#4e2f1e 111px,#814e32 120px,#b46d45 126px,#e48a58 127px,#fea66a 128px,#fea86b 136px,#eb8e5b 137px,#875234 139px,#683f28 140px,#321e13 147px,#140c08 156px,#010100 180px,#000 246px"></i><i style="--g:#0f0906 1px,#140c08 15px,#4c2e1d 25px,#603a25 32px,#583522 65px,#6a4029 97px,#c2754b 127px,#f99760 128px,#feaa6c 129px,#fea76a 137px,#ee905c 138px,#a4633f 140px,#51311f 166px,#20140d 200px,#0a0604 246px"></i><i style="--g:#010100 1px,#0c0805 62px,#311e13 94px,#50301f 106px,#955a39 121px,#bf744a 127px,#f1925d 128px,#feaa6c 129px,#feaa6c 137px,#fe9d64 138px,#ac6843 140px,#925938 141px,#653d27 150px,#372115 165px,#130b07 191px,#020201 246px"></i><i style="--g:#000 1px,#090503 70px,#2c1a11 102px,#543320 115px,#7c4b30 123px,#865134 124px,#f99760 127px,#feaa6c 128px,#fea066 138px,#dc8555 139px,#523220 142px,#1d110b 155px,#090503 170px,#0e0805 177px,#291910 182px,#77482e 191px,#875234 195px,#7c4b30 199px,#27170f 209px,#0a0604 215px,#000 246px"></i><i style="--g:#000 1px,#010100 78px,#150d08 106px,#342014 116px,#6d422a 124px,#ab6842 129px,#d17e50 130px,#feaa6c 131px,#fea167 139px,#e88d5a 140px,#7d4c30 143px,#72452c 144px,#2d1b11 164px,#0a0604 196px,#010100 246px"></i><i style="--g:#000 1px,#080503 120px,#1d110b 126px,#362115 129px,#7d4c30 130px,#e08856 131px,#feaa6c 132px,#feaa6c 138px,#fa9760 139px,#a96641 141px,#7e4c31 162px,#4a2d1c 201px,#28180f 246px"></i><i style="--g:#603a25 1px,#6d422a 18px,#412719 61px,#6d422a 101px,#633c26 120px,#77482e 124px,#fe9a62 128px,#feaa6c 129px,#fea86b 139px,#e08856 140px,#76472d 142px,#44291a 149px,#1e120c 159px,#040201 184px,#000 246px"></i><i style="--g:#010100 1px,#0f0906 70px,#362115 103px,#814e32 126px,#fe9d64 130px,#feaa6c 131px,#feaa6c 140px,#fb9861 141px,#834f33 144px,#78492e 145px,#4f301e 153px,#28180f 166px,#090503 195px,#010100 246px"></i><i style="--g:#120b07 1px,#2e1c12 59px,#663e28 107px,#8a5335 124px,#fe9b63 128px,#feaa6c 129px,#feaa6c 139px,#ec8f5b 140px,#b66f46 141px,#7a4a2f 148px,#4e2f1e 156px,#27170f 168px,#080503 196px,#000 246px"></i><i style="--g:#090503 1px,#20140d 10px,#72452c 25px,#8e5637 36px,#8c5536 48px,#593622 85px,#653d27 102px,#8e5637 127px,#fa9760 130px,#feaa6c 131px,#feaa6c 139px,#e68b59 140px,#9e5f3d 141px,#824f32 144px,#482c1c 153px,#1f130c 166px,#050302 193px,#000 246px"></i><i style="--g:#000 1px,#010100 99px,#120b07 119px,#2e1c12 127px,#6a4029 129px,#f99760 132px,#feaa6c 133px,#feaa6c 141px,#fc9961 142px,#965b3a 145px,#462a1b 169px,#1a100a 200px,#060402 246px"></i><i style="--g:#000 1px,#040201 82px,#1f130c 111px,#3b2417 120px,#603a25 127px,#fe9b63 132px,#feaa6c 133px,#feaa6c 141px,#fe9a62 143px,#5f3a25 148px,#342014 154px,#190f0a 162px,#020201 185px,#000 246px"></i><i style="--g:#5e3924 1px,#462a1b 42px,#76472d 117px,#ba7148 130px,#eb8e5b 131px,#fea96b 132px,#feaa6c 143px,#fe9e65 144px,#e68b59 145px,#c0754a 155px,#79492f 181px,#4f301e 205px,#27170f 246px"></i><i style="--g:#080503 1px,#1c110b 57px,#4a2d1c 96px,#74462d 114px,#b66f46 132px,#c0754a 134px,#fea569 135px,#fea267 144px,#b06b44 147px,#7e4c31 159px,#51311f 175px,#26170e 203px,#0b0704 246px"></i><b style="--g:#000 1px,#010100 90px,#150d08 117px,#321e13 126px,#593622 132px,#814e32 133px,#fe9b63 135px,#feaa6c 136px,#fea66a 144px,#e58b58 145px,#b26b44 146px,#925938 147px,#553321 158px,#2a1a10 172px,#0a0604 201px,#010100 246px"></b><i style="--g:#000 1px,#060402 77px,#27170f 109px,#4c2e1d 121px,#77482e 129px,#845033 130px,#f1925d 133px,#fea569 134px,#fea368 145px,#e58b58 146px,#683f28 149px,#452a1b 156px,#291910 166px,#090503 196px,#010100 246px"></i><i style="--g:#000 1px,#080503 70px,#291910 106px,#4f301e 120px,#8a5335 132px,#9f603d 133px,#fea066 135px,#feaa6c 136px,#fea167 146px,#cc7b4f 148px,#c7784d 149px,#865134 167px,#5e3924 183px,#2d1b11 216px,#180e09 246px"></i><i style="--g:#150d08 1px,#2a1a10 43px,#5d3824 87px,#975c3a 115px,#db8454 136px,#feaa6c 137px,#feaa6c 145px,#f99760 146px,#472b1b 149px,#190f0a 158px,#020201 179px,#000 246px"></i><i style="--g:#9a5d3b 1px,#a66540 22px,#6d422a 50px,#653d27 61px,#aa6742 104px,#7c4b30 131px,#915838 132px,#fc9961 135px,#feaa6c 136px,#fea86b 146px,#ef915c 147px,#6c4129 150px,#593622 151px,#26170e 162px,#060402 184px,#000 246px"></i><i style="--g:#000 1px,#020201 85px,#190f0a 113px,#3b2417 124px,#5e3924 130px,#6d422a 131px,#f6955f 135px,#fea76b 136px,#feaa6c 145px,#fe9f65 146px,#4f301e 151px,#23150d 153px,#0a0604 159px,#000 246px"></i><i style="--g:#000 1px,#020201 78px,#1a100a 112px,#362115 123px,#663e28 133px,#73462c 134px,#fea066 137px,#feaa6c 138px,#fea66a 147px,#ec8f5b 148px,#c7784d 149px,#7c4b30 178px,#482c1c 211px,#291910 246px"></i><i style="--g:#000 1px,#020201 80px,#1a100a 111px,#362115 121px,#6e432a 131px,#9e5f3d 136px,#fe9b63 138px,#feab6d 139px,#feab6d 148px,#fc9961 150px,#965b3a 153px,#5d3824 164px,#321e13 178px,#0f0906 205px,#020201 246px"></i><i style="--g:#020201 1px,#120b07 66px,#362115 103px,#845033 133px,#985c3b 134px,#f1925d 136px,#feaa6c 137px,#fea468 148px,#e18857 149px,#7d4c30 151px,#583522 156px,#2d1b11 166px,#080503 192px,#000 246px"></i><i style="--g:#060402 1px,#160e09 61px,#4b2d1d 114px,#7c4b30 136px,#955a39 137px,#d38051 138px,#fea368 139px,#feaa6c 148px,#e48a58 149px,#c8794d 150px,#c3764b 151px,#683f28 181px,#362115 212px,#1a100a 246px"></i><i style="--g:#010100 1px,#0c0805 62px,#301d12 97px,#78492e 122px,#da8454 138px,#fe9a62 139px,#feab6d 140px,#fea468 150px,#f2935e 151px,#74462d 155px,#44291a 157px,#1d110b 160px,#020201 182px,#000 246px"></i><i style="--g:#000 1px,#060402 127px,#0a0604 129px,#2c1a11 132px,#5e3924 134px,#f6955f 138px,#feaa6c 139px,#feab6d 149px,#fe9e65 150px,#71442b 154px,#5e3924 155px,#2d1b11 170px,#0a0604 200px,#010100 246px"></i><i style="--g:#000 1px,#090503 77px,#28180f 109px,#50301f 124px,#79492f 133px,#f2935e 137px,#fea469 138px,#fea469 151px,#ef915c 152px,#a86541 154px,#945939 155px,#563421 166px,#291910 181px,#0b0704 207px,#010100 246px"></i><i style="--g:#000 1px,#060402 74px,#24160e 109px,#452a1b 122px,#885335 136px,#a4633f 138px,#fea267 140px,#feab6d 151px,#fb9861 153px,#74462d 157px,#2d1b11 160px,#1a100a 162px,#100a06 166px,#010100 186px,#000 246px"></i><i style="--g:#010100 1px,#0e0805 65px,#2d1b11 98px,#523220 115px,#834f33 128px,#c2754b 139px,#fe9a62 141px,#feab6d 142px,#fea368 150px,#834f33 152px,#623b26 153px,#311e13 161px,#1d110b 167px,#040201 190px,#000 246px"></i><i style="--g:#000 1px,#080503 75px,#24160e 108px,#4c2e1d 124px,#804d31 135px,#a96641 141px,#ea8e5a 142px,#feab6d 143px,#feab6d 151px,#d88353 152px,#8b5436 153px,#6c4129 154px,#2e1c12 172px,#0a0604 204px,#010100 246px"></i><i style="--g:#000 1px,#050302 84px,#1f130c 117px,#382216 128px,#603a25 138px,#71442b 139px,#da8454 141px,#fea267 142px,#feab6d 150px,#dd8655 151px,#965b3a 152px,#623b26 153px,#331f14 161px,#190f0a 170px,#040201 193px,#000 246px"></i><i style="--g:#120b07 1px,#2d1b11 57px,#603a25 102px,#b46d45 139px,#b86f47 140px,#fe9d64 142px,#feab6d 143px,#fea76a 152px,#ae6943 154px,#72452c 166px,#4e2f1e 177px,#1e120c 204px,#080503 246px"></i><b style="--g:#080503 1px,#1f130c 66px,#482c1c 104px,#a0613e 140px,#a4633f 141px,#c3764b 142px,#f8965f 143px,#feab6d 144px,#fea96b 153px,#ea8e5a 154px,#865134 156px,#643d27 157px,#28180f 169px,#050302 195px,#000 246px"></b><i style="--g:#000 1px,#020201 85px,#190f0a 118px,#301d12 128px,#5a3723 138px,#f6955f 143px,#fea76a 144px,#feab6d 153px,#fea167 154px,#ab6842 157px,#593622 183px,#2c1a11 211px,#130b07 246px"></i><i style="--g:#010100 1px,#090503 63px,#27170f 100px,#482c1c 116px,#74462d 128px,#c97a4e 142px,#fea469 144px,#feaa6c 155px,#f4945e 156px,#51311f 160px,#26170e 168px,#050302 191px,#000 246px"></i><i style="--g:#020201 1px,#100a06 65px,#3a2316 107px,#653d27 126px,#a2623f 142px,#eb8e5b 144px,#fea66a 145px,#feac6d 154px,#eb8e5b 155px,#7a4a2f 157px,#3b2417 176px,#120b07 207px,#040201 246px"></i><i style="--g:#040201 1px,#130b07 57px,#3b2417 98px,#694028 119px,#965b3a 132px,#d78253 145px,#fea469 146px,#feac6d 156px,#fe9d64 158px,#4b2d1d 165px,#1f130c 173px,#040201 194px,#000 246px"></i><i style="--g:#000 1px,#000 106px,#0c0805 131px,#2c1a11 140px,#6a4029 142px,#f5945e 145px,#feac6d 146px,#feac6d 155px,#fe9d64 156px,#c0754a 157px,#9a5d3b 163px,#5f3a25 176px,#3b2417 189px,#190f0a 212px,#080503 246px"></i><i style="--g:#000 1px,#050302 89px,#1f130c 121px,#5d3824 141px,#77482e 142px,#ef915c 145px,#fea66a 146px,#feac6d 154px,#ef915c 155px,#6a4029 157px,#42281a 158px,#100a06 167px,#010100 182px,#000 246px"></i><i style="--g:#0c0805 1px,#1f130c 48px,#472b1b 87px,#8b5436 119px,#ef915c 145px,#feac6d 147px,#feaa6c 156px,#e48a58 157px,#6d422a 159px,#382216 164px,#160e09 171px,#010100 191px,#000 246px"></i><i style="--g:#000 1px,#020201 89px,#1c110b 124px,#311e13 133px,#5d3824 143px,#834f33 144px,#f5945e 146px,#feac6d 147px,#feac6d 156px,#f99760 157px,#ae6943 158px,#7e4c31 159px,#412719 174px,#150d08 199px,#020201 246px"></i><i style="--g:#3c2417 1px,#462a1b 13px,#100a06 32px,#010100 46px,#140c08 102px,#2d1b11 119px,#5b3723 134px,#8c5536 143px,#a0613e 144px,#da8454 145px,#fea469 146px,#fea368 157px,#d88353 158px,#6c4129 160px,#50301f 161px,#2a1a10 171px,#080503 198px,#000 246px"></i><i style="--g:#020201 1px,#120b07 66px,#3d2518 108px,#653d27 125px,#9e5f3d 140px,#c0754a 146px,#ee905c 147px,#fea76b 148px,#fea66a 156px,#af6a43 158px,#51311f 186px,#27170f 213px,#100a06 246px"></i><i style="--g:#010100 1px,#0a0604 69px,#2e1c12 110px,#523220 126px,#8e5637 141px,#b26b44 147px,#cc7b4f 148px,#fe9b63 149px,#feac6d 150px,#feac6d 160px,#fe9d64 161px,#8e5637 164px,#51311f 174px,#2e1c12 184px,#0c0805 207px,#010100 246px"></i><i style="--g:#000 1px,#090503 82px,#2e1c12 124px,#77482e 148px,#9f603d 149px,#f8965f 150px,#feac6d 151px,#feac6d 158px,#fe9c63 159px,#e08856 160px,#b66f46 168px,#623b26 193px,#3a2316 214px,#1a100a 246px"></i><i style="--g:#020201 1px,#120b07 71px,#402719 117px,#8b5436 145px,#a4633f 146px,#fe9e65 148px,#feac6d 149px,#fea86b 159px,#f1925d 160px,#cc7b4f 161px,#a1623e 168px,#683f28 181px,#3e2618 196px,#1c110b 220px,#0b0704 246px"></i><i style="--g:#050302 1px,#180e09 70px,#452a1b 116px,#8c5536 147px,#e18857 149px,#fea368 150px,#feac6d 158px,#fe9d64 159px,#7a4a2f 161px,#663e28 162px,#3b2417 173px,#0f0906 200px,#010100 246px"></i><i style="--g:#080503 1px,#190f0a 59px,#42281a 102px,#683f28 122px,#9f603d 141px,#c3764b 150px,#ce7d50 151px,#fea167 152px,#feac6d 153px,#feac6d 161px,#fe9d64 162px,#9e5f3d 165px,#5e3924 174px,#321e13 185px,#0c0805 209px,#010100 246px"></i><i style="--g:#000 1px,#000 112px,#0e0805 136px,#2e1c12 145px,#623b26 147px,#ee905c 150px,#feaa6c 151px,#feac6d 161px,#fe9b63 163px,#6e432a 168px,#311e13 181px,#0b0704 204px,#010100 246px"></i><i style="--g:#000 1px,#080503 84px,#28180f 122px,#462a1b 135px,#76472d 147px,#ef915c 150px,#fea86b 151px,#fea469 162px,#e58b58 163px,#9f603d 177px,#553321 201px,#1a100a 246px"></i><b style="--g:#000 1px,#010100 82px,#0f0906 116px,#472b1b 131px,#3e2618 139px,#683f28 147px,#76472d 149px,#985c3b 150px,#d78253 151px,#fea469 152px,#fead6e 162px,#fe9c63 163px,#b86f47 165px,#965b3a 168px,#663e28 175px,#321e13 188px,#0c0805 213px,#020201 246px"></b><i style="--g:#000 1px,#010100 104px,#100a06 128px,#291910 138px,#683f28 148px,#73462c 149px,#f6955f 152px,#feac6d 153px,#fead6e 161px,#fea066 162px,#db8454 163px,#d27f51 164px,#a2623f 173px,#4c2e1d 200px,#150d08 246px"></i><i style="--g:#000 1px,#050302 74px,#23150d 115px,#4c2e1d 132px,#834f33 144px,#a56440 149px,#b86f47 150px,#fe9d64 152px,#fead6e 153px,#fead6e 162px,#fea066 163px,#663e28 165px,#51311f 166px,#1e120c 175px,#040201 193px,#000 246px"></i><i style="--g:#120b07 1px,#301d12 71px,#633c26 122px,#965b3a 151px,#a56440 152px,#db8454 153px,#fea267 154px,#fead6e 155px,#fead6e 162px,#de8756 163px,#8c5536 164px,#4e2f1e 178px,#1a100a 204px,#050302 246px"></i><i style="--g:#080503 1px,#1c110b 68px,#4e2f1e 121px,#834f33 148px,#e88d5a 151px,#fea167 152px,#fead6e 153px,#fea76b 164px,#e58b58 165px,#7c4b30 167px,#5b3723 168px,#382216 172px,#1c110b 178px,#020201 197px,#000 246px"></i><i style="--g:#0a0604 1px,#5b3723 22px,#78492e 39px,#79492f 57px,#4a2d1c 101px,#7a4a2f 148px,#985c3b 152px,#af6a43 153px,#f4945e 154px,#fead6e 155px,#fead6e 165px,#fc9961 166px,#845033 169px,#603a25 180px,#2d1b11 206px,#0e0805 246px"></i><i style="--g:#040201 1px,#130b07 71px,#382216 113px,#5a3723 131px,#975c3a 151px,#9c5f3c 152px,#eb8e5b 154px,#fea569 155px,#fea468 165px,#e28957 166px,#834f33 168px,#683f28 169px,#331f14 180px,#0c0805 202px,#010100 246px"></i><i style="--g:#000 1px,#020201 100px,#160e09 131px,#2c1a11 141px,#543320 151px,#77482e 152px,#ec8f5b 154px,#fead6e 155px,#fea469 165px,#d38051 166px,#5b3723 168px,#372115 169px,#150d08 177px,#020201 194px,#000 246px"></i><i style="--g:#0a0604 1px,#26170e 71px,#523220 112px,#74462d 130px,#b56e46 153px,#ca7b4e 154px,#f8965f 155px,#fead6e 156px,#fea86b 165px,#e18857 166px,#b26b44 167px,#77482e 175px,#875234 184px,#7a4a2f 191px,#b46d45 229px,#ae6943 239px,#945939 246px"></i><i style="--g:#060402 1px,#1a100a 70px,#412719 110px,#8e5637 145px,#ab6842 153px,#fb9861 155px,#fead6e 156px,#fead6e 166px,#fe9f65 167px,#563421 171px,#372115 178px,#0a0604 204px,#010100 246px"></i><i style="--g:#000 1px,#060402 87px,#28180f 129px,#683f28 151px,#71442b 152px,#fe9f65 155px,#fead6e 156px,#fead6e 166px,#fea267 167px,#dd8655 168px,#aa6742 169px,#9c5f3c 170px,#5d3824 181px,#3a2316 191px,#140c08 213px,#040201 246px"></i><i style="--g:#040201 1px,#130b07 70px,#382216 111px,#6d422a 136px,#9e5f3d 150px,#af6a43 152px,#ee905c 154px,#fea066 155px,#fead6e 156px,#fea66a 167px,#653d27 169px,#27170f 181px,#060402 203px,#000 246px"></i><i style="--g:#040201 1px,#160e09 81px,#42281a 126px,#814e32 154px,#aa6742 155px,#e78c59 156px,#feac6d 157px,#feac6d 168px,#f8965f 169px,#7c4b30 172px,#603a25 173px,#4a2d1c 180px,#1e120c 204px,#060402 246px"></i><i style="--g:#000 1px,#090503 78px,#301d12 124px,#4f301e 138px,#8c5536 154px,#925938 155px,#b36c45 156px,#fe9c63 157px,#fead6e 158px,#fead6e 167px,#fe9d64 168px,#875234 170px,#372115 188px,#120b07 211px,#040201 246px"></i><i style="--g:#000 1px,#080503 78px,#291910 120px,#4e2f1e 136px,#865134 150px,#b26b44 156px,#fa9760 157px,#fead6e 158px,#fea76b 168px,#ec8f5b 169px,#945939 171px,#7e4c31 172px,#7d4c30 173px,#834f33 191px,#c7784d 233px,#c6784c 246px"></i><i style="--g:#000 1px,#010100 101px,#140c08 132px,#342014 144px,#643d27 152px,#78492e 153px,#f6955f 156px,#feab6d 157px,#fead6e 168px,#f99760 169px,#915838 171px,#6e432a 172px,#3a2316 186px,#130b07 210px,#040201 246px"></i><i style="--g:#000 1px,#000 115px,#0c0805 141px,#22140d 149px,#3e2618 154px,#5e3924 155px,#f5945e 158px,#fead6e 159px,#fead6e 170px,#f2935e 171px,#8c5536 173px,#804d31 180px,#834f33 193px,#d17e50 227px,#b56e46 246px"></i><i style="--g:#000 1px,#040201 99px,#1c110b 132px,#3d2518 146px,#6d422a 156px,#fea267 159px,#fead6e 160px,#fea66a 168px,#db8454 169px,#a2623f 170px,#5f3a25 181px,#3b2417 191px,#140c08 213px,#040201 246px"></i><b style="--g:#040201 1px,#1e120c 78px,#583522 98px,#44291a 110px,#8a5335 138px,#ce7d50 154px,#eb8e5b 159px,#fe9b63 160px,#fead6e 161px,#fead6e 169px,#fea368 170px,#a0613e 173px,#623b26 182px,#382216 192px,#130b07 212px,#020201 246px"></b><i style="--g:#7e4c31 1px,#aa6742 29px,#a66540 41px,#72452c 76px,#74462d 86px,#aa6742 122px,#915838 147px,#c97a4e 158px,#feab6d 160px,#fead6e 169px,#ee905c 170px,#72452c 172px,#aa6742 214px,#a66540 226px,#845033 246px"></i><i style="--g:#000 1px,#010100 103px,#130b07 134px,#2c1a11 145px,#563421 154px,#623b26 155px,#f1925d 159px,#fea76a 160px,#fead6e 170px,#f8965f 171px,#6a4029 174px,#5b3723 175px,#2a1a10 186px,#0a0604 207px,#010100 246px"></i><i style="--g:#000 1px,#090503 77px,#2e1c12 121px,#583522 138px,#8d5636 151px,#be7349 159px,#d07e50 160px,#fea86b 161px,#fea569 172px,#ea8e5a 173px,#6c4129 176px,#321e13 178px,#140c08 184px,#020201 198px,#000 246px"></i><i style="--g:#000 1px,#090503 83px,#2a1a10 122px,#583522 140px,#8d5636 152px,#a0613e 155px,#b06b44 156px,#f4945e 158px,#fea569 159px,#fead6e 171px,#fea066 172px,#553321 177px,#1f130c 189px,#060402 208px,#000 246px"></i><i style="--g:#0e0805 1px,#291910 63px,#4c2e1d 98px,#a1623e 141px,#da8454 158px,#f99760 159px,#feac6d 160px,#fea76b 172px,#e48a58 173px,#51311f 176px,#24160e 184px,#050302 204px,#000 246px"></i><i style="--g:#000 1px,#090503 83px,#2a1a10 123px,#583522 142px,#905737 155px,#a1623e 158px,#fea066 161px,#fead6e 162px,#fead6e 171px,#fe9c63 172px,#a4633f 174px,#8b5436 175px,#523220 190px,#27170f 212px,#0c0805 246px"></i><i style="--g:#010100 1px,#0b0704 86px,#321e13 133px,#6f432b 158px,#fa9760 161px,#fead6e 162px,#fead6e 172px,#fea066 173px,#8d5636 176px,#50301f 191px,#24160e 212px,#0a0604 246px"></i><i style="--g:#010100 1px,#0b0704 70px,#2e1c12 115px,#5b3723 137px,#8c5536 151px,#bf744a 161px,#e88d5a 162px,#fead6e 163px,#feaa6c 173px,#ee905c 174px,#8e5637 176px,#72452c 177px,#311e13 191px,#0c0805 213px,#010100 246px"></i><i style="--g:#000 1px,#010100 105px,#140c08 137px,#28180f 146px,#5d3824 157px,#f0915d 161px,#fea76a 162px,#feae6f 172px,#fea469 173px,#e68b59 174px,#452a1b 178px,#1c110b 180px,#0b0704 182px,#000 246px"></i><i style="--g:#000 1px,#050302 87px,#20140d 125px,#452a1b 141px,#7e4c31 154px,#a0613e 159px,#fe9e65 162px,#feae6f 163px,#feae6f 173px,#fead6e 174px,#fa9760 175px,#643d27 179px,#412719 184px,#20140d 192px,#050302 213px,#000 246px"></i><i style="--g:#000 1px,#050302 92px,#22140d 132px,#462a1b 148px,#845033 162px,#ee905c 164px,#feae6f 165px,#feae6f 174px,#fe9d64 175px,#be7349 177px,#a96641 180px,#73462c 190px,#4b2d1d 201px,#26170e 219px,#0e0805 246px"></i><i style="--g:#000 1px,#090503 81px,#291910 122px,#543320 141px,#925938 156px,#b66f46 162px,#c8794d 163px,#fea167 164px,#feae6f 165px,#feae6f 174px,#f1925d 175px,#78492e 177px,#28180f 179px,#100a06 184px,#010100 197px,#000 246px"></i><i style="--g:#000 1px,#020201 103px,#180e09 134px,#412719 149px,#76472d 158px,#9a5d3b 161px,#f1925d 163px,#fea96b 164px,#feae6f 173px,#ee905c 174px,#b46d45 175px,#76472d 180px,#4a2d1c 186px,#24160e 195px,#090503 213px,#010100 246px"></i><i style="--g:#000 1px,#020201 8px,#130b07 11px,#301d12 13px,#915838 17px,#ae6943 19px,#a1623e 21px,#1d110b 27px,#020201 31px,#020201 103px,#140c08 133px,#2e1c12 146px,#6a4029 159px,#79492f 161px,#945939 162px,#f99760 164px,#feae6f 165px,#feae6f 173px,#fe9a62 174px,#8b5436 175px,#683f28 183px,#342014 208px,#130b07 246px"></i><i style="--g:#090503 1px,#1c110b 62px,#4b2d1d 111px,#875234 140px,#ca7b4e 160px,#e18857 165px,#feae6f 166px,#feae6f 175px,#fe9a62 176px,#6f432b 180px,#79492f 201px,#a96641 236px,#a0613e 246px"></i><i style="--g:#010100 1px,#0a0604 79px,#28180f 118px,#4b2d1d 136px,#834f33 152px,#d07e50 165px,#fe9b63 166px,#feae6f 167px,#fea469 177px,#f5945e 178px,#834f33 182px,#412719 185px,#311e13 186px,#20140d 190px,#060402 207px,#000 246px"></i><b style="--g:#000 1px,#060402 127px,#603a25 140px,#6a4029 164px,#7e4c31 165px,#ce7d50 166px,#feaa6c 167px,#fea66a 177px,#ef915c 178px,#dd8655 180px,#a4633f 192px,#71442b 207px,#2a1a10 246px"></b><i style="--g:#000 1px,#0a0604 91px,#2e1c12 136px,#6e432a 162px,#814e32 163px,#cd7c4f 164px,#fea86b 165px,#feae6f 177px,#fe9e65 178px,#402719 184px,#23150d 189px,#040201 210px,#000 246px"></i><i style="--g:#0a0604 1px,#22140d 64px,#4e2f1e 107px,#9e5f3d 144px,#e78c59 164px,#fe9c63 165px,#feae6f 166px,#fea76b 176px,#ee905c 177px,#985c3b 179px,#5e3924 187px,#3a2316 195px,#0f0906 217px,#020201 246px"></i><i style="--g:#000 1px,#050302 92px,#22140d 132px,#462a1b 148px,#804d31 161px,#8b5436 162px,#e78c59 164px,#fea569 165px,#feac6d 176px,#f5945e 177px,#a4633f 179px,#925938 181px,#683f28 187px,#342014 199px,#130b07 217px,#040201 246px"></i><i style="--g:#000 1px,#060402 91px,#26170e 131px,#472b1b 146px,#824f32 160px,#ab6842 166px,#fe9c63 167px,#feae6f 168px,#feae6f 175px,#dd8655 176px,#4e2f1e 178px,#372115 179px,#150d08 186px,#020201 201px,#000 246px"></i><i style="--g:#fea066 1px,#fe9a62 10px,#bd7249 42px,#b26b44 57px,#be7349 73px,#fe9a62 105px,#fe9a62 134px,#c3764b 163px,#ce7d50 164px,#fe9d64 165px,#feae6f 166px,#feae6f 176px,#ef915c 177px,#b26b44 178px,#bc7248 196px,#fe9a62 229px,#fea066 246px"></i><i style="--g:#050302 1px,#190f0a 83px,#482c1c 135px,#875234 165px,#e08856 167px,#fea468 168px,#feaf6f 169px,#feaf6f 176px,#e68b59 177px,#5b3723 179px,#2e1c12 180px,#130b07 184px,#010100 197px,#000 246px"></i><i style="--g:#0f0906 1px,#291910 80px,#6a4029 150px,#814e32 164px,#fe9a62 166px,#feaf6f 167px,#feaf6f 178px,#f99760 179px,#905737 181px,#694028 182px,#2e1c12 193px,#0b0704 212px,#010100 246px"></i><i style="--g:#000 1px,#040201 94px,#1e120c 133px,#44291a 149px,#7c4b30 161px,#e88d5a 164px,#fea267 165px,#feaf6f 166px,#feaf6f 177px,#f4945e 178px,#72452c 180px,#4f301e 181px,#190f0a 190px,#040201 204px,#000 246px"></i><i style="--g:#1a100a 1px,#362115 56px,#694028 105px,#d27f51 156px,#f4945e 167px,#fead6e 168px,#feaf6f 169px,#feaf6f 179px,#fea368 180px,#b36c45 182px,#6e432a 197px,#342014 220px,#160e09 246px"></i><i style="--g:#010100 1px,#080503 13px,#311e13 34px,#50301f 80px,#543320 103px,#402719 136px,#6a4029 152px,#a2623f 165px,#e68b59 166px,#feaf6f 167px,#feaf6f 177px,#f2935e 178px,#6e432a 180px,#331f14 192px,#0e0805 212px,#010100 246px"></i><i style="--g:#060402 1px,#190f0a 64px,#472b1b 112px,#9f603d 149px,#eb8e5b 167px,#fead6e 168px,#feae6f 179px,#e68b59 180px,#6c4129 182px,#472b1b 191px,#150d08 217px,#060402 246px"></i><i style="--g:#040201 1px,#150d08 81px,#42281a 130px,#945939 165px,#a96641 166px,#e58b58 167px,#feaa6c 168px,#feaf6f 180px,#fe9a62 181px,#d68152 182px,#be7349 184px,#5e3924 208px,#372115 226px,#1f130c 246px"></i><i style="--g:#0c0805 1px,#28180f 69px,#4f301e 106px,#975c3a 142px,#da8454 162px,#fe9d64 168px,#feaf6f 169px,#feaf6f 179px,#fea469 180px,#f0915d 181px,#875234 184px,#77482e 185px,#42281a 246px"></i><i style="--g:#000 1px,#010100 115px,#120b07 142px,#321e13 154px,#6d422a 163px,#f99760 167px,#feab6d 168px,#feaf6f 178px,#fe9d64 179px,#985c3b 181px,#8d5636 182px,#5a3723 189px,#321e13 198px,#100a06 215px,#020201 246px"></i><i style="--g:#000 1px,#060402 86px,#22140d 125px,#452a1b 142px,#6d422a 153px,#ca7b4e 168px,#f8965f 169px,#feaf6f 170px,#feaf6f 179px,#fa9760 181px,#74462d 185px,#311e13 198px,#0f0906 216px,#020201 246px"></i><i style="--g:#000 1px,#010100 113px,#140c08 146px,#311e13 158px,#583522 166px,#694028 167px,#de8756 169px,#fea96b 170px,#feae6f 179px,#fe9c63 180px,#5b3723 185px,#20140d 196px,#090503 210px,#000 246px"></i><i style="--g:#000 1px,#090503 82px,#2c1a11 127px,#583522 147px,#8a5335 160px,#b06b44 167px,#ce7d50 168px,#fea468 169px,#feaf6f 170px,#feaf6f 180px,#fea066 181px,#653d27 184px,#44291a 185px,#24160e 192px,#080503 209px,#000 246px"></i><b style="--g:#020201 1px,#26170e 15px,#965b3a 29px,#a96641 34px,#915838 41px,#22140d 55px,#080503 63px,#0b0704 101px,#23150d 129px,#482c1c 147px,#6d422a 157px,#965b3a 165px,#ee905c 167px,#feaa6c 168px,#feac6d 178px,#d88353 179px,#523220 181px,#291910 182px,#120b07 183px,#020201 185px,#000 246px"></b><i style="--g:#020201 1px,#100a06 70px,#3c2417 120px,#6f432b 144px,#975c3a 156px,#ce7d50 168px,#da8454 169px,#fea469 170px,#feb070 171px,#feb070 178px,#fea066 179px,#b36c45 181px,#7e4c31 189px,#4b2d1d 201px,#1f130c 221px,#0b0704 246px"></i><i style="--g:#000 1px,#060402 85px,#24160e 128px,#4e2f1e 147px,#875234 161px,#a86541 165px,#fe9a62 168px,#feb070 170px,#feb070 178px,#fc9961 179px,#c97a4e 180px,#985c3b 185px,#633c26 193px,#402719 201px,#1a100a 217px,#050302 246px"></i><i style="--g:#000 1px,#020201 100px,#1d110b 141px,#3c2417 154px,#7c4b30 167px,#985c3b 168px,#fe9e65 170px,#feb070 171px,#fea66a 180px,#ee905c 181px,#78492e 184px,#5e3924 185px,#2a1a10 196px,#0a0604 216px,#010100 246px"></i><i style="--g:#000 1px,#090503 84px,#2c1a11 126px,#50301f 142px,#79492f 153px,#d48152 168px,#feab6d 169px,#feb070 180px,#fe9f65 181px,#7d4c30 184px,#5f3a25 185px,#4b2d1d 190px,#150d08 217px,#060402 246px"></i><i style="--g:#000 1px,#010100 119px,#120b07 148px,#28180f 158px,#5a3723 168px,#9e5f3d 169px,#fea066 170px,#feb070 171px,#feb070 181px,#fe9a62 183px,#915838 186px,#834f33 187px,#5d3824 198px,#321e13 217px,#140c08 246px"></i><i style="--g:#000 1px,#040201 93px,#1c110b 130px,#382216 144px,#72452c 158px,#bd7249 168px,#fea066 170px,#feb070 171px,#feb070 180px,#fc9961 181px,#76472d 184px,#5f3a25 198px,#100a06 220px,#000 246px"></i><i style="--g:#060402 1px,#1d110b 78px,#4b2d1d 126px,#6f432b 146px,#a96641 167px,#b06b44 169px,#fea468 171px,#feb070 172px,#fea96b 181px,#de8756 182px,#694028 184px,#3e2618 185px,#2a1a10 186px,#190f0a 189px,#020201 201px,#000 246px"></i><i style="--g:#000 1px,#020201 106px,#160e09 140px,#3e2618 157px,#72452c 167px,#905737 168px,#fe9d64 170px,#feb070 171px,#feb070 184px,#fe9e65 186px,#4f301e 194px,#1e120c 198px,#090503 211px,#000 246px"></i><i style="--g:#000 1px,#060402 99px,#26170e 142px,#42281a 156px,#6d422a 168px,#fb9861 171px,#feb070 172px,#fea96b 181px,#f4945e 182px,#7c4b30 185px,#412719 187px,#1c110b 195px,#040201 213px,#000 246px"></i><i style="--g:#050302 1px,#1a100a 85px,#4c2e1d 140px,#814e32 167px,#985c3b 168px,#d78253 169px,#fea66a 170px,#feb070 171px,#fead6e 180px,#e08856 181px,#9c5f3c 182px,#8c5536 183px,#4b2d1d 198px,#20140d 218px,#0a0604 246px"></i><i style="--g:#000 1px,#020201 93px,#1a100a 134px,#3b2417 149px,#6a4029 160px,#c97a4e 172px,#feb070 173px,#feb070 181px,#f2935e 183px,#553321 188px,#2d1b11 190px,#190f0a 192px,#020201 209px,#000 246px"></i><i style="--g:#020201 1px,#100a06 72px,#3a2316 118px,#603a25 137px,#985c3b 154px,#e08856 168px,#e88d5a 169px,#feaa6c 170px,#feb070 181px,#f99760 182px,#bd7249 183px,#b56e46 184px,#78492e 194px,#4c2e1d 205px,#24160e 223px,#0f0906 246px"></i><i style="--g:#000 1px,#010100 102px,#140c08 141px,#372115 157px,#76472d 169px,#fe9e65 172px,#feb070 173px,#feac6d 181px,#e48a58 182px,#694028 184px,#3d2518 185px,#120b07 192px,#010100 205px,#000 246px"></i><i style="--g:#000 1px,#090503 88px,#28180f 127px,#4a2d1c 143px,#824f32 158px,#de8756 172px,#feb070 173px,#feb070 182px,#fc9961 183px,#73462c 185px,#543320 186px,#1a100a 196px,#040201 212px,#000 246px"></i><i style="--g:#040201 1px,#150d08 76px,#3e2618 123px,#71442b 149px,#b97047 171px,#da8454 172px,#feaa6c 173px,#feb070 180px,#fea468 181px,#b97047 182px,#5d3824 201px,#291910 223px,#130b07 246px"></i><i style="--g:#000 1px,#010100 110px,#190f0a 150px,#311e13 160px,#653d27 171px,#865134 172px,#d88353 173px,#feb070 174px,#feb070 182px,#fe9c63 183px,#74462d 185px,#50301f 189px,#2e1c12 196px,#0b0704 214px,#010100 246px"></i><i style="--g:#000 1px,#060402 81px,#27170f 129px,#44291a 144px,#7e4c31 161px,#b06b44 170px,#c7784d 171px,#f8965f 172px,#feb070 173px,#feb070 184px,#fea167 186px,#f2935e 187px,#8c5536 191px,#3d2518 195px,#0a0604 201px,#000 246px"></i><b style="--g:#000 1px,#040201 95px,#1e120c 134px,#44291a 150px,#7c4b30 162px,#c3764b 171px,#f6955f 172px,#feb070 173px,#feb070 183px,#f4945e 184px,#c7784d 185px,#885335 194px,#523220 206px,#27170f 224px,#100a06 246px"></b><i style="--g:#000 1px,#080503 91px,#27170f 134px,#4f301e 153px,#8e5637 169px,#955a39 170px,#b66f46 171px,#f2935e 172px,#feb070 173px,#feaa6c 182px,#e88d5a 183px,#51311f 186px,#412719 187px,#23150d 194px,#060402 213px,#000 246px"></i><i style="--g:#000 1px,#0a0604 159px,#22140d 166px,#5e3924 168px,#f4945e 171px,#feb070 172px,#fea76b 185px,#f0915d 186px,#79492f 189px,#482c1c 196px,#2c1a11 203px,#0c0805 220px,#020201 246px"></i><i style="--g:#000 1px,#020201 99px,#1c110b 138px,#412719 153px,#824f32 165px,#fe9a62 169px,#feb070 171px,#feb070 183px,#fe9d64 184px,#905737 186px,#694028 187px,#3e2618 197px,#120b07 221px,#050302 246px"></i><i style="--g:#010100 1px,#0c0805 81px,#372115 135px,#663e28 158px,#925938 171px,#985c3b 172px,#fe9f65 174px,#feb070 175px,#feb070 183px,#fe9a62 184px,#d07e50 185px,#ab6842 189px,#71442b 198px,#4a2d1c 207px,#23150d 223px,#0c0805 246px"></i><i style="--g:#060402 1px,#190f0a 70px,#4b2d1d 125px,#72452c 146px,#ac6843 167px,#c3764b 173px,#fea267 174px,#feb070 175px,#feb070 183px,#fb9861 184px,#bd7249 185px,#9a5d3b 186px,#6f432b 191px,#3e2618 200px,#180e09 215px,#040201 246px"></i><i style="--g:#000 1px,#000 120px,#100a06 154px,#2c1a11 164px,#50301f 170px,#6c4129 171px,#fea167 174px,#feb070 175px,#feb070 183px,#feac6d 184px,#d38051 185px,#ba7148 208px,#6e432a 246px"></i><i style="--g:#000 1px,#020201 100px,#160e09 136px,#362115 151px,#643d27 162px,#9e5f3d 170px,#b36c45 171px,#e88d5a 172px,#feaa6c 173px,#feaf6f 185px,#f1925d 186px,#834f33 188px,#342014 190px,#130b07 192px,#010100 205px,#000 246px"></i><i style="--g:#000 1px,#020201 101px,#1c110b 139px,#3b2417 152px,#6f432b 163px,#9e5f3d 169px,#af6a43 170px,#e18857 171px,#fea469 172px,#feb070 173px,#feb070 185px,#fea76a 186px,#f2935e 187px,#4e2f1e 192px,#372115 193px,#27170f 195px,#090503 213px,#010100 246px"></i><i style="--g:#090503 1px,#1d110b 73px,#4c2e1d 130px,#9f603d 173px,#ec8f5b 175px,#fea96b 176px,#feac6d 186px,#d68152 188px,#78492e 212px,#362115 246px"></i><i style="--g:#020201 1px,#130b07 83px,#3a2316 125px,#694028 148px,#a0613e 164px,#d68152 175px,#fea468 177px,#feb070 178px,#feb070 186px,#e18857 187px,#905737 188px,#5b3723 189px,#402719 192px,#915838 204px,#a2623f 211px,#8c5536 217px,#1a100a 234px,#020201 246px"></i><i style="--g:#060402 1px,#140c08 71px,#342014 124px,#382216 127px,#945939 132px,#a96641 135px,#955a39 137px,#482c1c 141px,#51311f 148px,#8a5335 177px,#c0754a 178px,#fead6e 179px,#feb171 189px,#fea569 190px,#d68152 191px,#623b26 193px,#27170f 201px,#060402 216px,#000 246px"></i><i style="--g:#000 1px,#080503 90px,#26170e 131px,#4e2f1e 150px,#7e4c31 163px,#d78253 177px,#fe9d64 178px,#feb171 179px,#feb070 189px,#f8965f 190px,#a2623f 192px,#603a25 202px,#3c2417 211px,#1d110b 225px,#0a0604 246px"></i><i style="--g:#020201 1px,#0f0906 83px,#3a2316 140px,#865134 176px,#955a39 177px,#f1925d 179px,#feab6d 180px,#feb171 192px,#f99760 194px,#553321 199px,#382216 201px,#0f0906 219px,#020201 246px"></i><i style="--g:#010100 1px,#0b0704 84px,#321e13 133px,#593622 152px,#834f33 165px,#ce7d50 180px,#fea76b 182px,#feb171 183px,#feb171 194px,#c97a4e 195px,#5e3924 196px,#3a2316 202px,#120b07 218px,#020201 246px"></i><i style="--g:#020201 1px,#130b07 82px,#3d2518 131px,#603a25 150px,#9b5e3c 170px,#da8454 184px,#f99760 185px,#feb070 186px,#feb171 195px,#f6955f 196px,#af6a43 197px,#975c3a 198px,#4a2d1c 212px,#20140d 228px,#0c0805 246px"></i><i style="--g:#160e09 1px,#362115 82px,#663e28 141px,#a56440 184px,#fea468 187px,#feb171 188px,#feb171 198px,#fe9e65 199px,#7c4b30 202px,#633c26 206px,#27170f 223px,#0b0704 246px"></i><i style="--g:#000 1px,#040201 111px,#1d110b 151px,#3c2417 166px,#77482e 180px,#b06b44 188px,#fc9961 190px,#feb070 191px,#feb171 200px,#fa9760 201px,#875234 203px,#72452c 204px,#4a2d1c 208px,#27170f 214px,#080503 229px,#010100 246px"></i><b style="--g:#000 1px,#090503 103px,#321e13 163px,#7d4c30 195px,#8c5536 196px,#fb9861 198px,#feb171 199px,#feb171 210px,#fe9f65 211px,#be7349 213px,#b46d45 215px,#814e32 228px,#51311f 246px"></b><i style="--g:#000 1px,#010100 126px,#120b07 169px,#2d1b11 186px,#5f3a25 200px,#7d4c30 201px,#e58b58 203px,#fea76b 204px,#feb171 213px,#fea469 214px,#8c5536 215px,#5d3824 216px,#311e13 222px,#0f0906 233px,#040201 246px"></i><i style="--g:#000 1px,#010100 122px,#140c08 172px,#3b2417 194px,#73462c 208px,#975c3a 212px,#fa9760 213px,#feb171 214px,#feb171 221px,#fe9d64 222px,#985c3b 224px,#7c4b30 246px"></i><i style="--g:#0b0704 1px,#23150d 96px,#523220 164px,#a86541 220px,#c6784c 221px,#f99760 222px,#feb171 223px,#feb171 231px,#ec8f5b 232px,#543320 234px,#24160e 240px,#100a06 246px"></i><i style="--g:#000 1px,#080503 68px,#1a100a 79px,#6e432a 104px,#7d4c30 119px,#804d31 246px"></i><i style="--g:#000 1px,#080503 72px,#27170f 87px,#79492f 107px,#915838 125px,#945939 246px"></i><i style="--g:#000 1px,#0c0805 69px,#2e1c12 81px,#9a5d3b 102px,#b56e46 117px,#bc7248 246px"></i><i style="--g:#000 1px,#080503 46px,#1c110b 58px,#593622 78px,#6a4029 94px,#6d422a 246px"></i><i style="--g:#000 1px,#060402 88px,#190f0a 100px,#633c26 123px,#73462c 137px,#77482e 246px"></i></div></div>
<svg width="2125" height="1611" viewBox="0 0 2125 1611">
<defs><linearGradient id="g3" x1="0" y1="0" x2="0" y2="1"><stop offset="0" stop-color="#fec17b"/><stop offset="0.083" stop-color="#feb171"/><stop offset="0.167" stop-color="#fea166"/><stop offset="0.25" stop-color="#ef915c"/><stop offset="0.333" stop-color="#d58152"/><stop offset="0.417" stop-color="#ba7148"/><stop offset="0.5" stop-color="#9f613d"/><stop offset="0.583" stop-color="#855033"/><stop offset="0.667" stop-color="#6a4029"/><stop offset="0.75" stop-color="#50301f"/><stop offset="0.833" stop-color="#352014"/><stop offset="0.917" stop-color="#1b100a"/><stop offset="1" stop-color="#000000"/></linearGradient><filter id="spf" x="-5%" y="-20%" width="110%" height="140%"><feGaussianBlur stdDeviation="0.7 1.6"/></filter><filter id="spg" x="-5%" y="-20%" width="110%" height="140%"><feGaussianBlur stdDeviation="0.5 0.8"/></filter><linearGradient id="g5" x1="0" y1="0" x2="0" y2="1"><stop offset="0" stop-color="#ffffff"/><stop offset="0.083" stop-color="#eaeaea"/><stop offset="0.167" stop-color="#d4d4d4"/><stop offset="0.25" stop-color="#bfbfbf"/><stop offset="0.333" stop-color="#aaaaaa"/><stop offset="0.417" stop-color="#959595"/><stop offset="0.5" stop-color="#808080"/><stop offset="0.583" stop-color="#6a6a6a"/><stop offset="0.667" stop-color="#555555"/><stop offset="0.75" stop-color="#404040"/><stop offset="0.833" stop-color="#2a2a2a"/><stop offset="0.917" stop-color="#151515"/><stop offset="1" stop-color="#000000"/></linearGradient><linearGradient id="g6" x1="0" y1="0" x2="0" y2="1"><stop offset="0" stop-color="#f9fb15"/><stop offset="0.067" stop-color="#f6e626"/><stop offset="0.133" stop-color="#fbd430"/><stop offset="0.2" stop-color="#fec338"/><stop offset="0.267" stop-color="#ddbf2b"/><stop offset="0.333" stop-color="#abc739"/><stop offset="0.4" stop-color="#71c966"/><stop offset="0.467" stop-color="#37c897"/><stop offset="0.533" stop-color="#0fbeb9"/><stop offset="0.6" stop-color="#12b1d6"/><stop offset="0.667" stop-color="#2797eb"/><stop offset="0.733" stop-color="#2e87f7"/><stop offset="0.8" stop-color="#3e6fff"/><stop offset="0.867" stop-color="#4852f4"/><stop offset="0.933" stop-color="#4538d3"/><stop offset="1" stop-color="#3e26a8"/></linearGradient><linearGradient id="g9" x1="0" y1="0" x2="0" y2="1"><stop offset="0" stop-color="#fec17b"/><stop offset="0.083" stop-color="#feb171"/><stop offset="0.167" stop-color="#fea166"/><stop offset="0.25" stop-color="#ef915c"/><stop offset="0.333" stop-color="#d58152"/><stop offset="0.417" stop-color="#ba7148"/><stop offset="0.5" stop-color="#9f613d"/><stop offset="0.583" stop-color="#855033"/><stop offset="0.667" stop-color="#6a4029"/><stop offset="0.75" stop-color="#50301f"/><stop offset="0.833" stop-color="#352014"/><stop offset="0.917" stop-color="#1b100a"/><stop offset="1" stop-color="#000000"/></linearGradient></defs>
<text x="-1" y="17.8" font-size="31.5" font-weight="bold" fill="#000" text-anchor="start" >a</text>
<text x="34.2" y="25.4" font-size="28.6" font-weight="normal" fill="#000" text-anchor="start" >Fixed bursts</text>
<path d="M34 39V130.5" stroke="#6a6a6a" stroke-width="1.2" fill="none"/>
<path d="M34 130.5H705" stroke="#5b9bd0" stroke-width="1.1" fill="none"/>
<path d="M34 134.5V317.6H705" stroke="#5a5a5a" stroke-width="1.3" fill="none"/>
<path d="M73.5 45V130.5" stroke="#1a6eb5" stroke-width="2" stroke-opacity="1" fill="none"/>
<path d="M97.4 45V130.5" stroke="#1a6eb5" stroke-width="2" stroke-opacity="1" fill="none"/>
<path d="M121.1 45V130.5" stroke="#1a6eb5" stroke-width="2" stroke-opacity="1" fill="none"/>
<path d="M145.1 45V130.5" stroke="#1a6eb5" stroke-width="2" stroke-opacity="1" fill="none"/>
<path d="M310 45V130.5" stroke="#1a6eb5" stroke-width="2" stroke-opacity="1" fill="none"/>
<path d="M318 45V130.5" stroke="#1a6eb5" stroke-width="2" stroke-opacity="1" fill="none"/>
<path d="M326 45V130.5" stroke="#1a6eb5" stroke-width="2" stroke-opacity="1" fill="none"/>
<path d="M334 45V130.5" stroke="#1a6eb5" stroke-width="2" stroke-opacity="1" fill="none"/>
<path d="M342 45V130.5" stroke="#1a6eb5" stroke-width="2" stroke-opacity="1" fill="none"/>
<path d="M350 45V130.5" stroke="#1a6eb5" stroke-width="2" stroke-opacity="1" fill="none"/>
<path d="M358 45V130.5" stroke="#1a6eb5" stroke-width="2" stroke-opacity="1" fill="none"/>
<path d="M366 45V130.5" stroke="#1a6eb5" stroke-width="2" stroke-opacity="1" fill="none"/>
<path d="M374 45V130.5" stroke="#1a6eb5" stroke-width="2" stroke-opacity="1" fill="none"/>
<path d="M382 45V130.5" stroke="#1a6eb5" stroke-width="2" stroke-opacity="1" fill="none"/>
<path d="M546.6 45V130.5" stroke="#1a6eb5" stroke-width="2" stroke-opacity="1" fill="none"/>
<path d="M550.6 45V130.5" stroke="#1a6eb5" stroke-width="2" stroke-opacity="1" fill="none"/>
<path d="M554.6 45V130.5" stroke="#1a6eb5" stroke-width="2" stroke-opacity="1" fill="none"/>
<path d="M558.6 45V130.5" stroke="#1a6eb5" stroke-width="2" stroke-opacity="1" fill="none"/>
<path d="M562.6 45V130.5" stroke="#1a6eb5" stroke-width="2" stroke-opacity="1" fill="none"/>
<path d="M566.7 45V130.5" stroke="#1a6eb5" stroke-width="2" stroke-opacity="1" fill="none"/>
<path d="M570.7 45V130.5" stroke="#1a6eb5" stroke-width="2" stroke-opacity="1" fill="none"/>
<path d="M574.7 45V130.5" stroke="#1a6eb5" stroke-width="2" stroke-opacity="1" fill="none"/>
<path d="M578.7 45V130.5" stroke="#1a6eb5" stroke-width="2" stroke-opacity="1" fill="none"/>
<path d="M582.7 45V130.5" stroke="#1a6eb5" stroke-width="2" stroke-opacity="1" fill="none"/>
<path d="M586.7 45V130.5" stroke="#1a6eb5" stroke-width="2" stroke-opacity="1" fill="none"/>
<path d="M590.7 45V130.5" stroke="#1a6eb5" stroke-width="2" stroke-opacity="1" fill="none"/>
<path d="M594.7 45V130.5" stroke="#1a6eb5" stroke-width="2" stroke-opacity="1" fill="none"/>
<path d="M598.7 45V130.5" stroke="#1a6eb5" stroke-width="2" stroke-opacity="1" fill="none"/>
<path d="M602.7 45V130.5" stroke="#1a6eb5" stroke-width="2" stroke-opacity="1" fill="none"/>
<path d="M606.8 45V130.5" stroke="#1a6eb5" stroke-width="2" stroke-opacity="1" fill="none"/>
<path d="M610.8 45V130.5" stroke="#1a6eb5" stroke-width="2" stroke-opacity="1" fill="none"/>
<path d="M614.8 45V130.5" stroke="#1a6eb5" stroke-width="2" stroke-opacity="1" fill="none"/>
<path d="M618.8 45V130.5" stroke="#1a6eb5" stroke-width="2" stroke-opacity="1" fill="none"/>
<path d="M622.8 45V130.5" stroke="#1a6eb5" stroke-width="2" stroke-opacity="1" fill="none"/>
<polyline points="34,318.1 73.5,318.1 74.2,293.8 75,279.5 75.5,273.7 76,270.1 76.5,268.1 76.8,267.5 77.2,267.1 77.5,267.2 78,267.8 79,270.1 84.2,287.4 86,292.2 88,296.9 90,300.7 92.2,304.2 94.8,307.3 97.2,309.7 97.5,305.9 98.2,283.7 99,271.1 99.5,266.1 100,263.2 100.5,261.7 101,261.3 101.2,261.5 101.8,262.2 102.8,264.8 107.8,283.2 109.5,288.7 111.5,294 113.8,298.8 116,302.7 118.5,306.1 121,308.8 122,281.8 122.8,269.7 123.2,265 123.8,262.3 124.2,261 124.8,260.7 125.5,261.6 126.2,263.6 131.5,283.1 133.2,288.6 135.2,293.9 137.5,298.7 139.8,302.6 142.2,306.1 145,308.9 146,282 146.8,269.8 147.2,265.2 147.8,262.4 148.2,261.1 148.8,260.8 149.5,261.8 150.5,264.5 154.8,280.5 157.2,288.6 159.8,295.1 162.2,300.2 163.8,302.7 165.5,305.1 167.2,307.2 169.2,309.2 171.2,310.8 173.5,312.3 176,313.6 178.5,314.6 183.2,315.9 188.8,316.8 195.5,317.5 204.2,317.8 227.8,318.1 310,318.1 311,288.9 311.8,277.4 312.5,271.4 313,269.4 313.5,268.5 314,268.5 314.5,269.1 315.8,272.1 318,279.5 318.5,264.1 319.2,249.8 320,242.8 320.2,241.5 320.8,240.3 321,240.2 321.5,240.7 322.5,243.9 326,261.7 326.5,247.1 327,237.5 327.8,229.6 328,228.2 328.5,226.9 328.8,226.8 329.2,227.5 330.2,231.3 334,253.7 334.5,239.5 335.2,227 336,221.6 336.5,220.6 336.8,220.7 337,221.1 337.8,223.6 338.5,227.4 342,250.1 342.5,236.1 343.2,223.9 344,218.7 344.2,218.1 344.5,217.8 344.8,218 345.5,220 346.5,225.1 350,248.5 350.5,234.6 351.2,222.4 352,217.4 352.2,216.8 352.5,216.6 352.8,216.8 353.5,218.9 354.5,224.1 358,247.7 358.5,233.9 359,224.9 359.8,217.8 360,216.8 360.2,216.2 360.5,216 360.8,216.2 361.2,217.4 362.2,222.1 366,247.4 366.5,233.6 367,224.6 367.8,217.6 368,216.5 368.2,215.9 368.5,215.8 368.8,216 369.2,217.2 370.2,221.9 374,247.3 374.5,233.4 375,224.4 375.8,217.4 376,216.4 376.2,215.8 376.5,215.7 376.8,215.8 377.2,217.1 378.2,221.8 382,247.2 382.5,233.3 383,224.4 383.8,217.4 384,216.3 384.2,215.8 384.5,215.6 384.8,215.8 385.2,217 386.2,221.8 390.5,250.4 393,265 395.5,276.6 398,285.8 399.5,290.3 401.2,294.7 403,298.5 405,302 407,304.9 409.2,307.6 411.8,309.9 414.2,311.7 416.5,313 419,314.1 421.5,315 424.5,315.8 431.2,316.9 440,317.6 450.2,317.9 465.8,318.1 541.5,318.1 543.5,318 544.2,317.6 545,316.3 545.8,313.2 546.2,309.7 552.2,245.8 556.5,212.7 558.2,203.9 560.5,191 562.5,184.4 564.2,176.7 564.8,175.2 566.5,171.8 568.2,165.9 568.8,164.9 570,163.8 570.5,163 572,159 572.5,158 573,157.6 574,157.4 574.5,157 576.2,153.3 576.8,152.8 578,153 578.5,152.7 580,150 580.5,149.4 581,149.4 582,149.9 582.5,149.8 584,147.4 584.5,147 585,147 586,147.8 586.5,147.8 587,147.3 588,145.7 588.5,145.3 589,145.4 590,146.3 590.5,146.4 591,145.9 592,144.4 592.5,144.1 593,144.3 594,145.3 594.5,145.4 595,145 596,143.6 596.5,143.3 597,143.5 598,144.5 598.5,144.7 599,144.4 600,143 600.5,142.7 601,142.9 602,144 602.5,144.2 603,143.9 604,142.6 604.5,142.3 605,142.5 606,143.7 606.5,143.9 607,143.6 608,142.3 608.5,142 609,142.2 610,143.4 610.5,143.7 611,143.4 612,142.1 612.5,141.8 613,142 614,143.2 614.5,143.5 615,143.2 616,142 616.5,141.7 617,141.9 618,143.1 618.5,143.4 619,143.1 620,141.9 620.5,141.6 621,141.8 622,143 622.5,143.3 623,143.1 624,142 624.5,142.1 625,143 625.5,145 626.2,149.9 627,156.5 630.8,196.9 632.8,216.3 634.8,233 637,248.7 639.8,264 642.5,276 644,281.3 645.8,286.8 647.5,291.4 649.2,295.3 651,298.7 653,301.9 655,304.6 657,306.8 659.2,308.9 661.8,310.8 664.5,312.4 667.2,313.7 670.2,314.7 673.5,315.6 677.2,316.3 681.2,316.9 691.2,317.6 705,318" stroke="#1a6eb5" stroke-width="3.5" fill="none" stroke-linejoin="round"/>
<text x="41.3" y="178" font-size="28.6" font-weight="normal" fill="#000" text-anchor="start" >Predicted Ca</text>
<text x="743.4" y="25.4" font-size="28.6" font-weight="normal" fill="#000" text-anchor="start" >Bursts ramping up</text>
<path d="M743.7 33V127.4" stroke="#6a6a6a" stroke-width="1.2" fill="none"/>
<path d="M743.7 127.4H1414.7" stroke="#5b9bd0" stroke-width="1.1" fill="none"/>
<path d="M743.7 131V314H1414.7" stroke="#5a5a5a" stroke-width="1.3" fill="none"/>
<path d="M783.2 40V127.4" stroke="#1a6eb5" stroke-width="1.2" stroke-opacity="0.9" fill="none"/>
<path d="M807.1 40V127.4" stroke="#1a6eb5" stroke-width="1.5" stroke-opacity="0.9" fill="none"/>
<path d="M830.8 40V127.4" stroke="#1a6eb5" stroke-width="1.8" stroke-opacity="0.9" fill="none"/>
<path d="M854.8 40V127.4" stroke="#1a6eb5" stroke-width="2.2" stroke-opacity="0.9" fill="none"/>
<path d="M1019.7 40V127.4" stroke="#1a6eb5" stroke-width="1.3" stroke-opacity="0.95" fill="none"/>
<path d="M1027.7 40V127.4" stroke="#1a6eb5" stroke-width="1.56" stroke-opacity="0.95" fill="none"/>
<path d="M1035.7 40V127.4" stroke="#1a6eb5" stroke-width="1.81" stroke-opacity="0.95" fill="none"/>
<path d="M1043.7 40V127.4" stroke="#1a6eb5" stroke-width="2.07" stroke-opacity="0.95" fill="none"/>
<path d="M1051.7 40V127.4" stroke="#1a6eb5" stroke-width="2.32" stroke-opacity="0.95" fill="none"/>
<path d="M1059.7 40V127.4" stroke="#1a6eb5" stroke-width="2.58" stroke-opacity="0.95" fill="none"/>
<path d="M1067.7 40V127.4" stroke="#1a6eb5" stroke-width="2.83" stroke-opacity="0.95" fill="none"/>
<path d="M1075.7 40V127.4" stroke="#1a6eb5" stroke-width="3.09" stroke-opacity="0.95" fill="none"/>
<path d="M1083.7 40V127.4" stroke="#1a6eb5" stroke-width="3.34" stroke-opacity="0.95" fill="none"/>
<path d="M1091.7 40V127.4" stroke="#1a6eb5" stroke-width="3.6" stroke-opacity="0.95" fill="none"/>
<path d="M1256.3 40V127.4" stroke="#1a6eb5" stroke-width="1.5" stroke-opacity="0.55" fill="none"/>
<path d="M1260.3 40V127.4" stroke="#1a6eb5" stroke-width="1.62" stroke-opacity="0.57" fill="none"/>
<path d="M1264.3 40V127.4" stroke="#1a6eb5" stroke-width="1.73" stroke-opacity="0.6" fill="none"/>
<path d="M1268.3 40V127.4" stroke="#1a6eb5" stroke-width="1.85" stroke-opacity="0.62" fill="none"/>
<path d="M1272.3 40V127.4" stroke="#1a6eb5" stroke-width="1.96" stroke-opacity="0.64" fill="none"/>
<path d="M1276.4 40V127.4" stroke="#1a6eb5" stroke-width="2.08" stroke-opacity="0.67" fill="none"/>
<path d="M1280.4 40V127.4" stroke="#1a6eb5" stroke-width="2.19" stroke-opacity="0.69" fill="none"/>
<path d="M1284.4 40V127.4" stroke="#1a6eb5" stroke-width="2.31" stroke-opacity="0.72" fill="none"/>
<path d="M1288.4 40V127.4" stroke="#1a6eb5" stroke-width="2.43" stroke-opacity="0.74" fill="none"/>
<path d="M1292.4 40V127.4" stroke="#1a6eb5" stroke-width="2.54" stroke-opacity="0.76" fill="none"/>
<path d="M1296.4 40V127.4" stroke="#1a6eb5" stroke-width="2.66" stroke-opacity="0.79" fill="none"/>
<path d="M1300.4 40V127.4" stroke="#1a6eb5" stroke-width="2.77" stroke-opacity="0.81" fill="none"/>
<path d="M1304.4 40V127.4" stroke="#1a6eb5" stroke-width="2.89" stroke-opacity="0.83" fill="none"/>
<path d="M1308.4 40V127.4" stroke="#1a6eb5" stroke-width="3.01" stroke-opacity="0.86" fill="none"/>
<path d="M1312.4 40V127.4" stroke="#1a6eb5" stroke-width="3.12" stroke-opacity="0.88" fill="none"/>
<path d="M1316.5 40V127.4" stroke="#1a6eb5" stroke-width="3.24" stroke-opacity="0.91" fill="none"/>
<path d="M1320.5 40V127.4" stroke="#1a6eb5" stroke-width="3.35" stroke-opacity="0.93" fill="none"/>
<path d="M1324.5 40V127.4" stroke="#1a6eb5" stroke-width="3.47" stroke-opacity="0.95" fill="none"/>
<path d="M1328.5 40V127.4" stroke="#1a6eb5" stroke-width="3.58" stroke-opacity="0.98" fill="none"/>
<path d="M1332.5 40V127.4" stroke="#1a6eb5" stroke-width="3.7" stroke-opacity="1" fill="none"/>
<polyline points="743.7,314.5 783.2,314.5 784,311.6 784.7,309.9 785.7,308.8 787,308.4 788.7,308.8 794,310.8 797.7,312 802,312.8 807,313.5 807.2,312.6 808,307.2 808.7,304.1 809.2,302.9 809.7,302.2 810.2,301.8 810.7,301.7 811.5,301.8 812.5,302.4 817.7,306.7 821.5,309.1 825.7,311 830.7,312.4 831.7,302.6 832.5,298.2 833,296.5 833.5,295.4 834,294.9 834.5,294.8 835.2,295.1 836,295.7 841.5,302.7 843.2,304.5 845.2,306.3 847.5,308 849.7,309.3 852.2,310.4 854.7,311.3 855.7,298.3 856.5,292.5 857,290.2 857.5,288.8 858,288.2 858.5,288 859.2,288.4 860.2,289.6 864.5,297 867,300.8 869.5,303.8 872,306.2 875.2,308.5 879,310.4 883.2,311.8 888.2,312.9 893,313.5 898.5,313.9 914,314.4 1019.7,314.5 1020.7,311.3 1021.5,310.1 1022.2,309.4 1023.2,309.1 1024.2,309.2 1027.7,310.3 1028.2,306.8 1029,303.4 1029.7,301.6 1030.5,300.8 1031.2,300.7 1032.2,301.1 1035.7,304.2 1036.2,299.1 1037,294.3 1037.7,291.8 1038.5,290.9 1039.2,290.9 1040.2,291.8 1043.7,297.2 1044.7,286 1045.5,282.1 1046.2,280.5 1046.5,280.3 1047,280.4 1048,281.5 1049.2,284 1051.7,289.8 1052.7,276.1 1053.5,271.4 1054.2,269.6 1054.5,269.4 1055,269.6 1056,271.2 1057.2,274.6 1059.7,282.2 1060.7,266 1061.5,260.6 1061.7,259.6 1062.2,258.6 1062.5,258.4 1063,258.7 1064,260.9 1067.7,274.5 1068.7,255.9 1069.5,249.7 1069.7,248.6 1070.2,247.5 1070.5,247.3 1071,247.8 1072,250.4 1075.7,266.9 1076.2,254.2 1076.7,245.7 1077.5,238.7 1077.7,237.5 1078.2,236.3 1078.5,236.2 1079,236.8 1080,240 1083.7,259.2 1084.2,245 1084.7,235.5 1085.5,227.8 1085.7,226.5 1086.2,225.2 1086.5,225.1 1087,225.8 1088,229.5 1091.7,251.5 1092.2,235.7 1093,221.7 1093.7,215.4 1094,214.5 1094.2,214.1 1094.5,214 1094.7,214.3 1095.2,215.6 1096.2,220.4 1100.5,248.5 1103,262.7 1105.5,274.1 1108,283 1109.5,287.4 1111.2,291.7 1113,295.4 1115,298.9 1117,301.7 1119.2,304.3 1121.7,306.5 1124.2,308.3 1126.5,309.5 1129,310.6 1131.5,311.5 1134.5,312.3 1141.2,313.4 1150.2,314 1161.5,314.4 1179,314.5 1253.2,314.5 1255.5,314.3 1256.5,313.8 1259.7,311.2 1262,307.9 1264,305.6 1266,301.4 1268,298.7 1270.2,293.2 1272,290.7 1274,285.1 1274.5,284.1 1275.7,282.5 1276.2,281.4 1278.2,275.3 1280,272.9 1282,266.3 1282.5,265.3 1283.7,263.9 1284.2,262.8 1286.2,255.9 1286.7,255.1 1287.7,254.2 1288.2,253.1 1289.7,247.3 1290.2,245.9 1290.7,245.1 1291.7,244.3 1292.2,243.3 1293.7,237.3 1294.2,235.8 1294.7,235 1295.7,234.4 1296.2,233.4 1297.7,227.1 1298.2,225.6 1298.7,224.9 1299.7,224.4 1300.2,223.5 1301.7,216.9 1302.2,215.3 1302.7,214.6 1303.7,214.4 1304.2,213.5 1305.7,206.7 1306.2,205 1306.7,204.4 1307.7,204.3 1308.2,203.5 1309.7,196.5 1310.2,194.7 1310.7,194.1 1311.7,194.2 1312.2,193.4 1312.7,191.5 1313.7,186.2 1314.2,184.4 1314.7,183.8 1315.7,184.1 1316.2,183.4 1316.7,181.4 1317.7,175.9 1318.2,174.1 1318.7,173.5 1319.7,173.9 1320.2,173.3 1322.2,163.7 1322.7,163.1 1323.7,163.8 1324,163.6 1324.2,163.2 1326.2,153.4 1326.5,152.9 1326.7,152.8 1327.7,153.6 1328,153.5 1328.2,153.1 1328.7,151.1 1329.7,145.1 1330.2,143.1 1330.5,142.6 1330.7,142.4 1331.7,143.4 1332,143.4 1332.2,143 1332.7,141 1334,133.6 1334.5,132.5 1334.7,132.6 1335.2,134.3 1336.2,141.8 1342,208.6 1344,227.5 1346.2,244.9 1348.7,260.3 1351.2,272.3 1352.7,278.1 1354.2,283.2 1355.7,287.6 1357.5,291.9 1359.2,295.5 1361,298.6 1363,301.5 1365,303.8 1367.2,306 1369.5,307.7 1372,309.2 1375,310.6 1378,311.6 1381.2,312.4 1385,313.1 1389,313.5 1399.2,314.2 1414.7,314.4" stroke="#1a6eb5" stroke-width="3.5" fill="none" stroke-linejoin="round"/>
<text x="750.3" y="178" font-size="28.6" font-weight="normal" fill="#000" text-anchor="start" >Predicted Ca</text>
<text x="1453.4" y="25.4" font-size="28.6" font-weight="normal" fill="#000" text-anchor="start" >Bursts ramping down</text>
<path d="M1454.5 32.2V125" stroke="#6a6a6a" stroke-width="1.2" fill="none"/>
<path d="M1454.5 125H2126" stroke="#5b9bd0" stroke-width="1.1" fill="none"/>
<path d="M1454.5 128V311.3H2126" stroke="#5a5a5a" stroke-width="1.3" fill="none"/>
<path d="M1494 39V125" stroke="#1a6eb5" stroke-width="2.2" stroke-opacity="0.9" fill="none"/>
<path d="M1517.9 39V125" stroke="#1a6eb5" stroke-width="1.8" stroke-opacity="0.9" fill="none"/>
<path d="M1541.6 39V125" stroke="#1a6eb5" stroke-width="1.5" stroke-opacity="0.9" fill="none"/>
<path d="M1565.6 39V125" stroke="#1a6eb5" stroke-width="1.2" stroke-opacity="0.9" fill="none"/>
<path d="M1730.5 39V125" stroke="#1a6eb5" stroke-width="3.6" stroke-opacity="0.95" fill="none"/>
<path d="M1738.5 39V125" stroke="#1a6eb5" stroke-width="3.34" stroke-opacity="0.95" fill="none"/>
<path d="M1746.5 39V125" stroke="#1a6eb5" stroke-width="3.09" stroke-opacity="0.95" fill="none"/>
<path d="M1754.5 39V125" stroke="#1a6eb5" stroke-width="2.83" stroke-opacity="0.95" fill="none"/>
<path d="M1762.5 39V125" stroke="#1a6eb5" stroke-width="2.58" stroke-opacity="0.95" fill="none"/>
<path d="M1770.5 39V125" stroke="#1a6eb5" stroke-width="2.32" stroke-opacity="0.95" fill="none"/>
<path d="M1778.5 39V125" stroke="#1a6eb5" stroke-width="2.07" stroke-opacity="0.95" fill="none"/>
<path d="M1786.5 39V125" stroke="#1a6eb5" stroke-width="1.81" stroke-opacity="0.95" fill="none"/>
<path d="M1794.5 39V125" stroke="#1a6eb5" stroke-width="1.56" stroke-opacity="0.95" fill="none"/>
<path d="M1802.5 39V125" stroke="#1a6eb5" stroke-width="1.3" stroke-opacity="0.95" fill="none"/>
<path d="M1967.1 39V125" stroke="#1a6eb5" stroke-width="3.7" stroke-opacity="1" fill="none"/>
<path d="M1971.1 39V125" stroke="#1a6eb5" stroke-width="3.58" stroke-opacity="0.98" fill="none"/>
<path d="M1975.1 39V125" stroke="#1a6eb5" stroke-width="3.47" stroke-opacity="0.95" fill="none"/>
<path d="M1979.1 39V125" stroke="#1a6eb5" stroke-width="3.35" stroke-opacity="0.93" fill="none"/>
<path d="M1983.1 39V125" stroke="#1a6eb5" stroke-width="3.24" stroke-opacity="0.91" fill="none"/>
<path d="M1987.2 39V125" stroke="#1a6eb5" stroke-width="3.12" stroke-opacity="0.88" fill="none"/>
<path d="M1991.2 39V125" stroke="#1a6eb5" stroke-width="3.01" stroke-opacity="0.86" fill="none"/>
<path d="M1995.2 39V125" stroke="#1a6eb5" stroke-width="2.89" stroke-opacity="0.83" fill="none"/>
<path d="M1999.2 39V125" stroke="#1a6eb5" stroke-width="2.77" stroke-opacity="0.81" fill="none"/>
<path d="M2003.2 39V125" stroke="#1a6eb5" stroke-width="2.66" stroke-opacity="0.79" fill="none"/>
<path d="M2007.2 39V125" stroke="#1a6eb5" stroke-width="2.54" stroke-opacity="0.76" fill="none"/>
<path d="M2011.2 39V125" stroke="#1a6eb5" stroke-width="2.43" stroke-opacity="0.74" fill="none"/>
<path d="M2015.2 39V125" stroke="#1a6eb5" stroke-width="2.31" stroke-opacity="0.72" fill="none"/>
<path d="M2019.2 39V125" stroke="#1a6eb5" stroke-width="2.19" stroke-opacity="0.69" fill="none"/>
<path d="M2023.2 39V125" stroke="#1a6eb5" stroke-width="2.08" stroke-opacity="0.67" fill="none"/>
<path d="M2027.3 39V125" stroke="#1a6eb5" stroke-width="1.96" stroke-opacity="0.64" fill="none"/>
<path d="M2031.3 39V125" stroke="#1a6eb5" stroke-width="1.85" stroke-opacity="0.62" fill="none"/>
<path d="M2035.3 39V125" stroke="#1a6eb5" stroke-width="1.73" stroke-opacity="0.6" fill="none"/>
<path d="M2039.3 39V125" stroke="#1a6eb5" stroke-width="1.62" stroke-opacity="0.57" fill="none"/>
<path d="M2043.3 39V125" stroke="#1a6eb5" stroke-width="1.5" stroke-opacity="0.55" fill="none"/>
<polyline points="1454.5,311.8 1494,311.8 1494.8,300.4 1495.5,293.8 1496,291.1 1496.5,289.4 1497,288.5 1497.8,288 1498.5,288.3 1499.5,289.4 1504.8,297.5 1506.5,299.7 1508.5,301.9 1510.5,303.7 1512.8,305.3 1515.2,306.7 1517.8,307.9 1518,306.6 1518.8,298.9 1519.5,294.5 1520,292.8 1520.5,291.8 1521,291.4 1521.5,291.3 1522.2,291.6 1523,292.3 1528.2,299.3 1530,301.2 1532,303.1 1534.2,304.9 1536.5,306.3 1539,307.5 1541.5,308.4 1542.2,303.6 1543,300.2 1543.5,298.9 1544,298.1 1544.5,297.7 1545,297.6 1545.8,297.7 1546.8,298.4 1552,303.2 1555.8,305.9 1558,307.1 1560.2,308 1565.5,309.6 1566.2,307.2 1567,305.5 1568,304.5 1569,304.3 1570.8,304.8 1577.5,307.9 1582.5,309.4 1585.8,310.1 1589.5,310.6 1598.8,311.3 1609,311.6 1624.5,311.8 1730.5,311.8 1731,292.7 1731.8,274 1732.5,263.6 1733.2,258.3 1733.5,257.4 1734,256.5 1734.5,256.4 1735,257.1 1736.2,260.4 1738.5,268.7 1739,253.4 1739.8,239.3 1740.5,232.5 1740.8,231.4 1741.2,230.3 1741.5,230.3 1742,231 1743,234.4 1746.5,253.1 1747,240.5 1747.5,232.2 1748.2,225.7 1748.5,224.6 1749,223.8 1749.2,223.9 1749.8,224.8 1750.8,228.7 1754.5,250.5 1755,239.9 1755.5,233.2 1756.2,228.1 1756.5,227.4 1756.8,227 1757,227 1757.2,227.3 1757.8,228.5 1758.8,232.6 1762.5,253.7 1763,244.9 1763.5,239.3 1764.2,235.3 1764.5,234.8 1764.8,234.7 1765,234.8 1765.8,236.3 1766.8,240.2 1770.5,259.4 1771,252.3 1771.5,247.9 1772.2,244.8 1772.5,244.5 1772.8,244.4 1773,244.6 1773.8,246.1 1774.8,249.6 1778.5,266.4 1779,260.9 1779.5,257.5 1779.8,256.4 1780.2,255.2 1780.5,255.1 1781,255.3 1781.8,256.7 1782.5,258.9 1786.5,273.9 1787,269.9 1787.5,267.6 1787.8,266.8 1788.2,266.1 1788.5,266.1 1789,266.4 1789.8,267.7 1790.5,269.5 1794.5,281.6 1795,279.2 1795.5,277.9 1796,277.3 1796.2,277.2 1796.8,277.4 1797.5,278.4 1798.2,279.8 1802.5,289.5 1803,288.6 1803.5,288.3 1804,288.3 1804.5,288.6 1806,290.4 1810.8,297.7 1814,301.6 1816,303.4 1818.2,305.1 1820.8,306.6 1823.2,307.7 1828,309.3 1833.8,310.4 1840.8,311.1 1850,311.5 1880.2,311.8 1963.2,311.8 1964.8,311.7 1965.2,311.3 1965.5,310.9 1966,309.3 1966.8,303.5 1969,267.5 1970.8,248.5 1972.8,220.1 1973.5,213.4 1975,203.6 1976.8,186.3 1977.2,183.5 1978.5,180.3 1979,178.3 1980.5,168.1 1981,166 1981.5,165.2 1982.5,165.4 1983,164.6 1984.5,158 1985,156.8 1985.2,156.8 1985.5,157 1986.5,158.7 1986.8,158.9 1987,158.8 1987.5,157.7 1988.5,154.6 1988.8,154.3 1989,154.2 1989.5,154.9 1990.8,158.1 1991,158.3 1991.2,158.1 1992.2,156.2 1992.8,155.8 1993.2,156.3 1994.5,160.4 1995,161.3 1995.2,161.4 1995.5,161.3 1996.5,160.2 1996.8,160.2 1997,160.5 1997.5,161.8 1998.5,165.6 1999,166.8 1999.5,167 2000.2,166.6 2000.8,166.7 2001.2,167.7 2002.5,172.4 2003,173.8 2003.5,174.3 2004.5,174.3 2005,175 2007,181.9 2007.5,182.6 2008.5,183 2009,183.7 2011,190.7 2011.5,191.5 2012.5,192.2 2013,193.1 2015,200 2015.5,201 2016.5,201.9 2017,202.8 2019,209.7 2019.5,210.7 2020.5,211.9 2021,212.8 2023,219.5 2025,223 2027,229.5 2029,233.3 2031,239.6 2033,243.7 2035,249.7 2037,254.1 2039.2,260.6 2041.2,265.2 2043.2,270.8 2049.5,286.8 2051.2,290.7 2053.2,294.5 2055.2,297.6 2057.2,300.2 2059,302 2061,303.8 2063.2,305.4 2065.5,306.7 2068,307.8 2070.5,308.7 2073.2,309.5 2076.5,310.1 2083.5,311 2092.5,311.5 2105,311.7 2126,311.8" stroke="#1a6eb5" stroke-width="3.5" fill="none" stroke-linejoin="round"/>
<text x="1460.3" y="175" font-size="28.6" font-weight="normal" fill="#000" text-anchor="start" >Predicted Ca</text>
<text x="1477" y="349" font-size="28.6" font-weight="normal" fill="#000" text-anchor="start" >Long Syl.</text>
<text x="1702" y="349" font-size="28.6" font-weight="normal" fill="#000" text-anchor="start" >Medium Syl.</text>
<text x="1970" y="349" font-size="28.6" font-weight="normal" fill="#000" text-anchor="start" >Fast Syl.</text>
<text x="12.5" y="426.4" font-size="31.5" font-weight="bold" fill="#000" text-anchor="start" >b</text>
<text x="141.3" y="410.4" font-size="29.5" font-weight="bold" fill="#000" text-anchor="middle" >Onset</text>
<text x="417.5" y="410.4" font-size="29.5" font-weight="bold" fill="#000" text-anchor="middle" >Offset</text>
<path d="M101.4 418.0V764.8" stroke="#fff" stroke-width="2.3"/>
<path d="M457.8 418.0V764.8" stroke="#fff" stroke-width="2.3"/>
<rect x="100.3" y="771.2" width="66.3" height="6" fill="#000"/>
<rect x="391.6" y="771.2" width="66.8" height="6" fill="#000"/>
<text x="425.4" y="801.3" font-size="28.6" font-weight="normal" fill="#000" text-anchor="middle" >1 Sec</text>
<rect x="543.7" y="417.5" width="27.1" height="347.3" fill="url(#g3)"/>
<text x="579.5" y="465" font-size="28.6" font-weight="normal" fill="#000" text-anchor="start" >1</text>
<text transform="translate(607.5,603.4) rotate(-90)" font-size="28.6" fill="#000" text-anchor="middle">Norm signal.</text>
<text x="11.5" y="913" font-size="31.5" font-weight="bold" fill="#000" text-anchor="start" >c</text>
<text transform="translate(106.6,942.7) rotate(-90)" font-size="28.6" fill="#000" text-anchor="middle">5 kHz</text>
<rect x="113.5" y="913" width="5.8" height="60.2" fill="#000"/>
<g filter="url(#spf)" fill="none"><path d="M127.7 904.7L128 953M135.5 890.6L135.8 953M143.3 906.8L143.6 953M151.1 913L151.4 953M158.9 910.7L159.2 953M166.8 912.1L167.1 953M174.6 906.5L174.9 953M182.4 896.1L182.7 953M190.2 909.2L190.5 953M198 895.3L198.3 953M205.8 910.8L206.1 953M213.6 891.6L213.9 953M221.4 910.6L221.7 953M229.2 894.1L229.5 953M237.1 899.4L237.4 953M244.9 897.9L245.2 953M252.7 907.3L253 953M260.5 894.5L260.8 953M268.3 899.9L268.6 953M276.1 890.1L276.4 953M283.9 896.6L284.2 953M291.7 900.5L292 953M299.5 892.6L299.8 953M307.4 905.8L307.7 953M315.2 899.5L315.5 953M323 908.1L323.3 953M330.8 906.3L331.1 953M338.6 900.8L338.9 953M346.4 911.7L346.7 953M354.2 905.8L354.5 953M362 910.3L362.3 953M369.8 898.5L370.1 953M377.7 903.6L378 953M385.5 894.9L385.8 953M393.3 914.9L393.6 953M401.1 896.1L401.4 953M408.9 896.4L409.2 953" stroke="#8c877e" stroke-opacity="0.4" stroke-width="1.6" stroke-dasharray="3 4 6 3 2 5"/><path d="M127.9 930.4L128.2 952M135.7 931.5L136 952M143.5 934.6L143.8 952M151.3 934.2L151.6 952M159.1 930.8L159.4 952M167 932.3L167.3 952M174.8 932.5L175.1 952M182.6 934L182.9 952M190.4 932.7L190.7 952M198.2 933.5L198.5 952M206 935L206.3 952M213.8 934.4L214.1 952M221.6 932.2L221.9 952M229.4 932.7L229.7 952M237.3 932.2L237.6 952M245.1 930.7L245.4 952M252.9 931.2L253.2 952M260.7 931.7L261 952M268.5 931.9L268.8 952M276.3 931.9L276.6 952M284.1 933.5L284.4 952M291.9 935.8L292.2 952M299.7 934.6L300 952M307.6 934.7L307.9 952M315.4 934.6L315.7 952M323.2 933.6L323.5 952M331 935.5L331.3 952M338.8 934.1L339.1 952M346.6 933L346.9 952M354.4 930.5L354.7 952M362.2 932.9L362.5 952M370 931.3L370.3 952M377.9 930.8L378.2 952M385.7 933L386 952M393.5 934.7L393.8 952M401.3 931.8L401.6 952M409.1 934.6L409.4 952" stroke="#6b6156" stroke-opacity="0.5" stroke-width="1.8"/><path d="M128 949L130 973.1M135.8 947.6L137.8 973.1M143.6 948.2L145.6 974.2M151.4 950.3L153.4 974.2M159.2 949.2L161.2 974.9M167.1 950L169.1 973.9M174.9 948.3L176.9 973.4M182.7 948.2L184.7 974.1M190.5 947.5L192.5 974.2M198.3 947.8L200.3 974.5M206.1 950L208.1 974.4M213.9 948.9L215.9 973M221.7 950.8L223.7 973.6M229.5 949.2L231.5 974.4M237.4 947.6L239.4 973.1M245.2 949.1L247.2 974.8M253 949.5L255 973.4M260.8 949.5L262.8 973.2M268.6 947.2L270.6 973.9M276.4 948.8L278.4 974.9M284.2 949.6L286.2 973.3M292 949.4L294 974.5M299.8 950.4L301.8 974M307.7 949L309.7 973.5M315.5 947.6L317.5 973.4M323.3 949.7L325.3 973.4M331.1 947.8L333.1 973.4M338.9 947.8L340.9 974.8M346.7 950.4L348.7 973.3M354.5 950.5L356.5 974.1M362.3 948.1L364.3 975M370.1 949.6L372.1 973.6M378 950.3L380 974.4M385.8 947.9L387.8 973.7M393.6 950.2L395.6 973.1M401.4 947.6L403.4 974M409.2 950.6L411.2 974.2" stroke="#24170e" stroke-width="2.9" stroke-linecap="round"/></g>
<path d="M120.5 978.6H419.6" stroke="#000" stroke-width="1.5"/>
<g fill="none" stroke="#000" stroke-opacity="0.5" stroke-width="4.0" stroke-linejoin="round"><path d="M36.5 1071.8l6.1 1.2 6.1-0.5 6.1-1.5 6.1 1 6.1 2.6 6.1 1.5 6.1-0.4 6.1-1.1 6.1-0.8 6.1 0 6.1-0.3 6.1-0.5 6.1 0.5 6.1 0.7 6.1-1.2 6.1-4.8 6.1-6.9 6.1-8.9 6.1-10.1 6.1-10.2 6.1-10.2 6.1-8.8 6.1-4.1 6.1-0.1 6.1 0.8 6.1 0.5 6.1-0.2 6.1 4.8 6.1 4.2 6.1 5.6 6.1 6.6 6.1 6.4 6.1 4.7 6.1 2.9 6.1 2 6.1 2.3 6.1 3.7 6.1 4.9 6.1 3.8 6.1 1.5 6.1 1.3 6.1 2.7 6.1 2.7 6.1 0.4 6.1-1.5 6.1-0.2 6.1 1 6.1 0.6 6.1 0.9 6.1 1.2 6.1-0.1 6.1-1.5 6.1-1.5 6.1-0.2 6.1 1.4 6.1 2.4 6.1 2.1 6.1 0.9 6.1-0.5 6.1-1.8 6.1-2.5 6.1-2.1 6.1-0.4 6.1 1.4 6.1 2.2 6.1 1.9 6.1 0.7 6.1-0.7 6.1-1.1 6.1-0.2 6.1 0.5 6.1 0.7 6.1 0.1 6.1-1.8"/><path d="M36.5 1072.5l6.1-2.3 6.1-2.9 6.1 0 6.1 2.5 6.1 1.3 6.1-0.6 6.1-1.4 6.1-1.5 6.1-0.3 6.1 1.7 6.1 2.3 6.1 1.6 6.1-0.1 6.1-2.2 6.1-2.1 6.1-0.4 6.1-2.3 6.1-5.5 6.1-5.6 6.1-5.3 6.1-7.2 6.1-8.9 6.1-8 6.1-3.8 6.1-0.8 6.1-1.9 6.1-3.5 6.1-2.3 6.1 2.6 6.1 6.9 6.1 6.6 6.1 4.8 6.1 3.3 6.1 3.5 6.1 2.2 6.1 0.5 6.1 1.9 6.1 2.6 6.1 1.3 6.1 1.4 6.1 3.2 6.1 4.4 6.1 4.4 6.1 3.2 6.1 0.3 6.1-1.8 6.1-0.8 6.1 0.7 6.1 1.3 6.1 1.1 6.1 0.2 6.1 0.1 6.1 0.8 6.1-0.3 6.1-2.7 6.1-2.3 6.1-0.3 6.1 1.1 6.1 1.7 6.1 0.9 6.1 0.5 6.1 1.7 6.1 2 6.1-0.4 6.1-2.3 6.1-1.2 6.1 2.2 6.1 3.3 6.1 1.5 6.1-0.1 6.1-0.2 6.1 0.7 6.1 1.3 6.1 0.2"/><path d="M36.5 1076.2l6.1 2.4 6.1-0.2 6.1-2.3 6.1-3.6 6.1-4 6.1-1.5 6.1 1 6.1 1.5 6.1 2 6.1 2.7 6.1 1.8 6.1-0.4 6.1-1.7 6.1-0.6 6.1 0.7 6.1 0 6.1-5 6.1-10.3 6.1-11 6.1-11.5 6.1-13.2 6.1-12.5 6.1-8.7 6.1-4 6.1-0.5 6.1 1.2 6.1 8.9 6.1 7.4 6.1 7.1 6.1 8.1 6.1 6.6 6.1 3.2 6.1 1.4 6.1 2.9 6.1 3.9 6.1 2.6 6.1 2.2 6.1 2.8 6.1 2.5 6.1 2.8 6.1 3.1 6.1 2.3 6.1-0.3 6.1-2.4 6.1-2.4 6.1-1.1 6.1 2.1 6.1 5 6.1 4.3 6.1 0.3 6.1-2.6 6.1-1.3 6.1 2 6.1 1.8 6.1-1.1 6.1-2.2 6.1-0.6 6.1 1.7 6.1 2.4 6.1 0.4 6.1-1.1 6.1-0.6 6.1-0.1 6.1-0.2 6.1 1.2 6.1 1.3 6.1-0.9 6.1-1 6.1-0.1 6.1-1.2 6.1-2.6 6.1-1.2 6.1 2 6.1 3"/><path d="M36.5 1074.6l6.1-2 6.1-0.1 6.1 0.8 6.1 1 6.1 0.3 6.1-2.2 6.1-3.3 6.1-0.1 6.1 2.1 6.1 0.7 6.1-0.9 6.1-1.3 6.1-0.1 6.1 0.7 6.1 0.7 6.1-1 6.1-6.6 6.1-10.6 6.1-11.3 6.1-11.2 6.1-10.2 6.1-7.8 6.1-5.5 6.1-3.1 6.1-2.1 6.1-2.3 6.1-0.6 6.1 4.1 6.1 7.2 6.1 3.7 6.1 2.6 6.1 1.7 6.1 1.1 6.1 3.4 6.1 6.8 6.1 6.5 6.1 4.4 6.1 3.7 6.1 3.6 6.1 2.9 6.1 2.2 6.1 1.2 6.1 1.2 6.1 1.5 6.1 0 6.1 0.1 6.1 2 6.1 3.4 6.1 3 6.1 1.6 6.1-0.4 6.1-1.6 6.1-0.9 6.1 0 6.1 1.1 6.1 1.3 6.1 0.1 6.1 0.2 6.1 2.3 6.1 1.8 6.1-1.9 6.1-1.8 6.1 0.8 6.1 1.2 6.1 0.4 6.1 0.6 6.1 0.3 6.1-1.1 6.1-1.8 6.1-1.7 6.1-0.2 6.1 1.4 6.1 2.7 6.1 3.1"/><path d="M36.5 1074.2l6.1-0.2 6.1 0.1 6.1 0.2 6.1 0.5 6.1 0.1 6.1-0.9 6.1-1.1 6.1-0.7 6.1 0.6 6.1 1.7 6.1 1.4 6.1 0.5 6.1-0.5 6.1-2.3 6.1-2.3 6.1-0.6 6.1-1.6 6.1-5.4 6.1-7.4 6.1-7.1 6.1-6.7 6.1-6.4 6.1-4.9 6.1-2.2 6.1-0.7 6.1-0.5 6.1-0.9 6.1 1.3 6.1 5.2 6.1 4 6.1 3 6.1 3.8 6.1 4.4 6.1 3.9 6.1 3.2 6.1 2.2 6.1 0.9 6.1 0 6.1 1.1 6.1 1.3 6.1 0.3 6.1 1.3 6.1 3.1 6.1 2.8 6.1 1.1 6.1-0.5 6.1-1.8 6.1-2.4 6.1-0.6 6.1 2.4 6.1 3.6 6.1 2.4 6.1-0.1 6.1-0.8 6.1 0.6 6.1 0.6 6.1-0.5 6.1 0.5 6.1 1.2 6.1 0.9 6.1 1.3 6.1 1.1 6.1-1.4 6.1-3.4 6.1-3 6.1-0.6 6.1 0.1 6.1-0.7 6.1 0 6.1 1.6 6.1 1.5 6.1 0.5 6.1 0.2 6.1-0.2"/><path d="M36.5 1069.1l6.1 0.6 6.1-0.7 6.1-2 6.1-0.2 6.1 2.9 6.1 3 6.1 0.4 6.1-1 6.1-1.1 6.1-1.5 6.1-1.4 6.1-1.2 6.1-2 6.1-2.2 6.1 0.1 6.1-0.2 6.1-3.2 6.1-5.8 6.1-6.3 6.1-5.2 6.1-4.6 6.1-4.3 6.1-4.4 6.1-3.9 6.1 0.6 6.1 6.1 6.1 4.7 6.1 2.2 6.1 2 6.1 2.4 6.1 2.3 6.1 1.6 6.1-0.6 6.1-1 6.1 0.8 6.1 1.1 6.1 0.3 6.1 1.1 6.1 3.2 6.1 4.3 6.1 3 6.1 1.6 6.1 0.8 6.1-0.5 6.1-0.7 6.1 1.5 6.1 1.8 6.1-0.2 6.1-0.7 6.1 0 6.1 0.3 6.1 1.1 6.1 1.2 6.1-0.2 6.1-1.4 6.1-0.5 6.1 1.3 6.1 1.3 6.1 0.5 6.1 0.1 6.1-0.6 6.1-0.9 6.1-0.1 6.1 0.6 6.1 1.4 6.1 1.3 6.1 0 6.1-0.3 6.1 0.9 6.1 1.2 6.1-0.2 6.1-0.8 6.1 0.5 6.1 1.2"/><path d="M36.5 1065.9l6.1-0.3 6.1 1.3 6.1 1.9 6.1 1.5 6.1 0.8 6.1 0.4 6.1 0.1 6.1 0.2 6.1 0.5 6.1 1.1 6.1 0.3 6.1-1.7 6.1-1.2 6.1 2 6.1 3.3 6.1 0.2 6.1-5.3 6.1-7 6.1-5.5 6.1-5 6.1-4.7 6.1-2.9 6.1-1.2 6.1-2.2 6.1-3.3 6.1-2.1 6.1 0.3 6.1 3.5 6.1 4 6.1 4.9 6.1 5 6.1 3.9 6.1 2.2 6.1 0.4 6.1-1.4 6.1-2 6.1-0.5 6.1 1.1 6.1 1.8 6.1 2 6.1 1.4 6.1 0.2 6.1-0.3 6.1 0.6 6.1 2.1 6.1 1.5 6.1 0.4 6.1 2.1 6.1 3.1 6.1 1.3 6.1-0.2 6.1-0.3 6.1-0.7 6.1-0.8 6.1 0.2 6.1 1 6.1 1.2 6.1-0.1 6.1-2 6.1-0.8 6.1 1.2 6.1 0.3 6.1-0.4 6.1 0.7 6.1 1 6.1 0.1 6.1 1.4 6.1 2.4 6.1 0.3 6.1-1.9 6.1-1.2 6.1 0.1 6.1-0.8 6.1-2.3"/><path d="M36.5 1075.4l6.1 0.6 6.1-0.3 6.1-0.5 6.1 0 6.1 0.8 6.1-0.2 6.1-1.1 6.1 0.4 6.1 1.8 6.1 0.7 6.1-0.6 6.1-1.3 6.1-1.7 6.1-1.3 6.1-1.1 6.1-2.2 6.1-6.1 6.1-8.8 6.1-10.7 6.1-12.5 6.1-12.3 6.1-9.4 6.1-5.3 6.1-2.2 6.1-1.5 6.1-2.9 6.1-3.6 6.1 5 6.1 7.6 6.1 6.5 6.1 4.3 6.1 4.1 6.1 5.2 6.1 5 6.1 4.6 6.1 5 6.1 4.2 6.1 1.8 6.1 0.1 6.1 0.2 6.1 0.9 6.1 1.3 6.1 2.2 6.1 2.3 6.1 1.2 6.1 1 6.1 1 6.1 0.7 6.1 1.1 6.1 1.4 6.1 0.6 6.1 1.1 6.1 1.9 6.1 1.8 6.1 1.6 6.1 1.2 6.1 0.6 6.1 0.6 6.1 0.6 6.1-0.3 6.1-1 6.1-0.4 6.1 0.6 6.1 0.3 6.1-0.5 6.1 0.3 6.1 0.8 6.1-0.2 6.1-0.2 6.1 0.2 6.1-0.8 6.1-1.3 6.1 0.1 6.1 1"/><path d="M36.5 1076.8l6.1 2.4 6.1 1.6 6.1-0.3 6.1-2.8 6.1-2.7 6.1 0 6.1 0.5 6.1-1.5 6.1-1.9 6.1 0.4 6.1 1.2 6.1 0.7 6.1 0.2 6.1 0.6 6.1 1.4 6.1-2.2 6.1-7.9 6.1-10.1 6.1-9.4 6.1-8.9 6.1-8.5 6.1-6 6.1-3.4 6.1-3.1 6.1 0.2 6.1 7.2 6.1 8.8 6.1 6.7 6.1 3 6.1 2 6.1 3.5 6.1 4.3 6.1 2.5 6.1 1.2 6.1 1.5 6.1 1.7 6.1 1.1 6.1 1.9 6.1 3.2 6.1 2.6 6.1 1.2 6.1 0.3 6.1-0.4 6.1-0.2 6.1 0.9 6.1 1.9 6.1 2 6.1 1.1 6.1-0.5 6.1-1.8 6.1-1.7 6.1-0.3 6.1 1 6.1 1 6.1 0.5 6.1 0 6.1-1.4 6.1-1.9 6.1 0.1 6.1 1.9 6.1 1.3 6.1 0.4 6.1-0.1 6.1-1.5 6.1-2.1 6.1-0.8 6.1 0.4 6.1 0.4 6.1 0.3 6.1 1.4 6.1 3.3 6.1 2.8 6.1 0.4 6.1-1.7"/><path d="M36.5 1070.4l6.1-1.4 6.1 1.1 6.1 2.9 6.1 1.4 6.1-0.6 6.1 1 6.1 1.8 6.1-1.1 6.1-3 6.1-1.7 6.1 1.5 6.1 3.1 6.1 1.1 6.1-0.1 6.1 1.3 6.1 0.5 6.1-3.2 6.1-5.3 6.1-6.6 6.1-8.2 6.1-7.4 6.1-4.7 6.1-1.8 6.1 0.2 6.1 0.2 6.1-0.9 6.1 2.9 6.1 3.9 6.1 4.1 6.1 2.1 6.1-1.1 6.1-2.5 6.1-0.2 6.1 3 6.1 4.3 6.1 4 6.1 2.7 6.1 1.4 6.1 0.5 6.1-0.2 6.1 0.1 6.1 0.4 6.1-0.2 6.1-0.4 6.1-0.3 6.1 0.5 6.1 2.4 6.1 2.8 6.1 1.2 6.1 0.4 6.1 0.7 6.1 0.8 6.1-0.7 6.1-2.5 6.1-2.9 6.1-2.1 6.1 1.3 6.1 3.9 6.1 2 6.1-1.8 6.1-3 6.1-1.5 6.1 1.2 6.1 2.6 6.1 2.2 6.1 1.5 6.1 1.3 6.1 0 6.1-1.1 6.1-1.3 6.1-1.9 6.1-0.8 6.1 1.2 6.1 0.6"/><path d="M36.5 1070.6l6.1 1 6.1 2.1 6.1 0.8 6.1-0.6 6.1-0.8 6.1-0.3 6.1-0.2 6.1-0.6 6.1-0.4 6.1 1.9 6.1 2.2 6.1-1.3 6.1-2.5 6.1 0.1 6.1 1.7 6.1 1.1 6.1-5.8 6.1-12.3 6.1-13.7 6.1-11.1 6.1-8.2 6.1-5.9 6.1-2.5 6.1-0.2 6.1-0.9 6.1 2.9 6.1 5.4 6.1 4.9 6.1 3.7 6.1 1.9 6.1 0.1 6.1 1.4 6.1 4.1 6.1 3.9 6.1 1.5 6.1 0.8 6.1 1.2 6.1 1.5 6.1 2.7 6.1 3.1 6.1 0.8 6.1-0.3 6.1 0.8 6.1 1.5 6.1 1.2 6.1 1.6 6.1 2.1 6.1 1.2 6.1 1.3 6.1 2.6 6.1 3 6.1 1.4 6.1 0.2 6.1 0.2 6.1 1.5 6.1 2.9 6.1 2.2 6.1 0.1 6.1-1.4 6.1-1.9 6.1-1.6 6.1 0.1 6.1 1 6.1 0.8 6.1 1.5 6.1 1.1 6.1-1 6.1-1.5 6.1 0.1 6.1 1.7 6.1 0.9 6.1-1.5 6.1-2 6.1 0"/><path d="M36.5 1070l6.1-0.1 6.1-0.2 6.1 1.6 6.1 1.8 6.1-0.6 6.1-0.4 6.1 1.6 6.1 0.9 6.1-1.2 6.1-2.6 6.1-3.3 6.1-1.1 6.1 2.3 6.1 2.5 6.1 1.2 6.1 0.7 6.1-3.3 6.1-8.8 6.1-12.1 6.1-12.8 6.1-11.7 6.1-8.4 6.1-5.2 6.1-5.2 6.1-4.9 6.1-2.4 6.1 0.4 6.1 0.8 6.1 3.9 6.1 5.4 6.1 5.2 6.1 4.7 6.1 4.3 6.1 5.1 6.1 6.6 6.1 5.8 6.1 4.3 6.1 2.5 6.1 0.8 6.1 0.7 6.1 2.2 6.1 3.4 6.1 4 6.1 4.5 6.1 2 6.1-2.2 6.1-2.1 6.1 1 6.1 1.6 6.1 0.5 6.1 1.1 6.1 1.5 6.1 0.4 6.1-0.8 6.1-0.6 6.1 0 6.1-0.1 6.1 0.2 6.1 1.1 6.1 1.6 6.1 1.5 6.1 0.4 6.1-0.6 6.1 0.4 6.1 1.5 6.1 1 6.1-0.6 6.1-1.2 6.1-0.6 6.1-1.4 6.1-2.6 6.1-2 6.1 0.4 6.1 1.6"/><path d="M36.5 1074.6l6.1-1.3 6.1-0.8 6.1 0.7 6.1 1.4 6.1 0.7 6.1-0.7 6.1-0.5 6.1-0.3 6.1-2.6 6.1-2.6 6.1 0.3 6.1 1.8 6.1 0.6 6.1-1 6.1-0.1 6.1 1.1 6.1-4.6 6.1-11.6 6.1-15.9 6.1-16.9 6.1-14.6 6.1-9.5 6.1-3.9 6.1-1.3 6.1-1.8 6.1 3.9 6.1 8.4 6.1 8.5 6.1 6.6 6.1 5.4 6.1 4.9 6.1 4.7 6.1 4.9 6.1 3.7 6.1 2.6 6.1 2.2 6.1 1.2 6.1 2 6.1 4.6 6.1 3.9 6.1 0.4 6.1-0.6 6.1 0.5 6.1 1.4 6.1 1.2 6.1 1.5 6.1 2.2 6.1 1.2 6.1-1 6.1-0.4 6.1 2.1 6.1 3.4 6.1 1.8 6.1-1.4 6.1-3 6.1-1.8 6.1-0.2 6.1 0.2 6.1 1.3 6.1 2.8 6.1 1.6 6.1-0.8 6.1-1.3 6.1-1 6.1-1 6.1 0.5 6.1 3 6.1 2.7 6.1 0.5 6.1-0.9 6.1-1.1 6.1-1 6.1-1.4 6.1-0.4"/><path d="M36.5 1077.5l6.1-0.1 6.1-0.3 6.1-0.8 6.1-0.7 6.1 0.1 6.1 1.2 6.1 0 6.1-1.6 6.1 0.2 6.1 2.1 6.1 1.2 6.1 0.6 6.1 1.1 6.1 0.1 6.1-0.9 6.1 0.1 6.1-2.8 6.1-8.7 6.1-11.7 6.1-9.6 6.1-6.5 6.1-6.4 6.1-7.8 6.1-7.5 6.1-4.4 6.1-2.8 6.1-3 6.1-1.7 6.1 6.2 6.1 5.8 6.1 6.3 6.1 6.5 6.1 4.8 6.1 5.1 6.1 6.7 6.1 5.1 6.1 1.5 6.1-0.6 6.1 0.2 6.1 3 6.1 5.1 6.1 3.6 6.1-0.3 6.1-2.6 6.1-1.8 6.1 0.1 6.1 0.9 6.1 1.7 6.1 2.3 6.1 0.6 6.1-0.8 6.1-0.3 6.1 1 6.1 1.2 6.1 0.9 6.1 1.8 6.1 1.2 6.1-0.8 6.1-0.6 6.1 0.3 6.1 0.5 6.1 1.3 6.1 1.6 6.1 1.3 6.1 0.7 6.1 0.8 6.1 0.8 6.1-0.5 6.1-1.8 6.1-1.7 6.1-0.4 6.1-0.1 6.1-0.6 6.1-1"/><path d="M36.5 1076.7l6.1-1 6.1-1.7 6.1-0.2 6.1 1.3 6.1 0.3 6.1-0.7 6.1 0.3 6.1 0.5 6.1-0.9 6.1-1.5 6.1-1.7 6.1-1.5 6.1-0.5 6.1-0.1 6.1 0.1 6.1-2.6 6.1-6.2 6.1-8.3 6.1-9.1 6.1-8.6 6.1-6.7 6.1-3.3 6.1-0.6 6.1 0.5 6.1 3.8 6.1 5.7 6.1 4.2 6.1 2.8 6.1 2 6.1 2.1 6.1 1.5 6.1 0.8 6.1 1.5 6.1 2.3 6.1 3.5 6.1 4.2 6.1 2.3 6.1 0.1 6.1 0.1 6.1 0.8 6.1 1.4 6.1 2.4 6.1 1.8 6.1 0.3 6.1-0.5 6.1 0.2 6.1-0.3 6.1-1.8 6.1-1.8 6.1-0.6 6.1 0.4 6.1 1.5 6.1 2.4 6.1 2.2 6.1 1.5 6.1 0.4 6.1-1 6.1-0.6 6.1 1.3 6.1 1.6 6.1-0.2 6.1-0.1 6.1 1.1 6.1 1.3 6.1 1.1 6.1-0.5 6.1-2.4 6.1-2 6.1-0.6 6.1 0.3 6.1-0.1 6.1-1.4 6.1-2.2 6.1-0.5"/><path d="M36.5 1078.5l6.1 0 6.1 0.5 6.1 0 6.1-0.8 6.1-0.5 6.1 0.5 6.1 1.2 6.1 1.7 6.1 0.4 6.1-1.3 6.1-1.4 6.1-0.1 6.1 1.7 6.1 1.9 6.1-1.1 6.1-3.1 6.1-3.2 6.1-4.8 6.1-7 6.1-8.1 6.1-7.4 6.1-5.9 6.1-3.8 6.1-1.6 6.1 1.2 6.1 3.2 6.1 4.5 6.1 1.3 6.1 0.9 6.1 4.5 6.1 6.4 6.1 3.8 6.1 0.2 6.1-1 6.1 0.1 6.1 1.7 6.1 1.5 6.1 0.4 6.1 0.3 6.1 1.1 6.1 3.3 6.1 3 6.1 0.3 6.1-0.8 6.1 0.3 6.1 0.3 6.1-0.9 6.1-0.6 6.1 1 6.1 1 6.1 0 6.1 0.4 6.1 1 6.1 0.6 6.1-0.2 6.1 0.3 6.1 2 6.1 0.8 6.1-2.2 6.1-1.9 6.1-0.1 6.1 0.9 6.1 0.4 6.1-0.9 6.1-1.4 6.1 0.2 6.1 1.3 6.1 0.1 6.1-0.7 6.1 0.5 6.1 2.2 6.1 2.4 6.1 0.5 6.1-1.8"/><path d="M36.5 1073.8l6.1 1.8 6.1-0.3 6.1-1.3 6.1 0.8 6.1 1.4 6.1-1.2 6.1-1.9 6.1 0.1 6.1 1.4 6.1 0.4 6.1-1 6.1-1.7 6.1-1.9 6.1-1.2 6.1 0.7 6.1 1.7 6.1 0.1 6.1-3.2 6.1-6.6 6.1-7.6 6.1-7.2 6.1-6.3 6.1-5.1 6.1-3.7 6.1-3.9 6.1-4.3 6.1-2.8 6.1-0.7 6.1 5.6 6.1 7.3 6.1 5.7 6.1 3 6.1 2.6 6.1 2.3 6.1 2.3 6.1 2.7 6.1 2.1 6.1 0.2 6.1-0.3 6.1 2.6 6.1 4.6 6.1 1.9 6.1-0.7 6.1 0.3 6.1 1.8 6.1 2.6 6.1 2.4 6.1 0.6 6.1-0.5 6.1 0.2 6.1 1.6 6.1 2.1 6.1 0.8 6.1-0.4 6.1 0.2 6.1 1 6.1 0.8 6.1 0.7 6.1 0 6.1-1.7 6.1-2 6.1-2.6 6.1-2.9 6.1 0.8 6.1 5.3 6.1 3.4 6.1-2 6.1-3.8 6.1-1.8 6.1-0.2 6.1 0.9 6.1 1.6 6.1 1.7 6.1 1.3"/><path d="M36.5 1067.9l6.1-1.5 6.1-0.4 6.1 2.3 6.1 2.7 6.1 1.5 6.1-0.2 6.1-1.1 6.1-1.5 6.1-1.8 6.1-0.9 6.1 0 6.1-0.5 6.1-0.1 6.1 0.9 6.1 0.9 6.1 0.6 6.1-2 6.1-5.4 6.1-8.8 6.1-10.5 6.1-9.6 6.1-6.2 6.1-2.5 6.1-1.4 6.1-2 6.1-1.7 6.1-1.3 6.1 4.5 6.1 4.3 6.1 2.7 6.1 3.9 6.1 5.3 6.1 3.7 6.1 1.2 6.1 0.5 6.1 1.4 6.1 3.2 6.1 4.7 6.1 4 6.1 1.6 6.1-0.6 6.1-0.1 6.1 2.7 6.1 3.8 6.1 2.1 6.1 1.2 6.1 1.1 6.1 1.1 6.1 1.5 6.1 1 6.1-0.2 6.1 1 6.1 1.1 6.1-1.1 6.1-2.1 6.1-1 6.1 0.8 6.1 1.6 6.1 0.7 6.1-0.7 6.1-1.6 6.1-0.3 6.1 1.7 6.1 2.3 6.1 0 6.1-2.8 6.1-2.1 6.1 1.1 6.1 1.8 6.1-1.1 6.1-2 6.1 0.1 6.1 0.1 6.1-1.4"/><path d="M36.5 1074.3l6.1-0.3 6.1-1.8 6.1-0.5 6.1 1.5 6.1 0.4 6.1-1.5 6.1 0.6 6.1 3.6 6.1 1.5 6.1-1.5 6.1-1.7 6.1-1.2 6.1-0.8 6.1-0.6 6.1-1.1 6.1-0.7 6.1-1.2 6.1-2.2 6.1-4.1 6.1-6.7 6.1-7.7 6.1-7.2 6.1-5.1 6.1-2.3 6.1-1.5 6.1-1.1 6.1 3.4 6.1 4.6 6.1 3.3 6.1 2.3 6.1 2.4 6.1 3.4 6.1 4.2 6.1 3.8 6.1 1.9 6.1 0.3 6.1 1.3 6.1 2.3 6.1 2.3 6.1 1.9 6.1 0.6 6.1 0 6.1-0.9 6.1-1.1 6.1-1 6.1-0.4 6.1 1.8 6.1 3.4 6.1 2 6.1-0.9 6.1-2.3 6.1-1.1 6.1 0.5 6.1 1.1 6.1 0.1 6.1-0.9 6.1-0.3 6.1 0.4 6.1 0.3 6.1 0.2 6.1-0.1 6.1-0.7 6.1-0.6 6.1 0.6 6.1 1.4 6.1 0.9 6.1-0.8 6.1-2.5 6.1-1.8 6.1-0.1 6.1 2 6.1 3.1 6.1 2 6.1 0.4"/><path d="M36.5 1069.6l6.1 1 6.1-1.3 6.1-1.9 6.1 0.6 6.1 2.4 6.1 0.1 6.1-0.8 6.1 1 6.1 2.1 6.1 0.8 6.1-1.1 6.1-0.2 6.1 1.7 6.1 0.9 6.1-1.2 6.1-1.1 6.1-2.4 6.1-5.8 6.1-10.5 6.1-13.8 6.1-13.9 6.1-11.1 6.1-7.8 6.1-4.9 6.1-2 6.1-0.4 6.1-0.8 6.1-0.7 6.1 4.1 6.1 5.2 6.1 4.9 6.1 5.3 6.1 5.7 6.1 5.9 6.1 4.4 6.1 2.9 6.1 3.1 6.1 4 6.1 2.4 6.1-0.1 6.1 0.1 6.1 2.6 6.1 3.7 6.1 2.5 6.1 1.6 6.1 2.3 6.1 2.7 6.1 1.7 6.1 1.7 6.1 2 6.1 0.5 6.1-0.6 6.1 1.3 6.1 2.4 6.1 0.9 6.1 0.1 6.1 0.1 6.1-0.1 6.1-0.2 6.1-0.5 6.1 1 6.1 1.5 6.1-1.5 6.1-3.1 6.1-2 6.1 0.1 6.1 2.2 6.1 2.3 6.1 1 6.1-1.3 6.1-2 6.1-1.1 6.1 0.2 6.1 1.3"/><path d="M36.5 1075l6.1-1.7 6.1-3.6 6.1-2.3 6.1 0.7 6.1 2.2 6.1 1.9 6.1 0.7 6.1-0.2 6.1-0.4 6.1 0.2 6.1 0.5 6.1 0.6 6.1 0.5 6.1 0.3 6.1 0.6 6.1-0.4 6.1-3.7 6.1-5 6.1-4.7 6.1-4.1 6.1-2.6 6.1-1.6 6.1-2.2 6.1-2.1 6.1-1 6.1 0.4 6.1 3.4 6.1 2.2 6.1 1.4 6.1 0.8 6.1 0.4 6.1 0.4 6.1 0.5 6.1 0.8 6.1 0.3 6.1-0.4 6.1-0.1 6.1 1.7 6.1 4.2 6.1 4.5 6.1 2.3 6.1-0.1 6.1-1.1 6.1 0.4 6.1 1.4 6.1-0.3 6.1-1.3 6.1 0.4 6.1 2 6.1 0.8 6.1-0.9 6.1 0.2 6.1 1.9 6.1 0.6 6.1-2.9 6.1-3.1 6.1 1.2 6.1 3.4 6.1 1.1 6.1-1.7 6.1-1.9 6.1 0.2 6.1 1.4 6.1 0.4 6.1-1.7 6.1-2.2 6.1-0.4 6.1 1.5 6.1 1.9 6.1 1.9 6.1 0.7 6.1-1.5 6.1-2.1 6.1-0.6"/><path d="M36.5 1075.2l6.1 0.1 6.1-1 6.1-2.2 6.1-0.9 6.1 0.8 6.1 1.7 6.1 2 6.1 1.4 6.1 0 6.1-1.1 6.1-0.9 6.1 0 6.1 0 6.1-0.7 6.1-0.6 6.1 0.7 6.1 0.5 6.1-1.4 6.1-4.5 6.1-7.9 6.1-8.4 6.1-5.9 6.1-3.8 6.1-3.9 6.1-3.6 6.1-1.4 6.1 0.7 6.1 0.9 6.1 1.9 6.1 1.7 6.1 1.8 6.1 3.3 6.1 3.9 6.1 2.8 6.1 1.8 6.1 1.8 6.1 1.8 6.1 1.8 6.1 2.4 6.1 3 6.1 0.9 6.1-1 6.1-0.2 6.1-0.2 6.1-0.1 6.1 2 6.1 2.1 6.1 0.4 6.1-1 6.1-1.4 6.1-1.1 6.1 0.4 6.1 1.2 6.1 1.2 6.1 1.8 6.1 2.6 6.1 1.1 6.1-1.6 6.1-1.7 6.1 0.9 6.1 1.6 6.1 0 6.1-1.3 6.1-0.5 6.1 2.3 6.1 3.8 6.1 1.7 6.1-2.9 6.1-4 6.1-0.1 6.1 2.2 6.1 0.4 6.1-1.6 6.1-1.2"/></g>
<path d="M34 1087.2H492.5" stroke="#000" stroke-width="1.6"/>
<path d="M126.1 997.4V1087.2" stroke="#1edc1e" stroke-width="2"/>
<path d="M410.4 997.4V1087.2" stroke="#e81818" stroke-width="1.8"/>
<rect x="22.6" y="1046.4" width="5.6" height="29" fill="#000"/>
<path d="M348.3 1098.7H483M349.5 1094v9.5M481.8 1094v9.5" stroke="#1212f2" stroke-width="2.8" fill="none"/>
<rect x="394.6" y="1089.5" width="39.1" height="18.5" fill="#1212f2"/>
<g fill="none" stroke="#000" stroke-opacity="0.5" stroke-width="4.0" stroke-linejoin="round"><path d="M36.5 1194.8l6.1 0.1 6.1 0.7 6.1 1.1 6.1 0.4 6.1-0.1 6.1-0.3 6.1 0.2 6.1 0.6 6.1-0.1 6.1-0.3 6.1 0.4 6.1 0.6 6.1-0.3 6.1-0.9 6.1-0.8 6.1-0.7 6.1-0.9 6.1 0 6.1 1.5 6.1 1.4 6.1 0 6.1-1.1 6.1-0.3 6.1 1.3 6.1 1.3 6.1-0.1 6.1-1.2 6.1-0.8 6.1-4.3 6.1-10 6.1-13.4 6.1-13.3 6.1-10.6 6.1-7 6.1-3.8 6.1-1.6 6.1 0.1 6.1 7.1 6.1 7.1 6.1 6.7 6.1 5.3 6.1 4.2 6.1 3.4 6.1 2.4 6.1 2.4 6.1 3.1 6.1 3.5 6.1 3.1 6.1 1.7 6.1 0.5 6.1 0.4 6.1 0.9 6.1 1.7 6.1 2 6.1 1.1 6.1 0.7 6.1 1.6 6.1 1.9 6.1 0.7 6.1-0.6 6.1-1.2 6.1-0.6 6.1 0.2 6.1 0.6 6.1 0.3 6.1 0.2 6.1 0.6 6.1 0.8 6.1 0.9 6.1 0.8 6.1 0.6 6.1 0 6.1-0.4 6.1-0.3"/><path d="M36.5 1199.8l6.1-1.6 6.1-0.4 6.1 1.4 6.1 1.7 6.1 0.7 6.1-0.5 6.1-0.6 6.1-0.4 6.1-0.2 6.1 0.3 6.1 0.1 6.1-1.3 6.1-1.4 6.1-0.1 6.1-0.9 6.1-2.4 6.1-0.4 6.1 2 6.1 1.2 6.1-0.7 6.1-0.2 6.1 0.9 6.1 0.3 6.1-0.6 6.1 0.1 6.1 0.8 6.1 1 6.1-4.4 6.1-13.4 6.1-16.5 6.1-13.7 6.1-9 6.1-5.4 6.1-2.4 6.1 3.4 6.1 7.6 6.1 7.1 6.1 6.3 6.1 5.2 6.1 3.8 6.1 2.5 6.1 2 6.1 3.4 6.1 4.8 6.1 4.3 6.1 2.2 6.1 0.7 6.1 1.2 6.1 2.1 6.1 1.6 6.1 0.4 6.1 0.7 6.1 1.3 6.1 0.5 6.1-0.3 6.1 0.1 6.1 0.4 6.1 0.3 6.1-0.1 6.1-0.1 6.1 1 6.1 1.7 6.1 0.2 6.1-0.7 6.1 0.3 6.1 1.3 6.1 0.6 6.1-1 6.1-0.5 6.1 0.6 6.1 0.5 6.1 0.3 6.1 0.5 6.1 0"/><path d="M36.5 1196.9l6.1-1.1 6.1-1.4 6.1 0 6.1 1.4 6.1 1 6.1 0.6 6.1 0.5 6.1 0.2 6.1 0 6.1 0.8 6.1 1.8 6.1 1.7 6.1 0.5 6.1-1 6.1-1.9 6.1-2.3 6.1-1.6 6.1 0.4 6.1 1.5 6.1 0.9 6.1 0.2 6.1-0.2 6.1-0.6 6.1-0.4 6.1-0.1 6.1 0.3 6.1 0 6.1-3.6 6.1-8.6 6.1-10.2 6.1-10.1 6.1-8.8 6.1-6.7 6.1-4.3 6.1-2.4 6.1-1.4 6.1-1 6.1 3.2 6.1 5.3 6.1 5.1 6.1 5.4 6.1 5.1 6.1 4.1 6.1 3.6 6.1 3.8 6.1 4.2 6.1 3.6 6.1 2.3 6.1 0.3 6.1-0.6 6.1 1.3 6.1 3.5 6.1 3.6 6.1 1.1 6.1-2.1 6.1-2.2 6.1 0.5 6.1 1.8 6.1 1.7 6.1 1 6.1-0.1 6.1-0.7 6.1-0.7 6.1-0.4 6.1 0.1 6.1 0.5 6.1 0.2 6.1-0.4 6.1 0.4 6.1 1.5 6.1 0.4 6.1-0.9 6.1-0.6 6.1-0.1"/><path d="M36.5 1200.3l6.1-1.1 6.1-0.5 6.1 0.7 6.1-0.2 6.1-1.6 6.1-1.9 6.1-0.7 6.1 0.8 6.1 1.4 6.1 0.5 6.1-0.4 6.1-0.2 6.1 0.6 6.1 1.4 6.1 0.8 6.1-0.7 6.1-1.4 6.1-0.5 6.1 0.9 6.1 0.6 6.1-0.2 6.1-0.1 6.1 0.9 6.1 1.6 6.1 0.9 6.1 0.5 6.1 0.4 6.1-0.8 6.1-8.6 6.1-16 6.1-17.6 6.1-14.5 6.1-10.5 6.1-7.1 6.1-3.7 6.1-0.8 6.1 5.6 6.1 8.5 6.1 7.5 6.1 6.9 6.1 6.4 6.1 6.1 6.1 5.6 6.1 4.7 6.1 4.3 6.1 3.9 6.1 2.4 6.1 1.3 6.1 1.8 6.1 1.7 6.1 1 6.1 1.7 6.1 2.6 6.1 1.2 6.1-1.3 6.1-1.8 6.1-0.2 6.1 1.3 6.1 1.6 6.1 0.3 6.1-1 6.1-0.9 6.1-0.3 6.1 0.1 6.1-0.1 6.1-0.4 6.1 0.1 6.1 1.6 6.1 2.2 6.1 0.4 6.1-1.7 6.1-0.3 6.1 1.9 6.1 1"/><path d="M36.5 1200l6.1 0.5 6.1-1.1 6.1-1.1 6.1-0.8 6.1-0.5 6.1-0.5 6.1 0.1 6.1 0.9 6.1 0.7 6.1 0.3 6.1 0 6.1-0.5 6.1-0.7 6.1-0.6 6.1-0.4 6.1-0.1 6.1 0.4 6.1 1.6 6.1 1.6 6.1 0.6 6.1 0 6.1-0.7 6.1-1.1 6.1-0.7 6.1-0.5 6.1-1.2 6.1-1.1 6.1-1 6.1-7.6 6.1-13 6.1-14.4 6.1-13.2 6.1-10.2 6.1-6.3 6.1-3.7 6.1-2.5 6.1 6.1 6.1 7.6 6.1 7.4 6.1 6.4 6.1 5.2 6.1 4.1 6.1 3.1 6.1 2.6 6.1 3.2 6.1 4.1 6.1 4.2 6.1 3.3 6.1 1.6 6.1 0.5 6.1 1 6.1 1.4 6.1 1.1 6.1 0.7 6.1 1.1 6.1 1.6 6.1 2 6.1 2.3 6.1 2.1 6.1 1.6 6.1 1 6.1-1 6.1-2.2 6.1-0.6 6.1 0.6 6.1-0.2 6.1-1.1 6.1-0.8 6.1-0.2 6.1 0.5 6.1 0.5 6.1 0.5 6.1 1.5 6.1 1.6"/><path d="M36.5 1199.4l6.1-2 6.1-1.2 6.1 0.4 6.1 1.6 6.1 1 6.1-0.6 6.1-1.3 6.1-1.2 6.1-0.5 6.1 0.4 6.1 0.7 6.1 0.3 6.1-0.1 6.1 0.2 6.1 0.5 6.1 0 6.1-0.6 6.1-1.1 6.1-0.8 6.1 0.9 6.1 1.9 6.1 1.3 6.1-0.4 6.1-1.4 6.1-1.6 6.1-1.3 6.1-0.6 6.1 0.1 6.1-0.1 6.1-9.6 6.1-17.6 6.1-18.8 6.1-13.3 6.1-6.5 6.1-3.5 6.1-3.3 6.1 3.1 6.1 6.9 6.1 7.1 6.1 6.2 6.1 5.1 6.1 4.6 6.1 4.6 6.1 4.4 6.1 4.2 6.1 3.6 6.1 2.6 6.1 2.2 6.1 2.3 6.1 3.2 6.1 3.9 6.1 2.6 6.1 0.6 6.1 0.2 6.1 1 6.1 1.3 6.1 0.3 6.1-1.7 6.1-2 6.1 0.6 6.1 2.9 6.1 3.1 6.1 2.2 6.1 0.9 6.1-0.2 6.1-0.1 6.1 0.5 6.1 0.4 6.1-0.5 6.1-1.2 6.1-0.6 6.1 0.4 6.1 0.6 6.1 0"/><path d="M36.5 1197.7l6.1 1.3 6.1 0 6.1 0.2 6.1 0.7 6.1-0.7 6.1-2.1 6.1-1.7 6.1-1.4 6.1-1.1 6.1-0.5 6.1-0.6 6.1 0 6.1 1.5 6.1 1.3 6.1-0.1 6.1 0 6.1 0.2 6.1-0.8 6.1-1.3 6.1 0.1 6.1 0.7 6.1 0.2 6.1 0.2 6.1 0.5 6.1 0.5 6.1 0.1 6.1-1 6.1-0.8 6.1-0.9 6.1-4.2 6.1-7.6 6.1-9.5 6.1-9.1 6.1-7.6 6.1-5.1 6.1-3.1 6.1-2.3 6.1-1.4 6.1 1.6 6.1 7.5 6.1 5.4 6.1 5 6.1 5.9 6.1 5.2 6.1 3.7 6.1 3.3 6.1 3.1 6.1 1.6 6.1 0.7 6.1 1 6.1 1.2 6.1 0.7 6.1 1 6.1 2.8 6.1 3.3 6.1 1.4 6.1 0.3 6.1 0.1 6.1-0.8 6.1-0.4 6.1 0.7 6.1 0.9 6.1 0.2 6.1-0.7 6.1-0.8 6.1 0.1 6.1 0.7 6.1-0.4 6.1-1.5 6.1-0.5 6.1 0.7 6.1 0.8 6.1 0.2 6.1-0.3"/><path d="M36.5 1198.6l6.1 1.4 6.1-0.5 6.1-1.2 6.1 0 6.1 1.1 6.1 0.3 6.1-0.4 6.1 0 6.1 0.1 6.1-0.5 6.1-1.3 6.1-1.4 6.1-0.3 6.1 0.9 6.1 1 6.1 0.9 6.1 1.2 6.1 0.9 6.1 0.3 6.1-0.2 6.1-0.6 6.1-0.9 6.1-0.1 6.1 0.6 6.1-0.1 6.1-0.7 6.1-0.7 6.1-7.8 6.1-14.5 6.1-16.7 6.1-14.3 6.1-8.6 6.1-3.9 6.1-2.7 6.1 3.8 6.1 9.1 6.1 8.8 6.1 7.9 6.1 7.2 6.1 6.3 6.1 4.1 6.1 2.3 6.1 2.8 6.1 3.3 6.1 2.9 6.1 1.7 6.1 0.6 6.1 0.2 6.1 0 6.1 0.2 6.1 0.4 6.1 0.5 6.1 0.9 6.1 1.4 6.1 0.2 6.1-0.4 6.1 0.9 6.1 1.6 6.1 0.1 6.1-0.9 6.1 0.1 6.1 1 6.1 0.9 6.1 0.3 6.1-0.1 6.1-0.1 6.1 0 6.1-0.1 6.1-0.7 6.1-1.5 6.1-0.2 6.1 1.6 6.1 1.2 6.1-0.2"/><path d="M36.5 1200.1l6.1-0.5 6.1-0.8 6.1-1.1 6.1-1.5 6.1-0.9 6.1 0.8 6.1 1.3 6.1-0.3 6.1-1.5 6.1-0.2 6.1 1.7 6.1 1.7 6.1 0.3 6.1-0.8 6.1-1.1 6.1 0.4 6.1 2.3 6.1 1.9 6.1-0.7 6.1-2.3 6.1-1.4 6.1 0.8 6.1 1.2 6.1 0 6.1 0 6.1 0.5 6.1-0.3 6.1-2.9 6.1-7.2 6.1-10.3 6.1-11.8 6.1-10.4 6.1-7.3 6.1-4.2 6.1-2.6 6.1-1.7 6.1 2.7 6.1 7.9 6.1 7.2 6.1 6.5 6.1 5.1 6.1 3.5 6.1 2.7 6.1 3 6.1 3.9 6.1 4.2 6.1 2.3 6.1 0.1 6.1 0.1 6.1 0.8 6.1 0.5 6.1 0.1 6.1 0.3 6.1 1.6 6.1 2.1 6.1 0.9 6.1-1.3 6.1-1 6.1 0.6 6.1 0.9 6.1-0.3 6.1-0.6 6.1 0.7 6.1 1.6 6.1 0.8 6.1 0.2 6.1 0.7 6.1 0.7 6.1-0.4 6.1-0.4 6.1 0.1 6.1 0.2 6.1-0.2 6.1 0.1"/><path d="M36.5 1196.8l6.1 0.2 6.1-0.2 6.1 0.1 6.1 0.7 6.1 0.8 6.1-0.4 6.1-1.4 6.1-1.1 6.1-0.4 6.1 0 6.1 0.3 6.1 0.4 6.1 0.4 6.1 0.1 6.1-0.7 6.1-0.6 6.1 0.7 6.1 0.7 6.1-0.1 6.1 0 6.1 0 6.1-0.5 6.1-0.1 6.1-0.1 6.1-0.8 6.1-0.2 6.1-0.1 6.1-2.5 6.1-8.9 6.1-12.1 6.1-11.1 6.1-7.2 6.1-3.4 6.1-1.9 6.1-0.5 6.1 5.3 6.1 5.7 6.1 5 6.1 4.1 6.1 4.2 6.1 4.1 6.1 3 6.1 2.3 6.1 2.1 6.1 0.8 6.1 0 6.1 0.5 6.1 1.3 6.1 1.5 6.1 1.2 6.1 0.7 6.1 0.7 6.1 0.9 6.1 1 6.1 0.9 6.1-0.1 6.1-0.7 6.1-0.2 6.1 1.3 6.1 2.6 6.1 2 6.1-0.3 6.1-1.3 6.1-0.5 6.1 0.7 6.1 0.6 6.1-0.2 6.1-1.1 6.1-2.2 6.1-1.4 6.1 1 6.1 2.2 6.1 2.4 6.1 1.6"/><path d="M36.5 1196.9l6.1-1 6.1-0.1 6.1 0.7 6.1 0.4 6.1-0.5 6.1-0.2 6.1-0.2 6.1-0.7 6.1-1 6.1-0.3 6.1 1.1 6.1 2 6.1 1.3 6.1 0.5 6.1 0.9 6.1 1.1 6.1 0.5 6.1-0.4 6.1-0.5 6.1 0 6.1 0.2 6.1-0.4 6.1-1.4 6.1-1.7 6.1-1.7 6.1-0.9 6.1 0.9 6.1 1.9 6.1-0.7 6.1-8 6.1-11 6.1-8.8 6.1-5.8 6.1-3.7 6.1-1.7 6.1 0.5 6.1 4.7 6.1 4.6 6.1 4.9 6.1 3.8 6.1 2.2 6.1 2.8 6.1 3.7 6.1 3.1 6.1 1 6.1-0.1 6.1 0.6 6.1 1.3 6.1 1.2 6.1 1.1 6.1 1.1 6.1 0.2 6.1-0.2 6.1-0.3 6.1-0.6 6.1 0.5 6.1 2.2 6.1 2.5 6.1 0.5 6.1-0.8 6.1-0.8 6.1-0.5 6.1 0 6.1 1.1 6.1 2.1 6.1 1.4 6.1-0.1 6.1-0.8 6.1-0.5 6.1-0.8 6.1 0.1 6.1 2.2 6.1 1.9 6.1-1"/><path d="M36.5 1195.8l6.1-1.8 6.1-0.4 6.1-0.5 6.1-1.1 6.1 0 6.1 1.2 6.1 0.6 6.1 0.3 6.1 0.8 6.1 0.6 6.1 0.4 6.1 0.3 6.1 0.5 6.1 0.6 6.1-0.4 6.1-1.2 6.1-0.8 6.1 0.3 6.1 0.6 6.1 0.4 6.1 0.1 6.1-1.2 6.1-1.5 6.1-0.2 6.1 1.3 6.1 0.8 6.1-0.6 6.1-2.4 6.1-7.2 6.1-9.9 6.1-9.2 6.1-6.3 6.1-3.9 6.1-2.6 6.1 0 6.1 6.6 6.1 6.5 6.1 4.8 6.1 2.9 6.1 2 6.1 1.9 6.1 2.1 6.1 1.9 6.1 1 6.1 0.1 6.1-0.1 6.1 1.2 6.1 2.1 6.1 1.8 6.1 0.8 6.1 0.1 6.1 0.7 6.1 1.4 6.1 1.4 6.1 0.4 6.1-1 6.1-1.2 6.1-0.5 6.1 0.4 6.1 1 6.1 0.9 6.1 0.4 6.1 0.4 6.1 0 6.1-0.6 6.1-0.8 6.1 0 6.1 0.8 6.1 1 6.1 0.7 6.1 0.2 6.1-0.6 6.1-1.2 6.1 0.1"/><path d="M36.5 1197l6.1 0.7 6.1 0.7 6.1-0.6 6.1-1.4 6.1-0.9 6.1 0 6.1 0.3 6.1-0.2 6.1 0.4 6.1 1.9 6.1 1.2 6.1-0.6 6.1-0.2 6.1 0.2 6.1 0 6.1 0 6.1 0 6.1-0.4 6.1-0.2 6.1 0.5 6.1 0.3 6.1 0.1 6.1-0.2 6.1-0.8 6.1-0.8 6.1-0.3 6.1-0.1 6.1-5.9 6.1-14.8 6.1-18.5 6.1-16.2 6.1-10.9 6.1-6.3 6.1-3.6 6.1-2.3 6.1 6.3 6.1 10.1 6.1 8.9 6.1 6.1 6.1 5 6.1 5.2 6.1 5.5 6.1 5.5 6.1 4.6 6.1 3.2 6.1 2.3 6.1 1.3 6.1 1.9 6.1 3.2 6.1 2.4 6.1 0.7 6.1-0.2 6.1-0.6 6.1-0.4 6.1 0.5 6.1 1.6 6.1 1.6 6.1 1.5 6.1 1 6.1 0.6 6.1 0.1 6.1-0.6 6.1-0.3 6.1 0.9 6.1 1.5 6.1 1.7 6.1 0.9 6.1-0.8 6.1-1.4 6.1-0.9 6.1-0.2 6.1 0.7 6.1 0.5 6.1-0.4"/><path d="M36.5 1198.7l6.1-0.3 6.1-1.5 6.1-1.8 6.1-0.5 6.1 1.4 6.1 0.9 6.1-1.3 6.1-1.1 6.1 0.5 6.1 1.8 6.1 1.8 6.1 0.9 6.1 0.3 6.1-0.1 6.1 0 6.1 0.2 6.1-0.4 6.1-1.3 6.1-1.5 6.1-1.6 6.1-1.4 6.1-1 6.1-0.5 6.1 0.2 6.1 0.7 6.1 0.4 6.1 0.3 6.1-0.7 6.1-3.8 6.1-6.1 6.1-7.2 6.1-6.6 6.1-4.4 6.1-2.2 6.1-1.2 6.1-1.5 6.1-1.3 6.1 4.4 6.1 4.6 6.1 4 6.1 3.8 6.1 2.9 6.1 1.9 6.1 2 6.1 1.7 6.1 0.9 6.1 1.1 6.1 2.1 6.1 1.9 6.1 0.6 6.1-0.1 6.1 0.6 6.1 2.1 6.1 1.5 6.1-1.3 6.1-2.3 6.1-0.5 6.1 1.5 6.1 2.1 6.1 1.3 6.1 0.9 6.1 0.9 6.1 0.8 6.1-0.1 6.1-1.2 6.1-1.5 6.1-0.3 6.1 1.2 6.1 1.4 6.1 0.2 6.1-1.2 6.1-1.7 6.1-0.8 6.1 1.4"/><path d="M36.5 1201.8l6.1-1 6.1 0.1 6.1 0.4 6.1-0.1 6.1-0.4 6.1-0.4 6.1-0.1 6.1 0.4 6.1-0.5 6.1-1.8 6.1-1.8 6.1-0.4 6.1 0.5 6.1 0.1 6.1-0.5 6.1-0.3 6.1 0 6.1-0.3 6.1-0.8 6.1-0.4 6.1 0.9 6.1 1.5 6.1-0.1 6.1-1.2 6.1-0.6 6.1 0.4 6.1 0.2 6.1 0.2 6.1-2.2 6.1-5.6 6.1-8.2 6.1-8.4 6.1-6.4 6.1-3 6.1-0.3 6.1 1.4 6.1 4.6 6.1 4.5 6.1 3.9 6.1 3.2 6.1 2 6.1 0.7 6.1 0.4 6.1 0.8 6.1 1.1 6.1 1.2 6.1 1.2 6.1 1.2 6.1 1.2 6.1 0.9 6.1 0.3 6.1 0.6 6.1 1.2 6.1 1.2 6.1 1 6.1 0.7 6.1-0.6 6.1-1.5 6.1-1 6.1-0.2 6.1 0 6.1 0.1 6.1 0.4 6.1 1.5 6.1 1.7 6.1 0.5 6.1-0.4 6.1-0.5 6.1-0.4 6.1-0.1 6.1 0.8 6.1 1.4 6.1 0.9 6.1 0.2"/><path d="M36.5 1198.7l6.1 0.1 6.1-0.8 6.1-1.6 6.1-1.2 6.1-0.6 6.1-0.5 6.1-0.1 6.1 1.1 6.1 1.6 6.1 1.3 6.1 1.1 6.1 0.1 6.1-1 6.1-1.1 6.1-0.8 6.1-1 6.1-0.9 6.1 0.1 6.1 0.8 6.1 0.1 6.1-0.4 6.1 0.7 6.1 1.4 6.1 0 6.1-1.1 6.1-1 6.1-0.2 6.1 0.4 6.1 0.1 6.1-3.9 6.1-7.2 6.1-9.1 6.1-8.3 6.1-5.7 6.1-3.7 6.1-3 6.1-2.2 6.1-1 6.1 5.7 6.1 6.1 6.1 6 6.1 4.5 6.1 2 6.1 0.7 6.1 1.8 6.1 3.6 6.1 3.8 6.1 1.9 6.1 0.8 6.1 0.9 6.1 1.6 6.1 1.5 6.1 0.7 6.1 0.2 6.1 1 6.1 2.1 6.1 2.4 6.1 1.4 6.1-0.3 6.1-0.8 6.1-0.6 6.1-0.2 6.1 0.6 6.1 0.8 6.1-0.3 6.1-0.6 6.1 0 6.1 0.2 6.1-0.2 6.1-0.6 6.1-0.4 6.1 0.3 6.1 1.2 6.1 1.2"/><path d="M36.5 1194.9l6.1-0.1 6.1-0.2 6.1 0.2 6.1 0.5 6.1 0.7 6.1 0.9 6.1 0.6 6.1-1.1 6.1-1.3 6.1 0.8 6.1 2 6.1 0.4 6.1-1.6 6.1-1.7 6.1-0.5 6.1 0 6.1 0.5 6.1 1 6.1 0.5 6.1-0.5 6.1-0.6 6.1-0.1 6.1 0.1 6.1-0.4 6.1-0.5 6.1-0.2 6.1 0 6.1-0.1 6.1-4.4 6.1-8.7 6.1-8.9 6.1-7.2 6.1-5.4 6.1-3.4 6.1-2 6.1-1.3 6.1-0.3 6.1 4.7 6.1 4.4 6.1 4 6.1 3.4 6.1 3.4 6.1 3.1 6.1 2.6 6.1 2.7 6.1 2.3 6.1 0.3 6.1-0.6 6.1 0.7 6.1 2.5 6.1 2.2 6.1 0.5 6.1-0.3 6.1 0.3 6.1 0.9 6.1 1.4 6.1 1.9 6.1 1.8 6.1 0.5 6.1-0.9 6.1-0.9 6.1 0.2 6.1 0.1 6.1-1.2 6.1-0.8 6.1 0.9 6.1 0.9 6.1 0 6.1 0.4 6.1 1.6 6.1 1.6 6.1 0.8 6.1-0.2 6.1-1.4"/><path d="M36.5 1197.4l6.1-0.5 6.1-0.4 6.1 1.1 6.1 1.7 6.1 1.2 6.1 0.2 6.1-1.4 6.1-2.5 6.1-1 6.1 1.8 6.1 1.7 6.1-0.1 6.1-0.7 6.1-0.3 6.1 0.6 6.1 0.4 6.1-0.4 6.1-0.6 6.1 0.3 6.1 0.6 6.1 0.4 6.1 0.2 6.1 0.1 6.1 0 6.1-1 6.1-1.4 6.1-0.7 6.1-0.1 6.1-1.2 6.1-5.7 6.1-7.9 6.1-7.3 6.1-5.2 6.1-2.4 6.1-0.2 6.1-0.3 6.1 1.6 6.1 2.5 6.1 3.6 6.1 4.2 6.1 3.2 6.1 2.2 6.1 2.7 6.1 2.8 6.1 2.1 6.1 1.5 6.1-0.2 6.1-1.1 6.1 0.5 6.1 2.2 6.1 1.1 6.1-0.6 6.1-0.4 6.1 0.8 6.1 0.3 6.1-0.3 6.1 0.4 6.1 1.3 6.1 1.6 6.1 1.1 6.1 0.4 6.1-0.8 6.1-1.2 6.1-0.1 6.1 0.7 6.1 0.4 6.1-0.5 6.1-0.4 6.1 1.1 6.1 1.7 6.1-0.1 6.1-1.5 6.1-1.1 6.1-0.5"/><path d="M36.5 1199.6l6.1 1 6.1-0.5 6.1-0.9 6.1 0 6.1-0.4 6.1-1.4 6.1-0.5 6.1 1.2 6.1 1.8 6.1 1.3 6.1 0.9 6.1 0.6 6.1 0.1 6.1 0 6.1-0.1 6.1-0.8 6.1-1.9 6.1-2 6.1-0.7 6.1 0.5 6.1 0.3 6.1-0.2 6.1-0.4 6.1-0.6 6.1-0.2 6.1 0.8 6.1 1.2 6.1-2.3 6.1-7.7 6.1-10.6 6.1-10.4 6.1-8.4 6.1-6.1 6.1-3.1 6.1-0.4 6.1 3.2 6.1 5.4 6.1 4.4 6.1 3.3 6.1 2.9 6.1 2.6 6.1 2.7 6.1 3.3 6.1 3.2 6.1 1.9 6.1 0.4 6.1-0.1 6.1 0 6.1 0.5 6.1 2 6.1 3 6.1 2.1 6.1 1.1 6.1 0.3 6.1 0 6.1 0.2 6.1 0.2 6.1-0.2 6.1 0.2 6.1 1 6.1 0.4 6.1-0.1 6.1 0.6 6.1 1.3 6.1 0.8 6.1 0.5 6.1 1.1 6.1 1.8 6.1 1.2 6.1-0.2 6.1-0.7 6.1-1.3 6.1-1.1 6.1-0.2"/><path d="M36.5 1200l6.1 0.6 6.1-0.7 6.1-0.6 6.1 0.7 6.1 1 6.1-0.7 6.1-1.5 6.1-0.3 6.1-0.4 6.1-1.1 6.1-0.2 6.1 0.5 6.1 0.6 6.1 0.3 6.1-1.1 6.1-1.8 6.1-0.6 6.1 0.7 6.1 1.3 6.1 0.7 6.1 0.2 6.1 0.7 6.1 1.3 6.1 1.5 6.1 0.2 6.1-0.7 6.1-1.3 6.1-10 6.1-17.9 6.1-18.8 6.1-13.5 6.1-7.9 6.1-4.8 6.1-3.1 6.1-0.6 6.1 8.3 6.1 7.4 6.1 6.1 6.1 5.6 6.1 5.1 6.1 3.9 6.1 2.8 6.1 2.9 6.1 3.2 6.1 3.1 6.1 2.7 6.1 1.6 6.1 1.2 6.1 2.4 6.1 3.9 6.1 2.7 6.1 0.5 6.1 0 6.1 0.7 6.1 1.5 6.1 0.9 6.1 0.8 6.1 1.5 6.1 1.1 6.1-0.2 6.1 0.1 6.1 1.2 6.1 1.4 6.1 0.9 6.1 0.5 6.1 0.6 6.1 1.2 6.1 1.5 6.1 0.7 6.1-0.4 6.1-1 6.1-0.8 6.1-0.4 6.1-0.1"/><path d="M36.5 1198.5l6.1 1.1 6.1-0.5 6.1-1.2 6.1-0.5 6.1 0.5 6.1 0.7 6.1-0.1 6.1-0.8 6.1-0.9 6.1-1.1 6.1-1.3 6.1-0.5 6.1 0.4 6.1 0.9 6.1 0.8 6.1 0.8 6.1 0 6.1-1 6.1-0.4 6.1 0.5 6.1 0.9 6.1 0.4 6.1-0.8 6.1-1.3 6.1-0.9 6.1-0.7 6.1-0.8 6.1 0.2 6.1 1.7 6.1 0.6 6.1-4.8 6.1-8.5 6.1-8.5 6.1-5.5 6.1-2.6 6.1-1.3 6.1-0.6 6.1 1.1 6.1 3.2 6.1 1.8 6.1 1.2 6.1 1.8 6.1 3.2 6.1 3.5 6.1 3.3 6.1 2.9 6.1 1.9 6.1 1.3 6.1 1.2 6.1 0.6 6.1 0 6.1 0.2 6.1 0 6.1-0.6 6.1-0.7 6.1 0.2 6.1 1.5 6.1 1.8 6.1 1.2 6.1 0.1 6.1-1.2 6.1-1.5 6.1 0 6.1 1.9 6.1 1.7 6.1 0.4 6.1-0.6 6.1-0.6 6.1-0.3 6.1-0.1 6.1 0 6.1-0.2 6.1 0.1 6.1 0.3"/><path d="M36.5 1196l6.1 1.2 6.1 1.2 6.1 0.1 6.1 0.5 6.1 0.9 6.1-1.4 6.1-2.4 6.1 0.1 6.1 1.5 6.1 0.1 6.1-1.2 6.1-1.5 6.1-0.5 6.1 1 6.1 1.2 6.1 0.8 6.1 1.3 6.1 1.7 6.1 1 6.1 0 6.1-0.7 6.1-0.9 6.1 0.1 6.1 1.5 6.1 1.2 6.1-0.9 6.1-1.9 6.1-1.9 6.1-1.1 6.1-1.6 6.1-4.7 6.1-6.5 6.1-6.6 6.1-5.9 6.1-4.8 6.1-3.4 6.1-2.2 6.1-1.1 6.1 0.1 6.1 3.3 6.1 3.6 6.1 3.9 6.1 3.4 6.1 3.1 6.1 2.8 6.1 2.5 6.1 2.6 6.1 2.6 6.1 1.6 6.1 0.3 6.1-0.3 6.1-0.5 6.1-0.7 6.1 0.2 6.1 1 6.1 1.1 6.1 2.2 6.1 3.4 6.1 2.2 6.1-0.7 6.1-1.6 6.1-0.9 6.1-0.6 6.1-0.3 6.1 0.6 6.1 1.4 6.1 1.4 6.1-0.1 6.1-0.9 6.1 0.3 6.1 1.3 6.1 0.9 6.1 0.5 6.1 0.5"/></g>
<path d="M34 1206.4H492.5" stroke="#000" stroke-width="1.6"/>
<path d="M126.1 1115.3V1206.4" stroke="#1edc1e" stroke-width="2"/>
<path d="M394.6 1115.3V1206.4" stroke="#e81818" stroke-width="1.8"/>
<rect x="22.6" y="1178" width="5.6" height="18" fill="#000"/>
<path d="M338 1218.4H429.2M339.2 1213.7v9.5M428 1213.7v9.5" stroke="#1212f2" stroke-width="2.8" fill="none"/>
<rect x="367" y="1209.2" width="40.8" height="18.5" fill="#1212f2"/>
<g fill="none" stroke="#000" stroke-opacity="0.5" stroke-width="4.0" stroke-linejoin="round"><path d="M36.5 1317.6l6.1 0.8 6.1-0.1 6.1-0.6 6.1-0.8 6.1-0.8 6.1-0.6 6.1-0.9 6.1-0.3 6.1 1.2 6.1 1.2 6.1 0 6.1-0.8 6.1-2.2 6.1-1.7 6.1 0.4 6.1 1.8 6.1 0.8 6.1-1 6.1-0.8 6.1-0.3 6.1 0.6 6.1 2.4 6.1 2.5 6.1-0.3 6.1-2.3 6.1-1.9 6.1-0.2 6.1 0.8 6.1 0.2 6.1 0 6.1 0.3 6.1-0.9 6.1-2 6.1-1.3 6.1-0.1 6.1 0.7 6.1 0.9 6.1 0.2 6.1-0.3 6.1 0 6.1 0.3 6.1 0.7 6.1 0.4 6.1 0.1 6.1 0 6.1-0.6 6.1-1.1 6.1 0 6.1 0.9 6.1-0.2 6.1-2.2 6.1-3.1 6.1-3.2 6.1-3.1 6.1-4 6.1-5.1 6.1-3.9 6.1-2.6 6.1-3.8 6.1-4.8 6.1-4 6.1-2.3 6.1-0.4 6.1 0.1 6.1 0.3 6.1 0.7 6.1-1.1 6.1-1.3 6.1 1.9 6.1 4 6.1 3.6 6.1 2.1 6.1 1.4 6.1 2.9"/><path d="M36.5 1307.9l6.1 0.8 6.1 0.8 6.1 0.4 6.1-0.9 6.1-2.1 6.1-2.1 6.1-0.7 6.1 2 6.1 2.5 6.1 1.2 6.1 0.5 6.1 0.1 6.1 0.3 6.1 0.6 6.1 0.2 6.1-0.7 6.1-1 6.1-1 6.1-1.4 6.1-1.3 6.1-0.4 6.1-0.2 6.1-1.1 6.1-0.4 6.1 1.4 6.1 1.9 6.1 0.1 6.1-0.9 6.1 0.2 6.1 1.4 6.1 1.6 6.1 1.3 6.1 0.5 6.1-0.6 6.1-0.6 6.1 0.7 6.1 0.7 6.1-0.1 6.1-0.1 6.1 0.3 6.1 0 6.1-0.4 6.1-0.7 6.1-0.4 6.1-0.1 6.1 0.1 6.1-0.4 6.1-1.2 6.1-2.2 6.1-3.6 6.1-4.3 6.1-4.2 6.1-3.2 6.1-3 6.1-4.6 6.1-6.6 6.1-6.8 6.1-6.1 6.1-5.3 6.1-4.1 6.1-2.8 6.1-1.8 6.1-1.9 6.1-1 6.1 2.3 6.1 3.2 6.1 4.3 6.1 6.1 6.1 6.6 6.1 6.1 6.1 5.9 6.1 4.5 6.1 3.5 6.1 3.7"/><path d="M36.5 1317.6l6.1-1.6 6.1-0.8 6.1-0.1 6.1 0.3 6.1 0.8 6.1 0.1 6.1-1 6.1-1.6 6.1-0.2 6.1 1.2 6.1 0.2 6.1-0.7 6.1-0.1 6.1 0 6.1-0.2 6.1 0.2 6.1 0.8 6.1 1.5 6.1 1.1 6.1-0.2 6.1-0.3 6.1 0.8 6.1 0.6 6.1-1.7 6.1-3 6.1-1 6.1 0.8 6.1-0.2 6.1-1.1 6.1-0.3 6.1 0.5 6.1 0.8 6.1 0.8 6.1-0.6 6.1-1.6 6.1-0.9 6.1 0.3 6.1 1 6.1 0.3 6.1-1.5 6.1-1.6 6.1 0.1 6.1 1.4 6.1 1.5 6.1 0.4 6.1-0.6 6.1-1.4 6.1-2.5 6.1-3.7 6.1-4.2 6.1-4.3 6.1-3.7 6.1-2.9 6.1-2.8 6.1-2.7 6.1-3.2 6.1-5.1 6.1-6 6.1-4.7 6.1-3.3 6.1-3.1 6.1-3.6 6.1-3.1 6.1-1.3 6.1 1.7 6.1 2.7 6.1 2.9 6.1 3.8 6.1 3.7 6.1 2.7 6.1 2.4 6.1 3.1 6.1 3.7 6.1 4.5"/><path d="M36.5 1307.8l6.1 0.9 6.1 1.9 6.1 0.6 6.1-0.7 6.1-1.3 6.1-2.2 6.1-2 6.1 0.3 6.1 2.7 6.1 2.6 6.1 1.6 6.1 1.5 6.1 0.8 6.1-0.3 6.1-1.2 6.1-1.4 6.1-0.3 6.1 1.4 6.1 1.1 6.1-1.1 6.1-1.2 6.1 0.5 6.1 1.5 6.1 0.7 6.1 0.1 6.1 0.5 6.1 0.8 6.1-0.9 6.1-1.7 6.1-0.9 6.1 0 6.1 1.8 6.1 2.1 6.1-0.3 6.1-0.8 6.1 0.6 6.1 0.1 6.1-1.7 6.1-1.9 6.1-0.4 6.1 0.7 6.1-0.1 6.1-0.3 6.1 0.5 6.1 0.6 6.1-0.5 6.1-1.9 6.1-3.5 6.1-3.3 6.1-2.2 6.1-1.4 6.1-1.8 6.1-4.9 6.1-7.2 6.1-6.1 6.1-4.1 6.1-3.8 6.1-5.5 6.1-6.3 6.1-4.7 6.1-3.4 6.1-2.5 6.1-1 6.1 2.4 6.1 3.2 6.1 1.1 6.1 0.4 6.1 1.8 6.1 3.2 6.1 4 6.1 4.9 6.1 4.2 6.1 3.1 6.1 3.5"/><path d="M36.5 1313.8l6.1-1.1 6.1 0.1 6.1 0.9 6.1 0.7 6.1 0.9 6.1 1.2 6.1 0.8 6.1 0.2 6.1-0.9 6.1-2.7 6.1-1.3 6.1 2.1 6.1 2.2 6.1-0.6 6.1-1.9 6.1-1.5 6.1-1.2 6.1-0.3 6.1 0.9 6.1 0.9 6.1-0.1 6.1 0.2 6.1 0.8 6.1 0.8 6.1 0.3 6.1 0.2 6.1 0.2 6.1-0.9 6.1-0.6 6.1 1.1 6.1 1.1 6.1-1.1 6.1-1.5 6.1-0.6 6.1-1 6.1-2 6.1-1 6.1-0.3 6.1 0.6 6.1 2.7 6.1 2.5 6.1 0.3 6.1-0.4 6.1-0.6 6.1-1.4 6.1-0.1 6.1 1.7 6.1 1.4 6.1 0.1 6.1-1.6 6.1-2.5 6.1-2.2 6.1-1.9 6.1-2 6.1-2.6 6.1-3.5 6.1-5.2 6.1-6.4 6.1-6.9 6.1-6.1 6.1-5.1 6.1-4.7 6.1-4.5 6.1-4.3 6.1-3.4 6.1-1.8 6.1-0.4 6.1 1.3 6.1 1.6 6.1 2.9 6.1 4.8 6.1 6.7 6.1 7.4 6.1 5.6"/><path d="M36.5 1316.7l6.1 0.3 6.1-2.1 6.1-3 6.1-1.1 6.1 0.8 6.1 0.9 6.1 0.9 6.1 0.7 6.1 0.3 6.1 1 6.1 1.3 6.1-0.2 6.1-1.8 6.1-2.3 6.1-1.6 6.1-0.4 6.1 0.6 6.1 1.4 6.1 1 6.1 0.2 6.1 0.6 6.1 1 6.1-0.2 6.1-1.5 6.1-1.6 6.1-2.1 6.1-2.1 6.1-0.5 6.1-0.4 6.1-0.7 6.1 1.1 6.1 2.1 6.1 0.2 6.1-1.5 6.1-0.4 6.1 1.3 6.1 1 6.1-1.3 6.1-2.6 6.1-1.3 6.1 0.8 6.1 1.1 6.1 0.3 6.1 0.2 6.1 0.1 6.1-1.5 6.1-2.8 6.1-2.5 6.1-1.8 6.1-1.9 6.1-2.9 6.1-4.1 6.1-4.8 6.1-4.5 6.1-3.9 6.1-3.1 6.1-2.6 6.1-3.1 6.1-4.3 6.1-4.3 6.1-2.5 6.1-1.6 6.1 0.5 6.1 1.4 6.1 0.9 6.1 0.5 6.1 2.9 6.1 6 6.1 5.9 6.1 3.4 6.1 1.3 6.1 1.3 6.1 2.4 6.1 3.2"/><path d="M36.5 1310.2l6.1 1.1 6.1 1.9 6.1 0.2 6.1-1.2 6.1-0.9 6.1-0.2 6.1-0.5 6.1-0.3 6.1 0.7 6.1-0.2 6.1-1.5 6.1 0 6.1 0.7 6.1-0.4 6.1-0.9 6.1-0.5 6.1 0.3 6.1 1.5 6.1 2.5 6.1 1.4 6.1-0.2 6.1 0.1 6.1-0.3 6.1-1.5 6.1-1.8 6.1-1 6.1 0.4 6.1 1.7 6.1 0.8 6.1-0.9 6.1-0.8 6.1-0.3 6.1-0.4 6.1 0 6.1 0.2 6.1 1.2 6.1 1.6 6.1 0.1 6.1-0.9 6.1 0.2 6.1 1.9 6.1 1.4 6.1-0.9 6.1-2.1 6.1-0.5 6.1 1.5 6.1 1.2 6.1-0.7 6.1-1.4 6.1-0.6 6.1-0.8 6.1-2.5 6.1-3.7 6.1-3.6 6.1-3.1 6.1-3.3 6.1-5 6.1-6.1 6.1-6 6.1-5.2 6.1-4.6 6.1-4 6.1-4.3 6.1-5.3 6.1-3.8 6.1-0.6 6.1 2.3 6.1 4 6.1 3.4 6.1 0.1 6.1-1.2 6.1 1.7 6.1 5.2 6.1 5.2"/><path d="M36.5 1311.7l6.1-0.1 6.1 0.4 6.1 0.5 6.1 0.4 6.1-0.3 6.1-0.3 6.1 0.7 6.1 1.3 6.1 0.5 6.1-1 6.1-1.2 6.1-0.3 6.1 0.6 6.1-0.1 6.1-1.3 6.1-0.6 6.1 0.4 6.1 0.6 6.1 0.4 6.1 0.4 6.1 0.6 6.1 0.6 6.1-0.6 6.1-1.2 6.1-0.2 6.1-0.1 6.1-0.4 6.1 0.9 6.1 1.1 6.1-1.3 6.1-2.2 6.1-0.4 6.1 0.9 6.1 0.8 6.1 0.5 6.1-0.2 6.1 0.1 6.1 1.5 6.1 1.8 6.1 0.2 6.1-0.3 6.1 0.1 6.1-0.8 6.1-2.5 6.1-3.3 6.1-1.7 6.1-1.3 6.1-2.2 6.1-2.4 6.1-2.4 6.1-2.6 6.1-3.2 6.1-4.1 6.1-3.7 6.1-2.3 6.1-3 6.1-5.3 6.1-4.6 6.1-1.9 6.1-0.6 6.1-0.4 6.1-0.1 6.1 0.4 6.1 0.2 6.1 1.3 6.1 2.9 6.1 3.7 6.1 3.2 6.1 3.2 6.1 4.6 6.1 4 6.1 2.5 6.1 1.9 6.1 0.8"/><path d="M36.5 1312.9l6.1 0 6.1 0.5 6.1 1.3 6.1-0.2 6.1-2 6.1-0.4 6.1 1.6 6.1 1.8 6.1 1.5 6.1 0.6 6.1 0 6.1-0.5 6.1-1.5 6.1-1.8 6.1-0.4 6.1 0.7 6.1 0.9 6.1 0 6.1-1 6.1-1.4 6.1-0.9 6.1-0.2 6.1-0.5 6.1-0.7 6.1 0 6.1 0.9 6.1-0.2 6.1-1.5 6.1-1.3 6.1 0.3 6.1 1.6 6.1 2.3 6.1 2.1 6.1 0.5 6.1-0.8 6.1-1 6.1-0.9 6.1-0.5 6.1 0.7 6.1 1.4 6.1 1.3 6.1 0.4 6.1-1.1 6.1-1 6.1 0.4 6.1 0.5 6.1-1 6.1-2.5 6.1-1.5 6.1-0.1 6.1-1.6 6.1-4 6.1-4.5 6.1-4 6.1-3.9 6.1-4.4 6.1-5.6 6.1-5.8 6.1-5.5 6.1-5.2 6.1-4.6 6.1-4.7 6.1-5 6.1-2.7 6.1 1 6.1 3.9 6.1 4.5 6.1 5.3 6.1 5 6.1 4.5 6.1 4.8 6.1 3.9 6.1 3.9 6.1 5.5"/><path d="M36.5 1315.6l6.1 0.2 6.1 0.1 6.1-0.3 6.1 0.3 6.1 1.8 6.1 1.5 6.1 0 6.1-1.7 6.1-1.9 6.1-1.7 6.1-2 6.1-2.1 6.1-0.3 6.1 0.8 6.1 0.1 6.1 0.2 6.1 1.3 6.1 0.9 6.1-0.6 6.1-1.5 6.1-0.3 6.1 1.1 6.1 1.2 6.1-0.1 6.1-1.2 6.1-0.7 6.1 0.4 6.1 1 6.1 0.7 6.1 0.2 6.1 0.4 6.1 0.8 6.1-0.1 6.1-0.7 6.1-0.1 6.1 0.4 6.1 0.4 6.1-0.9 6.1-2.4 6.1-1.5 6.1 0.5 6.1 1.1 6.1 0.7 6.1 0.6 6.1 0.4 6.1 0 6.1-1.3 6.1-1.9 6.1-0.7 6.1-0.1 6.1-0.7 6.1-1.4 6.1-1.4 6.1-2.3 6.1-3.4 6.1-3.7 6.1-5.1 6.1-6.3 6.1-4.5 6.1-3.2 6.1-3.6 6.1-2.8 6.1-1.2 6.1-0.6 6.1-1.2 6.1-1.8 6.1-0.8 6.1 2.2 6.1 3 6.1 2.4 6.1 3 6.1 3.7 6.1 2.7 6.1 1"/><path d="M36.5 1312.7l6.1-0.2 6.1-0.1 6.1-0.4 6.1-0.3 6.1 0.6 6.1 0.3 6.1-0.8 6.1-0.3 6.1 1.4 6.1 2.2 6.1 0.7 6.1-1.2 6.1-1.3 6.1-1.3 6.1-1.7 6.1-1.7 6.1-0.3 6.1 1.7 6.1 1 6.1-1 6.1-0.2 6.1 2.7 6.1 3 6.1-0.1 6.1-2.8 6.1-2.4 6.1 0.1 6.1 1.9 6.1 2.9 6.1 2.1 6.1 0.3 6.1-0.1 6.1-0.3 6.1-1.5 6.1-1.2 6.1-0.2 6.1 0 6.1 0.9 6.1 1.6 6.1 0.8 6.1-0.1 6.1-0.1 6.1 0 6.1-0.7 6.1-1 6.1-1.4 6.1-2.3 6.1-1.9 6.1-1 6.1-0.9 6.1-1.3 6.1-1.1 6.1-1.2 6.1-1.7 6.1-3.2 6.1-5.5 6.1-7 6.1-7.9 6.1-7.7 6.1-6.4 6.1-4.8 6.1-2.6 6.1-1.1 6.1-1.9 6.1-2.7 6.1-0.3 6.1 2.5 6.1 2.1 6.1 1.1 6.1 2.3 6.1 4.7 6.1 5.1 6.1 4 6.1 2.2"/><path d="M36.5 1310.6l6.1-0.9 6.1-0.3 6.1 0.8 6.1 1 6.1-0.2 6.1-0.4 6.1 0.6 6.1 0.5 6.1-1.2 6.1-2 6.1-1.1 6.1 0.8 6.1 1.7 6.1-0.1 6.1-1.9 6.1-1.7 6.1-1.5 6.1-1 6.1 0.2 6.1 1.2 6.1 1.4 6.1 0.6 6.1 0.5 6.1 1.2 6.1 1.3 6.1 0.7 6.1-0.6 6.1-2 6.1-2.4 6.1-1.8 6.1-1 6.1-0.3 6.1 0.5 6.1 1.3 6.1 1.7 6.1 1.7 6.1 0.9 6.1 1.5 6.1 1.8 6.1-0.1 6.1-1.3 6.1 0 6.1 1.5 6.1 0.3 6.1-2.1 6.1-2.4 6.1-1.4 6.1-2.2 6.1-4.1 6.1-5 6.1-4 6.1-3.9 6.1-5.4 6.1-6.5 6.1-5.8 6.1-5.3 6.1-4.4 6.1-3.3 6.1-2.5 6.1-1.7 6.1-1.1 6.1-1.7 6.1-1.3 6.1 0.1 6.1 1.9 6.1 2.4 6.1 2.3 6.1 3.3 6.1 3.1 6.1 2.4 6.1 3.9 6.1 5 6.1 3.8 6.1 3.7"/><path d="M36.5 1313.1l6.1-0.3 6.1 0.8 6.1 1.9 6.1 1.4 6.1 0 6.1-0.9 6.1-0.8 6.1-0.5 6.1 0.3 6.1 1.2 6.1 0.6 6.1 0 6.1 0.3 6.1 0.4 6.1-0.9 6.1-2.1 6.1-1.4 6.1 0.8 6.1 1.5 6.1-0.1 6.1-1 6.1-0.1 6.1 0.4 6.1-0.7 6.1-1.8 6.1-1.7 6.1 0.4 6.1 2.4 6.1 1.7 6.1 0.3 6.1 0.2 6.1-0.6 6.1-1.7 6.1-0.3 6.1 1.2 6.1 0.4 6.1 0.2 6.1 0.7 6.1-0.2 6.1-0.6 6.1-0.2 6.1-0.2 6.1 0.3 6.1 0 6.1-1.2 6.1-1.5 6.1-0.3 6.1 0.4 6.1-0.8 6.1-3.3 6.1-5.4 6.1-5.8 6.1-4.3 6.1-4.1 6.1-4.8 6.1-5.1 6.1-5.3 6.1-4.9 6.1-3.7 6.1-3.1 6.1-2.2 6.1-0.7 6.1 1 6.1 2.7 6.1 3.6 6.1 3.5 6.1 1.9 6.1 0.6 6.1 1.2 6.1 3 6.1 3.9 6.1 4.2 6.1 4.4 6.1 3.8"/><path d="M36.5 1314.5l6.1 0.9 6.1-1.7 6.1-1.5 6.1 0.5 6.1 0.6 6.1-0.1 6.1 0.4 6.1 1.4 6.1 0.5 6.1-1.1 6.1-1 6.1-0.6 6.1-1.1 6.1-1.1 6.1-0.3 6.1 0.6 6.1 0.9 6.1 1 6.1 0.1 6.1-1.3 6.1-0.7 6.1 1.2 6.1 0.6 6.1-0.8 6.1-1.2 6.1-0.5 6.1 0.6 6.1 0.7 6.1 0.1 6.1-0.4 6.1-0.5 6.1-0.2 6.1-0.7 6.1-1.4 6.1-0.1 6.1 1.9 6.1 2.1 6.1 1 6.1 0 6.1-0.8 6.1 0 6.1 1 6.1 1.4 6.1 0.5 6.1-1.9 6.1-3.9 6.1-2.9 6.1 0.1 6.1 1.4 6.1 0.2 6.1-1.4 6.1-2.9 6.1-3.9 6.1-3.8 6.1-3.3 6.1-2.9 6.1-3.6 6.1-6.3 6.1-7.3 6.1-5.7 6.1-4.9 6.1-5.5 6.1-5.7 6.1-4.9 6.1-3 6.1-1.5 6.1-0.1 6.1 1.4 6.1 2.9 6.1 4.1 6.1 4.1 6.1 3.5 6.1 3.2 6.1 4.1"/><path d="M36.5 1311.4l6.1-1 6.1-0.7 6.1 0.3 6.1 0.6 6.1 0.8 6.1 0.5 6.1 0.2 6.1 0.9 6.1 0.8 6.1-1.4 6.1-3 6.1-0.1 6.1 3.4 6.1 1.5 6.1-1.7 6.1-1.1 6.1-0.3 6.1-0.6 6.1 0.4 6.1 2.2 6.1 2 6.1 0.4 6.1-0.8 6.1-1.1 6.1-1.2 6.1-1.3 6.1-0.6 6.1 0.5 6.1 0.8 6.1 0 6.1-1.2 6.1-2.7 6.1-3.1 6.1-1.5 6.1 0.2 6.1 0.6 6.1 0.6 6.1 0.8 6.1 1.4 6.1 1.9 6.1 1.3 6.1-0.5 6.1-3 6.1-4.5 6.1-3.5 6.1-0.9 6.1-0.3 6.1-1.3 6.1-1.9 6.1-1.4 6.1-1.6 6.1-2.5 6.1-3.8 6.1-5 6.1-5.1 6.1-4 6.1-2.7 6.1-2.4 6.1-2.5 6.1-2 6.1-1 6.1-0.6 6.1-0.8 6.1-0.2 6.1 1.2 6.1 2.1 6.1 2.3 6.1 2.1 6.1 3 6.1 4.7 6.1 4.5 6.1 4.1 6.1 3.7 6.1 1.8"/><path d="M36.5 1309.7l6.1 1.8 6.1 2.1 6.1 1.5 6.1-0.3 6.1-2 6.1-2.3 6.1-1.1 6.1 0.5 6.1 1.7 6.1 1.1 6.1-0.1 6.1-0.3 6.1 0.1 6.1-0.9 6.1-1.4 6.1 0.4 6.1 2.4 6.1 1.9 6.1-0.5 6.1-2.5 6.1-1.7 6.1 0.4 6.1 0.8 6.1 0.9 6.1 0.9 6.1 0.4 6.1 0 6.1-0.1 6.1-0.6 6.1-1.7 6.1-1.9 6.1-1.3 6.1-0.1 6.1 1.6 6.1 1.4 6.1-1.1 6.1-2.1 6.1-0.4 6.1 1.9 6.1 2.9 6.1 1.2 6.1-0.4 6.1 0.8 6.1 2.1 6.1 0.6 6.1-1.3 6.1-1.7 6.1-1.3 6.1-1.8 6.1-2.2 6.1-1.8 6.1-1.7 6.1-2.3 6.1-2.7 6.1-2.6 6.1-3.3 6.1-4.4 6.1-4.6 6.1-4.3 6.1-4.3 6.1-3.2 6.1-1.4 6.1-0.1 6.1 0.8 6.1 2.9 6.1 2.4 6.1 0.8 6.1 1.7 6.1 4.2 6.1 5.2 6.1 3.9 6.1 2.1 6.1 2.3 6.1 2.5"/><path d="M36.5 1315.2l6.1 1.6 6.1 0 6.1-1.9 6.1-1.9 6.1-1.2 6.1-0.6 6.1 0.3 6.1 0.4 6.1-0.2 6.1 0.5 6.1 0.4 6.1-2.2 6.1-3.2 6.1-0.2 6.1 1.6 6.1 0.6 6.1-0.6 6.1-0.2 6.1 0.6 6.1 0.7 6.1 1 6.1 1.7 6.1 1.3 6.1 0.8 6.1 0.8 6.1 0.8 6.1-0.4 6.1-1.4 6.1-0.9 6.1 0.4 6.1 1 6.1-0.2 6.1-1.7 6.1-0.7 6.1 0.4 6.1 0.2 6.1-0.1 6.1 0.3 6.1 0 6.1-1 6.1-1.6 6.1-1.3 6.1-0.5 6.1-0.1 6.1-1.2 6.1-2.1 6.1-1.5 6.1-0.8 6.1-1.2 6.1-2.4 6.1-3.8 6.1-4.3 6.1-4.7 6.1-4.7 6.1-3.7 6.1-3.1 6.1-4.2 6.1-5.7 6.1-5 6.1-4.3 6.1-5.1 6.1-4.9 6.1-2.4 6.1 0.8 6.1 2.3 6.1 2.9 6.1 3.3 6.1 3.6 6.1 3.3 6.1 2.7 6.1 3 6.1 3.5 6.1 2.7 6.1 1.5"/><path d="M36.5 1314.5l6.1 0.4 6.1 1.5 6.1 0.8 6.1-1 6.1-1.2 6.1 0.3 6.1 0.9 6.1 0.4 6.1-0.8 6.1-1.9 6.1-2.8 6.1-2.2 6.1 0.3 6.1 2.3 6.1 1.8 6.1-1 6.1-2.4 6.1-0.1 6.1 1.4 6.1 0.3 6.1-1 6.1-1.5 6.1-1.2 6.1 0.4 6.1 1 6.1-0.1 6.1 0.7 6.1 2.2 6.1 1.9 6.1 0.8 6.1 0.1 6.1 0.2 6.1 0.1 6.1-0.2 6.1-0.4 6.1-0.1 6.1-0.1 6.1-0.8 6.1 0 6.1 1.8 6.1 1.8 6.1-0.3 6.1-2 6.1-1.3 6.1-0.6 6.1-0.2 6.1-0.1 6.1-0.4 6.1-1 6.1-1.5 6.1-1.4 6.1 0.1 6.1-0.5 6.1-5 6.1-7.5 6.1-5.5 6.1-3 6.1-2.2 6.1-3.3 6.1-5.5 6.1-6.8 6.1-6.4 6.1-5.1 6.1-3.8 6.1-2.7 6.1-2 6.1-2.9 6.1-2.3 6.1-0.3 6.1 2.7 6.1 5 6.1 5.9 6.1 5.1 6.1 3.7"/><path d="M36.5 1309.2l6.1 2.1 6.1 1.3 6.1 0.9 6.1 0.7 6.1 0.1 6.1-0.1 6.1-0.2 6.1 0.2 6.1-0.4 6.1-1.9 6.1-1.5 6.1 0.2 6.1 1 6.1-0.4 6.1-2 6.1-0.9 6.1 1.5 6.1 1.7 6.1-0.5 6.1-2 6.1-0.6 6.1 0.4 6.1-0.4 6.1-0.4 6.1 1.2 6.1 1.8 6.1 0.1 6.1-1.2 6.1 0 6.1 1.1 6.1-0.3 6.1-1.8 6.1-1.5 6.1 0.6 6.1 1.5 6.1 0.8 6.1-0.3 6.1-0.5 6.1 0.5 6.1 1 6.1 0 6.1-0.7 6.1 0.2 6.1 1.8 6.1 1.4 6.1-0.5 6.1-1.8 6.1-2 6.1-1.3 6.1-0.4 6.1-1.1 6.1-2.2 6.1-1.9 6.1-2.2 6.1-3.6 6.1-3.4 6.1-2.3 6.1-3.4 6.1-4.4 6.1-3.3 6.1-1.9 6.1-1.6 6.1-2.1 6.1-3 6.1-2.3 6.1 0.5 6.1 2 6.1 2.3 6.1 2.2 6.1 3.4 6.1 4.5 6.1 3.3 6.1 1.6 6.1 1.6"/><path d="M36.5 1311.3l6.1 1.2 6.1 1 6.1 0.5 6.1 0.3 6.1 0.3 6.1-1.3 6.1-2.7 6.1-1.3 6.1 1.7 6.1 2.3 6.1 0 6.1-1.4 6.1-1.9 6.1-1.2 6.1 1.2 6.1 2.8 6.1 2.3 6.1-0.2 6.1-2 6.1-1.7 6.1-0.1 6.1 0.2 6.1 0 6.1 0 6.1-0.8 6.1-0.4 6.1 0.8 6.1 1 6.1 1 6.1 0.8 6.1-0.1 6.1 0.1 6.1 0.8 6.1 0.1 6.1-1.2 6.1-1.2 6.1 0.6 6.1 1.6 6.1-0.8 6.1-3.1 6.1-2 6.1 0.3 6.1 1 6.1-0.5 6.1-1 6.1-0.2 6.1-0.7 6.1-2.7 6.1-3.9 6.1-3.7 6.1-3.4 6.1-4.4 6.1-6.1 6.1-6.6 6.1-5.3 6.1-4 6.1-4.2 6.1-4.1 6.1-2.5 6.1-2 6.1-2.4 6.1-1.9 6.1 1.1 6.1 1.7 6.1 0.7 6.1 1.2 6.1 4 6.1 5.5 6.1 3.1 6.1 0.3 6.1 1 6.1 4.4 6.1 6.2 6.1 4.7"/><path d="M36.5 1309.7l6.1-1.8 6.1-0.8 6.1 0.3 6.1 1 6.1 0.9 6.1 0.2 6.1-0.8 6.1-1 6.1-0.1 6.1 1.9 6.1 4.1 6.1 4.3 6.1 1.2 6.1-1.5 6.1-1.8 6.1-1.4 6.1-2.2 6.1-1.1 6.1 1 6.1 0.9 6.1-0.5 6.1-1.1 6.1-1.1 6.1-0.5 6.1-0.1 6.1-0.9 6.1-0.6 6.1 0.7 6.1 1.5 6.1 1.8 6.1 1.1 6.1 0.2 6.1-0.7 6.1-1.6 6.1-1.5 6.1-0.5 6.1 0.3 6.1 0.2 6.1-0.3 6.1-0.3 6.1-0.6 6.1-1.3 6.1-0.7 6.1 1 6.1 1.6 6.1 0.5 6.1-1.3 6.1-3.7 6.1-4.8 6.1-2.6 6.1-1.8 6.1-3.8 6.1-4.5 6.1-3.9 6.1-3.9 6.1-3.3 6.1-3.5 6.1-5 6.1-5.2 6.1-3.5 6.1-1.6 6.1 1.2 6.1 5.4 6.1 6 6.1 5 6.1 4.6 6.1 5.3 6.1 5.4 6.1 4.5 6.1 2.8 6.1 1.4 6.1 1.4 6.1 2.4 6.1 2.7"/><path d="M36.5 1312.6l6.1-0.9 6.1-0.9 6.1-0.8 6.1-0.1 6.1 1.2 6.1 0.7 6.1-1.3 6.1-0.8 6.1 1.6 6.1 1.3 6.1-0.6 6.1-0.5 6.1 0.6 6.1 0.7 6.1-0.9 6.1-1.5 6.1 0 6.1 1.3 6.1 0.9 6.1-0.3 6.1-0.2 6.1-0.3 6.1-1.5 6.1-2 6.1-0.7 6.1 0.8 6.1 0.9 6.1 0 6.1 0.9 6.1 1.9 6.1 0.7 6.1-0.8 6.1-0.3 6.1 1 6.1 1.7 6.1-0.2 6.1-2.4 6.1-2.5 6.1-1.3 6.1-0.8 6.1 0.1 6.1 1.2 6.1 0.9 6.1-0.7 6.1-1 6.1 0.3 6.1 1.8 6.1 1.4 6.1-0.8 6.1-2.9 6.1-2.7 6.1-2.5 6.1-2.1 6.1-1.7 6.1-2.4 6.1-3.6 6.1-4.4 6.1-4.5 6.1-4.3 6.1-4.4 6.1-3.9 6.1-2.6 6.1-2.3 6.1-2.4 6.1-2.8 6.1-2.3 6.1 0.5 6.1 3.1 6.1 3.4 6.1 2.3 6.1 1.8 6.1 2.4 6.1 3.3 6.1 2.8"/></g>
<path d="M34 1327.3H492.5" stroke="#000" stroke-width="1.6"/>
<path d="M126.1 1237V1327.3" stroke="#1edc1e" stroke-width="2"/>
<path d="M407.4 1237V1327.3" stroke="#e81818" stroke-width="1.8"/>
<rect x="22.6" y="1282" width="5.6" height="30" fill="#000"/>
<path d="M373.5 1339H450M374.7 1334.2v9.5M448.8 1334.2v9.5" stroke="#1212f2" stroke-width="2.8" fill="none"/>
<rect x="393.4" y="1329.8" width="32.1" height="18.5" fill="#1212f2"/>
<g fill="none" stroke="#000" stroke-opacity="0.5" stroke-width="4.0" stroke-linejoin="round"><path d="M36.5 1540.4l6.1-1.1 6.1 1.3 6.1 1.2 6.1-1.6 6.1-3 6.1-1.3 6.1 2 6.1 3.2 6.1 0.9 6.1-0.2 6.1-0.2 6.1-1.2 6.1-1.9 6.1-3.4 6.1-3.8 6.1-1 6.1-0.4 6.1-1.8 6.1-2.7 6.1-5 6.1-8.8 6.1-8.5 6.1-3.3 6.1 0 6.1-0.2 6.1-0.3 6.1 1.7 6.1 2.1 6.1-0.6 6.1-2.5 6.1-1.3 6.1 1.2 6.1 2.8 6.1 3.1 6.1 1.7 6.1 0.6 6.1-1 6.1-1.3 6.1 0.2 6.1 0.2 6.1-1.2 6.1-0.8 6.1 1.9 6.1 2 6.1-2 6.1-4.3 6.1-2.9 6.1 2.6 6.1 8 6.1 6.9 6.1 3.1 6.1 4.4 6.1 4.9 6.1 1.2 6.1 1.1 6.1 2.5 6.1 1.3 6.1 1.7 6.1 2.7 6.1 1.6 6.1-0.3 6.1-2.3 6.1-2.9 6.1-1.8 6.1 1.3 6.1 3.7 6.1 4.1 6.1 3.6 6.1 2.6 6.1 1.8 6.1-0.1 6.1-1.2 6.1 0.3 6.1 1.7"/><path d="M36.5 1545.2l6.1-2.6 6.1-1.9 6.1 1.1 6.1 5.5 6.1 3.5 6.1-2.5 6.1-2.5 6.1 1.1 6.1 1 6.1-0.9 6.1 0.6 6.1 2.7 6.1 1.5 6.1 1.1 6.1-1.1 6.1-4.3 6.1-1.6 6.1 2.5 6.1-0.5 6.1-5.7 6.1-6.6 6.1-5.6 6.1-5.8 6.1-7.8 6.1-9.1 6.1-5.1 6.1-0.6 6.1-1.8 6.1-4.2 6.1-2.5 6.1 1.5 6.1 2.8 6.1-0.1 6.1-3.5 6.1-2.9 6.1 1.2 6.1 2.8 6.1 0 6.1-2.8 6.1-1.2 6.1 0.8 6.1-2.6 6.1-6 6.1-4.3 6.1-0.1 6.1 3.8 6.1 7.3 6.1 7.5 6.1 3.4 6.1-0.7 6.1-0.7 6.1 1.4 6.1 3 6.1 6.5 6.1 8.9 6.1 3.2 6.1-0.2 6.1 5.5 6.1 8.5 6.1 3.4 6.1-1.8 6.1-0.9 6.1 3.1 6.1 4 6.1 1.1 6.1-0.4 6.1 0.8 6.1 0 6.1-3.1 6.1-1.7 6.1 0.1 6.1-2.7 6.1-2.9 6.1 1.6"/><path d="M36.5 1548.6l6.1 3 6.1-1.1 6.1-2.7 6.1-0.8 6.1 0.8 6.1-0.2 6.1-1 6.1-0.5 6.1-0.3 6.1-0.1 6.1-0.5 6.1-2.9 6.1-3.3 6.1 0.3 6.1 0.6 6.1-2.8 6.1-3.9 6.1-3.4 6.1-1.5 6.1 1.1 6.1 0.7 6.1-3.7 6.1-7.1 6.1-6.5 6.1-4.9 6.1-4.1 6.1-3.1 6.1-2 6.1-0.9 6.1 1.3 6.1 2.5 6.1 0.6 6.1-1.4 6.1-1.9 6.1 0.2 6.1 1.5 6.1-1.7 6.1-3.5 6.1-0.5 6.1 2.1 6.1 1.8 6.1 2.6 6.1 4 6.1 3.2 6.1 1.8 6.1 2.8 6.1 4.7 6.1 5.6 6.1 5.5 6.1 2.6 6.1 0 6.1 1.2 6.1 1 6.1-1.2 6.1-1.7 6.1-0.3 6.1 1.8 6.1 3.6 6.1 2 6.1 0.1 6.1 1.1 6.1 2.7 6.1 3.3 6.1 0.6 6.1-2.8 6.1-3.4 6.1-1.2 6.1 2 6.1 1.3 6.1-0.7 6.1-1 6.1 0.7 6.1 3.2 6.1 2.7"/><path d="M36.5 1532.8l6.1 2.1 6.1 3.1 6.1 1.2 6.1-0.6 6.1-1.4 6.1-0.3 6.1 1.8 6.1 2.7 6.1 2.6 6.1 2.8 6.1 0.6 6.1-3.3 6.1-2.3 6.1 0.7 6.1 0.7 6.1-1.6 6.1-3.4 6.1-3.5 6.1-3.8 6.1-6.4 6.1-7.8 6.1-7.1 6.1-3.9 6.1-1 6.1-2.2 6.1-3.5 6.1-3.2 6.1-5.6 6.1-7 6.1-1.9 6.1 4.3 6.1 4.4 6.1 0 6.1-2 6.1-2.4 6.1-2.5 6.1 0.2 6.1 3.2 6.1 4.9 6.1 4.5 6.1 0.9 6.1-3.5 6.1-4.5 6.1-1.7 6.1 0 6.1-0.4 6.1-1.3 6.1-0.5 6.1 2.6 6.1 4.5 6.1 4.1 6.1 4.9 6.1 5.5 6.1 3.7 6.1 3.6 6.1 4.7 6.1 5.4 6.1 7.1 6.1 10 6.1 8.7 6.1 2.3 6.1-0.5 6.1 0.7 6.1-0.8 6.1-2.7 6.1-2.4 6.1-2.3 6.1-0.6 6.1 1.4 6.1-0.4 6.1-1.1 6.1 2.4 6.1 3.9 6.1 0.4"/><path d="M36.5 1545.1l6.1 5.9 6.1 4.8 6.1 0 6.1-3.5 6.1-2.9 6.1 0.7 6.1 5.4 6.1 4.7 6.1-2.5 6.1-6.7 6.1-3.1 6.1 1.1 6.1 1.1 6.1 0.5 6.1 1.4 6.1-0.1 6.1-2.4 6.1-1.4 6.1 0.2 6.1-2.2 6.1-5.9 6.1-8.4 6.1-9.5 6.1-8.6 6.1-4.6 6.1-1.2 6.1-1.2 6.1-2.6 6.1-2.2 6.1-1.6 6.1-1.8 6.1-1.2 6.1 0.7 6.1 2.2 6.1 2.8 6.1 3.7 6.1 2.5 6.1-1.2 6.1-2 6.1-0.2 6.1-1.2 6.1-3.9 6.1-2.7 6.1 1.9 6.1 5.2 6.1 4 6.1-0.5 6.1-0.9 6.1 4.1 6.1 7.6 6.1 7.9 6.1 7.7 6.1 5.2 6.1 2.5 6.1 2.7 6.1 2.5 6.1 0.1 6.1-0.8 6.1 0.5 6.1-0.3 6.1-1.8 6.1-0.9 6.1 0.3 6.1 0 6.1 1 6.1 4 6.1 4 6.1 0.2 6.1-1.8 6.1 0.8 6.1 3.3 6.1 2.3 6.1-0.7 6.1-1.9"/><path d="M36.5 1547.6l6.1 1.7 6.1 2.2 6.1 4.2 6.1 4.7 6.1 1.3 6.1-3.3 6.1-5.2 6.1-5 6.1-3.1 6.1-0.8 6.1 0.8 6.1 1.1 6.1 1.9 6.1 3.1 6.1 2.6 6.1 1.3 6.1 0 6.1-1.4 6.1-1.2 6.1-0.8 6.1-3.6 6.1-8.7 6.1-11.5 6.1-9 6.1-5.6 6.1-4.2 6.1-1.2 6.1 0.7 6.1 0.2 6.1 0.2 6.1 0.6 6.1-0.1 6.1-0.6 6.1-0.7 6.1-3.6 6.1-5.9 6.1-3.1 6.1 1.2 6.1 1.4 6.1 0 6.1 0.7 6.1 3 6.1 3.8 6.1 1 6.1-1.4 6.1-2 6.1 0.1 6.1 4.4 6.1 6.2 6.1 5.6 6.1 5.2 6.1 5.6 6.1 6.4 6.1 6.1 6.1 3.2 6.1 1.4 6.1 3.3 6.1 4.5 6.1 1.5 6.1-1 6.1-2.2 6.1-4.8 6.1-6.6 6.1-3.2 6.1 3 6.1 6.7 6.1 6.1 6.1 1.5 6.1-1.9 6.1-0.8 6.1-0.7 6.1-3 6.1-2.3 6.1 0.4"/><path d="M36.5 1537.1l6.1 2.9 6.1 2.8 6.1 1 6.1 0 6.1 0.9 6.1 0.6 6.1-1.6 6.1-2 6.1-0.5 6.1-0.3 6.1-0.3 6.1-0.1 6.1 1.3 6.1 3.5 6.1 1.2 6.1-3.7 6.1-4.3 6.1-3.1 6.1-2.8 6.1-3.5 6.1-5.6 6.1-7.6 6.1-6.7 6.1-3.8 6.1-2.8 6.1-2 6.1-0.7 6.1-1.3 6.1-1.5 6.1-1.5 6.1-3.1 6.1-1.3 6.1 2.7 6.1 3 6.1 0.5 6.1-1.6 6.1-1 6.1 0.4 6.1-0.3 6.1-0.7 6.1 1.9 6.1 4.6 6.1 4.4 6.1 3.8 6.1 2.3 6.1-0.3 6.1 0.3 6.1 2.9 6.1 2.8 6.1 1.1 6.1 3.2 6.1 5 6.1 2.6 6.1 0.3 6.1-0.4 6.1-1.1 6.1 1.1 6.1 4.3 6.1 3.4 6.1 0.1 6.1 0 6.1 4.3 6.1 7.3 6.1 4.6 6.1 0.3 6.1-1.5 6.1-2.5 6.1-3.6 6.1-3 6.1-1.5 6.1 0.1 6.1-0.9 6.1-3 6.1 0.6"/><path d="M36.5 1556.6l6.1-0.5 6.1 1.2 6.1-0.7 6.1-1.7 6.1-0.3 6.1-0.1 6.1-1.5 6.1 0.2 6.1 2.9 6.1 1.7 6.1-1.4 6.1-2.2 6.1-0.4 6.1 1.1 6.1 1.4 6.1 0.9 6.1 1.8 6.1 0.5 6.1-4.3 6.1-8.6 6.1-9.2 6.1-8.1 6.1-6 6.1-2.4 6.1-0.4 6.1-1 6.1-0.9 6.1 1.6 6.1 1.4 6.1-2.6 6.1-5.3 6.1-6.7 6.1-5.4 6.1-0.6 6.1 2.4 6.1 2.7 6.1 1.8 6.1-0.2 6.1-0.7 6.1 0.5 6.1 1 6.1 0.7 6.1 2.2 6.1 2.6 6.1 0.2 6.1-1.5 6.1 0.4 6.1 2.9 6.1 1.6 6.1-2.5 6.1-5.4 6.1-2.8 6.1 4.6 6.1 7.2 6.1 1.9 6.1-2 6.1-0.5 6.1 2.1 6.1 3.5 6.1 3.9 6.1 4.1 6.1 5.5 6.1 5.2 6.1 3.9 6.1 3.8 6.1 1.3 6.1-2.7 6.1-4.1 6.1-2.1 6.1 2.1 6.1 4.2 6.1 3.8 6.1 4.1 6.1 2.5"/><path d="M36.5 1546l6.1 2.6 6.1 1.6 6.1-0.6 6.1-1.5 6.1-2.4 6.1-1.3 6.1 1.8 6.1 2 6.1-1 6.1-4.4 6.1-4.6 6.1-2.2 6.1-0.2 6.1 2.3 6.1 4.6 6.1 2.7 6.1-1.4 6.1-1.8 6.1-0.2 6.1-0.1 6.1-1.3 6.1-3 6.1-6.2 6.1-10 6.1-11.5 6.1-7 6.1 1.1 6.1 3.2 6.1-1.6 6.1-3.3 6.1 0.6 6.1 3.9 6.1 1.4 6.1-3.1 6.1-3.7 6.1-1.6 6.1 0.2 6.1 0 6.1-0.4 6.1-1.2 6.1-0.3 6.1 1.1 6.1 1.5 6.1 2.8 6.1 5.1 6.1 7.9 6.1 9.3 6.1 7.9 6.1 5.1 6.1 2 6.1 0.3 6.1-0.5 6.1-1.1 6.1-0.4 6.1 0.2 6.1 0.7 6.1 3.1 6.1 5.2 6.1 3.6 6.1 1.9 6.1 2.2 6.1 2.4 6.1 0.6 6.1-3.4 6.1-3.6 6.1 1.5 6.1 2.8 6.1 0.4 6.1 1.5 6.1 2.3 6.1-1 6.1-3.2 6.1-2.3 6.1-1.7"/><path d="M36.5 1551.2l6.1 4.6 6.1 1 6.1-4.5 6.1-3.8 6.1 0.1 6.1 0.7 6.1-0.4 6.1 0.8 6.1 1.6 6.1-1.6 6.1-3.2 6.1 0.1 6.1 2.3 6.1 0.1 6.1-3.2 6.1-4.8 6.1-4.1 6.1-1.8 6.1-0.3 6.1-0.7 6.1-3.2 6.1-5.5 6.1-4.9 6.1-2.7 6.1-2.7 6.1-5 6.1-6.3 6.1-3.9 6.1-2.1 6.1-2.1 6.1-0.6 6.1-0.1 6.1-2.4 6.1-3.5 6.1-2.5 6.1-2.4 6.1 0.6 6.1 5.4 6.1 5.3 6.1 3.2 6.1 2.8 6.1 0.5 6.1-3.4 6.1-3.8 6.1 1.5 6.1 5 6.1 2.3 6.1-0.7 6.1 1 6.1 3.6 6.1 4.1 6.1 3.4 6.1 3.1 6.1 5.6 6.1 8 6.1 5.3 6.1-0.3 6.1-2.7 6.1 0.5 6.1 5 6.1 4.7 6.1 1.5 6.1-0.2 6.1 1.3 6.1 1.8 6.1 0.4 6.1-0.3 6.1-0.3 6.1-0.3 6.1 0.6 6.1 1.2 6.1 1.6 6.1 1 6.1-0.7"/><path d="M36.5 1550l6.1-6.3 6.1-2.8 6.1 3.4 6.1 3.1 6.1-0.4 6.1 1 6.1 3.2 6.1 1.6 6.1-0.8 6.1-1.9 6.1-0.5 6.1 1.1 6.1 1.1 6.1-0.1 6.1-3 6.1-6 6.1-3.1 6.1 2.4 6.1 2.2 6.1-1.5 6.1-4.1 6.1-7.8 6.1-9.5 6.1-8.1 6.1-6 6.1-1.9 6.1 1 6.1 0.7 6.1 1.2 6.1 1.9 6.1 0.9 6.1-0.9 6.1-1.6 6.1-0.9 6.1-0.2 6.1 0.4 6.1 0.5 6.1-0.5 6.1-1.8 6.1-1.6 6.1-0.2 6.1 1 6.1 4.7 6.1 6.1 6.1 2.5 6.1-1.9 6.1-3.5 6.1-2.4 6.1 1.6 6.1 4.7 6.1 3.5 6.1 3.6 6.1 3.8 6.1 0.5 6.1-0.1 6.1 3.6 6.1 4.7 6.1 3 6.1 3.4 6.1 3.7 6.1 1.2 6.1-0.6 6.1 0.1 6.1 1.3 6.1 1.4 6.1 0 6.1-1 6.1 0.1 6.1 1 6.1 0.8 6.1 0.6 6.1 1.4 6.1 0.9 6.1-2.6"/><path d="M36.5 1551.8l6.1-2.1 6.1 0.5 6.1 5.5 6.1 5.8 6.1 1.8 6.1 0.3 6.1 0.4 6.1-0.8 6.1-2.2 6.1-3.7 6.1-2.7 6.1-0.7 6.1 0.4 6.1 0.1 6.1-1.2 6.1 0.1 6.1 0.5 6.1-2.5 6.1-3.7 6.1-2.8 6.1-5.3 6.1-8.8 6.1-8.6 6.1-6.5 6.1-3.3 6.1-1 6.1-0.4 6.1-0.9 6.1-0.8 6.1 0 6.1-0.8 6.1-2.4 6.1-3.8 6.1-3 6.1 0.8 6.1 2.2 6.1-0.3 6.1-3.4 6.1-4.1 6.1-2.6 6.1-0.3 6.1 0.7 6.1 0.9 6.1 2.9 6.1 4.6 6.1 4 6.1 3.7 6.1 2.3 6.1-0.2 6.1-1.3 6.1-0.4 6.1 3.4 6.1 5.6 6.1 3.4 6.1 0.9 6.1 1.6 6.1 3.4 6.1 3.8 6.1 5.3 6.1 8.9 6.1 6.1 6.1-1.2 6.1-0.6 6.1 6.3 6.1 8.7 6.1 4.2 6.1-1.8 6.1-4.5 6.1-4.1 6.1-2.7 6.1 0.1 6.1 1.6 6.1-0.2 6.1-2.5"/><path d="M36.5 1546.3l6.1-6 6.1-5 6.1 0.7 6.1 4.1 6.1 2.2 6.1-0.6 6.1-2.1 6.1-3.2 6.1-3.8 6.1-3.4 6.1-2.7 6.1-1.4 6.1 0.8 6.1 3.3 6.1 2.2 6.1 1.1 6.1 3.8 6.1 2.7 6.1-2.6 6.1-2.7 6.1-0.3 6.1-2.7 6.1-5.7 6.1-4.6 6.1-1.8 6.1-0.4 6.1-2.3 6.1-5.8 6.1-6.7 6.1-3.8 6.1-2.4 6.1-2.8 6.1 0.1 6.1 5.3 6.1 6.5 6.1 4.6 6.1 2.2 6.1-0.6 6.1-1.1 6.1-1 6.1-2.3 6.1-0.7 6.1 2.3 6.1 1.2 6.1-1.2 6.1-0.6 6.1 2.6 6.1 7.6 6.1 10.4 6.1 7.8 6.1 4.4 6.1 3.2 6.1 2 6.1-0.9 6.1-3.2 6.1-4.2 6.1-1.7 6.1 4.5 6.1 6.8 6.1 2.4 6.1-0.2 6.1-1.2 6.1-2.5 6.1-1.5 6.1-1.1 6.1-0.8 6.1 0.8 6.1 2.3 6.1 2.7 6.1 0.4 6.1-0.7 6.1-0.4 6.1-0.2 6.1-2.6"/><path d="M36.5 1551l6.1-4 6.1-1.4 6.1 3.2 6.1 3.3 6.1-0.2 6.1-1.1 6.1-0.4 6.1 0.4 6.1 1.2 6.1 2.2 6.1 1.1 6.1-0.9 6.1-2.1 6.1-3.1 6.1-2.1 6.1 0.6 6.1 1.6 6.1-1.1 6.1-4.2 6.1-4.8 6.1-4.3 6.1-5.2 6.1-6.4 6.1-4.9 6.1-1.2 6.1-1.9 6.1-7.1 6.1-8.3 6.1-4.7 6.1-3.5 6.1-1.5 6.1 2.5 6.1 2.2 6.1-1.1 6.1-2 6.1 1.3 6.1 3.2 6.1 2.1 6.1 0.5 6.1-2.6 6.1-5.8 6.1-4.6 6.1 0.3 6.1 3.1 6.1 2.4 6.1 6.5 6.1 12.2 6.1 8.6 6.1 1.1 6.1 0 6.1 5.2 6.1 8.6 6.1 7.8 6.1 6 6.1 3.7 6.1 1.1 6.1-1.4 6.1-3.5 6.1-3.7 6.1-4.1 6.1-3.6 6.1-0.5 6.1 2.1 6.1 2.3 6.1 0.8 6.1-0.1 6.1 1.5 6.1 2.3 6.1 0.8 6.1-0.4 6.1-2.2 6.1-4.3 6.1-0.3 6.1 5.6"/><path d="M36.5 1550.9l6.1-3.3 6.1 0.6 6.1 4 6.1 2.7 6.1-0.8 6.1-2.3 6.1-0.5 6.1 0.8 6.1 0.1 6.1-1.7 6.1-2.1 6.1 0.4 6.1 3.6 6.1 3.1 6.1 0.4 6.1-1.9 6.1-3.5 6.1-4.5 6.1-6.4 6.1-7 6.1-4.4 6.1-3.1 6.1-4 6.1-4.5 6.1-2.7 6.1 0 6.1-1.6 6.1-4.3 6.1-2.5 6.1 0.6 6.1-0.2 6.1-4 6.1-3.5 6.1 3.2 6.1 4.3 6.1-2.1 6.1-4 6.1 0.1 6.1 1.5 6.1-0.9 6.1-1.1 6.1 1.9 6.1 2.5 6.1 0.4 6.1 0.3 6.1 1.6 6.1 2 6.1 2.7 6.1 3.1 6.1 3.5 6.1 4.7 6.1 5.5 6.1 4.8 6.1 4.9 6.1 4.7 6.1 0.8 6.1-1.7 6.1 1.1 6.1 3.8 6.1 3.3 6.1 1.2 6.1 0.4 6.1 1.8 6.1 2.5 6.1 0.6 6.1-0.2 6.1 0.8 6.1 0.4 6.1-1.7 6.1-1.5 6.1 1.3 6.1 4.4 6.1 5.6 6.1 3.8"/><path d="M36.5 1559.4l6.1-1.2 6.1-5.8 6.1-6.3 6.1 1 6.1 5.5 6.1 3.7 6.1-0.1 6.1-3.1 6.1-4.7 6.1-4.5 6.1-0.7 6.1 6.3 6.1 9.6 6.1 5.4 6.1-0.8 6.1-4.7 6.1-3.6 6.1 0.6 6.1 1.4 6.1-2.4 6.1-7.7 6.1-13.9 6.1-15.8 6.1-11.7 6.1-5.2 6.1-0.3 6.1 0.6 6.1 0 6.1 0.1 6.1-1.5 6.1-4.6 6.1-2.6 6.1 3.2 6.1 5.1 6.1 3 6.1 1.4 6.1 0.8 6.1 0.9 6.1 1 6.1 1.6 6.1-1.3 6.1-5.7 6.1-2.5 6.1 2.8 6.1 3.9 6.1 4.2 6.1 5.6 6.1 7.5 6.1 6.7 6.1 2.6 6.1-0.1 6.1 0.5 6.1 4.8 6.1 9.3 6.1 8 6.1 2.7 6.1-1.6 6.1-4.1 6.1-3.7 6.1-1.8 6.1 0.4 6.1 2.9 6.1 4.3 6.1 1.6 6.1-1.3 6.1-2.8 6.1-1.5 6.1 1.9 6.1 1.5 6.1-0.7 6.1 0.5 6.1 3.3 6.1 3.2 6.1-0.4"/><path d="M36.5 1548.1l6.1 5.2 6.1-2.1 6.1-4.6 6.1-0.8 6.1 1.2 6.1 1.9 6.1 3.1 6.1 2.6 6.1-0.9 6.1-3 6.1 0 6.1 2.6 6.1-1.3 6.1-6.1 6.1-6.2 6.1-4.3 6.1-3 6.1-1.8 6.1-1.7 6.1-3.1 6.1-5.9 6.1-9.6 6.1-11.9 6.1-10.7 6.1-6 6.1-1.1 6.1 0.4 6.1 1.3 6.1 3.9 6.1 4.3 6.1 2 6.1 1.2 6.1 1 6.1-1.8 6.1-4.3 6.1-1.7 6.1 1.5 6.1 2.5 6.1 3.1 6.1 1.6 6.1 1 6.1 1.8 6.1 2.1 6.1 4.9 6.1 8.7 6.1 10.4 6.1 7.4 6.1 1.8 6.1 1.4 6.1 5.1 6.1 5.1 6.1 3.3 6.1 1.5 6.1-1.1 6.1-2.4 6.1-2.5 6.1-2.9 6.1-3.4 6.1-2.7 6.1 1.1 6.1 4 6.1 3.1 6.1 1.1 6.1 0.1 6.1-0.3 6.1-2.4 6.1-3.7 6.1-1.4 6.1 2.4 6.1 4.9 6.1 5.4 6.1 4.5 6.1 0 6.1-4.1"/><path d="M36.5 1543.9l6.1-0.4 6.1-1.2 6.1-1.6 6.1 0.5 6.1 4.2 6.1 4.6 6.1 1.5 6.1-2.8 6.1-4.8 6.1-3.2 6.1 1.2 6.1 2.9 6.1-0.3 6.1-2 6.1-0.2 6.1-0.3 6.1-2.9 6.1-3.7 6.1-3 6.1-2.8 6.1-2.3 6.1-2.1 6.1-4.1 6.1-6.9 6.1-9.1 6.1-8.4 6.1-5.9 6.1-4.1 6.1-2.1 6.1 1.1 6.1 2.7 6.1 2 6.1 0.3 6.1 0.3 6.1 3.1 6.1 4.2 6.1 1.2 6.1-4.1 6.1-5.6 6.1-1.4 6.1 2.6 6.1 2.8 6.1 0.9 6.1-2.5 6.1-5.9 6.1-7.4 6.1-3.2 6.1 4.5 6.1 5.9 6.1 2.9 6.1 3.3 6.1 5 6.1 4 6.1 3.4 6.1 3.4 6.1 1.9 6.1 2.3 6.1 6.3 6.1 9.1 6.1 7 6.1 4.1 6.1 3.2 6.1 3.7 6.1 3.1 6.1 0.6 6.1-1 6.1-0.2 6.1 2.3 6.1 1.7 6.1-1 6.1-1.4 6.1-0.2 6.1 0.2 6.1-1.9"/><path d="M36.5 1537.7l6.1 0.2 6.1 0.2 6.1 1.5 6.1 2.4 6.1 3.8 6.1 1.7 6.1-4 6.1-5.6 6.1 0.8 6.1 7.2 6.1 4.9 6.1-2.4 6.1-8 6.1-9.3 6.1-4.8 6.1 3.4 6.1 6.3 6.1-0.1 6.1-5.6 6.1-5.3 6.1-4.7 6.1-6.2 6.1-6.7 6.1-5.1 6.1-5.3 6.1-7.1 6.1-6.9 6.1-4.7 6.1-3.9 6.1-1.5 6.1 2.5 6.1 1.1 6.1-3.4 6.1-2.9 6.1 0.8 6.1 1.7 6.1-0.4 6.1 1.5 6.1 3.9 6.1-0.9 6.1-5.6 6.1-4.1 6.1 2.8 6.1 7.2 6.1 5.5 6.1 4.1 6.1 4 6.1 1.9 6.1-0.8 6.1 0.3 6.1 3.8 6.1 6.5 6.1 7.2 6.1 2.1 6.1-2 6.1 1.3 6.1 5.7 6.1 4.4 6.1-1.6 6.1-4.6 6.1 0.4 6.1 6.5 6.1 8.3 6.1 7.4 6.1 5.1 6.1 2.6 6.1 0.7 6.1 0.3 6.1 1.5 6.1 0.7 6.1-2.2 6.1-4 6.1-1.7 6.1 1.2"/><path d="M36.5 1545.6l6.1 6.1 6.1 0.8 6.1-2 6.1-2.6 6.1-4.1 6.1-3.8 6.1-0.2 6.1 3.7 6.1 5.1 6.1 3.9 6.1 0.6 6.1-1.3 6.1 0 6.1 1.2 6.1 1.2 6.1-0.5 6.1-5.1 6.1-5.5 6.1-3.3 6.1-6.4 6.1-11.2 6.1-10.8 6.1-7.2 6.1-4.4 6.1-3 6.1-2.1 6.1-3.3 6.1-5.1 6.1-5.9 6.1-2.8 6.1 3 6.1 4.6 6.1 4.1 6.1 3 6.1 0.2 6.1-0.5 6.1 0.3 6.1 1.1 6.1 0.5 6.1-1.8 6.1-2.3 6.1-1.7 6.1-0.3 6.1 1.1 6.1 0.1 6.1 0 6.1 1.8 6.1 3.1 6.1 3.4 6.1 2.7 6.1 4 6.1 6.1 6.1 5.8 6.1 4.3 6.1 6.7 6.1 11.3 6.1 9.4 6.1 3.4 6.1 1.1 6.1 1.2 6.1 0.1 6.1-1.7 6.1-4 6.1-3.8 6.1 0.6 6.1 3 6.1 0.7 6.1-3.1 6.1-4.3 6.1-1.8 6.1 0.8 6.1 2.5 6.1 2.9 6.1 2"/><path d="M36.5 1551l6.1-0.5 6.1 2 6.1 2.6 6.1 0 6.1-3.8 6.1-5.6 6.1-2.2 6.1 3.5 6.1 2.5 6.1-3.4 6.1-6.7 6.1-5 6.1-1.4 6.1-0.3 6.1-0.3 6.1 1.8 6.1 3.6 6.1 5.5 6.1 6 6.1 2.4 6.1-2.2 6.1-3.9 6.1-6.7 6.1-9 6.1-7.2 6.1-6.3 6.1-5.5 6.1-0.7 6.1 2.9 6.1 2.4 6.1-0.2 6.1-2.5 6.1-3.5 6.1-2.6 6.1-1.5 6.1-0.7 6.1 0.4 6.1 0.4 6.1-1.2 6.1-1.9 6.1-0.9 6.1-1.7 6.1-2 6.1-0.2 6.1 0.1 6.1 0.1 6.1 2.2 6.1 6.4 6.1 7.6 6.1 4.8 6.1 1.5 6.1-0.2 6.1 2 6.1 5.8 6.1 7 6.1 5.8 6.1 4.4 6.1 3.5 6.1 2.1 6.1-1.4 6.1-3.9 6.1-3 6.1-1.5 6.1 0.5 6.1 4 6.1 4.7 6.1 0.7 6.1-2.3 6.1-0.1 6.1 1.8 6.1-1.6 6.1-5.6 6.1-2.3 6.1 3.9"/><path d="M36.5 1552.3l6.1 5.5 6.1 2.2 6.1-1.8 6.1-3.6 6.1-1.4 6.1 1.8 6.1 0.4 6.1-4 6.1-4.5 6.1-0.6 6.1 1.3 6.1-1.8 6.1-4.2 6.1-1.6 6.1 1.2 6.1 0.7 6.1 0.8 6.1-0.2 6.1-4.9 6.1-9.4 6.1-11.1 6.1-9.6 6.1-6.4 6.1-5 6.1-4.5 6.1-3.2 6.1-0.4 6.1 1.6 6.1 0.3 6.1-2 6.1-0.3 6.1 2.4 6.1 1.7 6.1-0.8 6.1-3.3 6.1-3.7 6.1-0.6 6.1 2.5 6.1 3.1 6.1 0.5 6.1-0.5 6.1 1.9 6.1 7.3 6.1 11.7 6.1 8 6.1 0.8 6.1 1.4 6.1 6 6.1 7.5 6.1 5.8 6.1 3.7 6.1 3.4 6.1 3.7 6.1 4.2 6.1 4 6.1 0.3 6.1-5.2 6.1-7.2 6.1-3.8 6.1 4.2 6.1 9.8 6.1 7.1 6.1 1 6.1-2.4 6.1-2 6.1-0.7 6.1-0.5 6.1-2.5 6.1-4.2 6.1-3.7 6.1-1.7 6.1 2.2 6.1 6.3 6.1 6.2"/></g>
<path d="M34 1569.4H492.5" stroke="#000" stroke-width="1.6"/>
<path d="M126.1 1479.8V1569.4" stroke="#1edc1e" stroke-width="2"/>
<path d="M360.7 1479.8V1569.4" stroke="#e81818" stroke-width="1.8"/>
<rect x="22.6" y="1519.3" width="5.6" height="35.7" fill="#000"/>
<path d="M313.3 1581.4H388.6M314.5 1576.7v9.5M387.4 1576.7v9.5" stroke="#1212f2" stroke-width="2.8" fill="none"/>
<rect x="336.2" y="1572.2" width="36.5" height="18.5" fill="#1212f2"/>
<rect x="125.4" y="1334.8" width="183.3" height="5.8" fill="#000"/>
<text x="217.6" y="1365" font-size="28.6" font-weight="normal" fill="#000" text-anchor="middle" >1 Sec</text>
<g filter="url(#spg)" fill="none"><path d="M129.6 1432V1451M138.3 1432V1451M147.1 1432V1451M155.8 1432V1451M164.5 1432V1451M173.3 1432V1451M182 1432V1451M190.7 1432V1451M199.5 1432V1451M208.2 1432V1451M216.9 1432V1451M225.7 1432V1451M234.4 1432V1451M243.1 1432V1451M251.9 1432V1451M260.6 1432V1451M269.3 1432V1451M278.1 1432V1451M286.8 1432V1451M295.5 1432V1451M304.3 1432V1451M313 1432V1451M321.7 1432V1451M330.5 1432V1451M339.2 1432V1451M347.9 1432V1451M356.7 1432V1451M365.4 1432V1451M374.1 1432V1451M382.9 1432V1451M391.6 1432V1451" stroke="#c9c5bb" stroke-width="2.6"/><path d="M132 1413.5L131.4 1430M140.7 1412.7L140.1 1430M149.5 1413.4L148.9 1430M158.2 1412.6L157.6 1430M166.9 1411.6L166.3 1430M175.7 1412.1L175.1 1430M184.4 1412.4L183.8 1430M193.1 1413.4L192.5 1430M201.9 1411.8L201.3 1430M210.6 1413.6L210 1430M219.3 1412.5L218.7 1430M228.1 1413.3L227.5 1430M236.8 1412L236.2 1430M245.5 1412.8L244.9 1430M254.3 1411.4L253.7 1430M263 1412.1L262.4 1430M271.7 1410.9L271.1 1430M280.5 1410.4L279.9 1430M289.2 1410.2L288.6 1430M297.9 1412.8L297.3 1430M306.7 1411.8L306.1 1430M315.4 1413.6L314.8 1430M324.1 1413.3L323.5 1430M332.9 1411.5L332.3 1430M341.6 1413.9L341 1430M350.3 1412.4L349.7 1430M359.1 1413.1L358.5 1430M367.8 1411.6L367.2 1430M376.5 1410.8L375.9 1430M385.3 1410.7L384.7 1430M394 1410.7L393.4 1430" stroke="#a09a90" stroke-opacity="0.6" stroke-width="1.2" stroke-dasharray="2 3 4 3"/><path d="M128.6 1450.5h3.2M128.9 1432.5h2.5M137.3 1450.5h3.2M137.6 1432.5h2.5M146.1 1450.5h3.2M146.4 1432.5h2.5M154.8 1450.5h3.2M155.1 1432.5h2.5M163.5 1450.5h3.2M163.8 1432.5h2.5M172.3 1450.5h3.2M172.6 1432.5h2.5M181 1450.5h3.2M181.3 1432.5h2.5M189.7 1450.5h3.2M190 1432.5h2.5M198.5 1450.5h3.2M198.8 1432.5h2.5M207.2 1450.5h3.2M207.5 1432.5h2.5M215.9 1450.5h3.2M216.2 1432.5h2.5M224.7 1450.5h3.2M225 1432.5h2.5M233.4 1450.5h3.2M233.7 1432.5h2.5M242.1 1450.5h3.2M242.4 1432.5h2.5M250.9 1450.5h3.2M251.2 1432.5h2.5M259.6 1450.5h3.2M259.9 1432.5h2.5M268.3 1450.5h3.2M268.6 1432.5h2.5M277.1 1450.5h3.2M277.4 1432.5h2.5M285.8 1450.5h3.2M286.1 1432.5h2.5M294.5 1450.5h3.2M294.8 1432.5h2.5M303.3 1450.5h3.2M303.6 1432.5h2.5M312 1450.5h3.2M312.3 1432.5h2.5M320.7 1450.5h3.2M321 1432.5h2.5M329.5 1450.5h3.2M329.8 1432.5h2.5M338.2 1450.5h3.2M338.5 1432.5h2.5M346.9 1450.5h3.2M347.2 1432.5h2.5M355.7 1450.5h3.2M356 1432.5h2.5M364.4 1450.5h3.2M364.7 1432.5h2.5M373.1 1450.5h3.2M373.4 1432.5h2.5M381.9 1450.5h3.2M382.2 1432.5h2.5M390.6 1450.5h3.2M390.9 1432.5h2.5" stroke="#4a4036" stroke-width="1.6"/><path d="M131.4 1429V1458M140.1 1429.1V1458M148.9 1430.1V1458M157.6 1428.7V1458M166.3 1429.7V1458M175.1 1430V1458M183.8 1428.9V1458M192.5 1428.6V1458M201.3 1429V1458M210 1429.8V1458M218.7 1429.6V1458M227.5 1428.8V1458M236.2 1429.4V1458M244.9 1429.8V1458M253.7 1429.3V1458M262.4 1429.8V1458M271.1 1430.4V1458M279.9 1429.9V1458M288.6 1429.3V1458M297.3 1428.9V1458M306.1 1429.2V1458M314.8 1429.5V1458M323.5 1430.3V1458M332.3 1430.1V1458M341 1429.1V1458M349.7 1430.3V1458M358.5 1429.4V1458M367.2 1429.9V1458M375.9 1428.7V1458M384.7 1428.7V1458M393.4 1428.9V1458" stroke="#3a3028" stroke-width="1.6"/></g>
<path d="M122.6 1460.6H402" stroke="#222" stroke-width="1.7"/>
<text x="623.6" y="961.7" font-size="28.6" font-weight="normal" fill="#000" text-anchor="middle" >Ramping activity</text>
<path d="M518.5 965H729" stroke="#000" stroke-width="1.5"/>
<text x="668" y="1020" font-size="28.6" font-weight="normal" fill="#666" text-anchor="start" >Bursts</text>
<text x="669.5" y="1052.8" font-size="27.6" fill="#1e6ee1">Δf/f<tspan font-size="17.5" dy="9">0</tspan></text>
<path d="M540.3 1087.1v-67.8h7.9v67.8zM552.9 1087.1v-60.8h7.9v60.8zM565.4 1087.1v-53.8h7.9v53.8zM578 1087.1v-46.9h7.9v46.9zM590.6 1087.1v-39.9h7.9v39.9zM603.1 1087.1v-32.9h7.9v32.9zM615.7 1087.1v-25.9h7.9v25.9zM628.3 1087.1v-19h7.9v19zM640.9 1087.1v-12h7.9v12zM653.4 1087.1v-5h7.9v5z" fill="#5c5c5c"/>
<polyline points="496.4,1087.1 540.1,1087.1 543.6,1068.4 547.6,1050.8 549.1,1045.6 551.4,1039.2 553.6,1032.1 554.9,1028.9 557.6,1024.1 560.6,1017.8 561.6,1016.6 563.9,1014.5 566.9,1010.4 567.9,1009.8 570.1,1009.1 573.1,1006.5 574.1,1006.3 575.6,1006.6 576.4,1006.6 577.1,1006.4 578.9,1005.3 579.6,1005.2 580.4,1005.3 582.6,1006.3 583.4,1006.3 585.1,1005.8 585.9,1005.8 586.6,1006.1 588.9,1007.7 589.6,1007.8 591.4,1007.6 592.1,1007.8 595.4,1010.3 596.1,1010.4 597.6,1010.5 598.6,1010.9 601.6,1013.6 602.4,1013.9 603.9,1014.1 604.6,1014.4 605.4,1015 607.4,1017.2 608.1,1017.7 610.1,1018.2 610.9,1018.6 611.6,1019.2 614.1,1022 614.9,1022.4 616.6,1022.9 617.4,1023.4 620.4,1026.7 621.1,1027.2 622.9,1027.8 623.6,1028.2 626.1,1031.2 626.9,1031.9 629.1,1032.8 629.9,1033.3 632.4,1036.4 633.1,1037.1 633.9,1037.5 635.4,1038 636.1,1038.5 639.4,1042.4 640.1,1042.8 641.6,1043.4 642.6,1044.1 645.6,1047.8 648.6,1049.3 651.9,1053.2 654.9,1054.7 658.1,1058.7 661.1,1060.3 661.4,1061.1 664.9,1065.3 667.6,1068.1 670.6,1070.8 673.9,1073.3 677.1,1075.3 680.6,1077.2 684.4,1078.9 690.6,1081.1 697.9,1083 705.9,1084.3 715.4,1085.4 726.1,1086.1 739.1,1086.6 755.6,1086.9 778.4,1087" stroke="#1e6ee1" stroke-width="3.5" fill="none" stroke-linejoin="round"/>
<path d="M572.1 1024.3L604.8 1043.4" stroke="#000" stroke-width="2.0" fill="none"/>
<path d="M616 1050L602.3 1047.7L607.4 1044.9L607.3 1039.1z" fill="#000"/>
<path d="M601.4 1206.7v-67.8h7.9v67.8zM614 1206.7v-60.8h7.9v60.8zM626.5 1206.7v-53.8h7.9v53.8zM639.1 1206.7v-46.9h7.9v46.9zM651.7 1206.7v-39.9h7.9v39.9zM664.2 1206.7v-32.9h7.9v32.9zM676.8 1206.7v-25.9h7.9v25.9zM689.4 1206.7v-19h7.9v19zM702 1206.7v-12h7.9v12zM714.5 1206.7v-5h7.9v5z" fill="#5c5c5c"/>
<polyline points="496.4,1206.7 601.1,1206.7 604.6,1187.7 608.9,1169 610.1,1164.6 612.4,1158.2 614.6,1151 616.1,1147.2 618.6,1142.9 620.9,1138 621.9,1136.2 622.6,1135.3 624.9,1133.2 627.9,1129.1 628.9,1128.4 630.6,1127.9 631.4,1127.6 633.6,1125.5 634.4,1125 635.1,1124.9 636.9,1125.2 637.6,1125.2 639.9,1124 640.6,1123.8 641.4,1123.9 643.1,1124.8 643.9,1125 644.6,1124.9 646.1,1124.4 646.9,1124.4 647.6,1124.7 649.4,1126 650.1,1126.4 650.9,1126.4 652.6,1126.3 653.4,1126.5 656.4,1128.9 657.1,1129.1 658.9,1129.2 659.6,1129.5 662.1,1131.9 662.9,1132.4 665.1,1132.9 665.9,1133.2 668.4,1135.9 669.1,1136.5 671.4,1137.1 672.1,1137.5 675.1,1140.8 675.9,1141.2 677.9,1141.8 678.6,1142.4 680.9,1145.1 681.6,1145.8 682.4,1146.2 683.9,1146.6 684.6,1147.1 687.9,1150.8 690.9,1152.2 694.1,1156 694.9,1156.5 696.6,1157.2 697.4,1157.7 700.4,1161.4 701.1,1161.9 702.6,1162.4 703.4,1162.9 706.6,1166.8 707.4,1167.3 709.6,1168.4 710.4,1169.1 712.9,1172.3 713.6,1172.9 715.9,1173.9 716.6,1174.6 719.1,1177.9 719.9,1178.4 721.6,1179.2 722.4,1179.8 722.6,1180.6 724.9,1183.4 727.4,1186.1 729.9,1188.6 734.1,1192 738.6,1195 742.4,1197 746.4,1198.8 750.6,1200.3 755.4,1201.7 760.4,1202.8 765.9,1203.7 771.9,1204.5 778.4,1205.1" stroke="#1e6ee1" stroke-width="3.5" fill="none" stroke-linejoin="round"/>
<path d="M633.4 1143.9L666.1 1163" stroke="#000" stroke-width="2.0" fill="none"/>
<path d="M677.3 1169.6L663.6 1167.3L668.7 1164.5L668.6 1158.7z" fill="#000"/>
<path d="M562.4 1327.2v-4h7.9v4zM575 1327.2v-11.1h7.9v11.1zM587.5 1327.2v-18.2h7.9v18.2zM600.1 1327.2v-25.3h7.9v25.3zM612.7 1327.2v-32.4h7.9v32.4zM625.2 1327.2v-39.4h7.9v39.4zM637.8 1327.2v-46.5h7.9v46.5zM650.4 1327.2v-53.6h7.9v53.6zM663 1327.2v-60.7h7.9v60.7zM675.5 1327.2v-67.8h7.9v67.8z" fill="#5c5c5c"/>
<polyline points="496.4,1327.2 562.1,1327.2 573.4,1320.9 576.6,1318.7 579.9,1316.9 583.1,1314.6 585.9,1313.3 589.1,1310.8 592.4,1309.3 595.6,1306.7 598.6,1305.4 601.6,1302.9 604.1,1301.9 605.1,1301.4 608.1,1298.8 611.1,1297.7 614.1,1295 614.9,1294.6 616.6,1294.1 617.4,1293.7 620.4,1291 621.1,1290.6 622.9,1290.2 623.6,1289.8 626.6,1287.1 627.4,1286.7 629.9,1285.9 632.9,1283.2 633.6,1282.7 636.1,1281.9 639.1,1279.2 639.9,1278.8 641.9,1278.2 642.6,1277.9 644.9,1275.7 645.9,1275 648.1,1274.3 648.9,1273.9 651.4,1271.6 652.1,1271 654.4,1270.4 655.1,1270 658.4,1267.1 661.4,1266.1 664.4,1263.3 665.1,1262.9 666.9,1262.5 667.6,1262.1 670.1,1259.8 671.1,1259.1 673.9,1258.2 677.1,1255.3 680.1,1254.3 683.4,1251.4 683.9,1253.7 686.1,1261.5 689.6,1272.1 693.1,1281 696.9,1289 700.9,1295.9 705.1,1302 709.6,1307.1 712.1,1309.5 714.6,1311.6 719.9,1315.2 725.4,1318.1 731.6,1320.5 738.6,1322.5 746.4,1324 755.4,1325.2 765.9,1326 778.4,1326.6" stroke="#1e6ee1" stroke-width="3.5" fill="none" stroke-linejoin="round"/>
<path d="M599.1 1290.2L632.2 1271.3" stroke="#000" stroke-width="2.0" fill="none"/>
<path d="M643.5 1264.9L634.7 1275.7L634.8 1269.9L629.7 1267z" fill="#000"/>
<text x="623.6" y="1461" font-size="28.6" font-weight="normal" fill="#000" text-anchor="middle" >Constant activity</text>
<path d="M518.5 1464.4H729" stroke="#000" stroke-width="1.5"/>
<path d="M545.1 1569.1v-52h7.9v52zM557.7 1569.1v-52h7.9v52zM570.2 1569.1v-52h7.9v52zM582.8 1569.1v-52h7.9v52zM595.4 1569.1v-52h7.9v52zM608 1569.1v-52h7.9v52zM620.5 1569.1v-52h7.9v52zM633.1 1569.1v-52h7.9v52zM645.7 1569.1v-52h7.9v52zM658.2 1569.1v-52h7.9v52zM670.8 1569.1v-52h7.9v52zM683.4 1569.1v-52h7.9v52z" fill="#5c5c5c"/>
<polyline points="496.4,1569.1 544.9,1569.1 546.6,1561.7 548.4,1555.2 552.6,1541.9 553.9,1539 556.1,1535.1 559.1,1528.5 560.1,1527.2 562.4,1525 564.6,1521.4 565.6,1520.2 566.4,1519.6 567.9,1519.1 568.6,1518.6 571.1,1515.7 571.9,1515.1 572.6,1514.8 574.1,1514.8 574.9,1514.6 575.6,1514.1 577.4,1512.3 578.1,1511.9 578.9,1511.8 580.4,1512 581.1,1512 581.9,1511.6 583.6,1510.2 584.6,1509.8 586.9,1510.3 587.6,1510.3 588.4,1509.9 589.9,1508.8 590.6,1508.5 591.4,1508.5 593.1,1509.2 593.9,1509.2 594.6,1508.9 596.4,1507.8 597.1,1507.7 597.9,1507.8 599.4,1508.5 600.1,1508.6 600.9,1508.3 602.4,1507.4 603.1,1507.1 603.9,1507.2 605.6,1508 606.4,1508.1 607.1,1507.9 608.9,1506.9 609.6,1506.8 610.4,1507 611.9,1507.7 612.6,1507.9 613.4,1507.7 615.1,1506.7 615.9,1506.6 616.6,1506.8 618.1,1507.5 618.9,1507.7 619.6,1507.5 621.4,1506.6 622.1,1506.4 622.9,1506.6 624.4,1507.4 625.1,1507.6 625.9,1507.5 627.6,1506.5 628.4,1506.4 629.1,1506.5 630.9,1507.4 631.6,1507.5 632.4,1507.3 633.9,1506.5 634.6,1506.3 635.4,1506.4 637.1,1507.4 637.9,1507.5 638.6,1507.3 640.1,1506.4 640.9,1506.3 641.6,1506.4 643.4,1507.3 644.1,1507.4 644.9,1507.3 646.4,1506.4 647.1,1506.2 647.9,1506.4 649.6,1507.3 650.4,1507.4 651.1,1507.3 652.6,1506.4 653.4,1506.2 654.1,1506.3 655.9,1507.3 656.6,1507.4 657.4,1507.3 659.1,1506.3 659.9,1506.2 660.6,1506.4 662.1,1507.2 662.9,1507.4 663.6,1507.3 665.4,1506.3 666.1,1506.2 666.9,1506.4 668.4,1507.2 669.1,1507.4 669.9,1507.3 671.6,1506.4 672.4,1506.2 673.1,1506.4 674.6,1507.2 675.4,1507.4 676.1,1507.3 677.9,1506.4 678.6,1506.2 679.4,1506.4 681.1,1507.3 681.9,1507.4 682.6,1507.2 684.1,1506.4 684.9,1506.2 685.6,1506.3 687.4,1507.3 688.1,1507.4 688.9,1507.2 690.4,1506.4 691.1,1506.2 691.4,1507.7 693.1,1513.4 696.4,1522.7 699.6,1530.4 703.1,1537.3 706.6,1542.9 710.6,1548.2 714.9,1552.6 719.4,1556.3 724.1,1559.3 729.4,1561.8 735.1,1563.8 741.4,1565.4 748.6,1566.6 756.9,1567.5 766.6,1568.2 778.4,1568.6" stroke="#1e6ee1" stroke-width="3.5" fill="none" stroke-linejoin="round"/>
<text x="878.5" y="436.6" font-size="31.5" font-weight="bold" fill="#000" text-anchor="start" >d</text>
<rect x="1080.4" y="418" width="209.9" height="1151" fill="none" stroke="#222" stroke-width="1.2"/>
<path d="M1133 418.0V1569.0M1237 418.0V1569.0" stroke="#fff" stroke-width="2.1" fill="none"/>
<rect x="896" y="539.5" width="27.8" height="163.2" fill="url(#g5)"/>
<text x="890.5" y="546.4" font-size="28.6" font-weight="normal" fill="#000" text-anchor="end" >1</text>
<text transform="translate(885,624) rotate(-90)" font-size="28.6" fill="#000" text-anchor="middle">Fraction</text>
<text transform="translate(890,1192.5) rotate(-90)" font-size="28.6" fill="#000" text-anchor="middle">Unique ROI-phrase pairs</text>
<text x="922.5" y="1439" font-size="28.6" font-weight="normal" fill="#000" text-anchor="end" >250</text>
<text y="1603.6" font-size="28.6"><tspan x="941.5">T</tspan><tspan x="959.2" dy="-3.6" font-size="17" stroke="#000" stroke-width="0.9">→</tspan><tspan x="978.2" dy="3.6">P</tspan><tspan x="999.5" dy="-3.6" font-size="17" stroke="#000" stroke-width="0.9">→</tspan><tspan x="1011" dy="3.6">T</tspan></text>
<text x="1185.2" y="1610.4" font-size="28.6" font-weight="normal" fill="#000" text-anchor="middle" >Normalized time</text>
<rect x="1303.6" y="1222.8" width="27.2" height="346" fill="url(#g6)" stroke="#222" stroke-width="1.3"/>
<text x="1341" y="1234.5" font-size="28.6" font-weight="normal" fill="#000" text-anchor="start" >1</text>
<text transform="translate(1357,1395) rotate(-90)" font-size="28.6" fill="#000" text-anchor="middle">Fraction</text>
<text x="1440.3" y="436.6" font-size="31.5" font-weight="bold" fill="#000" text-anchor="start" >e</text>
<rect x="1480" y="418" width="210.7" height="1151.6" fill="none" stroke="#111" stroke-width="1.2"/>
<path d="M1518.4 418.0V1569.6" stroke="#fff" stroke-width="2"/>
<rect x="1736.2" y="418" width="246.2" height="1151.6" fill="none" stroke="#111" stroke-width="1.2"/>
<path d="M1905.5 418.0V1569.6" stroke="#fff" stroke-width="2"/>
<rect x="1517.8" y="1575.6" width="77.8" height="5.6" fill="#000"/>
<text x="1557.4" y="1606" font-size="28.6" font-weight="normal" fill="#000" text-anchor="middle" >1 Sec</text>
<rect x="2004.6" y="1222" width="28" height="347.4" fill="url(#g9)" stroke="#111" stroke-width="1.3"/>
<text x="2043.5" y="1259.8" font-size="28.6" font-weight="normal" fill="#000" text-anchor="start" >1</text>
<text transform="translate(2059.5,1396) rotate(-90)" font-size="28.6" fill="#000" text-anchor="middle">Norm signal.</text>
</svg>
</body></html>
